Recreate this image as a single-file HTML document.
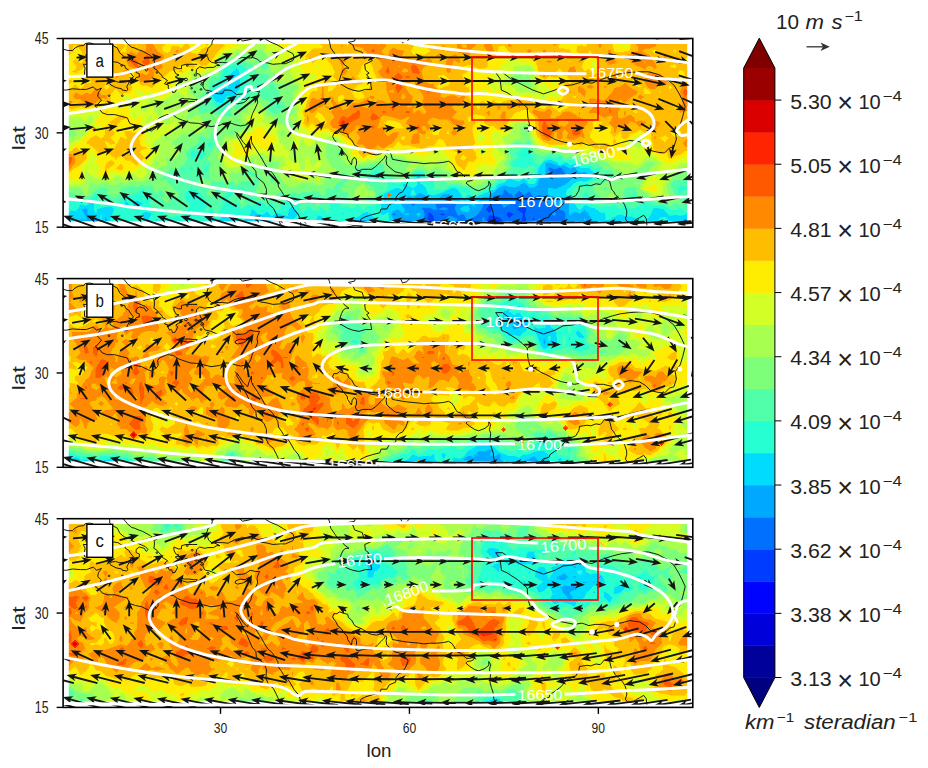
<!DOCTYPE html>
<html><head><meta charset="utf-8"><style>
html,body{margin:0;padding:0;background:#fff;}
body{width:928px;height:768px;overflow:hidden;}
svg text{font-family:"Liberation Sans", sans-serif;}
</style></head><body>
<svg width="928" height="768" viewBox="0 0 928 768" style="display:block">
<svg x="63.1" y="38.5" width="629.70" height="188.7" viewBox="63.1 38.5 629.70 188.7" overflow="hidden">
<g shape-rendering="crispEdges">
<clipPath id="dc0"><rect x="68.8" y="44.0" width="618.4" height="177.2"/></clipPath>
<g clip-path="url(#dc0)">
<rect x="68.8" y="44.0" width="618.4" height="177.2" fill="#ffbd00"/>
<path d="M494 224.5l2 0-2-4.5-2.5 4.5z" fill="#0004ff" stroke="#0004ff" stroke-width="0.6"/>
<path d="M428.5 220.5l3.5 4 6.5 0-4-5-1-3.5-2-2-3-2-1.5 7.5zM489 224.5l2.5 0 2.5-4.5 2 4.5 6.5 0-0.5-5-3-2.5-10-2.5-2.5 5 0 5zM509 224.5l1.5 0-1.5-4-3.5 4zM524 224.5l2.5-5-1.5-5.5 2-5-3-2-5 1-3 1 7 5-2 5.5 2.5 5zM534 220.5l1-1-1-2.5-2 2.5zM443.5 216l1.5-2-1.5-1-4.5 1zM509 218.5l4.5-4.5-4.5-2.5-3 2.5zM489 213.5l4-4.5-4-4-3 4zM549 210l1-1-1-0.5-1.5 0.5zM529 205l0.5-1 0.5-5-1-1-1 1 0.5 5zM519 200.5l2.5-1.5-2.5-2-1.5 2z" fill="#003cff" stroke="#003cff" stroke-width="0.6"/>
<path d="M86 224.5l2.5 0-2.5-2-3 2zM96 224.5l2 0-2-5-2.5 5zM418.5 224.5l13.5 0-5-5 1.5-7.5 3 2 2 2 1 3.5 4 5 2.5 0 2.5-4 5-4.5 5 1.5 3 2 0.5 5 29.5 0 0-5 2.5-5 10 2.5 3 2.5 0.5 5 3 0 3.5-4 1.5 4 13 0-2.5-5 2-5.5-7-5 3-1 5-1 3 2-2 5 1.5 5.5-2 5 39 0 2-5 0-5.5-1-2-5-3-5-8-5.5 4-1.5-1-1-5-2.5-3-5-1.5-5 2.5-5-6-5 3.5-5-4-4 3.5-1 4-2-4-3-1-5-4.5-1.5 5.5-3.5 1-5 0-2 4-3 3-5.5 1-2 6-3 3-0.5 2-8 5.5-1.5 1.5-1.5-1.5-3-5.5-3.5 0-2 1.5-3.5-6.5 1.5-5-8-6-5 2-5 3.5-3.5 0.5 2 5-3.5 0.5-5-2.5-5 0-2.5 2 2.5 1.5 1 3.5-1 4-5 3.5-2.5 3zM482.5 219.5l1-2.5 1 2.5-1 2.5zM532 219.5l2-2.5 1 2.5-1 1zM538.5 219.5l0.5-2 1 2-1 1zM439 214l4.5-1 1.5 1-1.5 2zM506 214l3-2.5 4.5 2.5-4.5 4.5zM552 214l2.5-3.5 1.5 3.5-1.5 2zM439 209l4.5-1.5 4 1.5-4 1zM486 209l3-4 4 4-4 4.5zM547.5 209l1.5-0.5 1 0.5-1 1zM501.5 204l2.5-3 5.5 3-5.5 3.5zM518 204l5 0-4 0.5zM528.5 204l-0.5-5 1-1 1 1-0.5 5-0.5 1zM517.5 199l1.5-2 2.5 2-2.5 1.5zM393 216l3.5-2-3.5-1-1 1zM413 206l3-2-3-4-3 4zM554.5 178l10-2 1.5-2.5-4-5-2.5-1.5-5 2-5.5-2.5-1 2 3 5z" fill="#0070ff" stroke="#0070ff" stroke-width="0.6"/>
<path d="M70.5 224.5l2 0-2-2.5-5 2 0 0.5zM80.5 224.5l2.5 0 3-2 2.5 2 5 0 2.5-5 2 5 3.5 0-5.5-8-5 0-3-2.5-0.5-5-1.5-1-4.5 1 5 10.5-6-0.5-1 5.5zM106 221l1.5-1.5-1.5-3-2 3zM227 224.5l2 0-2-4-3.5 4zM242 224.5l2 0-2-1-2.5 1zM252 224.5l6.5 0 0-5-1.5-1-6 6zM277 222.5l3-3-3-4-3.5 4zM353 224.5l16.5 0-1.5-4-5-1-5 0-5.5 5zM398 224.5l18 0 2.5-3 5-3.5 1-4-1-3.5-2.5-1.5 2.5-2 5 0 5 2.5 3.5-0.5-2-5 3.5-0.5 5-3.5 5-2 8 6-1.5 5 3.5 6.5 2-1.5 3.5 0 3 5.5 1.5 1.5 1.5-1.5 8-5.5 0.5-2 3-3 2-6 5.5-1 3-3 2-4 5 0 3.5-1 1.5-5.5 5 4.5 3 1 2 4 1-4 4-3.5 5 4 5-3.5 5 6 5-2.5 5 1.5 2.5 3 1 5 1.5 1 5.5-4 5 8 5 3 1 2 0 5.5-2 5 40 0-9-2-5-8-5-6-5 5.5-5-3-5 4-0.5-11-4.5-5.5-5-2.5-5 0.5-5.5-1.5-0.5-1-0.5-5.5 1-0.5 5.5 1.5 10-4.5 10-8 5.5 1.5 4.5-2 2.5-3-2.5-2-5 1-3-4-2-1.5-5 1.5 0 1-0.5-1-4.5-3.5-5 1-10.5-4-4 1 0.5 10.5-1.5 1.5-5 4-1.5 4.5-3.5 3.5-5 0-5-5-5 3.5-5 1.5-5-0.5-5-1.5-5 2.5-5 4.5-4.5 2-0.5 2.5-5.5 0-3.5 2.5-4 5-2.5 2-4-2-1-1.5-5-0.5-10-4-5-4.5-6 0.5-4 3.5-5 2-5-1-5-4-5-2-0.5 1.5-5 3.5-5-2.5-2 4-5.5 5 4 5-1.5 4.5-5-4.5-5 1.5-2.5 3.5 2.5 5 1 0.5 2.5 5zM584 219.5l0.5-1.5 1 1.5-1 0.5zM392 214l1-1 3.5 1-3.5 2zM404 214l4-0.5 1 0.5-1 1zM416.5 214l2-1.5 2 1.5-2 2.5zM460 209l3.5-2.5 5-1 1.5 3.5-1.5 2-5 0.5zM410 204l3-4 3 4-3 2zM558.5 204l1-3.5 3.5 3.5-3.5 1.5zM551 173.5l-3-5 1-2 5.5 2.5 5-2 2.5 1.5 4 5-1.5 2.5-10 2zM443.5 224l5-2.5 4 3 4.5 0-0.5-5-3-2-5-1.5-5 4.5-2.5 4 2 0zM483.5 222l1-2.5-1-2.5-1 2.5zM539 220.5l1-1-1-2-0.5 2zM609.5 224.5l13.5 0-3-2-5.5 1.5-5-1-4 1.5zM655 224.5l6.5 0-6.5-1.5-0.5 1.5zM680 224.5l10.5 0 0-2-5.5-3.5-5 2.5-2 3zM554.5 216l1.5-2-1.5-3.5-2.5 3.5zM443.5 210l4-1-4-1.5-4.5 1.5zM393 205l1-1-1-1-1 1zM504 207.5l5.5-3.5-5.5-3-2.5 3zM519 204.5l4-0.5-5 0zM458.5 196l0-2-1 0zM222 95.5l2.5-3.5-2.5-1.5-4 1.5zM237 87.5l0.5-0.5-0.5-5.5-2.5 5.5z" fill="#00a8ff" stroke="#00a8ff" stroke-width="0.6"/>
<path d="M70.5 222l2 2.5 2.5 0 0.5-3.5 1 3.5 3 0 1-5.5 6 0.5-5-10.5 4.5-1 1.5 1 0.5 5 3 2.5 5 0 5.5 8 15 0-5.5-4-0.5-1 4-10.5-3.5-3-10 1.5-4 1.5-1 3.5-2-3.5 0.5-5-3.5-2.5-2.5 2.5-2.5 1.5-6-1.5-2 5-2.5 2-5-1-2 4 2 5.5-5 1 0 3.5zM100.5 219.5l0.5-4.5 0 4.5zM104 219.5l2-3 1.5 3-1.5 1.5zM146 224l6-10-0.5-1-5.5-1.5-5 2.5 3.5 5.5zM156.5 221.5l1-2-1-1-1.5 1zM161.5 224.5l9 0-4-2-6.5 2zM206.5 224.5l3 0-3-1.5-0.5 1.5zM211.5 220l1.5 4.5 10.5 0 3.5-4 2 4 10.5 0 2.5-1 2 1 7 0 6-6 1.5 1 0 5 37 0-2.5-5 4.5-4.5 1.5-1-6.5-8-3.5 3-1.5 6.5-5.5-1-5-2-5 3.5-5-4.5-5 3-2-0.5-3-1-3.5-4-1.5 0-0.5 0-1.5 5-5.5 5.5-2.5 1.5-5-3-4 1.5-1 2.5-0.5-2.5-4.5-3-5 0.5-5.5 2.5-5-1 0 1zM273.5 219.5l3.5-4 3 4-3 3zM317.5 221.5l4.5 3 1 0 4-5-9.5-4.5-1.5 4.5zM347.5 221l1.5 3.5 3.5 0 5.5-5 5 0 5 1 1.5 4 2.5 0 3.5-5-7.5-8-5 1.5-5 3.5-5 2-5.5 0-1 1zM388 224.5l8.5 0-2.5-5-1-0.5-2.5-5 2.5-3.5 5-1.5 5 4.5 1.5-4.5-4-5 5.5-5 2-4 5 2.5 5-3.5 0.5-1.5 5 2 5 4 5 1 5-2 4-3.5 6-0.5 5 4.5 10 4 5 0.5 1 1.5 4 2 2.5-2 4-5 3.5-2.5 5.5 0 0.5-2.5 4.5-2 5-4.5 5-2.5 5 1.5 5 0.5 5-1.5 5-3.5 5 5 5 0 3.5-3.5 1.5-4.5 5-4 1.5-1.5-0.5-10.5 4-1 10.5 4 5-1 4.5 3.5 0.5 1 0-1 5-1.5 2 1.5 3 4 5-1 2.5 2-2.5 3-4.5 2-5.5-1.5-10 8-10 4.5-5.5-1.5-1 0.5 0.5 5.5 0.5 1 5.5 1.5 5-0.5 5 2.5 4.5 5.5 0.5 11 5-4 5 3 5-5.5 5 6 5 8 9 2 6-1.5 5 1 5.5-1.5 3 2 14 0-1-5-1-2-5-1.5-5 0-5-2-5.5 2-5 3.5-3.5 0-0.5-5.5-1-1.5-5-0.5-5-4-5-1-5-2.5-5 5-1-0.5-3.5-5-5.5-5.5-3.5-4.5 1.5-5.5 2 0 5-5.5 5-2 5 1 7-3.5 3-3 0.5-2-5.5-6-10 0-5-4-5 1.5-2-2-3-1-5 2.5-5-3.5-5.5-2-5 2-6 7.5-1.5 10-2.5 5-5 0-3.5-5-1.5-1-5 4-10-3.5-5 4.5-5 1-5 6-5 1.5-15.5 6.5-5-3-5 4-5-8.5-5-2.5-5 1-5 3-10 3.5-5-1-2-5.5-3-3.5-3-1.5 0.5-5-2.5-5.5-3 5.5 2 5-4.5 4.5-10-5-0.5 0.5 1.5 5-1 1.5-5-2.5-4 1-11 5.5 1 5-3 5-0.5 5 0.5 5 2 1.5 5-3 1 7-2.5 5zM392 204l1-1 1 1-1 1zM410.5 194l2.5-5 2.5 5-2.5 1.5zM457.5 194l1 0 0 2zM443.5 224.5l9 0-4-3-5.5 3zM584.5 220l1-0.5-1-1.5-0.5 1.5zM650 223.5l0.5 1 4 0 0.5-1.5 6.5 1.5 16.5 0 2-3 5-2.5 5.5 3.5 0-10.5-5.5 2.5-5 1-5-1-5 1-7-6.5-8-1.5-2.5 1.5-1.5 5-4.5 5.5zM659 219.5l1-1.5 5-1 2.5 2.5-2.5 1.5-5-1zM342.5 215l1-1-1-2-1 2zM408 215l1-1-1-0.5-4 0.5zM418.5 216.5l2-2.5-2-1.5-2 1.5zM136 209.5l6.5-5.5-1.5-2-5-2-3.5 4 0.5 5zM463.5 211.5l5-0.5 1.5-2-1.5-3.5-5 1-3.5 2.5zM70.5 206.5l1.5-2.5-2 0zM126 208.5l3.5-4.5-3.5-3.5-2.5 3.5zM559.5 205.5l3.5-1.5-3.5-3.5-1 3.5zM196.5 196l1.5-2-1.5-1.5-1.5 1.5zM216.5 102.5l5.5 1 2-1.5 3-6 5 1.5 2.5-0.5 6-10-1-15.5-2.5-3.5-10 8.5 1.5 5-0.5 5.5-1 1-5-2-5.5 3-5 1.5-0.5 1.5 0.5 2.5 5 7.5zM218 92l4-1.5 2.5 1.5-2.5 3.5zM234.5 87l2.5-5.5 0.5 5.5-0.5 0.5zM242 98l1-1-1-2-3.5 2z" fill="#00dcfe" stroke="#00dcfe" stroke-width="0.6"/>
<path d="M70.5 219.5l-2-5.5 2-4 5 1 2.5-2 2-5 6 1.5 2.5-1.5 2.5-2.5 3.5 2.5-0.5 5 2 3.5 1-3.5 4-1.5 10-1.5 3.5 3-4 10.5 0.5 1 5.5 4 8.5 0 1-0.5 0.5 0.5 9.5 0 0-1 0.5 1 23.5 0 6.5-2 4 2 21 0 5-2.5 5 1.5 0.5 1 4 0 0.5-1.5 3 1.5 3.5 0-1.5-6 5 1 5.5-2.5 5-0.5 4.5 3 0.5 2.5 1-2.5 4-1.5 5 3 2.5-1.5 5.5-5.5 1.5-5 0.5 0 1.5 0 3.5 4 3 1 2 0.5 5-3 5 4.5 5-3.5 5 2 5.5 1 1.5-6.5 3.5-3 6.5 8-1.5 1-4.5 4.5 2.5 5 26.5 0-4.5-3-1.5-2 1.5-4.5 9.5 4.5-4 5 13.5 0 1-2 1.5 2 10 0-2.5-5 1-1 5.5 0 5-2 5-3.5 5-1.5 7.5 8-3.5 5 14.5 0 2.5-5-1-7-5 3-2-1.5-0.5-5 0.5-5 3-5-1-5 11-5.5 4-1 5 2.5 1-1.5-1.5-5 0.5-0.5 10 5 4.5-4.5-2-5 3-5.5 2.5 5.5-0.5 5 3 1.5 3 3.5 2 5.5 5 1 10-3.5 5-3 5-1 5 2.5 5 8.5 5-4 5 3 15.5-6.5 5-1.5 5-6 5-1 5-4.5 10 3.5 5-4 1.5 1 3.5 5 5 0 2.5-5 1.5-10 6-7.5 5-2 5.5 2 5 3.5 5-2.5 3 1 2 2 5-1.5 5 4 10 0 5.5 6-0.5 2-3 3-7 3.5-5-1-5 2-5 5.5-2 0-1.5 5.5 13.5 15.5 5-5 5 2.5 5 1 5 4 5 0.5 1 1.5 0.5 5.5 3.5 0 5-3.5 5.5-2 5 2 5 0 5 1.5 1 2 1 5 13.5 0-4-5 4.5-5.5 1.5-5 2.5-1.5 8 1.5 7 6.5 5-1 5 1 5-1 5.5-2.5 0-4-5.5 3-5-3.5-5 2.5-5-1-5-3.5-15-1.5-5-2.5-10 6.5-5 0-5-4-5 5-5.5-5-5 2.5-5-1-5 1.5-7-3-1-5-3-5-4-2.5-5 11-2-3.5-3-1.5-3.5-3.5 2.5-5.5 6-4.5 5 3 5 2-1-5.5 9.5-5 0.5-5 3-5-2-2-5 2-5-3.5-5 0.5-5-0.5-5-4.5-5-1-5 1-5-4.5-5 2-5.5-2-5 3-5 6-3.5-2-6.5-14.5-5-1.5-8.5 6 3 5-4.5 1.5-3 3.5 3 4.5 5-0.5 5 2.5 5-3.5 5 0 0.5 2.5-0.5 6.5-0.5-1.5-4.5-2-1 2-4 2-5-0.5-5-3.5-2 2-3 1-2.5 4-2.5 2-5-1-5 7.5-5-1.5-1.5 3-14 6.5-1.5-1-2.5-5.5-16-3-5 0.5-5 3.5-10-0.5-0.5-5.5 2-5-1.5-1-5 1-5-6-5-1.5-5.5 2.5-1.5 5-3.5 3-5 0-5 2.5-5-2.5-5 0-1 2 0.5 5-8 5.5-3.5 5-0.5 5-2.5 1.5-5 0-4 3.5-2 0-4-5-5 4.5-5.5-2-5-0.5-3-2 3-3.5 1-1.5-1-1-5-0.5-5 2-5-1-0.5 0.5 3 5-0.5 5-2 4-5-7.5-5 5-5-0.5-5-4.5-5 7-3.5-3.5 1.5-5-0.5-5-2.5-0.5-5-2.5-3.5 3-8.5 5-0.5 5-3 1-4-1 0.5-5-1.5-1-5 4-2-3-3-2-5-0.5-1.5 2.5-3.5 2-5-2-5 5-4.5-5-0.5-1.5-5 0-4.5-3.5 4.5-5 5 0.5 0-0.5-5-9.5-1.5 4-8.5 10-1.5 0.5 4 5-2.5 0.5-4.5 9.5-1 1-1-1-4-7-5 5-2-3 5-5-5-5-3.5-5-4.5-4-3.5-1.5-1.5-5-1.5 5-6 5.5 0.5 5 2 2.5 3.5 2.5-3.5 6.5-5 5-5 0-5 1-5-0.5-5-6-2.5-1-2.5-2.5-5 0-2-2.5 2-5 0-6-5.5 5-2.5-4 1-5.5-3.5 0-5.5 5.5-4.5 1.5-5-1.5-5 3-5 7.5-5-5.5-5-1.5-1.5 1.5-1 5-2.5 1-2-1-1.5-10-1.5-1-5 4.5-3.5 1.5-1.5 1.5-5.5-2.5-5 3-5 1-5-1.5 0 5 3 3.5-3 3.5 0 8zM120.5 219.5l0.5-2 0.5 2-0.5 0.5zM144.5 219.5l-3.5-5.5 5-2.5 5.5 1.5 0.5 1-6 10zM155 219.5l1.5-1 1 1-1 2zM296 219.5l1.5-1.5 2 1.5-2 1.5zM156 214l0.5-2 0.5 2-0.5 0.5zM341.5 214l1-2 1 2-1 1zM133 209l-0.5-5 3.5-4 5 2 1.5 2-6.5 5.5zM70 204l2 0-1.5 2.5zM123.5 204l2.5-3.5 3.5 3.5-3.5 4.5zM195 194l1.5-1.5 1.5 1.5-1.5 2zM462.5 194l1-2 2 2-2 1.5zM75.5 224.5l1 0-1-3.5-0.5 3.5zM101 219.5l0-4.5-0.5 4.5zM660 220l5 1 2.5-1.5-2.5-2.5-5 1-1 1.5zM252 200.5l2.5-1.5-2.5-2.5-2.5 2.5zM635 202l1-3-0.5-5-0.5-1.5-1 1.5-0.5 5zM413 195.5l2.5-1.5-2.5-5-2.5 5zM680 195l5-5.5 5.5 2 0-6-5.5 1-5-2-2.5 4 1.5 5.5zM242 190l2-1.5-2-1.5-2.5 1.5zM181.5 186l1.5-2.5-1.5-1-0.5 1zM368 180l5 0 1.5-1.5 3.5-1 3.5-4-3.5-4-5 0-2 4-4.5 5zM186.5 175l1-1.5-1-2-0.5 2zM181.5 170l3-1.5-3-1-1 1zM191.5 171l2-2.5-2-2.5-3.5 2.5zM206.5 172l1-3.5-1-4.5-1.5 4.5zM191.5 160l5-5 5 4.5 5-6.5-10-2.5-5-0.5-1.5 3 0 5zM211.5 148l1-5-1-1-5.5 1 5 5zM529 146.5l0.5-3.5-0.5-1-1 1zM222 113l5-1 0.5-5 2-5 2.5-1 5 2 5-2 4.5-4 3.5-5 1-5-2.5-5.5 0-5 2-5-8.5-7-5-0.5-5 0.5-4.5 2-5.5 4-0.5 6-5 7-5 0-5 13.5 5 3 1.5 2 2 5 1.5 2 5.5-2.5 2.5 0.5-2.5 2-2 3zM216.5 102l-5-7.5-0.5-2.5 0.5-1.5 5-1.5 5.5-3 5 2 1-1 0.5-5.5-1.5-5 10-8.5 2.5 3.5 1 15.5-6 10-2.5 0.5-5-1.5-3 6-2 1.5-5.5-1zM238.5 97l3.5-2 1 2-1 1zM277 108.5l5-1.5-5-1-1 1zM267 97.5l1.5-0.5-1.5-1-1 1zM257 89l5-0.5 2-1.5-2-3.5-5 0.5-2.5 3z" fill="#26ffd1" stroke="#26ffd1" stroke-width="0.6"/>
<path d="M121 220l0.5-0.5-0.5-2-0.5 2zM191.5 224.5l10.5 0-0.5-1-5-1.5-5 2.5zM297.5 221l2-1.5-2-1.5-1.5 1.5zM337.5 224.5l1.5 0-1.5-2-1 2zM156.5 214.5l0.5-0.5-0.5-2-0.5 2zM166.5 216l5 0.5 5-1 5 0 5-5 3.5-6.5-3.5-2.5-2-2.5-0.5-5 6-5.5 1.5-5 1.5 5 3.5 1.5 4.5 4 3.5 5 5 5-5 5 2 3 5-5 4 7 1 1 1-1 4.5-9.5 2.5-0.5-4-5 1.5-0.5 8.5-10 1.5-4 5 9.5 0 0.5-5-0.5-4.5 5 4.5 3.5 5 0 0.5 1.5 4.5 5 5-5 5 2 3.5-2 1.5-2.5 5 0.5 3 2 2 3 5-4 1.5 1-0.5 5 4 1 3-1 0.5-5 8.5-5 3.5-3 5 2.5 2.5 0.5 0.5 5-1.5 5 3.5 3.5 5-7 5 4.5 5 0.5 5-5 5 7.5 2-4 0.5-5-3-5 0.5-0.5 5 1 5-2 5 0.5 1 1-1 1.5-3 3.5 3 2 5 0.5 5.5 2 5-4.5 4 5 2 0 4-3.5 5 0 2.5-1.5 0.5-5 3.5-5 8-5.5-0.5-5 1-2 5 0 5 2.5 5-2.5 5 0 3.5-3 1.5-5 5.5-2.5 5 1.5 5 6 5-1 1.5 1-2 5 0.5 5.5 10 0.5 5-3.5 5-0.5 16 3 2.5 5.5 1.5 1 14-6.5 1.5-3 5 1.5 5-7.5 5 1 2.5-2 2.5-4 3-1 2-2 5 3.5 5 0.5 4-2 1-2 4.5 2 0.5 1.5 0.5-6.5-0.5-2.5-5 0-5 3.5-5-2.5-5 0.5-3-4.5 3-3.5 4.5-1.5-3-5 8.5-6 5 1.5 6.5 14.5 3.5 2 5-6 5-3 5.5 2 5-2 5 4.5 5-1 5 1 5 4.5 5 0.5 5-0.5 5 3.5 5-2 2 2-3 5-0.5 5-9.5 5 1 5.5-5-2-5-3-6 4.5-2.5 5.5 3.5 3.5 3 1.5 2 3.5 5-11 4 2.5 3 5 1 5 7 3 5-1.5 5 1 5-2.5 5.5 5 5-5 5 4 5 0 10-6.5 5 2.5 15 1.5 5 3.5 5 1 5-2.5 5 3.5 5.5-3 0-8-1.5-1 1.5-1 0-6.5-5.5-2-5 5.5-1-1-1.5-5.5 2.5-4 5 2 5.5-1 0-4-5.5-2.5-5 0.5-5 0-5 4 4.5 10.5 5 5 1.5 5-1 0.5-5-2.5-5 4-5-3.5-10-0.5-5-1.5-4-1.5-1-2.5-5 2.5-3.5-10.5-1.5-1.5-5-0.5-5 1.5-1 0.5 0 5.5-4 10-5.5-3.5-5 2-5-1-8-7.5-3-5.5 1-5 5 2 5-4 5-0.5 2.5-2.5 2-5-4.5-4-5 0.5-5-6.5-10-1.5-6 1-4-1.5-3-3.5-7-2-5 2.5-5-5-5 0.5-5.5-1-5 2.5-5 0.5-5-5-1.5-3-1-5-2.5-3.5-5 4-5-2-5 1-0.5 0.5 1.5 5-1 0.5-5-1 0 2.5 2 8-3 5 2.5 5.5-6.5 5 0 5-5-2-5 2 0 5-5-2.5-3 2.5-2.5 5-5 1.5-10-4-5-0.5-5-2.5-10 0-5-2-10-9.5-5 3-5-4.5-5-1-5.5 2-2.5 2.5-2.5 3.5-2 1.5-3 1-4-1-11-3.5-1.5-1.5-2-5-1.5-5.5-15 4-10 0-2.5 1.5-0.5 10 3 3.5 5-3.5 5 6 5.5 4 3 5.5-3.5 4.5-5 0.5-5 4-10-3.5-5.5 2-1-2.5 2.5-5-1.5-3-5 0-1-2.5 2-5 7.5-5-3.5-4.5-5-1.5-1 1 1 4 0 2-5 2.5-5 7.5-5-2-2 1 0 5.5-3 2-5-5-5-1-5 2-5-0.5-5 2-5-2-5 4-3.5-1.5-2-4-7.5 4 2.5 2 5-0.5 2 3.5-7 2.5-5.5-2.5-4.5-4-3.5 4-1.5 0.5-1.5-0.5-4-5 0.5-7.5 3.5-8-4.5-5-4-2-10 1-1.5 1 1.5 2.5 5-1.5 5 2 3 2-3 2-10 0.5-5 3.5-5-3.5-4.5 2.5-0.5 3-1-3-4-2.5-5.5 1-5-2.5-1.5 4-3.5 2.5-5 0.5-5-2.5 0-1 5-5.5 5 2 3.5-1 0-10 1.5-4.5 2.5-1-2.5-0.5-5.5-4.5 5.5-5.5 3.5-4.5 1.5-6.5 3-4-3-1.5-5-4.5-1 1-0.5 5-3.5 1.5-5-3.5-2.5 2-1.5 5.5-6 3-6.5 7 2 5-2.5 5-7 5.5-1 1.5-3.5-1.5-1.5-2-6 7-5.5 5 1.5 2 5-0.5 1.5 3.5 11 10.5-2.5 4-5-7-5 3 2.5 5-2.5 4-4-4 2.5-5-3.5-4.5-5 4.5-2.5-5.5-2.5-2.5-10.5-1.5-5 3-5-2.5-8.5 3.5-6.5 8.5-5-1-4-2 2-5.5-8-1.5-5 3-5 5-5 2-5.5-2-5-0.5-5-2.5-5 0 0 8.5 5 1.5 5-1 5-3 5.5 2.5 1.5-1.5 3.5-1.5 5-4.5 1.5 1 1.5 10 2 1 2.5-1 1-5 1.5-1.5 5 1.5 5 5.5 5-7.5 5-3 5 1.5 5-2 5-5 3.5 0-1 5.5 2.5 4 5.5-5 0 6-2 5 2 2.5 5 0 2.5 2.5 2.5 1 3 4zM171 209l0.5-2 0.5 2-0.5 1zM240.5 204l0.5-5 1-3 1 3 0.5 5-1.5 1.5zM315.5 204l1-5 1-1 1.5 1 1 5-2.5 2.5zM68.5 199l2-3.5 3 3.5-3 1zM249.5 199l2.5-2.5 2.5 2.5-2.5 1.5zM627.5 199l2.5-3 1 3-1 1.5zM633.5 199l0.5-5 1-1.5 0.5 1.5 0.5 5-1 3zM206.5 194l5-7 3.5 7-3.5 2zM219.5 194l2.5-1.5 0.5 1.5-0.5 1zM336.5 194l1-1.5 2.5 1.5-2.5 0.5zM239.5 188.5l2.5-1.5 2 1.5-2 1.5zM174.5 183.5l2-5 1 5-1 2zM181 183.5l0.5-1 1.5 1-1.5 2.5zM366.5 178.5l4.5-5 2-4 5 0 3.5 4-3.5 4-3.5 1-1.5 1.5-5 0zM186 173.5l0.5-2 1 2-1 1.5zM367 173.5l1-2 0 2.5zM180.5 168.5l1-1 3 1-3 1.5zM188 168.5l3.5-2.5 2 2.5-2 2.5zM205 168.5l1.5-4.5 1 4.5-1 3.5zM201 163l0.5-0.5 1 0.5-1 2zM190 158l0-5 1.5-3 5 0.5 10 2.5-5 6.5-5-4.5-5 5zM211 148l-5-5 5.5-1 1 1-1 5zM528 143l1-1 0.5 1-0.5 3.5zM68.5 209l-3-3.5 0 7zM463.5 195.5l2-1.5-2-2-1 2zM604.5 190.5l3-2-3-1.5-1 1.5zM272 184l1.5-5.5-1.5-1-3 1 3 5zM620 184.5l1-1-1-1.5-1.5 1.5zM267 175l0.5-1.5-0.5-1.5-1 1.5zM337.5 154.5l2-1.5-2-1.5-1 1.5zM186.5 139l1-1.5-1 0-2.5 0zM232 134.5l2.5-2-2.5-3-3 3zM216.5 125l3.5-2.5-3.5-2-2.5 2zM232 117.5l-0.5-10.5 0.5-0.5 5 3 5-3.5 2-4 3-2.5 5-0.5 5-1.5 10 2.5 2.5 2-3.5 5 1 2.5 5 3.5 5 1.5 5-3 4.5-4.5-3-5-1.5-0.5-3.5-4.5 1.5-5-7.5-10.5-0.5-1-5 6.5 0 0.5-1-6 1-3 3-2-3-2.5-5-0.5-5-1.5-0.5-0.5-1.5-5-3-2.5-9-2.5 4-2 1-3.5-1-0.5-3 0.5-2 4.5-5-1.5-5 3-5-2-5 1.5 0.5 5-3 5-3 4.5-5 0.5-3.5 5 0 5.5-1.5 2.5-7.5 7.5 2.5 4 2 1-5.5 5 1 5 2.5 2.5 5-4 4 1.5 1 2 20.5 3.5zM220 112l2-3 2.5-2-2.5-0.5-5.5 2.5-1.5-2-2-5-1.5-2-5-3 5-13.5 5 0 5-7 0.5-6 5.5-4 4.5-2 5-0.5 5 0.5 8.5 7-2 5 0 5 2.5 5.5-1 5-3.5 5-4.5 4-5 2-5-2-2.5 1-2 5-0.5 5-5 1zM276 107l1-1 5 1-5 1.5zM266 97l1-1 1.5 1-1.5 0.5zM254.5 87l2.5-3 5-0.5 2 3.5-2 1.5-5 0.5zM519 83l5-1.5-5-3-1.5 3zM262 69l5 0.5 1-3-1-3-5 0.5-1.5 2.5zM257 63l2-1.5-2-2.5-1.5 2.5z" fill="#50ffa7" stroke="#50ffa7" stroke-width="0.6"/>
<path d="M171.5 210l0.5-1-0.5-2-0.5 2zM242 205.5l1.5-1.5-0.5-5-1-3-1 3-0.5 5zM317.5 206.5l2.5-2.5-1-5-1.5-1-1 1-1 5zM670 206l5-4 5 2.5 1-0.5-1.5-5-5-5-4.5-10.5 5-4 5 0 5-0.5 5.5 2.5 0-14-5.5-1-10 5.5-1.5 1.5-2 5-5 5 2 10.5 1.5 4.5 5.5 0.5-10.5 0.5-5-1-5 1-5-2.5-2.5-3-7.5-5.5 0-5 2.5-5 2.5-3 2-2 3-4.5 6.5-6-6.5-2-5 1.5-5 5-5 2.5-5.5 3.5-4.5 4.5-2-4.5-3-4.5-5.5-0.5-6-5.5-4-2-10-1.5-5-2.5-5 3-5-3.5-5-1.5-5-2-5 0.5-10-4.5-5.5 2-5 1-5-2.5-5-4.5-5.5-12.5 0.5-5-5-3.5-4 3.5 0 5 1 5-7 2.5-3.5 3-4 5-0.5 5 1.5 5-5 5 4.5 5.5-3 2.5-16.5 7.5-4 3-10 4.5-5-2-5-0.5-5-3-8.5-2 0.5-5-2-1.5-5-0.5-5-5-5 0-5 4-3-2-2-4-5 0-4 4-6.5 4-2.5-4 2.5-2 2.5-3.5-7.5-5-5 0-5-2-5-0.5-0.5 2.5-4.5 2.5-5 0-5 2-5-0.5-5 2.5-5-0.5-5 2.5-5.5-2-7.5-6.5 2.5-1 3.5-4-6-5-2.5-6-5-2-4 3-3.5 5 0 5 1 5 1.5 1.5 5 8.5 3.5 0.5-0.5 5-3 3.5-5-7.5-3 4 0.5 5-2 5-0.5 0.5-5 1-4-1.5-1-1-10-0.5-10 4.5-5-0.5-3-2.5-2.5-5-4-5 0-5 2-5.5-8-3-5 1.5-3.5 1.5 0.5 5.5-2 1.5-5-4.5-4-2.5 0-5-1 0-1.5 5-3.5 2-10 8-5-1.5-3 2 1 5-3 1.5-3-1.5-2-5-0.5-10.5-3.5-5 1-5 3-5-0.5-5 5.5-8.5 5 2 7-4 3-3 5-0.5 1.5-1.5-1.5-2-4.5-3-1-5 0.5-5.5 5 1.5 1-1.5 0.5-5 8.5-4.5 5 2 5 11.5 6.5 1.5 0 5 3.5 2 5-0.5 4.5 3.5 1 1.5 5 0 2-1.5-1.5-5-4-5 7-5.5-3-5 0-15 4.5-3.5 1-1.5-1-2-20.5-1.5-1-2 2-5-1-1.5-5.5-3.5-3.5-15.5-1 0-5-8-5 1.5-2.5 1.5-2 5-0.5 5.5 0-5.5-5-2.5-5 0-5-1.5-3 4-2 1-10-2-1 1-1.5 5.5 0 5-1.5 5-1.5 2-5 0.5-5 5-10-2.5-6.5 5 0 10.5 4.5 5 2.5 5-5.5 2.5-2.5 2.5 1 5-3.5 3-1 2.5 1 2 5-1.5 5-3.5 5 4.5 5 8.5-5 4.5-5 1.5-5-5-2.5 4-2.5 2-5-1-5 5-5 2-1 2.5 6 4.5 3.5 5.5-3.5 3.5-5 2.5-5-2-1.5 1 2.5 5-1 2-5 1.5-10 6.5 0 5.5-10.5 3-10-0.5-5 3-5-2.5-5 3-5 0.5-5-3-10 2.5-5-2.5-3 1.5 0.5 5-2 5.5-0.5 0-1 0-2.5-5.5-7-2-5 1-5-0.5 0 5 5 0 5 2.5 5 0.5 5.5 2 5-2 5-5 5-3 8 1.5-2 5.5 4 2 5 1 6.5-8.5 8.5-3.5 5 2.5 5-3 10.5 1.5 2.5 2.5 2.5 5.5 5-4.5 3.5 4.5-2.5 5 4 4 2.5-4-2.5-5 5-3 5 7 2.5-4-11-10.5-1.5-3.5-5 0.5-1.5-2 5.5-5 6-7 1.5 2 3.5 1.5 1-1.5 7-5.5 2.5-5-2-5 6.5-7 6-3 1.5-5.5 2.5-2 5 3.5 3.5-1.5 0.5-5 1-1 5 4.5 3 1.5-3 4-1.5 6.5-3.5 4.5-5.5 5.5 5.5 4.5 2.5 0.5-2.5 1-1.5 4.5 0 10-3.5 1-5-2-5 5.5 0 1 5 2.5 5-0.5 3.5-2.5 1.5-4 5 2.5 5.5-1 4 2.5 1 3 0.5-3 4.5-2.5 5 3.5 5-3.5 10-0.5 3-2-3-2-5-2-5 1.5-1.5-2.5 1.5-1 10-1 4 2 4.5 5-3.5 8-0.5 7.5 4 5 1.5 0.5 5-4.5 4.5 4 5.5 2.5 5-1.5 2-1-2-3.5-5 0.5-2.5-2 7.5-4 2 4 3.5 1.5 5-4 5 2 5-2 5 0.5 5-2 5 1 5 5 3-2 0-5.5 2-1 5 2 5-7.5 5-2.5 0-2-1-4 1-1 5 1.5 3.5 4.5-7.5 5-2 5 1 2.5 5 0 1.5 3-2.5 5 1 2.5 5.5-2 10 3.5 5-4 5-0.5 3.5-4.5-3-5.5-5.5-4-5-6-5 3.5-3-3.5 0.5-10 2.5-1.5 10 0 15-4 1.5 5.5 2 5 1.5 1.5 11 3.5 4 1 3-1 2-1.5 2.5-3.5 2.5-2.5 5.5-2 5 1 5 4.5 5-3 10 9.5 5 2 10 0 5 2.5 5 0.5 10 4 5-1.5 2.5-5 3-2.5 5 2.5 0-5 5-2 5 2 0-5 6.5-5-2.5-5.5 3-5-2.5-10 0.5-0.5 5 1 1-0.5-1.5-5 0.5-0.5 5-1 5 2 5-4 2.5 3.5 1 5 1.5 3 5 5 5-0.5 5-2.5 5.5 1 5-0.5 5 5 5-2.5 7 2 3 3.5 4 1.5 6-1 10 1.5 5 6.5 5-0.5 4.5 4-2 5-2.5 2.5-5 0.5-5 4-5-2-1 5 3 5.5 8 7.5 5 1 5-2 5.5 3.5 4-10 0-5.5 1-0.5 5-1.5 5 0.5 1.5 1.5 3.5 10.5 5-2.5 1 2.5 4 1.5 5 1.5 10 0.5 2.5 1.5zM359.5 199l-1.5-0.5-4-4.5 2-5.5 2-0.5 5-5 2.5 5.5 2.5 2.5 5 0.5 1.5 2.5-1.5 2-5-1-5 4.5zM606.5 199l3-5 5 0-2.5 5-2.5 1zM276 188.5l1-2 1.5 2-1.5 1zM603.5 188.5l1-1.5 3 1.5-3 2zM272 183.5l-3-5 3-1 1.5 1-1.5 5.5zM618.5 183.5l1.5-1.5 1 1.5-1 1zM632.5 183.5l2.5-0.5 5 0.5-5 0.5zM266 173.5l1-1.5 0.5 1.5-0.5 1.5zM387.5 163l0.5-2.5 1 2.5-1 3zM336.5 153l1-1.5 2 1.5-2 1.5zM184 137.5l2.5 0 1 0-1 1.5zM229 132.5l3-3 2.5 3-2.5 2zM214 122.5l2.5-2 3.5 2-3.5 2.5zM232 117.5l-20.5-3.5-1-2-4-1.5-5 4-2.5-2.5-1-5 5.5-5-2-1-2.5-4 7.5-7.5 1.5-2.5 0-5.5 3.5-5 5-0.5 3-4.5 3-5-0.5-5 5-1.5 5 2 5-3 5 1.5 2-4.5 3-0.5 1 0.5-1 3.5-4 2 9 2.5 3 2.5 1.5 5 0.5 0.5 5 1.5 5 0.5 3 2.5-3 2-1 3 1 6 0-0.5 5-6.5 0.5 1 7.5 10.5-1.5 5 3.5 4.5 1.5 0.5 3 5-4.5 4.5-5 3-5-1.5-5-3.5-1-2.5 3.5-5-2.5-2-10-2.5-5 1.5-5 0.5-3 2.5-2 4-5 3.5-5-3-0.5 0.5 0.5 10.5zM260.5 66.5l1.5-2.5 5-0.5 1 3-1 3-5-0.5zM255.5 61.5l1.5-2.5 2 2.5-2 1.5zM70.5 200l3-1-3-3.5-2 3.5zM630 200.5l1-1.5-1-3-2.5 3zM690.5 200l0-2-1.5 1zM211.5 196l3.5-2-3.5-7-5 7zM222 195l0.5-1-0.5-1.5-2.5 1.5zM337.5 194.5l2.5-0.5-2.5-1.5-1 1.5zM176.5 185.5l1-2-1-5-2 5zM116 182l2-3.5-2-1-1 1zM368 174l0-2.5-1 2zM156.5 166l2-3-2-2-1.5 2zM201.5 165l1-2-1-0.5-0.5 0.5zM262 162l2.5-4-2.5-1.5-3 1.5zM70.5 137.5l5-1.5 1.5-3.5-6.5-7-5 2.5 0 10zM166.5 140l3.5-2.5-3.5-1-2 1zM282 137.5l4-5-4-2.5-2 2.5zM514 133.5l3-1-3-1.5-1 1.5zM166.5 105l1.5-3-1.5-1-2.5 1zM529 89l3-2-3-13-5-3.5-5 3.5-5 0.5-3.5 2 3.5 5 5 3.5 5-0.5 3 2.5zM517.5 81.5l1.5-3 5 3-5 1.5zM523 76.5l1-2.5 2 2.5-2 0.5zM282 68.5l2.5-2-2.5-1.5-2.5 1.5z" fill="#7dff7a" stroke="#7dff7a" stroke-width="0.6"/>
<path d="M363 199.5l5-4.5 5 1 1.5-2-1.5-2.5-5-0.5-2.5-2.5-2.5-5.5-5 5-2 0.5-2 5.5 4 4.5 1.5 0.5zM609.5 200l2.5-1 2.5-5-5 0-3 5zM655 199.5l5-1 5 1 10.5-0.5-5.5-0.5-1.5-4.5-2-10.5 5-5 2-5 11.5-7 5.5 1 0-3-5.5-1.5-5 1-5 4.5-5 3-5-1-5-0.5-2-1.5 4.5-5.5-12.5-7-5 2-5 5.5-5 2.5-5-3.5-5-0.5-5 0.5-5.5-1-12-3.5-3-2-10-3-5 3-15-5-5-4.5-5 1.5-5-1-5.5 2.5-5 0-8-6.5-5-10.5 0-5-7-6.5-5 1.5-5 0-2 5-3 6.5-5 1.5-2 2 2.5 5.5-0.5 6.5-1-1.5-4-3.5-2 3.5 2 3.5 5 4 0.5 2.5-5.5 5-6.5 10.5-14 6-5-1.5-15-0.5-5-4.5-7-4.5 2.5-5.5-5.5-4-5 1-5 2-5 0-5-1.5-15.5-1.5-5-4-5 0.5-5-1.5-5-3-3 2-2 4.5-5-0.5-1 1-4 2.5-5-1.5-5 3.5-11.5-4.5-4-8-10-12.5-10-1.5-5 4.5-5-3-1 0-4 7-5 1.5-3-3-1-5.5-1 0-4 5.5 0 5-1 1-5 1-2.5-2 2.5-4 2.5-1-1-5.5-3.5-5 2-1 5 3 1-2 0.5-5-2.5-10 1-0.5 2-10-2-1-2.5-4 1-5 5-10-3.5-6.5-6-4 0-5-1.5-5 4-5-1.5-3-5 3.5-15.5 1-0.5-1.5 4-5.5-2.5-5-1-3-1.5 3-3.5 1-0.5-1-0.5-5 1-5-10.5 0-1.5 5-8 5.5-10-3-5 4-5-0.5-5 1.5-3 2.5-2 5.5-0.5 8-4 2-6 0-5 3-5-0.5-5-3-1.5 0.5 2 5-5.5 4.5-3.5-4.5-2 0-5 5 5.5 8.5 4.5-3 0.5-3.5 0.5 13.5-0.5 3-0.5-3-9.5-6-5 4-1.5 2-12.5 5-1 1.5-5-6.5-1 0-4.5 7.5-5 0.5-1 2 1 3 5 3 2.5-6 3-1.5 2 1.5 0.5 5 6.5 5.5 2.5 5 3.5 3 5-3 5-2 2 2-2 1.5-5 7-2 1.5-8 2.5-2 2.5-3 1.5-3 4-1.5 5 7.5 5-5 5-3 6-6 4.5 1.5 5-6 5.5-10-6-5 5.5-10-4-5 6.5-5-3-10 0-5-3-5-4.5-1.5 3 0.5 5-4.5 6-15-0.5 0 3 5 0.5 5-1 7 2 2.5 5.5 1 0 0.5 0 2-5.5-0.5-5 3-1.5 5 2.5 10-2.5 5 3 5-0.5 5-3 5 2.5 5-3 10 0.5 10.5-3 0-5.5 10-6.5 5-1.5 1-2-2.5-5 1.5-1 5 2 5-2.5 3.5-3.5-3.5-5.5-6-4.5 1-2.5 5-2 5-5 5 1 2.5-2 2.5-4 5 5 5-1.5 5-4.5-5-8.5-5-4.5-5 3.5-5 1.5-1-2 1-2.5 3.5-3-1-5 2.5-2.5 5.5-2.5-2.5-5-4.5-5 0-10.5 6.5-5 10 2.5 5-5 5-0.5 1.5-2 1.5-5 0-5 1.5-5.5 1-1 10 2 2-1 3-4 5 1.5 5 0 5 2.5 0 5.5 0.5-5.5 2-5 2.5-1.5 5-1.5 5 8 1 0 3.5 15.5 5.5 3.5 1 1.5-2 5 1 2 20.5 1.5 1 2-1 1.5-4.5 3.5 0 15 3 5-7 5.5 4 5 1.5 5-2 1.5-5 0-1-1.5-4.5-3.5-5 0.5-3.5-2 0-5-6.5-1.5-5-11.5-5-2-8.5 4.5-0.5 5-1 1.5-5-1.5-0.5 5.5 1 5 4.5 3 1.5 2-1.5 1.5-5 0.5-3 3-7 4-5-2-5.5 8.5 0.5 5-3 5-1 5 3.5 5 0.5 10.5 2 5 3 1.5 3-1.5-1-5 3-2 5 1.5 10-8 3.5-2 1.5-5 1 0 0 5 4 2.5 5 4.5 2-1.5-0.5-5.5 3.5-1.5 5-1.5 8 3-2 5.5 0 5 4 5 2.5 5 3 2.5 5 0.5 10-4.5 10 0.5 1 1 4 1.5 5-1 0.5-0.5 2-5-0.5-5 3-4 5 7.5 3-3.5 0.5-5-3.5-0.5-5-8.5-1.5-1.5-1-5 0-5 3.5-5 4-3 5 2 2.5 6 6 5-3.5 4-2.5 1 7.5 6.5 5.5 2 5-2.5 5 0.5 5-2.5 5 0.5 5-2 5 0 4.5-2.5 0.5-2.5 5 0.5 5 2 5 0 7.5 5-2.5 3.5-2.5 2 2.5 4 6.5-4 4-4 5 0 2 4 3 2 5-4 5 0 5 5 5 0.5 2 1.5-0.5 5 8.5 2 5 3 5 0.5 5 2 10-4.5 4-3 16.5-7.5 3-2.5-4.5-5.5 5-5-1.5-5 0.5-5 4-5 3.5-3 7-2.5-1-5 0-5 4-3.5 5 3.5-0.5 5 5.5 12.5 5 4.5 5 2.5 5-1 5.5-2 10 4.5 5-0.5 5 2 5 1.5 5 3.5 5-3 5 2.5 10 1.5 4 2 6 5.5 5.5 0.5 3 4.5 2 4.5 4.5-4.5 5.5-3.5 5-2.5 5-5 5-1.5 6.5 2-6.5 6-3 4.5-2 2-2.5 3-2.5 5 0 5 7.5 5.5 2.5 3 3.5 2zM652 194l-9.5-5.5 2.5-7.5 5-4 5-2.5 5 2.5 5 0 2 1.5-4 5-1 10.5-2 1-5 0.5zM115 178.5l1-1 2 1-2 3.5zM294.5 178.5l-2-2.5-5-1.5-5-6 4-5.5-1.5-5-3-2-5 0.5-5-3.5-5 2-5-3-5 2-5 0.5-6 3.5-2 5-2 2-10 3-5-1-2.5-4-2-5 3-10 2.5-5 4-4 5 0 2-1.5 8-5.5 4.5-4.5-2-5-3-5 5.5-6 5 0 5 2 2 4-2 3.5-2 1.5 2 0.5 5-0.5 11 5-2 5 1 1 1.5 4 0 5.5 3.5 1 7.5 9-1.5 5 4.5 4.5 5-1.5 1.5 2 1 5.5 2.5 2.5 3-2.5-0.5-5.5 0.5-5 2-1.5 1.5 1.5 0 5 3.5 4.5 5-7 4.5 2.5-4.5 6.5-5 0.5-1.5 3.5-1.5 5-2 1.5-10 0.5zM315.5 178.5l2-2 2.5 2-2.5 2zM155 163l1.5-2 2 2-2 3zM259 158l3-1.5 2.5 1.5-2.5 4zM301 153l1.5-1.5 1 1.5-1 1zM164.5 137.5l2-1 3.5 1-3.5 2.5zM287 137.5l0.5-0.5 1 0.5-1 1.5zM512.5 137.5l1.5-0.5 1 0.5-1 0.5zM280 132.5l2-2.5 4 2.5-4 5zM513 132.5l1-1.5 3 1.5-3 1zM170.5 117.5l1.5 0-0.5 4.5zM163 112l3.5-3 2.5 3-2.5 4zM164 102l2.5-1 1.5 1-1.5 3zM280.5 76.5l1.5-3 3.5 3-3.5 2.5zM279.5 66.5l2.5-1.5 2.5 1.5-2.5 2zM277 189.5l1.5-1-1.5-2-1 2zM635 184l5-0.5-5-0.5-2.5 0.5zM690.5 178.5l0-5-0.5 5zM483.5 168.5l5.5 1 1.5-1-7.5 0zM388 166l1-3-1-2.5-0.5 2.5zM438.5 155.5l1-2.5-1-1-2.5 1zM640 149l2-6-2-5-5 1-4.5 4 7 5zM70.5 144.5l1-1.5 9-5 5.5-5.5 6-10 1.5-5-2.5-3-4 3-1 4-6-4-4.5-1-5 1-5-1 0 2.5 3 3.5-3 2 0 3.5 5-2.5 6.5 7-1.5 3.5-5 1.5-5 0.5 0 3 3.5 2zM151.5 134.5l1.5-2-1.5-1.5-1.5 1.5zM146 123.5l5.5-3.5 1.5-2.5-1.5-3-3.5 3-3 5zM544 97.5l1-0.5-1-3-3 3zM519 93l5 0 5-1 5 2 3.5-2-1.5-10.5-1.5-5 0.5-5-1-2.5-5-4.5-10 1.5-5-0.5-1 1-0.5 5-7.5 5-1 2-6.5 3 1.5 1.5 5 2.5 5-1.5 5 3 2 5zM527 87l-3-2.5-5 0.5-5-3.5-3.5-5 3.5-2 5-0.5 5-3.5 5 3.5 3 13-3 2zM524 77l2-0.5-2-2.5-1 2.5z" fill="#a7ff50" stroke="#a7ff50" stroke-width="0.6"/>
<path d="M655 195.5l5-0.5 2-1 1-10.5 4-5-2-1.5-5 0-5-2.5-5 2.5-5 4-2.5 7.5 9.5 5.5zM644.5 188.5l5.5-2.5 5-1.5 3 4-3 2.5-10-2zM654 178.5l1-0.5 1 0.5-1 3zM70.5 184l10 0.5 1.5-1 3-5-0.5-5 1.5-3 5 4.5 5 3 10 0 5 3 5-6.5 10 4 5-5.5 9.5 5.5 1.5 0 5-5-1.5-5 6-4.5 3-6 5-5-7.5-5 1.5-5 3-4 3-1.5 2-2.5 8-2.5 2-1.5 5-7 2-1.5-2-2-5 2-5 3-3.5-3-2.5-5-6.5-5.5-0.5-5-2-1.5-3 1.5-2.5 6-5-3-1-3 1-2 5-0.5 5.5-8 5 7 1-1.5 12.5-5 1.5-2 5-4 9.5 6 0.5 3 0.5-3-0.5-13.5-0.5 3.5-4.5 3-5.5-8.5 0.5-0.5 5-4.5 1.5 0 3.5 4.5 5.5-4.5-2-5 1.5-0.5 5 3 5 0.5 5-3 6 0 4-2 0.5-8 2-5.5 3-2.5 5-1.5 5 0.5 5-4 5 1.5 1.5 1 3.5 0.5 1.5-0.5 6.5-5 1.5-5-3 0-1.5 2.5-5-2.5-6.5 0-3.5 4.5-10 3-5 3-5 4.5-3 5.5-4.5 5-8 5-5 0-5-2-5 1.5-10 5.5-4 5-0.5 5.5-2 0-3.5-1.5-0.5 1.5 2.5 5-2 2.5-5 2.5-5-1.5-5-4.5-5.5 2-3.5-1-6.5-4.5-0.5 4.5 4 5-3.5 2-10-4.5-7 2.5 9.5 5-1 5 2 5 0.5 5.5 1 1 5 1 5-3.5 1 1.5-1.5 5 0 5 5.5 5-0.5 5-2 5.5 5.5 5 2.5 5-2 5-3.5 4-5 2-5 6-10 1.5-5 2-5-2-5 0-1.5 2-3.5 2.5-5-1-4-1.5 4-5-5.5-5.5 2-5-1.5-1-2-4-3-3.5-2 3.5 1 5-10 10.5 2 5-1.5 5-10-0.5-5 3 0 3zM150 132.5l1.5-1.5 1.5 1.5-1.5 2zM145 122.5l3-5 3.5-3 1.5 3-1.5 2.5-5.5 3.5zM297.5 180.5l10-0.5 2-1.5 1.5-5 1.5-3.5 5-0.5 4.5-6.5-4.5-2.5-5 7-3.5-4.5 0-5-1.5-1.5-2 1.5-0.5 5 0.5 5.5-3 2.5-2.5-2.5-1-5.5-1.5-2-5 1.5-4.5-4.5 1.5-5-7.5-9-3.5-1 0-5.5-1.5-4-1-1 2-5-11-5-5 0.5-2-0.5 2-1.5 2-3.5-2-4-5-2-5 0-5.5 6 3 5 2 5-4.5 4.5-8 5.5-2 1.5-5 0-4 4-2.5 5-3 10 2 5 2.5 4 5 1 10-3 2-2 2-5 6-3.5 5-0.5 5-2 5 3 5-2 5 3.5 5-0.5 3 2 1.5 5-4 5.5 5 6 5 1.5 2 2.5zM228.5 158l6-5 1.5-5-4.5-5 5.5-0.5 5 7.5 3.5-7-0.5-5.5 12-9.5 6.5-0.5 2.5 5 1 5.5 5-3.5 3.5 3-4 5.5-2.5 5-2 1.5-6.5-1.5-3.5-5.5-6 0.5 5.5 5-4.5 2-2 3-3 2-5-0.5-5 2-5 6.5zM317.5 180.5l2.5-2-2.5-2-2 2zM478.5 179.5l14-6 6.5-10.5 5.5-5-0.5-2.5-5-4-2-3.5 2-3.5 4 3.5 1 1.5 0.5-6.5-2.5-5.5 2-2 5-1.5 3-6.5 2-5 5 0 5-1.5 7 6.5 0 5 5 10.5 8 6.5 5 0 5.5-2.5 5 1 5-1.5 5 4.5 15 5 5-3 10 3 3 2 12 3.5 5.5 1 5-0.5 5 0.5 5 3.5 5-2.5 5-5.5 5-2 12.5 7-4.5 5.5 2 1.5 5 0.5 5 1 5-3 5-4.5 5-1 5.5 1.5 0-4-5.5-4-10 5-5 1.5-5-1.5-6-3.5-4-5.5-5 0-5-1.5-1.5-3 1-5-1.5-5.5-2-5-1-0.5-10 7.5-6 3.5 1 2.5 4 2.5-2 5 4.5 5-1.5 1-15.5 0-10-4-5-4-5 0-5-4.5-3.5 1.5-1.5 2-10 0-5-1.5-5-3.5-5 1-5-0.5-5.5 1.5-5-1-5-3.5-5.5-10-0.5-5-9-9.5-5 0-5 1.5-3.5 3-3 5-3.5 5-5-0.5-5-1.5-2.5 2-1.5 5 4 7.5 0 3-2.5 5 3 5 1 5-1.5 2-5 0.5-5-2.5-0.5-1.5-0.5 1.5-7.5 5.5-1 5-1 0.5-10 1-5-2-5-7-5-9.5-5-3.5 0-3.5-5-0.5-5 1-10 6.5-10.5-3.5-5-5.5-5 4.5-5-5.5-5 4.5-5-1.5-5 2.5-5 0.5-5 6-5-2-5 3.5-5-4-5-1.5-1-1.5 2.5-5-7-4-6-6.5-4-2-5-0.5-5-3.5-5-1-5 3.5-10-3.5-3.5-3-3.5-5 2.5-5-2.5-5.5 3.5-5-2-15 2.5-5 1-5.5 2-1 5 2 5.5-6-5.5-3.5-5 1.5-3.5-3-3.5-5 2-3 4-2-4-2.5-3-3 3-5-5-1-10-1.5-10.5-3.5-4-4-6 0-1 5 0.5 5 0.5 1 3.5-1 1.5-3 1 3 2.5 5-4 5.5 0.5 1.5 15.5-1 5-3.5 1.5 3-4 5 1.5 5 0 5 6 4 3.5 6.5-5 10-1 5 2.5 4 2 1-2 10-1 0.5 2.5 10-0.5 5-1 2-5-3-2 1 3.5 5 1 5.5-2.5 1-2.5 4 2.5 2 5-1 1-1 0-5 4-5.5 1 0 1 5.5 3 3 5-1.5 4-7 1 0 5 3 5-4.5 10 1.5 10 12.5 4 8 11.5 4.5 5-3.5 5 1.5 4-2.5 1-1 5 0.5 2-4.5 3-2 5 3 5 1.5 5-0.5 5 4 15.5 1.5 5 1.5 5 0 5-2 5-1 5.5 4-2.5 5.5 7 4.5 5 4.5 16.5 1zM483 168.5l7.5 0-1.5 1-5.5-1zM436 153l2.5-1 1 1-1 2.5zM637.5 148l-7-5 4.5-4 5-1 2 5-2 6zM297 102l0.5-1 1.5 1-1.5 0.5zM285 56l2.5-1.5 1.5 1.5-1.5 1.5zM302.5 154l1-1-1-1.5-1.5 1.5zM478.5 154l5 2.5 5-8.5-5-4.5-3.5 4.5-1.5 5zM620 155l1.5-2-1.5-2-1 2zM70.5 149.5l5-6 5-1.5 3-4.5 5-5 2.5-4.5 5 2.5 5-2 0.5-1-0.5-1.5-5-1.5-1-2 7.5-10.5-1.5-1.5-10-0.5-5 1-5.5-1-5 3-10 1 0 2.5 5 1 5-1 4.5 1 6 4 1-4 4-3 2.5 3-1.5 5-6 10-5.5 5.5-9 5-1 1.5-1.5-1.5-3.5-2 0 4 2.5 3zM287.5 139l1-1.5-1-0.5-0.5 0.5zM478.5 141.5l5 0 3.5-4-8.5-6-1 1-1 5zM514 138l1-0.5-1-0.5-1.5 0.5zM599.5 133.5l1-1-1-0.5-0.5 0.5zM483.5 130.5l2.5-3-2.5-2-2 2zM68.5 122.5l-3-3.5 0 5.5zM111 118.5l1.5-1-1.5-1.5-1.5 1.5zM171.5 122l0.5-4.5-1.5 0zM166.5 116l2.5-4-2.5-3-3.5 3zM116 109.5l2.5-2.5-2.5-2.5-2 2.5zM499 103l1.5-1-1.5-2-1.5 2zM504 99l4-2 1-3 2 3 3 0.5 5-1.5 10-1 5 3 10 3.5 5-5.5 5.5 2 5-1 0-5.5-5 0-10.5-8.5-5-2-3.5-14.5-5-5-1.5-1-5 2-2-1-3-3-5 1-5-1-5 3-5 8.5-20.5 1.5 10.5 0 4 5-4 3.5-6 1.5 7 5.5 1.5 5 2.5 1.5 5-4.5 2.5 3 0 5zM541 97l3-3 1 3-1 0.5zM516 92l-2-5-5-3-5 1.5-5-2.5-1.5-1.5 6.5-3 1-2 7.5-5 0.5-5 1-1 5 0.5 10-1.5 5 4.5 1 2.5-0.5 5 1.5 5 1.5 10.5-3.5 2-5-2-5 1-5 0zM473.5 93.5l5-1 5 2 4-2.5-4-3-5 2.5-5-1.5-1 2zM473.5 84.5l3.5-3-3.5-2-3 2zM554.5 84.5l3-3-3-1.5-5 1.5zM282 79l3.5-2.5-3.5-3-1.5 3zM363 77l1-0.5-1-1-1 1zM67.5 66.5l-2-1.5 0 6zM317.5 68l1.5-1.5-1.5-1.5-4 1.5zM594.5 69.5l1.5-3 0-5-1.5-1.5-4.5 1.5 2.5 5zM322.5 59l1.5-3-1.5-2-1.5 2zM196.5 52l1-1-1-2-1.5 2zM418.5 49l5-3-2-5-10 0 1.5 0 4 5zM625 48l2-2-3-5-7 0 3 3.5 2 1.5zM191.5 44.5l4-3.5-5.5 0zM574.5 41l5 1.5 3-1.5-8.5 0z" fill="#d1ff26" stroke="#d1ff26" stroke-width="0.6"/>
<path d="M645 189l10 2 3-2.5-3-4-5 1.5-5.5 2.5zM70.5 178.5l10 0 1.5-5-2-5 10-10.5-1-5 2-3.5 3 3.5 2 4 1.5 1-2 5 5.5 5.5-4 5 4 1.5 5 1 3.5-2.5 1.5-2 5 0 5 2 5-2 10-1.5 5-6 5-2 3.5-4 2-5-2.5-5-5.5-5 2-5.5 0.5-5-5.5-5 0-5 1.5-5-1-1.5-5 3.5-5-1-1-1-0.5-5.5-2-5 1-5-9.5-5 7-2.5 10 4.5 3.5-2-4-5 0.5-4.5 6.5 4.5 3.5 1 5.5-2 5 4.5 5 1.5 5-2.5 2-2.5-2.5-5 0.5-1.5 3.5 1.5 2 0 0.5-5.5 4-5 10-5.5 5-1.5 5 2 5 0 8-5 4.5-5 3-5.5 5-4.5 5-3 10-3 3.5-4.5-3 0-0.5 0.5-1-0.5-19 0 7.5 5-2.5 1-5.5 6-5 7-5 5-5 0.5-5-4.5-5.5 0.5 4 5-3.5 1-3.5-1-1.5-2.5-5 0.5-3 2-2 3.5-5 0-2.5 1.5-17.5 16-5.5-2.5-5 0-5-7-2.5-1.5 1-5-3.5-1.5-1 1.5-1 10 3 5.5-1 2.5-3.5 2.5-6.5 2-2.5-2-2.5-4-5 6-1 3 0 5-4 1.5-1.5-1.5-3.5-1-5 5-5 0-5 2.5-5.5-2-10 2.5-5-5 0 10 10-1 5-3 5.5 1 5-1 10 0.5 1.5 1.5-7.5 10.5 1 2 5 1.5 0.5 1.5-0.5 1-5 2-5-2.5-2.5 4.5-5 5-3 4.5-5 1.5-5 6-2.5-1.5-2.5-3 0 5 5 2 5-4.5 5 4.5 5.5-1 0.5 7-6 6.5-5 2.5-7.5 6.5-2.5 4 0 3.5zM105.5 173.5l-0.5-5 1-3.5 1-2 4-2.5 4 2.5-7.5 5.5-1.5 5zM116 168.5l5-4.5 2 4.5-2 1.5-5-1.5zM133.5 163l-2.5-2.5-5-0.5-5-4.5-4.5 2.5-0.5 2-0.5-2-4.5-2.5-2.5-2.5 6.5-5 1-3.5 2-1.5 2-5.5 1-0.5 5 2.5 1.5-2-3-5 1.5-1.5 5 0 1 1.5 4 0.5 5-2 2 1.5-2 3-2.5 2 2.5 9 5.5 1.5-5.5 2-3 3 3 1 3.5 4-3.5 2.5-5 5zM99.5 153l-5.5-5-7.5-5 4.5-5 5-2.5 5 3.5 2-1.5 2.5-5-0.5-5 1-2 8.5 7-5 5 5.5 5.5-4 1.5-5-4-1.5 2.5 3.5 5-7 6zM109.5 122.5l11.5-8 5 2.5 0 1.5-5 1-2 3-3 2.5-5-1.5zM109.5 117.5l1.5-1.5 1.5 1.5-1.5 1zM106 112l0-0.5 2 0.5-2 1zM114 107l2-2.5 2.5 2.5-2.5 2.5zM178 71.5l3.5-2 1 2-1 0.5zM655 181.5l1-3-1-0.5-1 0.5zM463.5 175l10-1 1-0.5 1-5 7.5-5.5 0.5-1.5 0.5 1.5 5 2.5 5-0.5 1.5-2-1-5-3-5 2.5-5 0-3-4-7.5 1.5-5 2.5-2 5 1.5 5 0.5 3.5-5 3-5 3.5-3 5-1.5 5 0 5 5 4 4.5 0.5 5 5.5 10 5 3.5 5 1 5.5-1.5 5 0.5 5-1 5 3.5 5 1.5 10 0 1.5-2 3.5-1.5 5 4.5 5 0 5 4 10 4 15.5 0 1.5-1-4.5-5 2-5-4-2.5-1-2.5 6-3.5 10-7.5 1 0.5 2 5 1.5 5.5-1 5 1.5 3 5 1.5 5 0 4 5.5 6 3.5 5 1.5 5-1.5 10-5 5.5 4 0-10-5.5 0.5-5 3.5-5 1-5 3-1.5-0.5-1-5-2.5-1.5-5 2.5-7-6 0-5-2-5.5 0-5-1-1-5 1.5-5-3.5-5 3-5 1-2.5 4-2.5 2-3.5-2 0-5-1.5-1-5.5 6 2.5 5.5-2.5 0.5-2-0.5 2-5.5-4-5 1-5-2-2-5 0.5-1 1.5-4 1-3-1 6-5-8-3-2.5 3 1.5 5-4 5 0.5 5 9.5 9.5 5-4.5 5 3 1 2.5 1 5-2 0-10-5-5 0-5-3.5-5-2.5-5 3.5-5-3.5-5 2-20.5 0-5-2-5-4-2.5-5.5-1.5-15-5.5-5.5-0.5-2.5-5 0-8.5 2.5-4.5 5.5-2 1-2 4-1.5 5-1.5 2-5 0.5-4-2.5-1-2-5 0.5-5-3.5 1.5-5-2-2-10-1.5-6 3.5 1 5.5 5-4 2 3.5-3.5 5 0.5 5 2.5 10.5-3.5 5 4 5 1 5-3 3.5-5-0.5-3.5 7.5-1.5 1-5-3.5-2-3-1.5-5 3-5-4.5-2.5-5-1-5-9.5-5-1.5-5 7-5 0-5 4.5-5-2.5-5.5-1-5-2-5 1-5-4.5-5 6.5-5-0.5-5 3-5 0-5 4-5 0.5-5 3-4.5-4.5 1.5-5-2-1-11.5-9.5-4-2-5-2.5-5-0.5-5-4-5-0.5-5 1-4.5-6.5-0.5-2-0.5 2-4.5 5-4-5 1.5-5-2-5.5 3-5 1.5-6 4-9 1-1 5 0 0.5-4 9.5-8 4.5 2.5-4.5 5.5 0 5 5-1.5 7-9-6.5-5 2-5-2-5-10.5-15-4 4.5-1 2.5-5 4-7.5-6.5 7.5-7.5 10 0 0-3-5-3.5-3.5-1-6.5 0.5-34.5-0.5 4 4 10.5 3.5 10 1.5 5 1-3 5 3 3 4 2.5-4 2-2 3 3.5 5 3.5 3 5-1.5 5.5 3.5-5.5 6-5-2-2 1-1 5.5-2.5 5 2 15-3.5 5 2.5 5.5-2.5 5 3.5 5 3.5 3 10 3.5 5-3.5 5 1 5 3.5 5 0.5 4 2 6 6.5 7 4-2.5 5 1 1.5 5 1.5 5 4 5-3.5 5 2 5-6 5-0.5 5-2.5 5 1.5 5-4.5 5 5.5 5-4.5 5 5.5 10.5 3.5 10-6.5 5-1 5 0.5 0 3.5 5 3.5 5 9.5 6 7.5zM478.5 153l1.5-5 3.5-4.5 5 4.5-5 8.5-5-2.5zM619 153l1-2 1.5 2-1.5 2zM476.5 137.5l1-5 1-1 8.5 6-3.5 4-5 0zM599 132.5l0.5-0.5 1 0.5-1 1zM481.5 127.5l2-2 2.5 2-2.5 3zM313.5 66.5l4-1.5 1.5 1.5-1.5 1.5zM321 56l1.5-2 1.5 2-1.5 3zM136 159.5l1.5-1.5-1.5-3.5-2 3.5zM232 163l5-6.5 5-2 5 0.5 3-2 2-3 4.5-2-5.5-5 6-0.5 3.5 5.5 6.5 1.5 2-1.5 2.5-5 4-5.5-3.5-3-5 3.5-1-5.5-2.5-5-6.5 0.5-12 9.5 0.5 5.5-3.5 7-5-7.5-5.5 0.5 4.5 5-1.5 5-6 5zM463.5 161l3.5-3-3.5-4-4 4zM126 155.5l3-2.5-3-2-2.5 2zM403 140.5l3-3-3-2-2.5 2zM428.5 139l1-1.5-1-1-2.5 1zM660 138.5l5 4 3.5-5-3.5-2.5-5.5 2.5zM388 133l0.5-0.5-0.5-4-0.5 4zM433.5 135.5l5-0.5 3-7.5-3-2-8 7zM448.5 135l0.5-2.5-0.5-5-2 5zM675 137.5l5-1.5 1.5-3.5-1.5-3-5 1-5 2zM393 128.5l5 0.5 5-0.5 1-1-4-5-7-2-5-0.5-3.5 2.5 4 5zM660 129l1-1.5-1-1-0.5 1zM322.5 126l4.5-3.5-2-5-2.5-3-5-2.5-3.5 5.5 3.5 1 3 4zM443.5 124l0.5-1.5-1.5 0zM559.5 112.5l5-3.5 5-2-5-5-5 1-0.5-1 5-5-0.5-5 3-5-4-5.5 2-1.5 5 4 2.5-2.5-12.5-14-3.5 4 2 5-3.5 1-3.5-1-2-1.5-0.5 1.5-4.5 3.5-3-3.5-2-3-2.5-12-2.5-0.5-7.5-5-2.5-2-10 0.5-5.5-3.5-4.5-6-5.5 1-1 5-3.5 7.5-5 1.5-2 1.5 0 5-3.5 1.5-5 0.5-4-2-1-1.5-5-0.5-5.5 2 4.5 5-4 1.5-1.5 3.5 2.5 5 1 5.5 3 1 1 4-1.5 5 5.5 8 3 2 2 3.5 2-3.5-1-5 4-1.5 5.5 6.5 2.5-5 2.5-2.5 1 2.5 4 2.5 5-3 5-1.5 5 0.5 5-2 10 1.5 5 2.5 3 4.5 7 2.5 3-2.5 2-3 5.5 5 4.5 3zM497.5 102l1.5-2 1.5 2-1.5 1zM501.5 97l0-5-2.5-3-5 4.5-2.5-1.5-1.5-5-7-5.5 6-1.5 4-3.5-4-5-10.5 0 20.5-1.5 5-8.5 5-3 5 1 5-1 3 3 2 1 5-2 1.5 1 5 5 3.5 14.5 5 2 10.5 8.5 5 0 0 5.5-5 1-5.5-2-5 5.5-10-3.5-5-3-10 1-5 1.5-3-0.5-2-3-1 3-4 2zM472.5 92l1-2 5 1.5 5-2.5 4 3-4 2.5-5-2-5 1zM470.5 81.5l3-2 3.5 2-3.5 3zM549.5 81.5l5-1.5 3 1.5-3 3zM574.5 113l1-1-1-2.5-1.5 2.5zM635 113.5l4.5-1.5-4.5-2-2.5 2zM463.5 108l1-1-1-1-1.5 1zM579.5 107l5-4 1-1-1-1-5 0 0 6zM675 109l2.5-2-2.5-2-2.5 2zM75.5 105.5l1.5-3.5-1.5-0.5-0.5 0.5zM297.5 102.5l1.5-0.5-1.5-1-0.5 1zM327.5 103.5l1-1.5-1-3-1 3zM337.5 102.5l5-2.5 2.5-3-2.5-3-5 2 0 6zM660 103l2-1-2-2-0.5 2zM358 100l5-1.5 2-1.5-2-4-2-1 7-2 4-8.5 1-0.5 5 1.5 1-1-5-10-1-4.5-3-5.5-2-2-6.5 7-1.5 5-3.5 5 1.5 1.5 6.5 3.5-1.5 1.5-5 2-2.5 2-2.5 3.5-2.5 1.5 2.5 2 1 3zM362 76.5l1-1 1 1-1 0.5zM574.5 98l2-1-2-1.5-4 1.5zM383 92.5l0.5-0.5-0.5-1.5-1 1.5zM448.5 92l1 0-1-2-1 2zM645 94l5 0.5 1.5-2.5-6.5-4.5-2.5 4.5zM660 94.5l1-2.5-1-1.5-1 1.5zM70.5 89l5-5 2 3 3 3.5 5.5-7.5 5 0.5 0.5-2-0.5-3-5 2-3-4 3-3.5 1.5-1.5 1-5-2.5-2-5.5 5-3.5 2-1.5 2-3-2 3-2.5 1.5-2.5-3.5-5 2-2.5 1.5 2.5 3.5 2 3-2 0-5.5-2-5-6-7-3 2 1 5-3 2-5 5 0 7 2 1.5-2 4.5 0 9 5 0 1.5 1.5-6 5.5zM106 90l4.5-3-4.5-4.5-2.5 4.5zM408 88l1.5-1-1.5-1.5-0.5 1.5zM438.5 89l10-3.5 2.5-4-7.5-7.5-5 1.5-0.5 1 4.5 5-4 2.5-2 3zM640 87.5l3.5-0.5-3.5-1.5-2-4-3-3-4 3 4 4 3 1.5zM670 90l2.5-3-2.5-2-2 2zM579.5 82l3-0.5-3-0.5-1 0.5zM594.5 83.5l3-2-3-3.5-3 3.5zM111 77.5l0.5-1-0.5-1-1 1zM680 80l5.5-3.5-1-5-4.5-2-2.5 2 1.5 5zM101 76.5l1.5-5-1.5-3.5-1.5 3.5zM594.5 75.5l3-4 2-10-6-5.5-2.5-5-1.5-1-1 1-1.5 5-6 10.5 3.5 4.5 5-2.5 1.5 3zM592.5 66.5l-2.5-5 4.5-1.5 1.5 1.5 0 5-1.5 3zM620 73.5l1.5-2-1.5-4.5-2 4.5zM640 73l1-1.5-1-1-1.5 1zM690.5 72l0-1.5-3.5 1zM96 68l4-1.5-4-5.5-3 5.5zM106 68.5l1-2-1-2.5-4 2.5zM670 67.5l5 1 1.5-2-1.5-3-5 2-0.5 1zM358 62.5l0.5-1-0.5-1-2 1zM569.5 62.5l1.5-1-1.5-2-1.5 2zM685 64l5.5-1.5 0-13.5-4 2 1.5 5-5.5 5.5zM287.5 57.5l1.5-1.5-1.5-1.5-2.5 1.5zM574.5 57.5l5.5-1.5-3.5-5 1-5 2-0.5 3 0.5 2 1.5 2-1.5 3-5-7 0-3 1.5-5.5-1.5-11.5 0-5 5 2 2.5 10 1.5 3.5 6zM91 52.5l5-0.5 2-1 0-5-2-2.5-7 7.5zM121 52l5 0 1-1-0.5-5 6.5-5-14 0 6 5-5 5zM166.5 53.5l4-2.5 1-4.5 5-0.5 5 2.5 5-6.5 2.5 4 0 5 2.5 2 5 1.5 4.5-3.5 0.5-2 5-2 5 0 4.5-6-5 0-4.5 4.5-2-4.5-9 0-4 3.5-1.5-3.5-20.5 0-7 5-0.5 5zM195 51l1.5-2 1 2-1 1zM413 54.5l5.5 0 5 1 7-4.5-4-5 1.5-5-6.5 0 2 5-5 3-1.5-3-4-5-9 0 4 3.5 5.5 1.5-3 5zM473.5 55l1.5-4-1.5-1.5-1 1.5zM614.5 52l5.5 1 8.5-2 1.5-1 2-9-8 0 3 5-2 2-5-3.5-3-3.5-2 0-3 5 2.5 5zM655 54.5l2.5-3.5-2.5-2-3.5 2zM675 53l1.5-2-1.5-2-2.5 2zM69 46l-3.5-2.5 0 5.5zM116 47.5l1.5-1.5-1.5-2-1.5 2zM136 47.5l3-1.5-3-1-1 1zM347.5 47.5l2-6.5-4.5 0 2 5zM80.5 43.5l5.5 0.5 5-1 2-2-15.5 0zM252 43.5l1.5-2.5-6.5 0zM388 42l5 0 1-1-6.5 0zM433.5 43l1.5-2-6 0zM443.5 42.5l5 0.5 5 0 0.5-2-13 0z" fill="#feed00" stroke="#feed00" stroke-width="0.6"/>
<path d="M68 173.5l7.5-6.5 6.5-4 4.5-5-0.5-5 0-2-5.5 1-5-4.5-5 4.5-5-2 0 4 5 0.5 4.5 3.5-0.5 5-3.5 5.5-5.5 3 0 6zM106 173.5l1.5-5 7.5-5.5-4-2.5-4 2.5-1 2-1 3.5 0.5 5zM116 168.5l5 1.5 2-1.5-2-4.5-5 4.5zM463.5 169.5l1.5-1 3.5-7.5 5 0.5 3-3.5-1-5-4-5 3.5-5-2.5-10.5-0.5-5 3.5-5-2-3.5-5 4-1-5.5 6-3.5 10 1.5 2 2-1.5 5 5 3.5 5-0.5 1 2 4 2.5 5-0.5 1.5-2 1.5-5 2-4 2-1 4.5-5.5 8.5-2.5 5 0 0.5 2.5 5.5 5.5 1.5 15 2.5 5.5 5 4 5 2 20.5 0 5-2 5 3.5 5-3.5 5 2.5 5 3.5 5 0 10 5 2 0-1-5-1-2.5-5-3-5 4.5-9.5-9.5-0.5-5 4-5-1.5-5 2.5-3 8 3-6 5 3 1 4-1 1-1.5 5-0.5 2 2-1 5 4 5-2 5.5 2 0.5 2.5-0.5-2.5-5.5 5.5-6 1.5 1 0 5 3.5 2 2.5-2 2.5-4 5-1 5-3 5 3.5 5-1.5 1 1 0 5 2 5.5 0 5 7 6 5-2.5 2.5 1.5 1 5 3 0 3.5-2.5 5-1 5-3.5 5.5-0.5 0-3.5-5.5-1-2-3 6.5-5.5 1-1.5 0-16.5-4-2 4-2 0-5.5-5.5 1.5-5.5 0.5 2.5-5 1-5-1-5-2-5-0.5 0 0.5 0 2.5-5 2.5-3 5.5 0.5 0-12.5-3.5-0.5 3.5-1 0-8-5.5 1.5-2.5-2.5 5.5-5.5-1.5-5 4-2 0-8-13.5 0-2 1.5-3-1.5-14 0-2.5 5-5.5 2-5 0.5-4.5 2.5 9.5 5 6.5 10.5-1.5 2-5-3-4 1-1 3-10-5-5-6-5-2.5 14-5-1-5-3-2.5-0.5-2.5-2.5 0-2 9-1.5 1-8.5 2-5.5-1-2.5-6 3-5-5.5 0.5-0.5-0.5-8 0 0.5 5-2 1.5-1-1.5 0-5-9 0-3 5-2 1.5-2-1.5-3-0.5-2 0.5-1 5 3.5 5-5.5 1.5-5-7.5-10-1.5-2-2.5 5-5-3 0-5 4.5-3-4.5-61.5 0 4 10-5 1-5-6 2.5-5-8.5 0-3.5 5-5.5 5 0.5 5-1 1.5-5-3.5-5-1.5-1.5-6.5 0.5-5-3.5 0-0.5 2-5 0-5-0.5-2.5-1.5-6 0-1.5 2-5.5-2-1.5 5 4 5-7 4.5-5-1-5.5 0-2.5-3.5 3-5-5.5-1.5-4-3.5-10 0-1 1-5 0-0.5-1-3.5 0 2 5-5 5 2 3 5 2.5 2-5.5 3-3.5 5 2.5 6 1-2.5 5 1.5 2 5-0.5 5 3.5 5.5-3 5 2.5 5-2 3.5 3-8.5 5.5-2 4.5 1 5 2 5 4 2.5 5 0.5 1 2.5 4 4 1.5 1 0.5 5 3 1 5-2.5 5 0 5 3 5-3.5 1.5 2-2.5 5-4 3.5-5-1-2.5 2.5 5.5 5-5 5.5 2 1.5 5 1.5 5 0.5 0.5 1.5-0.5 1-5 3-5-2-5-5-10-0.5-4.5-1.5-0.5-1-5 3.5-1 2.5 3.5 5-2.5 3-2.5-3-2.5-2.5-2 2.5 2 3 2.5 2-2.5 2-5-2-5.5-6-5-2-2-2 2-3 2.5-2-2.5-1-5 2.5-5 0-5-2-10-2-2.5 2.5-2.5 7-0.5 3 0.5 1.5 5-2.5 1 1 0.5 5 3.5 4 5-3.5 6-0.5-3 5-4 5.5-9 5-5-3-3.5 3-6.5 2-5-5.5-5-0.5-1.5-1 4-5.5-2.5-3.5-2-1.5 4.5-5-2.5-3-5 6-5.5 4-5-2-5-4-5-1-2.5-5 2.5-4 2.5-1-3.5-5.5 3-5-3.5-5 1.5-5 2 5 6.5 5 1.5 3 5-1 5.5-6 5 1 5-2.5 5-3.5 1 4-1 1.5-5 1.5-0.5 2 5.5 2 10-8.5 5 0 1 1.5 4 2 3.5-2-4-10-1.5-10.5-8-10 5-5-2.5-5-5.5-5.5-2-1.5-5-1-3-2.5-2-3.5-10-1.5-1.5-5-2 0-2 6.5-2.5-6.5-31 0 3.5 1 5 3.5 0 3-10 0-7.5 7.5 7.5 6.5 5-4 1-2.5 4-4.5 10.5 15 2 5-2 5 6.5 5-7 9-5 1.5 0-5 4.5-5.5-4.5-2.5-9.5 8-0.5 4-5 0-1 1-4 9-1.5 6-3 5 2 5.5-1.5 5 4 5 4.5-5 0.5-2 0.5 2 4.5 6.5 5-1 5 0.5 5 4 5 0.5 5 2.5 4 2 11.5 9.5 2 1-1.5 5 4.5 4.5 5-3 5-0.5 5-4 5 0 5-3 5 0.5 5-6.5 5 4.5 5-1 5 2 5.5 1 5 2.5 5-4.5 5 0 5-7 5 1.5 5 9.5 5 1 4.5 2.5-3 5 1.5 5 2 3 3.5 2.5zM459.5 158l4-4 3.5 4-3.5 3zM455.5 148l3-2.5 4 2.5-4 2.5zM410.5 143l2.5-8.5 5.5-1.5 1 4.5-0.5 5.5-6 1zM400.5 137.5l2.5-2 3 2-3 3zM426 137.5l2.5-1 1 1-1 1.5zM542 137.5l-2.5-5-1-15-6.5-5.5 2-2.5 5 2 5 0.5 5-3 3 3-3 5.5 5.5 1.5 1.5-1.5 3.5-1.5 5-4.5 5 0.5 18.5 10.5-5.5 5 0.5 5 1.5 5.5-5-2-5 3-5 0.5-3.5-2 2.5-5-4-3.5-2.5 3.5 0.5 5-3 2-2.5-2 0-5-2.5-1.5-1.5 6.5-4 3.5-5-1.5zM654.5 137.5l0.5-1.5 0.5 1.5-0.5 1zM659.5 137.5l5.5-2.5 3.5 2.5-3.5 5-5-4zM387.5 132.5l0.5-4 0.5 4-0.5 0.5zM430.5 132.5l8-7 3 2-3 7.5-5 0.5zM446.5 132.5l2-5 0.5 5-0.5 2.5zM451.5 132.5l2-2.5 4 2.5-4 3zM614.5 132.5l-0.5-5-5-5 4-5-3.5-2.5-5 3-10-5.5-5 0.5-0.5-1 4.5-5-5-5 1-3.5 15 2.5 8-9 2-4 5.5-1 5-4 5 5 7.5 4-2.5 2.5-5 3-5 5-2-0.5-3-3-1.5 3 2.5 5-3.5 5 0 5.5 2.5 1.5 5-1.5 5-2.5 4 2.5 1 5 5-2 5 1.5 0.5 0.5-0.5 1-5 3.5-5-4.5-5-2-5 7.5-5-2.5-3.5 2-2 5.5zM670 132.5l5-2 5-1 1.5 3-1.5 3.5-5 1.5zM388.5 127.5l-4-5 3.5-2.5 5 0.5 7 2 4 5-1 1-5 0.5-5-0.5zM653 127.5l2-6.5 5 1.5-3.5 5-1.5 3zM659.5 127.5l0.5-1 1 1-1 1.5zM307 122.5l0.5-8 1 3-1 5.5zM320.5 122.5l-3-4-3.5-1 3.5-5.5 5 2.5 2.5 3 2 5-4.5 3.5zM442.5 122.5l1.5 0-0.5 1.5zM500 117.5l3-5.5 1-0.5 1 0.5 0.5 5.5-1.5 3zM309.5 112l0-5 0.5-5 2.5-4.5 5 3 4-3.5 1-10.5 0.5 0.5 1 15-1.5 4-5 1.5-5 5.5zM486.5 112l2.5-1 1 1-1 4zM559 112l-4.5-3-5.5-5-2 3-3 2.5-7-2.5-3-4.5-5-2.5-10-1.5-5 2-5-0.5-5 1.5-5 3-4-2.5-1-2.5-2.5 2.5-2.5 5-5.5-6.5-4 1.5 1 5-2 3.5-2-3.5-3-2-5.5-8 1.5-5-1-4-3-1-1-5.5-2.5-5 1.5-3.5 4-1.5-4.5-5 5.5-2 5 0.5 1 1.5 4 2 5-0.5 3.5-1.5 0-5 2-1.5 5-1.5 3.5-7.5 1-5 5.5-1 4.5 6 5.5 3.5 10-0.5 2.5 2 7.5 5 2.5 0.5 2.5 12 2 3 3 3.5 4.5-3.5 0.5-1.5 2 1.5 3.5 1 3.5-1-2-5 3.5-4 12.5 14-2.5 2.5-5-4-2 1.5 4 5.5-3 5 0.5 5-5 5 0.5 1 5-1 5 5-5 2-5 3.5zM573 112l1.5-2.5 1 2.5-1 1zM579 112l1 0-0.5 2.5zM624 112l1-0.5 1 0.5-1 4zM632.5 112l2.5-2 4.5 2-4.5 1.5zM325 107l2.5-0.5 1 0.5-1 1.5zM462 107l1.5-1 1 1-1 1zM497 107l2-0.5 1.5 0.5-1.5 2.5zM507 107l2-3 2 3-2 3zM518.5 107l-1.5-5 2-0.5 1.5 0.5-1 5-0.5 0.5zM579.5 107l0-6 5 0 1 1-1 1-5 4zM672.5 107l2.5-2 2.5 2-2.5 2zM326.5 102l1-3 1 3-1 1.5zM337.5 102l0-6 5-2 2.5 3-2.5 3-5 2.5zM659.5 102l0.5-2 2 2-2 1zM354 97l-1-3-2.5-2 2.5-1.5 2.5-3.5 2.5-2 5-2 1.5-1.5-6.5-3.5-1.5-1.5 3.5-5 1.5-5 6.5-7 2 2 3 5.5 1 4.5 5 10-1 1-5-1.5-1 0.5-4 8.5-7 2 2 1 2 4-2 1.5-5 1.5zM368.5 97l4.5-1.5 1.5 1.5-1.5 2.5zM570.5 97l4-1.5 2 1.5-2 1zM637.5 97l2.5-2.5 3.5 2.5-3.5 2.5zM382 92l1-1.5 0.5 1.5-0.5 0.5zM447.5 92l1-2 1 2-1 0zM457.5 92l1-1.5 0.5 1.5-0.5 1zM568.5 92l1-2 1.5 2-1.5 0.5zM578 92l0.5-5 1-1 5 4 1.5 2-1.5 4.5-5-4zM642.5 92l2.5-4.5 6.5 4.5-1.5 2.5-5-0.5zM659 92l1-1.5 1 1.5-1 2.5zM436.5 87l2-3 4-2.5-4.5-5 0.5-1 5-1.5 7.5 7.5-2.5 4-10 3.5zM587 87l2.5-2 4 2-4 1.5zM603.5 87l1-1 2.5 1-2.5 0.5zM638 87l-3-1.5-4-4 4-3 3 3 2 4 3.5 1.5-3.5 0.5zM647.5 87l-2.5-5-1-0.5 4.5-10 1.5-0.5 5 3.5 5-0.5 5 7 3 0.5-3 3-5-0.5-4.5 3-0.5 1.5-5 0zM668 87l2-2 2.5 2-2.5 3zM350.5 81.5l2.5-5.5 3.5 5.5-3.5 2.5zM578.5 81.5l1-0.5 3 0.5-3 0.5zM591.5 81.5l3-3.5 3 3.5-3 2zM342.5 76.5l-1-5 1-4.5 4.5 4.5-4.5 5zM543.5 76.5l0.5-2.5 1 2.5-1 0.5zM603.5 76.5l1-1 1 1-1 1zM613 76.5l1.5-2.5 2.5 2.5-2.5 2zM679 76.5l-1.5-5 2.5-2 4.5 2 1 5-5.5 3.5zM447.5 71.5l-1.5-5 0-5 2.5-4 5-3 4 1.5 2.5 5.5-1.5 1-5-2.5-3.5 11.5-1.5 1.5zM568 71.5l1.5-4 5-1 1.5 5-1.5 1.5-5 0zM591 71.5l-1.5-3-5 2.5-3.5-4.5 6-10.5 1.5-5 1-1 1.5 1 2.5 5 6 5.5-2 10-3 4zM618 71.5l2-4.5 1.5 4.5-1.5 2zM626.5 71.5l3.5-2.5 3 2.5-3 2zM638.5 71.5l1.5-1 1 1-1 1.5zM669.5 66.5l0.5-1 5-2 1.5 3-1.5 2-5-1zM340.5 61.5l0.5-5.5 1.5-0.5 3 0.5-0.5 5.5-2.5 4.5zM356 61.5l2-1 0.5 1-0.5 1zM545.5 61.5l3.5-1 2.5 1-2.5 1.5zM568 61.5l1.5-2 1.5 2-1.5 1zM578 61.5l1.5-1 0.5 1-0.5 1zM607 61.5l2.5-3.5 5 2 2 1.5-2 1.5-5 1.5zM664.5 61.5l-0.5-5.5 1-1 1.5 1-1.5 6.5zM435.5 56l3-2 3.5 2-3.5 2zM553 56l1.5-5 1.5 5-1.5 2.5zM564 56l0.5-0.5 0.5 0.5-0.5 1.5zM602.5 56l2-2 2.5 2-2.5 1.5zM472.5 51l1-1.5 1.5 1.5-1.5 4zM527 51l2-2 2.5 2-2.5 2.5zM543 51l1-1.5 2 1.5-2 2zM607.5 51l2-1.5 1.5 1.5-1.5 3zM651.5 51l3.5-2 2.5 2-2.5 3.5zM672.5 51l2.5-2 1.5 2-1.5 2zM340.5 46l2-1 0.5 1-0.5 0.5zM442 46l1.5-0.5 1 0.5-1 4.5zM508 46l1-3 2.5 3-2.5 1zM136 165.5l5-5 3.5-2.5-3.5-4-3-1 3-3 5.5-2-5.5-1.5-2.5-9 2.5-2 2-3-2-1.5-5 2-4-0.5-1-1.5-5 0-1.5 1.5 3 5-1.5 2-5-2.5-1 0.5-2 5.5-2 1.5-1 3.5-6.5 5 2.5 2.5 4.5 2.5 0.5 2 0.5-2 4.5-2.5 5 4.5 5 0.5 2.5 2.5zM134 158l2-3.5 1.5 3.5-1.5 1.5zM123.5 153l2.5-2 3 2-3 2.5zM101 154l7-6-3.5-5 1.5-2.5 5 4 4-1.5-5.5-5.5 5-5-8.5-7-1 2 0.5 5-2.5 5-2 1.5-5-3.5-5 2.5-4.5 5 7.5 5 5.5 5zM111 123.5l5 1.5 3-2.5 2-3 5-1 0-1.5-5-2.5-11.5 8zM559.5 125.5l5 1.5 4.5-4.5-4.5-3.5-5 0.5-2.5 3zM106 113l2-1-2-0.5 0 0.5zM378 113l0.5-1-0.5-1-1 1zM413 114l5.5-4 5 4.5 3.5-2.5-3.5-5-1-5 1.5-5-2.5-5-3-3.5-4-1.5 1-5.5-2.5-1-1 1-4 1.5-3 4 3 5 4.5 5-1 5-3.5 2-1.5 3 1.5 1.5 4-1.5 1-2 1.5 2-1.5 2-0.5 3zM407.5 87l0.5-1.5 1.5 1.5-1.5 1zM70.5 109l10-2.5 5.5 2 5-2.5 5 0 5-5 3.5 1 1.5 1.5 4-1.5 0-5 1-3 5-6 2.5 4 2.5 2 6.5-2 3.5-2.5 1-2.5-3-5.5 1-10 1-1.5 3.5 1.5-1 5 2.5 1.5 5 7 5 0 5.5 2.5 17.5-16 2.5-1.5 5 0 2-3.5 3-2 5-0.5 1.5 2.5 3.5 1 3.5-1-4-5 5.5-0.5 5 4.5 5-0.5 5-5 5-7 5.5-6 2.5-1-7.5-5-1 0-4.5 6-5 0-5 2-0.5 2-4.5 3.5-5-1.5-2.5-2 0-5-2.5-4-5 6.5-5-2.5-5 0.5-1 4.5-4 2.5-4.5-2.5 0.5-5 7-5-22 0 4 2 2.5 3 3 5 7 5-2.5 4.5-1.5 1 2.5 5-1 1.5-8 3.5 0 5-6.5 5-6 0.5-1.5-5.5 1.5-3.5 5 2.5 3.5-4-8.5-6-5 4-6.5-3-2.5-5-0.5-5.5 4.5-4.5 5 3.5 5-4.5 5 0.5 1-5-2-5-12 0-6.5 5 0.5 5-1 1-5 0-1-1 5-5-6-5-11.5 0 2 5-3.5 2-2.5-2 0.5-5-11 0-2 2-5 1-5.5-0.5-3-2.5-12 0 0 2.5 3.5 2.5-3.5 3 0 9 5-5 3-2-1-5 3-2 6 7 2 5 0 5.5-3 2-3.5-2-1.5-2.5-2 2.5 3.5 5-1.5 2.5-3 2.5 3 2 1.5-2 3.5-2 5.5-5 2.5 2-1 5-1.5 1.5-3 3.5 3 4 5-2 0.5 3-0.5 2-5-0.5-5.5 7.5-3-3.5-2-3-5 5-4.5-2 6-5.5-1.5-1.5-5 0 0 24 3.5 3zM68.5 102l2-1.5 1.5 1.5-1.5 2zM75 102l0.5-0.5 1.5 0.5-1.5 3.5zM83.5 102l-3-3.5-5 0-2-1.5 2-4 5 2.5 5.5-2.5 5 1.5 5-6.5 3.5 4 1.5 3 5 0 1 2-1 1.5-5-1-5 5-5 0-5 2zM103.5 87l2.5-4.5 4.5 4.5-4.5 3zM95.5 81.5l0.5-0.5 0.5 0.5-0.5 1.5zM110 76.5l1-1 0.5 1-0.5 1zM115.5 76.5l0.5-1 3 1-3 1.5zM99.5 71.5l1.5-3.5 1.5 3.5-1.5 5zM123 71.5l3-2 1 2-1 2.5zM93 66.5l3-5.5 4 5.5-4 1.5zM102 66.5l4-2.5 1 2.5-1 2zM110.5 66.5l0.5-1 1 1-1 2zM181 56l0.5-1 0.5 1-0.5 2zM89 51l7-7.5 2 2.5 0 5-2 1-5 0.5zM175.5 51l1-1 2.5 1-2.5 2zM114.5 46l1.5-2 1.5 2-1.5 1.5zM135 46l1-1 3 1-3 1.5zM604.5 109l1-2-1-2.5-2 2.5zM403 100l3.5-3-3.5-4.5-2.5 4.5zM393 93.5l1.5-1.5-1.5-3.5-4.5 3.5zM625 93.5l0.5-1.5-0.5-1-0.5 1zM181.5 72l1-0.5-1-2-3.5 2zM403 73l5-1 0-2.5-5-2-1.5 4zM151.5 68l0.5-1.5-0.5-1.5-1 1.5zM398 67.5l3-1-3-1-0.5 1zM645 64l0.5-2.5-0.5-1-1.5 1zM378 46l3.5-5-6.5 0 2.5 5zM463.5 49l4.5-3-4.5-4-3 4zM206.5 45.5l4.5-4.5-6.5 0z" fill="#ffbd00" stroke="#ffbd00" stroke-width="0.6"/>
<path d="M70.5 168.5l4-5.5 0.5-5-4.5-3.5-5-0.5 0 3 5 0 1.5 1-1 5-5.5 4.5 0 4zM368 150l6.5-2 3.5-3 5 3 9-5 4-5.5 3-5-6 0.5-5 3.5-3.5-4-0.5-5-1-1-5 2.5-0.5-1.5 0.5-3 2.5-7 2.5-2.5 10 2 5 2 5 0 5-2.5 2.5 1-2.5 2-2 3 2 2 5 2 5.5 6 5 2 2.5-2-2.5-2-2-3 2-2.5 2.5 2.5 2.5 3 2.5-3-3.5-5 1-2.5 5-3.5 0.5 1 4.5 1.5 10 0.5 5 5 5 2 5-3 0.5-1-0.5-1.5-5-0.5-5-1.5-2-1.5 5-5.5-5.5-5 2.5-2.5 5 1 4-3.5 2.5-5-1.5-2-5 3.5-5-3-5 0-5 2.5-3-1-0.5-5-1.5-1-4-4-1-2.5-5-0.5-4-2.5-2-5-1-5 2-4.5 8.5-5.5-3.5-3-5 2-5-2.5-5.5 3-5-3.5-5 0.5-1.5-2 2.5-5-6-1-5-2.5-3 3.5-2 5.5-5-2.5-2-3 5-5-2-5-2.5 0-3.5 5-3-5-4.5 0-2.5 3.5-4.5-3.5-5.5 0.5-6.5-0.5 1.5 5 10 1.5 2 3.5 3 2.5 5 1 7.5 7 2.5 5-5 5 8 10 1.5 10.5 4 10-3.5 2-4-2-1-1.5-5 0-10 8.5-5.5-2 0.5-2 5-1.5 1-1.5-1-4-5 3.5-5 2.5-5-1-5.5 6-5 1-1.5-3-6.5-5-2-5-1.5 5 3.5 5-3 5 3.5 5.5-2.5 1-2.5 4 2.5 5 5 1 5 4 5 2 5.5-4 5-6 2.5 3-4.5 5 2 1.5 2.5 3.5-4 5.5 1.5 1 5 0.5 3.5 3.5zM342 127.5l-3.5-5 4-6.5 5 3 1-1.5 4.5-3.5 3.5-2 1.5-2 2 2-1 5.5-9.5 5-7 5.5zM371.5 127.5l1.5-2.5 0.5 2.5-0.5 1zM416.5 127.5l2-3 1 3-1 2zM370.5 117.5l2.5-4.5 5 3.5 0.5 1-0.5 1-5 2zM377 112l1-1 0.5 1-0.5 1zM382 112l1-1 3 1-3 1zM404.5 112l3.5-1 2 1-2 1.5zM412.5 112l0.5-3 1.5-2-1.5-2-1 2-4 1.5-1.5-1.5 1.5-3 3.5-2 1-5-4.5-5-3-5 3-4 4-1.5 1-1 2.5 1-1 5.5 4 1.5 3 3.5 2.5 5-1.5 5 1 5 3.5 5-3.5 2.5-5-4.5-5.5 4zM390.5 107l2.5-1 2 1-2 3.5zM441 102l2.5-0.5 1 0.5-1 1zM400.5 97l2.5-4.5 3.5 4.5-3.5 3zM388.5 92l4.5-3.5 1.5 3.5-1.5 1.5zM397.5 92l-2-5 2.5-4.5 4.5 4.5-4.5 6zM427.5 92l1-2 0.5 2-0.5 0.5zM394.5 76.5l3.5-3.5 4.5 3.5-4.5 4.5zM405 76.5l3-0.5 1.5 0.5-1.5 1.5zM386 71.5l2-4.5 1.5 4.5-1.5 2.5zM401.5 71.5l1.5-4 5 2 0 2.5-5 1zM412.5 71.5l-1.5-5 2-2 3.5 2 2 2.5 0.5 2.5-0.5 2.5-5.5-1.5zM397.5 66.5l0.5-1 3 1-3 1zM371 51l2-2 2 2-2 1zM458.5 150.5l4-2.5-4-2.5-3 2.5zM413 144l6-1 0.5-5.5-1-4.5-5.5 1.5-2.5 8.5zM685 146l5.5 1 0-11-1 1.5-6.5 5.5zM544 139.5l5 1.5 4-3.5 1.5-6.5 2.5 1.5 0 5 2.5 2 3-2-0.5-5 2.5-3.5 4 3.5-2.5 5 3.5 2 5-0.5 5-3 5 2-1.5-5.5-0.5-5 5.5-5-18.5-10.5-5-0.5-5 4.5-3.5 1.5-1.5 1.5-5.5-1.5 3-5.5-3-3-5 3-5-0.5-5-2-2 2.5 6.5 5.5 1 15 2.5 5zM547 137.5l-3-2-2-8 2-6.5 5 7 2.5 4.5-2.5 5.5zM572.5 132.5l0-5 2-1 5 3.5 1 2.5-1 1.5-5 1.5zM557 122.5l2.5-3 5-0.5 4.5 3.5-4.5 4.5-5-1.5zM655 138.5l0.5-1-0.5-1.5-0.5 1.5zM453.5 135.5l4-3-4-2.5-2 2.5zM614.5 133l2-5.5 3.5-2 5 2.5 5-7.5 5 2 5 4.5 5-3.5 0.5-1-0.5-0.5-5-1.5-5 2-1-5-4-2.5-5 2.5-5 1.5-2.5-1.5 0-5.5 3.5-5-2.5-5 1.5-3 3 3 2 0.5 5-5 5-3 2.5-2.5-7.5-4-5-5-5 4-5.5 1-2 4-8 9-15-2.5-1 3.5 5 5-4.5 5 0.5 1 5-0.5 10 5.5 5-3 3.5 2.5-4 5 5 5 0.5 5zM609.5 112l0-5 1.5 5-1.5 0.5zM602.5 107l2-2.5 1 2.5-1 2zM624.5 92l0.5-1 0.5 1-0.5 1.5zM655 130.5l1.5-3 3.5-5-5-1.5-2 6.5zM307.5 123l1-5.5-1-3-0.5 8zM504 120.5l1.5-3-0.5-5.5-1-0.5-1 0.5-3 5.5zM690.5 119.5l0-4-4 2zM312.5 113l5-5.5 5-1.5 1.5-4-1-15-0.5-0.5-1 10.5-4 3.5-5-3-2.5 4.5-0.5 5 0 5zM489 116l1-4-1-1-2.5 1zM579.5 114.5l0.5-2.5-1 0zM625 116l1-4-1-0.5-1 0.5zM680 112.5l10.5-2.5 0-2.5-2.5-0.5-1-5 3.5-3.5 0-14-5.5-0.5-2.5 3-2.5 5-0.5 0 0.5 0 2 5 1 5-1 5-2.5 5zM683 92l2-3.5 3.5 3.5-3.5 4.5zM327.5 108.5l1-1.5-1-0.5-2.5 0.5zM499 109.5l1.5-2.5-1.5-0.5-2 0.5zM509 110l2-3-2-3-2 3zM519 107.5l0.5-0.5 1-5-1.5-0.5-2 0.5 1.5 5zM70.5 104l1.5-2-1.5-1.5-2 1.5zM86 104.5l5-2 5 0 5-5 5 1 1-1.5-1-2-5 0-1.5-3-3.5-4-5 6.5-5-1.5-5.5 2.5-5-2.5-2 4 2 1.5 5 0 3 3.5zM373 99.5l1.5-2.5-1.5-1.5-4.5 1.5zM640 99.5l3.5-2.5-3.5-2.5-2.5 2.5zM458.5 93l0.5-1-0.5-1.5-1 1.5zM569.5 92.5l1.5-0.5-1.5-2-1 2zM579.5 92.5l5 4 1.5-4.5-1.5-2-5-4-1 1-0.5 5zM589.5 88.5l4-1.5-4-2-2.5 2zM604.5 87.5l2.5-0.5-2.5-1-1 1zM650 88.5l5 0 0.5-1.5 4.5-3 5 0.5 3-3-3-0.5-5-7-5 0.5-5-3.5-1.5 0.5-4.5 10 1 0.5 2.5 5zM96 83l0.5-1.5-0.5-0.5-0.5 0.5zM141 82l6-0.5 6.5-5 0-5 8-3.5 1-1.5-2.5-5 1.5-1 2.5-4.5-7-5-3-5-2.5-3-4-2-2.5 0 2 5-1 5-5-0.5-5 4.5-5-3.5-4.5 4.5 0.5 5.5 2.5 5 6.5 3 5-4 8.5 6-3.5 4-5-2.5-1.5 3.5 1 5zM135 66.5l-5.5-5 1.5-3.5 6.5 3.5-0.5 5-1 0.5zM150.5 66.5l1-1.5 0.5 1.5-0.5 1.5zM142.5 61.5l3.5-6 2 0.5 1.5 5.5-3.5 4.5zM353 84l3.5-2.5-3.5-5.5-2.5 5.5zM116 78l3-1.5-3-1-0.5 1zM342.5 76.5l4.5-5-4.5-4.5-1 4.5 1 5zM544 77l1-0.5-1-2.5-0.5 2.5zM604.5 77.5l1-1-1-1-1 1zM614.5 78.5l2.5-2-2.5-2.5-1.5 2.5zM126 74l1-2.5-1-2-3 2zM448.5 73l1.5-1.5 3.5-11.5 5 2.5 1.5-1-2.5-5.5-4-1.5-5 3-2.5 4 0 5 1.5 5zM569.5 73l5 0 1.5-1.5-1.5-5-5 1-1.5 4zM630 73.5l3-2-3-2.5-3.5 2.5zM111 68.5l1-2-1-1-0.5 1zM640 66.5l5 3 1-3 4-1 5 3 1.5-2-6.5-10.5-9.5-5 4.5-2.5 5-0.5 5.5-2 2.5-5-23.5 0 0.5 2.5 3 2.5 1 5-14 5 5 2.5 5 6 4.5 2zM643.5 61.5l1.5-1 0.5 1-0.5 2.5zM342.5 66l2.5-4.5 0.5-5.5-3-0.5-1.5 0.5-0.5 5.5zM549 63l2.5-1.5-2.5-1-3.5 1zM579.5 62.5l0.5-1-0.5-1-1.5 1zM609.5 64.5l5-1.5 2-1.5-2-1.5-5-2-2.5 3.5zM665 62.5l1.5-6.5-1.5-1-1 1 0.5 5.5zM181.5 58l0.5-2-0.5-1-0.5 1zM438.5 58l3.5-2-3.5-2-3 2zM468.5 57.5l1-1.5-0.5-5 5.5-5 3.5-5-20.5 0-0.5 5 1.5 6.5 5 1.5 3 2zM460.5 46l3-4 4.5 4-4.5 3zM554.5 58.5l1.5-2.5-1.5-5-1.5 5zM564.5 57.5l0.5-1.5-0.5-0.5-0.5 0.5zM604.5 57.5l2.5-1.5-2.5-2-2 2zM176.5 53l2.5-2-2.5-1-1 1zM489 52l5-1-4-10-3.5 0-2.5 5 3.5 5zM529 53.5l2.5-2.5-2.5-2-2 2zM544 53l2-2-2-1.5-1 1.5zM609.5 54l1.5-3-1.5-1.5-2 1.5zM106 48l3.5-2-2-5-3.5 0-0.5 5zM342.5 46.5l0.5-0.5-0.5-1-2 1zM443.5 50.5l1-4.5-1-0.5-1.5 0.5zM509 47l2.5-1-2.5-3-1 3zM599.5 47.5l2-1.5-0.5-5-2.5 0 0 5zM554.5 45.5l5-4.5-8 0zM675 42.5l2-1.5-5 0z" fill="#ff8900" stroke="#ff8900" stroke-width="0.6"/>
<path d="M70.5 163.5l1.5-5.5-1.5-1-5 0 0 10.5zM549 138l2.5-5.5-2.5-4.5-5-7-2 6.5 2 8 3 2zM574.5 135.5l5-1.5 1-1.5-1-2.5-5-3.5-2 1 0 5zM342.5 128l7-5.5 9.5-5 1-5.5-2-2-1.5 2-3.5 2-4.5 3.5-1 1.5-5-3-4 6.5 3.5 5zM341 122.5l1.5-2 2.5 2-2.5 2zM373 128.5l0.5-1-0.5-2.5-1.5 2.5zM418.5 129.5l1-2-1-3-2 3zM373 120.5l5-2 0.5-1-0.5-1-5-3.5-2.5 4.5zM383 113l3-1-3-1-1 1zM408 113.5l2-1.5-2-1-3.5 1zM609.5 112.5l1.5-0.5-1.5-5 0 5zM393 110.5l2-3.5-2-1-2.5 1zM690.5 107.5l0-9-3.5 3.5 1 5zM443.5 103l1-1-1-0.5-2.5 0.5zM398 93l4.5-6-4.5-4.5-2.5 4.5 2 5zM428.5 92.5l0.5-0.5-0.5-2-1 2zM685 96.5l3.5-4.5-3.5-3.5-2 3.5zM398 81l4.5-4.5-4.5-3.5-3.5 3.5zM408 78l1.5-1.5-1.5-0.5-3 0.5zM388 74l1.5-2.5-1.5-4.5-2 4.5zM413 72.5l5.5 1.5 0.5-2.5-0.5-2.5-2-2.5-3.5-2-2 2 1.5 5zM136 67l1-0.5 0.5-5-6.5-3.5-1.5 3.5 5.5 5zM146 66l3.5-4.5-1.5-5.5-2-0.5-3.5 6zM373 52l2-1-2-2-2 2zM368 44.5l2.5-3.5-7 0z" fill="#ff5900" stroke="#ff5900" stroke-width="0.6"/>
<path d="M342.5 124.5l2.5-2-2.5-2-1.5 2z" fill="#ff2500" stroke="#ff2500" stroke-width="0.6"/>
<path d="M386.8 195.1L389.3 192.6L391.8 195.1L389.3 197.6Z" fill="#ff8900"/>
<path d="M387.9 195.1L389.3 193.7L390.7 195.1L389.3 196.5Z" fill="#ff5900"/>
<path d="M92.1 129.7L94.6 127.2L97.1 129.7L94.6 132.2Z" fill="#ff8900"/>
<path d="M93.2 129.7L94.6 128.3L96.0 129.7L94.6 131.1Z" fill="#ff5900"/>
<path d="M658.8 198.9L661.3 196.4L663.8 198.9L661.3 201.4Z" fill="#ff8900"/>
<path d="M659.9 198.9L661.3 197.5L662.7 198.9L661.3 200.3Z" fill="#ff5900"/>
</g></g>
<path d="M56.8 89.4L66.2 90.1L72.5 88.8L80.7 89.4L86.4 89.4L93.3 86.9L96.5 90.1L101.5 88.2L98.4 92.6L97.7 96.4L101.5 100.1L97.1 105.2L95.2 106.4L100.3 110.2L102.1 112.7L107.2 114.6L114.7 114.6L121.7 116.5L127.3 117.8L129.8 123.4L135.5 125.3L141.8 126.6L148.1 129.7L151.3 131.0L156.3 127.8L158.2 125.3L157.6 120.3L159.4 117.8L167.0 114.6L173.3 115.2L177.7 118.4L182.7 120.3L190.3 122.8L198.5 123.4L203.5 124.7L211.1 126.6L219.9 125.3L223.0 123.4L226.8 122.8L231.9 123.4L235.0 124.7L240.7 125.9L247.0 124.7L248.9 122.8L250.8 119.6L252.0 115.2L252.6 113.4L255.2 108.3L257.7 102.7L257.0 98.3L257.7 95.7L259.6 91.3L255.8 91.3L250.1 90.1L245.7 93.2L243.2 93.9L236.3 94.5L232.5 91.3L230.0 90.1L224.3 90.1L223.0 93.2L218.6 93.9L215.5 93.2L211.1 91.3L209.2 90.7L205.4 90.1L204.2 88.8L202.9 86.3L203.5 83.2L199.7 81.3L197.9 80.6L201.6 78.8L200.4 76.2L199.7 74.4L196.0 73.1L196.6 69.3L199.7 66.8L204.8 68.1L207.9 67.4L213.6 67.4L216.7 65.5L219.9 65.5L214.9 63.0L211.7 62.4L208.6 59.9L207.9 57.4L205.4 54.2L207.3 51.1L207.9 48.6L211.7 44.8L212.3 41.0L214.2 38.5L218.0 36.0M197.2 64.3L192.2 64.3L185.9 64.3L181.5 65.5L181.5 68.7L178.3 68.7L173.9 66.8L173.9 70.0L175.8 73.7L179.0 75.0L175.2 76.9L179.0 79.4L182.7 81.3L178.3 83.2L175.8 85.0L177.7 86.9L175.2 92.0L172.7 92.6L171.4 89.4L169.5 90.1L168.3 87.6L168.3 85.0L164.5 83.8L166.4 81.3L167.6 80.6L163.9 78.1L162.6 77.5L162.0 75.6L158.8 72.5L156.9 70.0L153.8 68.1L154.4 64.9L154.4 61.1L153.8 58.6L150.6 55.5L148.1 54.2L142.4 51.1L138.7 49.8L134.3 47.9L131.7 47.3L127.3 43.5L125.4 41.0L121.7 37.2L117.3 34.7M108.4 35.4L109.7 39.8L109.7 42.9L113.5 46.0L117.3 47.9L119.8 53.0L124.2 56.7L127.3 58.0L133.0 58.6L131.7 60.5L136.1 62.4L141.8 64.9L145.0 66.2L148.1 69.3L146.2 71.2L144.3 68.1L139.3 66.8L136.1 69.3L136.1 72.5L139.3 73.7L139.3 76.9L136.1 77.5L133.0 82.5L129.8 82.5L130.5 78.8L133.6 76.9L130.5 73.1L128.6 70.0L125.4 68.1L124.8 65.5L121.7 64.9L117.9 62.4L113.5 61.8L108.4 58.6L104.7 55.5L101.5 54.9L97.7 51.7L97.7 49.2L95.8 45.4L92.1 43.5L89.5 42.9L85.1 43.5L83.9 45.4L78.8 46.0L75.1 47.9L72.5 50.5L68.1 50.5L63.1 49.2L60.0 48.6M109.7 83.8L111.0 81.9L115.4 81.3L119.8 82.5L126.1 81.9L129.8 80.6L128.0 84.4L126.7 86.9L128.0 89.4L126.7 90.7L122.3 90.1L121.7 88.8L116.0 87.6L111.0 85.0L109.7 83.8M84.5 76.2L84.5 71.8L85.1 68.1L83.3 64.3L87.0 64.3L89.5 62.4L92.7 64.3L93.3 66.8L92.1 70.6L92.1 75.0L88.3 75.6L85.8 76.9L84.5 76.2M85.8 61.1L86.4 58.0L85.8 54.9L88.9 53.0L90.8 51.1L91.4 53.6L91.4 57.4L89.5 61.1L85.8 61.1M179.6 99.5L182.7 98.3L184.6 98.9L189.0 98.9L194.1 99.5L197.2 99.5L196.0 101.4L192.2 101.4L187.2 102.0L182.7 100.8L179.6 99.5M235.0 102.7L235.6 100.8L240.0 98.9L245.1 99.5L249.5 97.0L245.7 101.4L243.2 102.7L237.5 103.9L235.0 102.7M214.9 62.4L222.4 62.4L228.1 63.0L235.0 59.3L242.6 57.4L250.1 58.0L252.6 57.4L257.7 59.3L260.2 61.8L267.8 63.0L272.8 64.3L280.3 63.7L285.4 63.7L292.9 60.5L294.2 57.4L292.9 53.6L287.9 51.1L283.5 48.6L277.2 44.8L270.9 42.3L266.5 39.8L263.3 37.2M236.3 36.0L242.6 41.0L248.9 39.8L255.2 37.9L261.5 36.6M327.6 36.6L329.5 41.6L330.7 47.9L335.1 54.2L337.6 58.0L341.4 60.5L343.9 64.3L349.0 68.1L345.8 68.1L343.3 70.0L341.4 73.7L339.5 80.0L340.2 83.8L343.3 85.7L347.7 88.2L352.8 90.1L359.1 91.3L365.4 89.4L371.7 89.4L371.0 85.7L370.4 80.0L366.6 74.4L369.1 73.1L365.4 70.0L364.7 64.3L369.1 62.4L372.3 60.5L369.8 56.7L364.1 58.6L362.2 52.3L354.7 49.8L352.8 44.8L348.4 42.3L354.7 41.0L355.3 37.2L362.2 35.4M399.4 34.7L400.6 38.5L402.5 42.9L406.9 41.6L409.4 38.5L408.2 34.7M235.0 131.6L236.9 133.5L236.9 136.0L238.8 139.1L243.2 147.3L245.1 151.7L247.0 154.9L252.0 166.8L255.8 171.2L256.4 176.9L264.0 183.2L266.5 189.5L265.9 198.3L268.4 203.9L273.4 208.3L276.6 214.6L278.5 219.0L280.3 224.1L284.8 227.2L289.8 232.2M236.9 132.8L239.4 136.6L243.2 142.3L247.6 146.7L248.9 142.3L251.4 136.0L251.4 141.7L253.3 145.4L255.8 149.2L261.5 158.0L264.6 163.7L267.8 168.7L272.2 172.5L275.9 178.1L277.8 181.3L278.5 186.9L281.6 191.3L283.5 194.5L287.3 198.3L289.8 202.0L294.2 209.6L298.0 214.0L299.9 217.8L300.5 222.8L301.1 227.2L302.4 233.5M340.2 230.3L346.5 227.2L352.8 225.9L360.3 222.2L360.9 219.0L366.0 216.5L372.3 214.6L379.8 212.7L381.1 209.0L386.8 209.0L389.3 204.6L395.6 202.0L396.2 197.0L399.4 193.2L402.5 192.0L405.7 186.9L408.2 180.7L406.3 178.1L402.5 173.7L400.6 173.1L395.0 171.8L391.2 168.7L386.8 164.9L386.1 160.5L386.8 156.8L385.5 155.5L384.2 158.0L381.1 161.2L377.9 164.3L375.4 166.8L371.7 169.3L368.5 169.3L362.8 169.3L359.1 170.6L356.5 170.0L355.3 166.8L356.5 164.3L356.5 160.5L355.9 158.6L354.0 157.4L352.1 160.5L351.5 164.9L349.6 162.4L347.7 159.3L347.1 156.1L343.3 151.7L341.4 148.6L337.6 145.4L336.4 142.3L333.9 139.1L332.6 136.6L333.9 133.5L337.0 133.5L339.5 131.6L343.3 132.8L347.7 134.1L348.4 137.3L351.5 139.8L354.7 145.4L357.2 146.7L362.8 149.2L368.5 153.0L371.7 154.2L376.7 154.9L381.1 153.6L384.9 151.1L389.3 151.1L391.2 154.9L392.4 159.3L395.6 159.9L402.5 161.2L406.9 161.8L413.2 162.4L419.5 163.0L423.9 163.7L430.2 163.0L437.1 163.0L443.4 162.4L448.5 161.2L451.6 163.0L453.5 165.6L456.0 170.0L457.3 171.8L461.1 173.1L463.6 175.6L466.1 178.1L469.9 178.1L474.9 176.9L473.7 179.4L471.1 180.7L467.4 181.3L466.1 183.2L469.9 186.3L474.9 189.5L478.7 190.7L485.0 188.2L488.8 185.1L488.8 181.3L490.7 184.4L489.4 189.5L490.7 193.2L490.0 198.9L490.0 202.0L491.3 207.1L493.2 212.7L493.8 218.4L495.7 222.8L497.0 227.2L498.2 230.3M536.0 230.3L536.6 227.2L537.3 222.8L541.0 221.5L542.9 219.0L549.2 217.1L549.9 214.6L556.2 210.2L561.2 206.4L565.6 200.8L569.4 198.3L575.7 195.8L578.8 190.7L579.5 186.3L583.2 185.7L587.0 185.1L590.8 185.7L595.8 183.8L600.2 184.4L602.1 182.5L604.6 179.4L607.8 180.0L609.7 181.3L610.9 186.3L611.6 189.5L613.5 191.3L615.3 194.5L619.1 198.3L622.9 202.0L624.8 205.2L626.7 210.8L626.7 214.6L625.4 219.0L627.3 221.5L629.8 222.2L633.6 221.5L636.8 219.0L639.3 217.8L643.7 215.2L646.2 218.4L646.8 224.1L647.5 230.3M495.7 72.5L500.1 78.8L501.4 90.1L507.0 92.6L510.8 95.1L517.7 99.5L522.8 103.9L527.2 107.7L527.8 117.1L529.7 125.3L534.1 127.8L541.0 132.2L548.0 135.4L554.3 139.1L561.8 141.7L568.1 142.9L574.4 144.2L582.0 142.9L588.9 145.4L595.2 144.2L603.4 144.2L610.9 146.1L620.4 142.9L629.8 140.4L639.3 141.7L645.6 145.4L650.6 150.5L658.2 152.3L664.5 153.0L669.5 147.9L673.9 146.7L676.4 139.1L675.2 131.6L680.2 124.7L682.7 116.5L685.2 106.4L682.1 99.5L678.9 93.2L673.9 85.0L666.4 78.8L658.2 74.4L648.7 71.8L639.3 71.8L629.8 72.5L620.4 73.7L610.9 76.2L601.5 79.4L592.0 83.2L582.0 81.9L571.9 85.0L563.1 85.7L554.9 90.1L543.6 93.9L532.9 90.1L521.5 84.4L510.8 78.8L502.6 72.5L495.7 72.5" fill="none" stroke="#111" stroke-width="0.95" stroke-linejoin="round"/><g fill="none" stroke="#111" stroke-width="0.9"><ellipse cx="191.6" cy="88.2" rx="0.9" ry="0.8"/><ellipse cx="190.3" cy="85.0" rx="0.9" ry="0.8"/><ellipse cx="188.4" cy="83.2" rx="0.9" ry="0.8"/><ellipse cx="195.3" cy="75.0" rx="1.3" ry="1.0"/><ellipse cx="196.0" cy="80.0" rx="1.3" ry="1.0"/><ellipse cx="201.6" cy="84.4" rx="0.9" ry="0.8"/><ellipse cx="207.9" cy="93.2" rx="1.3" ry="1.0"/><ellipse cx="185.9" cy="79.4" rx="1.6" ry="1.2"/><ellipse cx="180.9" cy="81.9" rx="0.9" ry="0.8"/><ellipse cx="194.7" cy="92.0" rx="0.9" ry="0.8"/><ellipse cx="185.3" cy="85.7" rx="0.9" ry="0.8"/><ellipse cx="192.2" cy="70.0" rx="0.9" ry="0.8"/><ellipse cx="201.0" cy="89.4" rx="0.9" ry="0.8"/><ellipse cx="187.2" cy="65.5" rx="0.9" ry="0.8"/><ellipse cx="156.9" cy="72.5" rx="0.9" ry="0.8"/><ellipse cx="121.7" cy="65.5" rx="0.9" ry="0.8"/><ellipse cx="109.1" cy="95.7" rx="0.9" ry="0.8"/><ellipse cx="122.3" cy="95.7" rx="0.9" ry="0.8"/></g>
<path d="M52.9 35.0L56.1 34.8L54.1 37.9L63.9 33.5L53.7 30.1L56.0 33.0L52.8 33.1ZM76.5 35.0L79.7 34.8L77.7 37.9L87.5 33.5L77.3 30.1L79.6 33.0L76.5 33.1ZM99.2 35.0L104.4 34.8L102.3 37.9L112.1 33.4L101.9 30.1L104.3 32.9L99.1 33.2ZM121.8 35.1L129.0 34.7L126.9 37.8L136.7 33.4L126.5 30.0L128.9 32.9L121.7 33.3ZM143.9 35.2L154.1 34.6L152.0 37.7L161.8 33.3L151.6 29.9L154.0 32.8L143.8 33.3ZM169.4 36.6L176.4 34.8L175.0 38.2L183.7 31.8L173.0 30.7L175.9 33.0L169.0 34.8ZM191.8 37.4L201.5 34.3L200.3 37.8L208.6 31.0L197.9 30.4L200.9 32.5L191.2 35.7ZM215.0 38.8L226.1 33.7L225.3 37.3L232.7 29.6L222.0 30.2L225.3 32.0L214.2 37.2ZM237.6 41.7L251.7 31.8L251.6 35.5L257.5 26.6L247.1 29.2L250.6 30.3L236.5 40.2ZM260.1 41.1L275.9 32.0L275.4 35.7L282.2 27.3L271.5 28.9L274.9 30.4L259.2 39.5ZM282.2 40.5L300.5 32.0L299.8 35.6L307.2 27.9L296.5 28.6L299.7 30.3L281.4 38.9ZM306.3 37.9L322.9 33.5L321.6 36.9L330.2 30.5L319.5 29.4L322.4 31.7L305.8 36.1ZM330.9 35.7L345.0 34.4L343.1 37.6L352.7 32.8L342.4 29.8L344.8 32.6L330.7 33.8ZM353.4 35.2L369.6 34.5L367.5 37.6L377.3 33.3L367.2 29.8L369.5 32.7L353.3 33.4ZM376.0 34.7L394.2 34.7L392.0 37.7L402.0 33.8L392.0 29.9L394.2 32.9L376.0 32.9ZM399.6 34.7L417.8 34.7L415.6 37.7L425.6 33.8L415.6 29.9L417.8 32.9L399.6 32.9ZM423.2 34.7L441.4 34.7L439.2 37.7L449.2 33.8L439.2 29.9L441.4 32.9L423.2 32.9ZM446.8 34.7L465.0 34.7L462.8 37.7L472.8 33.8L462.8 29.9L465.0 32.9L446.8 32.9ZM470.4 34.7L488.6 34.7L486.4 37.7L496.4 33.8L486.4 29.9L488.6 32.9L470.4 32.9ZM494.3 34.7L512.0 34.7L509.8 37.7L519.8 33.8L509.8 29.9L512.0 32.9L494.3 32.9ZM518.2 34.7L535.4 34.7L533.2 37.7L543.2 33.8L533.2 29.9L535.4 32.9L518.2 32.9ZM542.0 34.7L558.7 34.7L556.5 37.7L566.5 33.8L556.5 29.9L558.7 32.9L542.0 32.9ZM565.9 34.7L582.1 34.7L579.9 37.7L589.9 33.8L579.9 29.9L582.1 32.9L565.9 32.9ZM587.5 33.2L607.6 35.4L605.1 38.1L615.4 35.2L605.9 30.3L607.8 33.5L587.7 31.4ZM608.3 31.2L633.9 36.6L631.1 39.1L641.7 37.3L632.8 31.4L634.3 34.8L608.7 29.3ZM631.1 30.0L658.3 37.3L655.4 39.6L666.1 38.4L657.5 32.1L658.8 35.5L631.6 28.2ZM654.9 29.1L681.7 37.8L678.7 40.0L689.5 39.3L681.1 32.5L682.3 36.1L655.5 27.3ZM678.7 28.5L705.2 38.1L702.1 40.2L712.9 39.9L704.8 32.9L705.8 36.4L679.4 26.8ZM52.9 58.6L56.1 58.4L54.1 61.5L63.9 57.1L53.7 53.7L56.0 56.6L52.8 56.7ZM76.5 58.6L79.7 58.4L77.7 61.5L87.5 57.1L77.3 53.7L79.6 56.6L76.5 56.7ZM99.2 58.6L104.4 58.4L102.3 61.4L112.1 57.0L101.9 53.7L104.3 56.5L99.1 56.8ZM121.8 58.7L129.0 58.3L126.9 61.4L136.7 57.0L126.5 53.6L128.9 56.5L121.7 56.8ZM143.9 58.8L154.1 58.2L152.0 61.3L161.8 56.9L151.6 53.5L154.0 56.4L143.8 56.9ZM169.4 60.2L176.4 58.3L175.0 61.8L183.7 55.4L173.0 54.2L175.9 56.6L169.0 58.4ZM191.8 61.0L201.5 57.9L200.3 61.4L208.6 54.6L197.9 54.0L200.9 56.1L191.2 59.3ZM215.0 62.4L226.1 57.3L225.3 60.9L232.7 53.1L222.0 53.8L225.3 55.6L214.2 60.8ZM237.6 65.3L251.7 55.4L251.6 59.1L257.5 50.2L247.1 52.7L250.6 53.9L236.5 63.8ZM260.1 64.7L275.9 55.6L275.4 59.2L282.2 50.9L271.5 52.5L274.9 54.0L259.2 63.1ZM282.2 64.1L300.5 55.6L299.8 59.2L307.2 51.5L296.5 52.1L299.7 53.9L281.4 62.4ZM306.3 61.5L322.9 57.0L321.6 60.5L330.2 54.1L319.5 53.0L322.4 55.3L305.8 59.7ZM330.9 59.3L345.0 58.0L343.1 61.2L352.7 56.4L342.4 53.4L344.8 56.2L330.7 57.4ZM353.4 58.8L369.6 58.1L367.5 61.2L377.3 56.8L367.2 53.4L369.5 56.3L353.3 57.0ZM376.0 58.3L394.2 58.3L392.0 61.3L402.0 57.4L392.0 53.5L394.2 56.4L376.0 56.4ZM399.6 58.3L417.8 58.3L415.6 61.3L425.6 57.4L415.6 53.5L417.8 56.4L399.6 56.4ZM423.2 58.3L441.4 58.3L439.2 61.3L449.2 57.4L439.2 53.5L441.4 56.4L423.2 56.4ZM446.8 58.3L465.0 58.3L462.8 61.3L472.8 57.4L462.8 53.5L465.0 56.4L446.8 56.4ZM470.4 58.3L488.6 58.3L486.4 61.3L496.4 57.4L486.4 53.5L488.6 56.4L470.4 56.4ZM494.3 58.3L512.0 58.3L509.8 61.3L519.8 57.4L509.8 53.5L512.0 56.4L494.3 56.4ZM518.2 58.3L535.4 58.3L533.2 61.3L543.2 57.4L533.2 53.5L535.4 56.4L518.2 56.4ZM542.0 58.3L558.7 58.3L556.5 61.3L566.5 57.4L556.5 53.5L558.7 56.4L542.0 56.4ZM565.9 58.3L582.1 58.3L579.9 61.3L589.9 57.4L579.9 53.5L582.1 56.4L565.9 56.4ZM587.5 56.8L607.6 58.9L605.1 61.7L615.4 58.8L605.9 53.9L607.8 57.1L587.7 55.0ZM608.3 54.7L633.9 60.2L631.1 62.6L641.7 60.9L632.8 55.0L634.3 58.4L608.7 52.9ZM631.1 53.6L658.3 60.9L655.4 63.2L666.1 62.0L657.5 55.7L658.8 59.1L631.6 51.8ZM654.9 52.7L681.7 61.4L678.7 63.6L689.5 62.9L681.1 56.1L682.3 59.6L655.5 50.9ZM678.7 52.1L705.2 61.7L702.1 63.8L712.9 63.5L704.8 56.4L705.8 60.0L679.4 50.3ZM49.9 82.2L59.1 81.9L57.0 84.9L66.9 80.7L56.7 77.1L59.0 80.0L49.9 80.3ZM73.5 82.2L82.7 81.9L80.6 84.9L90.5 80.7L80.4 77.1L82.7 80.0L73.5 80.3ZM95.6 82.2L107.8 81.8L105.7 84.9L115.6 80.6L105.5 77.1L107.8 80.0L95.6 80.4ZM119.3 82.2L131.4 81.8L129.4 84.9L139.2 80.6L129.1 77.1L131.4 80.0L119.2 80.4ZM143.9 82.7L154.1 81.8L152.2 84.9L161.8 80.2L151.5 77.2L153.9 79.9L143.8 80.8ZM167.0 84.4L178.8 81.3L177.5 84.7L186.1 78.4L175.4 77.2L178.3 79.5L166.5 82.7ZM190.5 86.4L203.4 80.4L202.6 84.1L210.0 76.3L199.3 77.0L202.6 78.8L189.7 84.8ZM213.1 87.6L228.3 79.6L227.7 83.2L234.7 75.1L224.0 76.3L227.4 77.9L212.2 86.0ZM235.6 88.8L253.1 78.7L252.7 82.3L259.4 74.0L248.8 75.6L252.2 77.1L234.7 87.2ZM257.7 88.1L277.8 78.8L277.1 82.4L284.5 74.6L273.8 75.3L277.0 77.1L256.9 86.5ZM279.0 89.2L303.7 77.7L303.0 81.3L310.4 73.6L299.7 74.3L302.9 76.0L278.3 87.5ZM304.3 87.0L325.2 79.4L324.2 82.9L332.2 75.8L321.5 75.6L324.6 77.6L303.7 85.2ZM331.1 83.8L345.1 81.3L343.4 84.6L352.6 79.0L342.0 76.9L344.7 79.5L330.7 82.0ZM354.5 82.8L368.6 81.6L366.7 84.8L376.3 80.0L366.0 77.0L368.5 79.8L354.3 81.0ZM376.5 81.9L393.7 81.9L391.5 84.9L401.5 81.0L391.5 77.1L393.7 80.0L376.5 80.0ZM399.1 81.9L418.3 81.9L416.1 84.9L426.1 81.0L416.1 77.1L418.3 80.0L399.1 80.0ZM422.6 81.9L442.0 81.9L439.8 84.9L449.8 81.0L439.8 77.1L442.0 80.0L422.6 80.0ZM446.2 81.9L465.7 81.9L463.5 84.9L473.5 81.0L463.5 77.1L465.7 80.0L446.2 80.0ZM469.7 81.9L489.3 81.9L487.1 84.9L497.1 81.0L487.1 77.1L489.3 80.0L469.7 80.0ZM493.3 81.9L513.0 81.9L510.8 84.9L520.8 81.0L510.8 77.1L513.0 80.0L493.3 80.0ZM516.8 81.9L536.7 81.9L534.5 84.9L544.5 81.0L534.5 77.1L536.7 80.0L516.8 80.0ZM540.3 81.9L560.4 81.9L558.2 84.9L568.2 81.0L558.2 77.1L560.4 80.0L540.3 80.0ZM563.9 81.9L584.1 81.9L581.9 84.9L591.9 81.0L581.9 77.1L584.1 80.0L563.9 80.0ZM586.0 81.1L609.1 82.3L606.8 85.1L617.0 81.8L607.2 77.4L609.2 80.4L586.1 79.2ZM607.6 79.4L634.6 83.2L632.0 85.9L642.4 83.4L633.1 78.1L634.8 81.4L607.9 77.6ZM630.9 78.1L658.5 84.0L655.7 86.4L666.3 84.7L657.4 78.8L658.9 82.2L631.3 76.3ZM654.7 77.2L681.9 84.5L679.1 86.8L689.7 85.6L681.1 79.3L682.4 82.7L655.2 75.4ZM678.5 76.3L705.4 85.0L702.4 87.1L713.1 86.5L704.8 79.7L705.9 83.2L679.1 74.5ZM45.9 106.1L63.1 105.2L61.1 108.3L70.9 103.9L60.7 100.5L63.0 103.4L45.8 104.3ZM69.6 106.1L86.7 105.2L84.7 108.3L94.5 103.9L84.3 100.5L86.6 103.4L69.5 104.3ZM94.7 106.4L108.9 105.2L106.9 108.3L116.6 103.6L106.3 100.6L108.7 103.3L94.6 104.6ZM118.5 107.4L132.5 104.9L130.9 108.2L140.1 102.6L129.5 100.5L132.2 103.1L118.2 105.5ZM141.5 108.5L157.1 104.4L155.8 107.8L164.4 101.4L153.8 100.3L156.6 102.6L141.0 106.8ZM164.5 109.9L181.6 103.6L180.6 107.2L188.7 100.1L177.9 99.9L181.0 101.9L163.9 108.1ZM188.4 112.3L205.9 102.2L205.5 105.9L212.2 97.5L201.6 99.2L205.0 100.6L187.5 110.7ZM211.1 114.5L230.9 100.6L230.8 104.3L236.8 95.4L226.4 97.9L229.9 99.1L210.0 113.0ZM234.9 115.4L254.7 99.9L254.8 103.6L260.3 94.4L250.0 97.5L253.6 98.5L233.7 114.0ZM259.1 113.9L277.3 101.2L277.2 104.9L283.2 95.9L272.8 98.5L276.3 99.7L258.1 112.4ZM282.0 112.8L301.2 101.7L300.8 105.4L307.5 97.0L296.9 98.7L300.3 100.1L281.1 111.2ZM305.3 112.4L324.9 102.0L324.4 105.6L331.4 97.5L320.7 98.8L324.1 100.3L304.5 110.8ZM329.4 110.0L347.4 103.5L346.4 107.0L354.4 99.9L343.7 99.7L346.8 101.7L328.7 108.3ZM353.7 107.5L369.7 104.7L368.0 108.0L377.2 102.5L366.6 100.4L369.3 102.9L353.4 105.7ZM376.5 106.1L393.7 105.2L391.7 108.3L401.5 103.9L391.3 100.5L393.6 103.4L376.4 104.3ZM400.1 105.5L417.3 105.5L415.1 108.4L425.1 104.5L415.1 100.6L417.3 103.6L400.1 103.6ZM423.6 105.5L441.0 105.5L438.8 108.4L448.8 104.5L438.8 100.6L441.0 103.6L423.6 103.6ZM447.1 105.5L464.8 105.5L462.6 108.4L472.6 104.5L462.6 100.6L464.8 103.6L447.1 103.6ZM470.5 105.5L488.5 105.5L486.3 108.4L496.3 104.5L486.3 100.6L488.5 103.6L470.5 103.6ZM494.0 105.5L512.2 105.5L510.0 108.4L520.0 104.5L510.0 100.6L512.2 103.6L494.0 103.6ZM517.5 105.5L536.0 105.5L533.8 108.4L543.8 104.5L533.8 100.6L536.0 103.6L517.5 103.6ZM541.0 105.5L559.7 105.5L557.5 108.4L567.5 104.5L557.5 100.6L559.7 103.6L541.0 103.6ZM564.5 105.5L583.5 105.5L581.3 108.4L591.3 104.5L581.3 100.6L583.5 103.6L564.5 103.6ZM588.0 105.5L607.2 105.5L605.0 108.4L615.0 104.5L605.0 100.6L607.2 103.6L588.0 103.6ZM608.9 101.2L633.3 107.7L630.4 110.0L641.0 108.8L632.4 102.5L633.8 105.9L609.4 99.4ZM632.7 100.3L656.7 108.1L653.7 110.3L664.4 109.6L656.1 102.8L657.3 106.4L633.3 98.6ZM658.1 99.8L678.7 108.1L675.5 110.0L686.2 110.2L678.4 102.8L679.4 106.4L658.8 98.1ZM682.0 99.0L702.1 108.4L698.8 110.2L709.5 110.9L702.1 103.1L702.9 106.7L682.7 97.4ZM46.0 130.1L63.1 128.6L61.2 131.8L70.8 127.0L60.5 124.0L63.0 126.8L45.8 128.3ZM69.6 130.1L86.8 128.6L84.8 131.8L94.4 127.0L84.1 124.0L86.6 126.8L69.5 128.3ZM93.5 131.2L110.4 128.2L108.7 131.5L117.9 126.0L107.4 123.9L110.1 126.4L93.1 129.4ZM116.7 131.7L134.5 128.0L133.0 131.3L141.9 125.4L131.3 123.7L134.1 126.1L116.3 129.9ZM141.9 134.3L157.5 127.0L156.7 130.6L164.2 122.8L153.4 123.5L156.7 125.3L141.1 132.6ZM165.2 136.5L182.1 125.5L181.9 129.2L188.2 120.5L177.7 122.7L181.1 124.0L164.2 135.0ZM189.1 136.9L205.7 125.3L205.6 129.0L211.5 120.1L201.1 122.6L204.6 123.8L188.1 135.4ZM216.5 136.6L226.6 126.5L227.1 130.2L231.5 120.4L221.6 124.7L225.3 125.2L215.2 135.3ZM240.9 138.9L250.7 124.8L251.9 128.3L254.5 117.9L245.5 123.8L249.2 123.8L239.4 137.8ZM264.5 138.9L274.4 124.8L275.5 128.3L278.1 117.9L269.1 123.8L272.8 123.8L263.0 137.8ZM288.2 137.2L297.3 126.3L298.1 129.9L301.6 119.7L292.2 124.9L295.9 125.1L286.7 136.0ZM311.7 135.9L320.3 127.2L320.9 130.9L325.2 121.1L315.4 125.4L319.0 125.9L310.4 134.5ZM334.9 134.1L343.3 128.2L343.2 131.9L349.1 123.0L338.7 125.5L342.2 126.7L333.8 132.5ZM358.8 130.8L364.8 129.2L363.5 132.7L372.1 126.3L361.4 125.1L364.3 127.4L358.4 129.1ZM383.1 129.6L387.3 129.2L385.3 132.4L394.9 127.6L384.6 124.6L387.1 127.4L382.9 127.7ZM406.6 129.5L411.0 129.2L409.0 132.3L418.7 127.7L408.4 124.5L410.8 127.3L406.4 127.7ZM430.1 129.5L434.7 129.2L432.7 132.3L442.4 127.7L432.2 124.5L434.6 127.3L429.9 127.6ZM453.5 129.4L458.4 129.1L456.4 132.2L466.1 127.8L455.9 124.5L458.3 127.3L453.4 127.6ZM477.0 129.4L482.1 129.1L480.1 132.2L489.9 127.8L479.7 124.4L482.0 127.3L476.9 127.5ZM500.5 129.3L505.8 129.1L503.7 132.2L513.6 127.9L503.4 124.4L505.8 127.3L500.5 127.5ZM524.0 129.3L529.5 129.1L527.4 132.1L537.3 127.9L527.2 124.3L529.5 127.2L524.0 127.4ZM547.5 129.2L553.3 129.1L551.1 132.1L561.0 128.0L551.0 124.3L553.2 127.2L547.5 127.3ZM571.0 129.1L577.0 129.1L574.8 132.1L584.8 128.1L574.7 124.3L577.0 127.2L571.0 127.3ZM594.5 129.1L600.7 129.1L598.5 132.0L608.5 128.1L598.5 124.2L600.7 127.2L594.5 127.2ZM617.7 126.4L624.5 128.9L621.4 130.9L632.2 130.7L624.1 123.6L625.1 127.2L618.4 124.7ZM640.5 124.4L649.3 129.5L645.9 131.0L656.5 132.6L649.8 124.3L650.2 127.9L641.4 122.8ZM664.6 121.7L673.2 130.3L669.6 130.9L679.4 135.2L675.1 125.4L674.5 129.0L665.9 120.4ZM688.8 121.1L696.7 130.4L693.0 130.6L702.4 135.8L698.9 125.6L698.1 129.2L690.2 119.9ZM50.2 155.7L59.8 152.2L58.8 155.7L66.8 148.6L56.1 148.4L59.2 150.4L49.6 153.9ZM73.9 155.7L83.4 152.2L82.4 155.7L90.4 148.6L79.7 148.4L82.8 150.4L73.2 153.9ZM97.5 155.7L107.0 152.2L106.0 155.7L114.1 148.6L103.3 148.4L106.4 150.4L96.8 153.9ZM122.3 156.8L130.3 152.2L129.9 155.8L136.6 147.5L126.0 149.1L129.4 150.6L121.4 155.2ZM146.4 159.4L155.0 150.8L155.6 154.5L159.9 144.6L150.1 149.0L153.7 149.5L145.1 158.1ZM170.9 161.3L179.0 149.6L180.2 153.1L182.8 142.7L173.8 148.7L177.5 148.6L169.4 160.2ZM196.2 162.1L202.3 149.2L204.0 152.5L204.7 141.8L196.9 149.2L200.6 148.4L194.6 161.3ZM221.7 162.6L225.4 148.9L227.7 151.8L226.5 141.1L220.2 149.7L223.6 148.4L219.9 162.1ZM246.0 164.2L249.0 147.3L251.6 149.9L249.5 139.4L243.9 148.6L247.2 146.9L244.2 163.9ZM271.0 161.8L272.0 149.6L274.8 152.1L271.8 141.8L267.0 151.4L270.2 149.4L269.1 161.6ZM296.4 162.6L295.2 148.5L298.3 150.4L293.6 140.8L290.5 151.1L293.3 148.6L294.6 162.8ZM320.5 159.9L318.9 150.9L322.2 152.5L316.7 143.3L314.5 153.9L317.1 151.2L318.7 160.3ZM342.5 155.7L342.5 154.0L344.9 155.7L341.7 147.7L338.6 155.7L341.0 154.0L341.0 155.7ZM362.9 152.2L364.0 152.2L362.9 153.7L367.9 151.7L362.9 149.8L364.0 151.3L362.9 151.3ZM386.5 152.2L387.6 152.2L386.5 153.7L391.5 151.7L386.5 149.8L387.6 151.3L386.5 151.3ZM410.1 152.2L411.2 152.2L410.1 153.7L415.1 151.7L410.1 149.8L411.2 151.3L410.1 151.3ZM433.7 152.2L434.8 152.2L433.7 153.7L438.7 151.7L433.7 149.8L434.8 151.3L433.7 151.3ZM457.3 152.2L458.4 152.2L457.3 153.7L462.3 151.7L457.3 149.8L458.4 151.3L457.3 151.3ZM480.9 152.2L482.0 152.2L480.9 153.7L485.9 151.7L480.9 149.8L482.0 151.3L480.9 151.3ZM504.5 152.2L505.6 152.2L504.5 153.7L509.5 151.7L504.5 149.8L505.6 151.3L504.5 151.3ZM528.2 152.2L529.3 152.2L528.2 153.7L533.2 151.7L528.2 149.8L529.3 151.3L528.2 151.3ZM551.8 152.2L552.9 152.2L551.8 153.7L556.8 151.7L551.8 149.8L552.9 151.3L551.8 151.3ZM575.4 152.2L576.5 152.2L575.4 153.7L580.4 151.7L575.4 149.8L576.5 151.3L575.4 151.3ZM598.6 150.7L599.8 151.4L597.7 152.2L604.1 153.2L600.1 148.2L600.3 150.4L599.2 149.7ZM622.5 148.6L623.3 150.2L620.4 149.8L627.1 155.2L625.8 146.7L624.6 149.4L623.7 147.9ZM646.8 146.0L647.5 150.1L644.2 148.5L649.8 157.6L651.9 147.1L649.3 149.8L648.6 145.7ZM672.6 144.7L671.6 150.8L669.0 148.1L671.1 158.6L676.7 149.4L673.4 151.1L674.5 145.0ZM697.5 144.8L695.4 150.7L693.3 147.6L693.6 158.3L700.6 150.2L697.1 151.3L699.2 145.5ZM59.1 179.3L59.1 177.5L61.5 179.3L58.4 171.3L55.3 179.3L57.6 177.5L57.6 179.3ZM82.7 179.3L82.7 177.5L85.1 179.3L82.0 171.3L78.9 179.3L81.3 177.5L81.3 179.3ZM106.5 180.3L106.5 178.1L109.5 180.3L105.6 170.3L101.7 180.3L104.7 178.1L104.7 180.3ZM130.1 180.3L130.1 178.1L133.1 180.3L129.2 170.3L125.3 180.3L128.3 178.1L128.3 180.3ZM153.8 180.8L153.8 177.6L156.7 179.8L152.8 169.8L148.9 179.8L151.9 177.6L151.9 180.8ZM178.1 183.2L177.4 175.0L180.5 177.0L175.7 167.3L172.7 177.6L175.5 175.2L176.2 183.4ZM203.3 183.8L200.6 173.9L204.1 175.3L197.7 166.6L196.6 177.3L198.9 174.4L201.5 184.2ZM228.7 184.0L223.6 172.9L227.2 173.7L219.4 166.2L220.1 177.0L221.9 173.7L227.1 184.8ZM254.9 184.6L245.6 171.3L249.3 171.4L240.4 165.5L242.9 175.9L244.1 172.4L253.4 185.7ZM280.0 183.1L268.6 171.7L272.2 171.1L262.4 166.8L266.7 176.7L267.3 173.0L278.7 184.4ZM308.3 178.0L288.8 172.8L291.7 170.5L281.0 171.7L289.6 178.0L288.3 174.6L307.8 179.8ZM331.1 176.7L313.2 173.5L315.9 170.9L305.3 173.1L314.5 178.6L312.8 175.3L330.8 178.5ZM354.7 176.7L336.8 173.5L339.5 170.9L328.9 173.1L338.1 178.6L336.5 175.3L354.4 178.5ZM379.4 175.6L359.3 173.8L361.7 171.1L351.4 174.1L361.0 178.8L359.1 175.7L379.2 177.4ZM403.0 174.9L382.8 174.2L385.1 171.3L375.0 174.8L384.8 179.1L382.7 176.0L402.9 176.7ZM425.1 174.4L407.9 174.4L410.1 171.4L400.1 175.3L410.1 179.2L407.9 176.2L425.1 176.2ZM447.2 174.4L433.0 174.4L435.2 171.4L425.2 175.3L435.2 179.2L433.0 176.2L447.2 176.2ZM469.8 174.4L457.6 174.4L459.8 171.4L449.8 175.3L459.8 179.2L457.6 176.2L469.8 176.2ZM493.4 174.4L481.2 174.4L483.4 171.4L473.4 175.3L483.4 179.2L481.2 176.2L493.4 176.2ZM517.5 174.4L504.3 174.4L506.5 171.4L496.5 175.3L506.5 179.2L504.3 176.2L517.5 176.2ZM541.7 174.4L527.5 174.4L529.7 171.4L519.7 175.3L529.7 179.2L527.5 176.2L541.7 176.2ZM565.3 174.4L551.1 174.4L553.3 171.4L543.3 175.3L553.3 179.2L551.1 176.2L565.3 176.2ZM588.9 174.4L574.7 174.4L576.9 171.4L566.9 175.3L576.9 179.2L574.7 176.2L588.9 176.2ZM613.5 174.4L597.3 174.4L599.5 171.4L589.5 175.3L599.5 179.2L597.3 176.2L613.5 176.2ZM637.3 172.2L620.3 175.2L622.0 171.9L612.8 177.5L623.3 179.6L620.6 177.0L637.6 174.0ZM661.0 171.0L643.5 175.8L644.8 172.3L636.2 178.7L646.8 179.9L643.9 177.5L661.5 172.8ZM685.2 169.7L666.2 176.6L667.2 173.0L659.2 180.1L669.9 180.3L666.8 178.3L685.8 171.4ZM708.8 169.7L689.8 176.6L690.9 173.0L682.8 180.1L693.5 180.3L690.4 178.3L709.4 171.4ZM66.0 201.4L58.6 198.0L61.8 196.2L51.1 195.5L58.5 203.3L57.8 199.6L65.2 203.1ZM89.6 201.4L82.2 198.0L85.5 196.2L74.7 195.5L82.2 203.3L81.4 199.6L88.9 203.1ZM114.7 203.1L104.2 197.0L107.6 195.5L96.9 193.9L103.7 202.3L103.2 198.6L113.8 204.7ZM139.6 205.0L126.3 195.7L129.8 194.6L119.4 192.0L125.3 200.9L125.2 197.2L138.5 206.5ZM164.0 205.6L149.1 195.2L152.6 194.0L142.2 191.4L148.1 200.4L148.0 196.7L163.0 207.1ZM188.0 205.9L172.3 194.9L175.8 193.7L165.4 191.2L171.3 200.1L171.2 196.4L187.0 207.4ZM212.1 206.2L195.5 194.6L199.0 193.4L188.6 190.9L194.5 199.8L194.5 196.1L211.0 207.7ZM237.1 205.6L217.9 194.5L221.3 193.0L210.7 191.4L217.4 199.8L217.0 196.1L236.2 207.2ZM261.3 204.4L241.2 195.0L244.4 193.2L233.7 192.6L241.1 200.3L240.4 196.7L260.5 206.1ZM285.3 203.2L264.5 195.6L267.5 193.5L256.8 193.8L264.9 200.8L263.8 197.3L284.7 204.9ZM309.4 200.6L287.6 196.7L290.3 194.2L279.7 196.3L288.9 201.9L287.3 198.6L309.1 202.4ZM333.2 199.3L311.0 197.3L313.5 194.6L303.2 197.6L312.8 202.3L310.9 199.2L333.0 201.1ZM356.8 198.5L334.6 197.7L336.9 194.8L326.8 198.4L336.6 202.6L334.5 199.6L356.7 200.3ZM380.4 198.0L358.2 198.0L360.4 195.0L350.4 198.9L360.4 202.8L358.2 199.8L380.4 199.8ZM405.0 198.0L380.8 198.0L383.0 195.0L373.0 198.9L383.0 202.8L380.8 199.8L405.0 199.8ZM428.8 198.0L404.1 198.0L406.3 195.0L396.3 198.9L406.3 202.8L404.1 199.8L428.8 199.8ZM452.7 198.0L427.5 198.0L429.7 195.0L419.7 198.9L429.7 202.8L427.5 199.8L452.7 199.8ZM476.6 198.0L450.9 198.0L453.1 195.0L443.1 198.9L453.1 202.8L450.9 199.8L476.6 199.8ZM500.4 198.0L474.2 198.0L476.4 195.0L466.4 198.9L476.4 202.8L474.2 199.8L500.4 199.8ZM523.8 198.0L498.0 198.0L500.2 195.0L490.2 198.9L500.2 202.8L498.0 199.8L523.8 199.8ZM547.3 198.0L521.9 198.0L524.1 195.0L514.1 198.9L524.1 202.8L521.9 199.8L547.3 199.8ZM570.7 198.0L545.7 198.0L547.9 195.0L537.9 198.9L547.9 202.8L545.7 199.8L570.7 199.8ZM594.1 198.0L569.5 198.0L571.7 195.0L561.7 198.9L571.7 202.8L569.5 199.8L594.1 199.8ZM617.5 198.0L593.3 198.0L595.5 195.0L585.5 198.9L595.5 202.8L593.3 199.8L617.5 199.8ZM641.0 196.6L616.9 198.7L618.8 195.5L609.2 200.3L619.5 203.3L617.0 200.5L641.1 198.4ZM663.3 195.4L641.5 199.2L643.1 195.9L633.9 201.5L644.5 203.6L641.8 201.1L663.7 197.2ZM686.8 194.7L665.1 199.6L666.6 196.2L657.7 202.1L668.3 203.8L665.5 201.4L687.2 196.6ZM710.2 194.1L688.8 199.9L690.1 196.4L681.5 202.8L692.1 204.0L689.2 201.7L710.7 195.9ZM77.5 228.5L47.2 217.4L50.3 215.4L39.6 215.6L47.6 222.7L46.6 219.2L76.9 230.2ZM101.2 228.4L70.7 217.5L73.8 215.4L63.1 215.7L71.2 222.8L70.1 219.2L100.6 230.1ZM125.0 228.3L94.2 217.5L97.3 215.4L86.5 215.8L94.7 222.8L93.6 219.2L124.4 230.1ZM148.7 228.2L117.7 217.5L120.7 215.4L110.0 215.9L118.2 222.8L117.1 219.3L148.1 230.0ZM172.5 228.1L141.1 217.6L144.2 215.4L133.5 215.9L141.7 222.8L140.6 219.3L171.9 229.9ZM196.2 228.1L164.6 217.6L167.7 215.5L156.9 216.0L165.2 222.9L164.0 219.3L195.7 229.8ZM220.0 228.0L188.1 217.6L191.1 215.5L180.4 216.1L188.7 222.9L187.5 219.4L219.4 229.7ZM243.8 227.9L211.6 217.7L214.6 215.5L203.9 216.2L212.2 222.9L211.0 219.4L243.2 229.7ZM267.5 227.8L235.1 217.7L238.1 215.5L227.3 216.3L235.7 223.0L234.5 219.5L267.0 229.6ZM291.3 227.7L258.5 217.7L261.5 215.5L250.8 216.3L259.2 223.0L258.0 219.5L290.7 229.5ZM315.1 226.9L282.0 218.2L284.9 215.9L274.2 217.1L282.9 223.5L281.5 220.0L314.6 228.7ZM338.8 226.1L305.4 218.7L308.2 216.3L297.6 217.9L306.5 223.9L305.0 220.5L338.4 227.9ZM362.6 225.3L328.9 219.2L331.6 216.7L321.1 218.7L330.2 224.4L328.6 221.0L362.2 227.1ZM386.3 224.5L352.4 219.7L355.0 217.1L344.6 219.6L353.9 224.8L352.2 221.6L386.0 226.3ZM409.8 224.1L376.1 220.0L378.7 217.3L368.3 219.9L377.7 225.0L375.9 221.8L409.6 225.9ZM433.3 223.7L399.8 220.2L402.3 217.5L391.9 220.3L401.5 225.2L399.6 222.0L433.1 225.6ZM456.8 223.4L423.5 220.4L426.0 217.7L415.7 220.7L425.3 225.4L423.3 222.3L456.7 225.2ZM480.3 223.0L447.2 220.7L449.6 217.9L439.4 221.1L449.1 225.6L447.1 222.5L480.2 224.8ZM503.8 222.6L470.9 220.9L473.3 218.0L463.1 221.4L472.9 225.8L470.8 222.7L503.7 224.5ZM527.3 222.3L494.6 221.1L496.9 218.2L486.8 221.8L496.7 226.0L494.6 223.0L527.2 224.1ZM550.8 221.9L518.3 221.3L520.6 218.4L510.5 222.1L520.5 226.2L518.3 223.2L550.8 223.8ZM574.3 221.6L542.1 221.6L544.3 218.6L534.3 222.5L544.3 226.4L542.1 223.4L574.3 223.4ZM597.7 221.3L565.8 221.7L568.0 218.7L558.0 222.8L568.1 226.5L565.9 223.6L597.7 223.1ZM621.1 221.0L589.6 221.9L591.7 218.9L581.8 223.1L591.9 226.7L589.7 223.8L621.2 222.8ZM644.5 220.7L613.4 222.1L615.4 219.0L605.6 223.3L615.8 226.8L613.5 223.9L644.6 222.6ZM668.0 220.4L637.2 222.2L639.2 219.1L629.4 223.6L639.6 226.9L637.3 224.1L668.1 222.3ZM691.4 220.2L660.9 222.4L662.9 219.3L653.2 223.9L663.5 227.0L661.1 224.2L691.5 222.0ZM714.8 219.9L684.7 222.5L686.6 219.4L677.0 224.1L687.3 227.2L684.9 224.4L715.0 221.7Z" fill="#151515"/>
<mask id="lm0" maskUnits="userSpaceOnUse" x="0" y="0" width="928" height="768"><rect x="0" y="0" width="928" height="768" fill="#fff"/>
<rect x="586.3" y="64.6" width="49.0" height="16" fill="#000" transform="rotate(0 610.8 72.6)"/>
<rect x="568.8" y="148.5" width="49.0" height="16" fill="#000" transform="rotate(-14 593.3 156.5)"/>
<rect x="515.5" y="193.5" width="49.0" height="16" fill="#000" transform="rotate(0 540 201.5)"/>
<rect x="427.5" y="217.5" width="50.0" height="16" fill="#000" transform="rotate(0 452.5 225.5)"/>
</mask>
<g mask="url(#lm0)" fill="none" stroke="#fff" stroke-width="3" stroke-linejoin="round" stroke-linecap="round">
<path d="M60.0 76.8C61.5 76.7 59.8 76.7 68.7 76.4C77.7 76.1 102.7 76.1 113.7 75.1C124.7 74.1 127.2 72.2 134.8 70.2C142.4 68.2 151.2 65.7 159.5 62.8C167.8 59.9 177.7 56.0 184.3 52.9C190.9 49.8 196.0 46.7 199.1 44.2C202.2 41.7 202.3 39.0 203.0 38.0"/>
<path d="M60.0 114.0C61.5 113.9 62.0 114.4 68.7 113.5C75.4 112.6 89.0 110.8 100.0 108.5C111.0 106.2 124.9 102.4 134.8 99.9C144.7 97.4 151.2 96.2 159.5 93.7C167.8 91.2 176.1 88.1 184.3 85.0C192.6 81.9 200.8 79.2 209.0 75.1C217.2 71.0 227.2 64.8 233.8 60.3C240.4 55.8 245.3 50.6 248.6 47.9C251.9 45.2 252.0 45.9 253.6 44.2C255.2 42.6 257.3 39.0 258.0 38.0"/>
<path d="M60.0 198.5C61.5 198.6 60.4 198.0 68.7 198.9C77.0 199.8 99.0 202.4 110.0 203.8C121.0 205.2 122.4 206.2 134.8 207.6C147.2 209.0 167.8 211.1 184.3 212.5C200.8 213.9 217.3 215.0 233.8 216.2C250.3 217.4 270.6 219.1 283.3 219.9C296.0 220.7 294.2 220.4 310.0 221.2C325.8 222.0 358.2 223.9 378.0 224.5C397.8 225.1 412.7 224.5 429.0 224.7C445.3 224.9 454.2 225.2 476.0 225.5C497.8 225.8 522.7 226.2 560.0 226.5C597.3 226.8 676.7 226.9 700.0 227.0"/>
<path d="M300.0 38.0C299.3 39.0 297.6 42.6 295.6 44.2C293.6 45.9 292.3 45.6 288.2 47.9C284.1 50.2 277.9 53.7 270.9 57.8C263.9 61.9 254.3 67.8 246.1 72.7C237.8 77.7 229.7 82.5 221.4 87.5C213.2 92.5 204.8 97.9 196.6 102.4C188.3 106.9 179.7 111.0 171.9 114.7C164.1 118.4 155.4 121.3 149.6 124.6C143.8 127.9 140.3 130.8 137.2 134.5C134.1 138.2 131.4 143.2 131.0 146.9C130.6 150.6 132.1 153.5 134.8 156.8C137.5 160.1 140.9 163.4 147.1 166.7C153.3 170.0 163.7 173.7 171.9 176.6C180.2 179.5 188.3 181.9 196.6 184.0C204.8 186.1 213.2 187.6 221.4 189.0C229.7 190.4 239.2 191.6 246.1 192.7C253.0 193.8 255.6 194.7 262.6 195.8C269.6 196.9 282.6 198.0 288.0 199.3C293.4 200.6 292.5 203.2 295.0 203.5C297.5 203.8 295.5 201.5 303.0 201.2C310.5 200.9 327.5 201.6 340.0 201.8C352.5 202.0 360.3 202.2 378.0 202.3C395.7 202.4 422.8 202.2 446.0 202.3C469.2 202.4 497.7 202.7 517.0 202.6C536.3 202.5 547.7 201.9 562.0 201.8C576.3 201.7 590.5 202.1 603.0 201.8C615.5 201.5 625.6 200.8 637.0 200.1C648.4 199.4 660.7 198.3 671.2 197.6C681.7 196.9 695.2 196.1 700.0 195.8"/>
<path d="M395.0 38.0C398.7 39.1 405.8 42.7 417.2 44.8C428.6 46.9 446.9 49.2 463.1 50.8C479.3 52.4 499.4 53.7 514.2 54.2C529.0 54.7 540.0 53.7 552.0 53.8C564.0 53.9 574.6 54.5 586.0 55.0C597.4 55.5 608.7 56.1 620.1 56.7C631.5 57.3 640.9 57.1 654.2 58.4C667.5 59.7 692.4 63.5 700.0 64.5"/>
<path d="M700.0 82.0C698.8 81.8 700.7 81.3 693.0 80.6C685.3 79.9 663.3 79.3 654.0 78.0C644.7 76.7 640.5 73.8 637.0 73.0C633.5 72.2 641.2 73.4 633.0 73.5C624.8 73.6 602.2 73.8 588.0 73.8C573.8 73.8 560.7 73.7 547.7 73.5C534.7 73.3 521.3 72.9 510.0 72.5C498.7 72.1 487.8 71.7 480.0 71.0C472.2 70.3 470.6 69.4 463.5 68.4C456.4 67.4 446.2 66.4 437.6 65.2C429.0 64.0 421.6 62.8 411.7 61.3C401.8 59.8 386.2 57.0 378.0 56.0C369.8 55.0 370.8 55.1 362.2 55.1C353.6 55.1 335.4 54.9 326.7 55.8C318.0 56.7 316.4 58.3 310.0 60.3C303.6 62.3 294.7 64.4 288.2 67.7C281.7 71.0 275.8 76.5 270.9 80.1C265.9 83.6 261.6 87.3 258.5 89.0C255.4 90.7 253.6 90.4 252.3 90.0C251.1 89.6 252.0 86.9 251.0 86.5C250.0 86.1 247.1 86.3 246.1 87.5C245.1 88.7 246.1 91.6 244.9 93.7C243.7 95.8 241.8 97.2 238.7 99.9C235.6 102.6 229.8 106.1 226.3 109.8C222.8 113.5 219.5 118.1 217.7 122.2C215.8 126.3 215.0 130.4 215.2 134.5C215.4 138.6 215.8 142.8 218.9 146.9C222.0 151.0 227.2 156.0 233.8 159.3C240.4 162.6 250.2 164.6 258.5 166.7C266.8 168.8 274.7 170.5 283.3 171.7C291.9 172.8 294.2 172.1 310.0 173.6C325.8 175.1 355.3 179.7 378.0 180.6C400.7 181.5 423.4 179.5 446.0 178.9C468.6 178.3 491.2 177.8 513.8 177.2C536.4 176.6 566.8 175.5 581.7 175.5C596.6 175.5 598.0 176.4 603.0 177.1C608.0 177.8 608.8 179.7 611.6 179.7C614.5 179.7 613.0 178.2 620.1 177.1C627.2 176.0 640.9 174.4 654.2 172.9C667.5 171.4 692.4 168.8 700.0 168.0"/>
<path d="M287.0 122.2C286.4 118.5 287.6 113.9 289.5 109.8C291.4 105.7 294.7 101.1 298.1 97.4C301.5 93.7 305.2 89.7 310.0 87.5C314.8 85.3 318.0 85.3 326.7 84.2C335.4 83.1 352.3 81.7 362.2 81.0C372.1 80.3 379.8 79.8 385.9 80.1C392.0 80.4 393.4 81.5 398.8 82.7C404.2 83.9 411.7 85.8 418.2 87.2C424.7 88.6 431.8 90.2 437.6 91.1C443.4 92.0 448.8 91.9 453.1 92.4C457.4 92.9 459.0 93.8 463.5 94.0C468.0 94.2 474.4 93.3 480.0 93.5C485.6 93.7 488.4 94.0 496.8 95.0C505.2 96.0 519.4 98.1 530.7 99.6C542.0 101.1 550.6 103.2 564.7 104.2C578.9 105.2 603.6 105.4 615.6 105.9C627.6 106.4 631.6 106.0 637.0 107.0C642.4 108.0 645.2 109.8 648.0 112.0C650.8 114.2 652.7 117.3 653.5 120.0C654.3 122.7 654.2 125.7 653.0 128.0C651.8 130.3 648.3 132.4 646.2 134.0C644.1 135.6 642.4 136.2 640.6 137.4C638.8 138.6 637.8 139.8 635.5 141.4C633.2 143.1 629.9 146.0 627.0 147.3C624.1 148.6 627.8 148.3 618.4 149.0C609.0 149.7 581.9 151.6 570.8 151.6C559.7 151.6 558.0 149.8 552.0 149.0C546.0 148.2 541.4 147.0 535.0 146.5C528.6 146.0 528.6 145.7 513.8 146.0C499.0 146.3 468.6 147.4 446.0 148.3C423.4 149.2 400.7 153.6 378.0 151.7C355.3 149.8 324.1 140.3 310.0 137.0C295.9 133.7 297.0 134.6 293.2 132.1C289.4 129.6 287.6 125.9 287.0 122.2Z"/>
<path d="M700.0 117.0C698.8 117.1 695.8 116.8 693.0 117.8C690.2 118.8 686.2 120.9 683.5 122.9C680.8 124.9 677.9 128.1 677.0 129.7C676.1 131.3 677.3 131.6 678.0 132.5C678.7 133.4 679.7 135.1 681.4 135.4C683.1 135.8 685.1 135.3 688.2 134.6C691.3 133.9 698.0 131.6 700.0 131.0"/>
<path d="M558.0 90.6C558.0 89.4 561.3 86.8 563.0 86.8C564.7 86.8 568.0 89.4 568.0 90.6C568.0 91.8 564.7 94.2 563.0 94.2C561.3 94.2 558.0 91.8 558.0 90.6Z"/>
<path d="M642.0 143.2C642.0 142.2 644.7 140.2 646.0 140.2C647.3 140.2 650.0 142.2 650.0 143.2C650.0 144.2 647.3 146.2 646.0 146.2C644.7 146.2 642.0 144.2 642.0 143.2Z"/>
</g>
<circle cx="530.5" cy="128.5" r="2.6" fill="#fff"/>
<circle cx="569.6" cy="144.0" r="2.6" fill="#fff"/>
<text x="610.8" y="78.1" font-size="15.5" fill="#fff" text-anchor="middle" textLength="45" lengthAdjust="spacingAndGlyphs" transform="rotate(0 610.8 72.6)">16750</text>
<text x="593.3" y="162.0" font-size="15.5" fill="#fff" text-anchor="middle" textLength="45" lengthAdjust="spacingAndGlyphs" transform="rotate(-14 593.3 156.5)">16800</text>
<text x="540.0" y="207.0" font-size="15.5" fill="#fff" text-anchor="middle" textLength="45" lengthAdjust="spacingAndGlyphs" transform="rotate(0 540 201.5)">16700</text>
<text x="452.5" y="231.0" font-size="15.5" fill="#fff" text-anchor="middle" textLength="46" lengthAdjust="spacingAndGlyphs" transform="rotate(0 452.5 225.5)">16650</text>
<rect x="472" y="57" width="126" height="63" fill="none" stroke="#f00" stroke-width="1.6"/>
</svg>
<rect x="86.9" y="44.1" width="25.8" height="33" fill="#fff" stroke="#000" stroke-width="1.4"/><text x="99.7" y="66.7" font-size="18" text-anchor="middle" textLength="8.4" lengthAdjust="spacingAndGlyphs" fill="#111">a</text>
<rect x="63.1" y="38.5" width="629.70" height="188.7" fill="none" stroke="#000" stroke-width="1.6"/>
<line x1="56.6" y1="38.50" x2="63.1" y2="38.50" stroke="#000" stroke-width="1.4"/>
<text x="48.5" y="44.40" font-size="16.5" text-anchor="end" textLength="13.7" lengthAdjust="spacingAndGlyphs" fill="#222">45</text>
<line x1="56.6" y1="132.85" x2="63.1" y2="132.85" stroke="#000" stroke-width="1.4"/>
<text x="48.5" y="138.75" font-size="16.5" text-anchor="end" textLength="13.7" lengthAdjust="spacingAndGlyphs" fill="#222">30</text>
<line x1="56.6" y1="227.20" x2="63.1" y2="227.20" stroke="#000" stroke-width="1.4"/>
<text x="48.5" y="233.10" font-size="16.5" text-anchor="end" textLength="13.7" lengthAdjust="spacingAndGlyphs" fill="#222">15</text>
<text transform="translate(24.8,138.2) rotate(-90)" font-size="19" text-anchor="middle" textLength="24" lengthAdjust="spacingAndGlyphs" fill="#222">lat</text>
<svg x="63.1" y="278.6" width="629.70" height="188.7" viewBox="63.1 278.6 629.70 188.7" overflow="hidden">
<g shape-rendering="crispEdges">
<clipPath id="dc1"><rect x="68.8" y="284.1" width="618.4" height="177.2"/></clipPath>
<g clip-path="url(#dc1)">
<rect x="68.8" y="284.1" width="618.4" height="177.2" fill="#ffbd00"/>
<path d="M423.5 464.5l1.5 0-1.5-1.5-2 1.5zM494 460l0.5-0.5-0.5-0.5-2 0.5zM499 464.5l2 0-2-2-2 2zM529 464.5l2 0-2-1-1.5 1z" fill="#0070ff" stroke="#0070ff" stroke-width="0.6"/>
<path d="M70.5 464.5l7 0-1-5-1-0.5-5 3-5-0.5 0 3zM106 464.5l1 0-1-1-1 1zM418.5 460.5l0 4 3 0 2-1.5 1.5 1.5 3 0-4.5-4.5-6-0.5zM433.5 464.5l6 0-6-0.5-3.5 0.5zM463.5 460.5l5 0.5 5 3.5 5-1.5 1.5 1.5 17 0 2-2 2 2 5.5 0-6-5 0-5-1.5-1-5 3-4-2 4-5.5-5 0-5.5 2-5-0.5-5 6-5-1-5.5 4zM492 459.5l2-0.5 0.5 0.5-0.5 0.5zM514 464.5l13.5 0 1.5-1 2 1 7.5 0-0.5-5-4-4-5 3.5-15 3.5-2 2zM544 460l0-1.5-1.5 1zM544 346.5l2-4.5-2-5-1 5zM504 327.5l1-0.5-1-1-1 1zM514 330l5-2 5-0.5 0.5-0.5 0-5-5.5-6-1 0.5 0.5 5.5-4.5 0-2 5z" fill="#00a8ff" stroke="#00a8ff" stroke-width="0.6"/>
<path d="M70.5 462l5-3 1 0.5 1 5 15.5 0-2-2.5-5-3-3.5 0.5-2 1 0-1-5-3-5.5 3-0.5-5-4-1 0 8zM106 463.5l1 1 3 0 1-2.5 2 2.5 4 0 1.5-5-2.5-1-11 1-4 5 4 0zM141 464.5l2 0-2-1-1 1zM398 464.5l20.5 0-1-5 1 0 5 0.5 4.5 4.5 5.5-0.5 18 0.5-8-5 2.5-5-2.5-3-2.5 3 2.5 5-5 2-3.5-2-0.5-5-1-1-5 2.5-5-0.5-5 1-5.5-2.5-5 5-5 3-5-1.5-2.5 4zM453.5 461l2 3.5 18 0-5-3.5-5-0.5-0.5-1 5.5-4 5 1 5-6 5 0.5 5.5-2 5 0-4 5.5 4 2 5-3 1.5 1 0 5 6 5 5.5 0 2-2 15-3.5 5-3.5 4 4 0.5 5 11.5 0-1.5-10-4.5-3.5-5-0.5-5 1-5 2.5-6 0.5-4 3-5-2-5 0.5-10-4.5-5-4.5-10.5-3.5-5 0.5-7 5-3 1-5 6.5-5 2-5-1.5-1 2.5zM542.5 459.5l1.5-1 0 1.5zM478.5 464.5l1.5 0-1.5-1.5-4 1.5zM559.5 462l2.5-2.5-2.5-2-3 2zM544 446.5l1-2.5-1-2-1.5 2zM544 349.5l4.5-2.5 0.5-2 5.5-0.5 3-2.5-1-10-2-3-3.5-2-2-6-5 1 1.5 5-6.5 1.5-4-1.5-1-1-1 1 8.5 20zM543 342l1-5 2 5-2 4.5zM548 337l1-1 2 1-2 3.5zM569.5 342l1-5-1-0.5-1 0.5 1 5zM519 337l5-5 1.5 0 2.5-5 0.5-5-4.5-4-5-6-5 3-4.5-3.5-0.5-2.5-5 2-2 5.5 2 3 3.5 2.5-3.5 1-5-2-1.5 1 1 5 7.5 5 3 4.5 5-1.5 5 2zM503 327l1-1 1 1-1 0.5zM512 327l2-5 4.5 0-0.5-5.5 1-0.5 5.5 6 0 5-0.5 0.5-5 0.5-5 2zM579.5 338l5 0 0-1-4-5-1-2.5-5 2.5 3.5 5zM519 311l1.5-4.5-1.5-1-2 1z" fill="#00dcfe" stroke="#00dcfe" stroke-width="0.6"/>
<path d="M70.5 459.5l5-3 5 3 0 1 2-1 3.5-0.5 5 3 2 2.5 8 0 4-5 11-1 2.5 1-1.5 5 4.5 0 4.5-2 1.5 2 8 0-3.5-5-1-0.5-5-1.5-5-0.5-5-2.5-5 1.5-10-0.5-5 3-5-0.5-5-2-5.5 0.5-10-4-5-1 0 2 4 1 0.5 5zM111 464.5l2 0-2-2.5-1 2.5zM141 463.5l2 1 13.5 0-5-3.5-10.5-1.5-4.5 5 3.5 0zM181.5 464.5l5 0-5-1-1 1zM232 464.5l1 0 0.5-5 0-5-1.5-1.5-2.5 1.5 1 10zM388 464.5l7.5 0 2.5-4 5 1.5 5-3 5-5 5.5 2.5 5-1 5 0.5 5-2.5 1 1 0.5 5 3.5 2 5-2-2.5-5 2.5-3 2.5 3-2.5 5 8 5 4 0-3-5 1-2.5 5 1.5 5-2 5-6.5 3-1 7-5 5-0.5 10.5 3.5 5 4.5 10 4.5 5-0.5 5 2 4-3 6-0.5 5-2.5 5-1 5 0.5 4.5 3.5 1.5 10 12.5 0 2-2 1 2 11.5 0-2.5-2.5-4.5-2.5-0.5-4-5 0-7-1-0.5-5.5-2.5-10-3 5-2.5 2-3-7-2-2-3.5 2-6.5 6-2.5 4-2.5 2-5 1-5-4-5 3.5-10-2.5-5 0 0.5-5-0.5-0.5-5 1.5-5-4.5-5.5 0-5 1.5-5 0-5 1-5 5-5 1.5-5-3.5-20 3.5-5-1.5-5 3.5-5 2.5-5.5-5.5-1.5 0.5-3.5 4.5-5-0.5-5 3.5-10 3-1.5 5zM556.5 459.5l3-2 2.5 2-2.5 2.5zM542.5 444l1.5-2 1 2-1 2.5zM569.5 454l2.5-5-2.5-1.5-2 1.5zM549 353l5.5-3 15-3 10 6 5-3.5 5-0.5 2.5-2-2.5-0.5-3.5-4.5 1-10-1.5-5-1-1-5-2-5-3.5-4 1.5-0.5 10-0.5 0.5-1.5-0.5 0-5-3.5-4-5 3-5-3.5-5.5-5.5-5-2-3.5 1.5-1.5 1.5-1.5-1.5 1.5-2.5 1-2.5-1-0.5-5-0.5-5 3.5-2-2.5-3-8-5-1.5-5-3.5-6.5 3-3.5 0.5-8 4.5 0 5-1.5 5-3.5 5.5-2.5 5 5.5 2 5 0.5 2.5 2.5 7.5 10.5 5 0 2-0.5 8-5 5-2 5 2 5 11.5 6 4zM541.5 347l-8.5-20 1-1 1 1 4 1.5 6.5-1.5-1.5-5 5-1 2 6 3.5 2 2 3 1 10-3 2.5-5.5 0.5-0.5 2-4.5 2.5zM562 342l2.5-6 1.5 6-1.5 5zM569.5 342l-1-5 1-0.5 1 0.5-1 5zM519 337l-5-2-5 1.5-3-4.5-7.5-5-1-5 1.5-1 5 2 3.5-1-3.5-2.5-2-3 2-5.5 5-2 0.5 2.5 4.5 3.5 5-3 5 6 4.5 4-0.5 5-2.5 5-1.5 0-5 5zM578 337l-3.5-5 5-2.5 1 2.5 4 5 0 1-5 0zM517 306.5l2-1 1.5 1-1.5 4.5zM353 343.5l5-0.5 0.5-1-0.5-1-5-2-1.5 3zM549 340.5l2-3.5-2-1-1 1z" fill="#26ffd1" stroke="#26ffd1" stroke-width="0.6"/>
<path d="M126 464.5l1.5 0-1.5-2-4.5 2zM136 464.5l5-5 10.5 1.5 5 3.5 8 0-3-4-5-1.5-5-2.5-10.5 0.5-5 0.5-5-1.5-5-3-5 1.5-5-2.5-5 1-10 0-5 2-5-1.5-5-0.5-15.5-3-5-0.5 0 2 5 1 10 4 5.5-0.5 5 2 5 0.5 5-3 10 0.5 5-1.5 5 2.5 5 0.5 6 2 3.5 5zM171.5 464.5l1.5 0-1.5-1.5-2.5 1.5zM181.5 463.5l10 1-5-5-5 1.5-3.5 3.5 2.5 0zM222 464.5l8.5 0-1-10 2.5-1.5 1.5 1.5-0.5 10 7.5 0-1.5-5-3-5-4-3-5 2-6 6-2.5 5zM262 464.5l2.5 0-2.5-1-2 1zM383 460.5l0.5 4 3 0 1.5-5 10-3 5-3.5 5 0.5 3.5-4.5 1.5-0.5 5.5 5.5 5-2.5 5-3.5 5 1.5 20-3.5 5 3.5 5-1.5 5-5 5-1 5 0 5-1.5 5.5 0 5 4.5 5-1.5 0.5 0.5-0.5 5 5 0 10 2.5 5-3.5 5 4 5-1 2.5-2 2.5-4 6.5-6 3.5-2 2 2 3 7 2.5-2 3-5 2.5 10 0.5 5.5 7 1 5 0 0.5 4 4.5 2.5 2.5 2.5 4 0-1-5-4-5 1.5-5.5-5.5-5-12.5-6.5-10.5-8-5 3.5-5-2.5-10 3.5 5 2 2 3-5.5 5-4 5-2.5 1-5-4.5-5 0.5-1-2-4-3.5-5 1-15-5-5.5 1.5-5 2-5-1-5 0.5-5 5-5-3-10 1-5 2-5 1.5-5-1-5 0-5-1.5-5 5-10.5-3.5-2 4-8 4-5 1-10.5 5.5zM567.5 449l2-1.5 2.5 1.5-2.5 5zM564.5 464.5l1 0-1-2-2 2zM650 464.5l12 0-2-1.5-5-1-6 2.5zM524 420.5l1.5-2-1.5-1-2 1zM363 353l1.5-0.5 0-10.5-1.5-2-1-3 1-2.5 5-4 1-3.5-1-1-5 0.5-5-3-5-0.5-2-1-1.5-5.5-2-1.5-5 5-5 7 5 5-1.5 5 1.5 5.5 5-3 5.5 7.5 5 0 1 5.5zM351.5 342l1.5-3 5 2 0.5 1-0.5 1-5 0.5zM539 353l5 1.5 5 2.5 5.5-2.5 20-1 5 3 10-2 15-1 3-1-3-3-5 1-5-6.5-5-1-0.5-1-0.5-5 3-5-7-9-3-1-1-5.5-1-1-5 2.5-10-2-5 0-5 2-5.5-6.5-5 0-12-5-3-2-3.5-8-1.5-2-5 3-5-2.5-5-4-6.5 5.5-3.5 5-10-1.5-5 1.5-0.5 5-7 5 4.5 5-2.5 5.5 1 5 4 1.5 5.5 5 10-0.5 3 4 2.5 5 4.5 3 10-0.5 5-2.5 5-1 5 4 4 7.5zM545 352.5l-6-4-5-11.5-5-2-5 2-8 5-2 0.5-5 0-7.5-10.5-2.5-2.5-5-0.5-5.5-2 2.5-5 3.5-5.5 1.5-5 0-5 8-4.5 3.5-0.5 6.5-3 5 3.5 5 1.5 3 8 2 2.5 5-3.5 5 0.5 1 0.5-1 2.5-1.5 2.5 1.5 1.5 1.5-1.5 3.5-1.5 5 2 5.5 5.5 5 3.5 5-3 3.5 4 0 5 1.5 0.5 0.5-0.5 0.5-10 4-1.5 5 3.5 5 2 1 1 1.5 5-1 10 3.5 4.5 2.5 0.5-2.5 2-5 0.5-5 3.5-10-6-15 3-5.5 3zM558 322l1.5-4 1 4-1 0.5zM614.5 352.5l1 0-1-3-1 3zM609.5 349l3.5-2-3.5-1-1.5 1zM620 348l1-1-1-5 1-5-1.5 0-0.5 5-2 5zM564.5 347l1.5-5-1.5-6-2.5 6zM373 340l1.5-3-1.5-2.5-2.5 2.5z" fill="#50ffa7" stroke="#50ffa7" stroke-width="0.6"/>
<path d="M161.5 460.5l3 4 4.5 0 2.5-1.5 1.5 1.5 5 0 3.5-3.5 5-1.5 5 5 9.5 0-4.5-5.5-5 2-5-4.5-5 2-5-1-5 0.5-10-0.5-5-1.5-5-3-5.5 1.5-5-0.5-5 1-5-3-5-1.5-5 0.5-5-2-5 0.5-10 2-15-0.5-5.5-3.5-5 0.5-10-3 0 4.5 5 0.5 15.5 3 5 0.5 5 1.5 5-2 10 0 5-1 5 2.5 5-1.5 5 3 5 1.5 5-0.5 10.5-0.5 5 2.5 2 0.5zM216.5 464.5l2 0 2.5-5 6-6 5-2 4 3 3 5 1.5 5 5.5 0-3-10-6-4.5-5-0.5-5 0.5-3 4.5-6 5-3.5 5zM252 464.5l8 0 2-1 2.5 1 6.5 0-4-4.5-5-2.5-5 2-5 0.5-4.5 4.5zM277 464.5l15.5 0 2-5-2-1-10.5 5-5 0-2.5 1zM378 464.5l5.5 0-0.5-5.5 10-5 5-1 8-4 2-4 10.5 3.5 5-5 5 1.5 5 0 5 1 5-1.5 5-2 10-1 5 3 5-5 5-0.5 5 1 5-2 5.5-1.5 15 5 5-1 4 3.5 1 2 5-0.5 5 4.5 2.5-1 4-5 5.5-5-2-3-5-2 10-3.5 5 2.5 5-3.5 10.5 8 12.5 6.5 5.5 5-1.5 5.5 4 5 1 5 4.5 0 1.5-5-2.5-2-5-2-1-1 3-5.5-1-5-1-1-5-1-6.5-3-3.5-7.5-10-1-5.5-4-5 2.5-6.5-5.5-3.5-4.5-5-2-5-3-5-1.5-1 1-0.5 5-2.5 5 0.5 5.5 6 5 2.5 1 3.5 4-3.5 4-5-3.5-2-0.5-3-3.5-5 1.5-5-3-10 0.5-5-1-5.5 1-5 2.5-5-1.5-10 3-10-0.5-5 2-5-1.5-5 0-5 3-5 0.5-5-1.5-5 4.5-6.5-1 2-5-1-0.5-8.5 5.5-1.5 2.5-4.5 2.5-5.5 1-5-3-2.5 2 3 5.5-5.5 1.5-4 3.5-3.5 5zM529.5 429l4.5-1.5 1 1.5-1 0.5zM522 418.5l2-1 1.5 1-1.5 2zM650 463.5l5-1.5 5 1 2 1.5 4.5 0 2.5-5-4-1.5-5 3-5-2.5-9.5 6 3.5 0zM393 447l2-3-2-1-1 1zM685 445l1-1-1-1-1 1zM690.5 410.5l0-7-2.5 5zM574.5 398.5l5 0 0.5-0.5-0.5-1.5-5 0.5-1.5 1zM569.5 390.5l3-2.5 0-5-3-3.5-3.5 3.5 2 5zM579.5 390.5l1-2.5-1-1-3 1zM368 368.5l0.5-1 0.5-5-1-1.5-1.5 1.5 0.5 5zM353 358.5l5 0 5-3.5 5-1.5 0-1-0.5-5.5 0.5-0.5 5-1.5 4.5-3 3-5-5-5 0-5-7.5-4-5 0-2.5-1-2.5-5.5 2.5-5-2.5-2.5-5 2-5.5-0.5-1.5 1-6 5-2.5 4.5-5 0-1 1 1.5 5-2 5 6.5 5.5 6 9.5 0.5 5.5 3.5 1.5 5.5-2.5 1 1-2.5 5zM359 352.5l-1-5.5-5 0-5.5-7.5-5 3-1.5-5.5 1.5-5-5-5 5-7 5-5 2 1.5 1.5 5.5 2 1 5 0.5 5 3 5-0.5 1 1-1 3.5-5 4-1 2.5 1 3 1.5 2 0 10.5-1.5 0.5zM370.5 337l2.5-2.5 1.5 2.5-1.5 3zM549 359l5.5-2 5 0 5-1 10 2 5 2.5 10-1 15-3.5 10-0.5 7.5-3 3-2.5 6-3-6-5 2-5-2-3-5-3-5.5 6-5 4-12.5-4-7.5-14-1-1-4-2-2-3.5-3-3-5 1.5-5-5.5-5 4-5-2.5-5 2.5-5.5-5-5 0-6-2-14-15.5-5 2.5-5-3-5-2-5 1-11 7-9.5 2.5-2 2.5-2 5-5.5 5-1.5 5 2.5 5.5 0.5 5 2 5 1 1 5-0.5 5.5 5.5 5 0.5 1.5 3.5 3.5 3 5-0.5 5 2.5-1 5.5 1 0.5 1.5-0.5-1.5-5.5 5 0 5 1.5 5-1 5-3 3 2.5 1 5.5 6 4 5 0 2 1zM538 352.5l-4-7.5-5-4-5 1-5 2.5-10 0.5-4.5-3-2.5-5-3-4-10 0.5-5.5-5-4-1.5-1-5 2.5-5.5-4.5-5 7-5 0.5-5 5-1.5 10 1.5 3.5-5 6.5-5.5 5 4 5 2.5 5-3 1.5 2 3.5 8 3 2 12 5 5 0 5.5 6.5 5-2 5 0 10 2 5-2.5 1 1 1 5.5 3 1 7 9-3 5 0.5 5 0.5 1 5 1 5 6.5 5-1 3 3-3 1-15 1-10 2-5-3-20 1-5.5 2.5-5-2.5-5-1.5zM613.5 352.5l1-3 1 3-1 0zM608 347l1.5-1 3.5 1-3.5 2zM617 347l2-5 0.5-5 1.5 0-1 5 1 5-1 1zM665 334l2.5-2-2-5-0.5-1-0.5 1-0.5 5zM383 327.5l5 3 1-3.5-1-1-5-1.5-1.5 2.5zM559.5 322.5l1-0.5-1-4-1.5 4zM609.5 322.5l1-0.5-1-3-2 3z" fill="#7dff7a" stroke="#7dff7a" stroke-width="0.6"/>
<path d="M191.5 461l5-2 4.5 5.5 3.5 0-3-5-5-4.5-5 2.5-5-4.5-5 3.5-5-3-5 1-5-1.5-5 2.5-3-1-2-3-5-1-5.5-2.5-10 1-5-2-5 0.5-5-1.5-5 0.5-5-0.5-5 1-2.5 2-2.5 1-5-1.5-5 0.5-5-0.5-5.5-3-5 0-5-3.5-5 0 0 3 10 3 5-0.5 5.5 3.5 15 0.5 10-2 5-0.5 5 2 5-0.5 5 1.5 5 3 5-1 5 0.5 5.5-1.5 5 3 5 1.5 10 0.5 5-0.5 5 1 5-2 3.5 3zM211.5 464.5l3 0 3.5-5 6-5 3-4.5 5-0.5 5 0.5 6 4.5 3 10 1.5 0 4.5-4.5 5-0.5 5-2 5 2.5 4 4.5 3.5 0 2.5-1 5 0 10.5-5 2 1-2 5 12.5 0-1-5-1.5-2.5-5-3-5-0.5-10.5 6.5-5 0-4-5.5-6 1.5-10-7.5-10 8-1-2 1-5.5-5 2-2.5-2 1.5-5-4-2.5-5 3.5-5 1.5-10.5 4.5-1.5 3.5-1 5-3 5zM373 464.5l2.5 0 3.5-5 4-3.5 5.5-1.5-3-5.5 2.5-2 5 3 5.5-1 4.5-2.5 1.5-2.5 8.5-5.5 1 0.5-2 5 6.5 1 5-4.5 5 1.5 5-0.5 5-3 5 0 5 1.5 5-2 10 0.5 10-3 5 1.5 5-2.5 5.5-1 5 1 10-0.5 5 3 5-1.5 3 3.5 2 0.5 5 3.5 3.5-4-3.5-4-2.5-1-6-5-0.5-5.5 2.5-5 0.5-5 1-1 5 1.5 5 3 5 2 3.5 4.5 6.5 5.5 5-2.5 5.5 4 10 1 3.5 7.5 6.5 3 5 1 1 1 1 5-3 5.5 1 1 5 2 2.5 2-1.5 5 4 0 1.5-5-5.5-5-0.5-5.5-2-5-3.5-4-5-2-5-3-5-7.5-5-4-5-5.5-1 0.5-2.5 5-2 1-5-3-5 0-5-7-2-1 1-5-4-2.5-5-1.5-2 4-3 1-5 4 1 5-1 2-5 3.5-5-1-1.5 0.5 4 5.5-2.5 2-5-1-10 1-5.5-0.5-5 2.5-5-1-5 2-10 2-5-0.5-5 2-5-1.5-10 0-2-2-3-1-1.5 1 1.5 3.5 1.5 1.5-1.5 0.5-5-1.5-10.5-2-10 5.5-5 1.5-5-3.5-4 4.5-6 4-5 6-5 3-2 7.5zM392 444l1-1 2 1-2 3zM508 434l1-1 1 1-1 0.5zM645 464.5l10-6 5 2.5 5-3 4 1.5-2.5 5 5.5 0 3-2.5 5 0 3-2.5-8-4.5-2-0.5 2-0.5 5-4.5 6-0.5-1.5 5.5 0.5 1 5.5-3.5 0-4-2.5-4 2.5-3 0-5-5.5 3.5-3-5.5-2-1-5 10-6 6 0 5.5-9 2-5 0-5 3-5 1.5-4.5 3.5zM684 444l1-1 1 1-1 1zM327.5 456l2.5-1.5-2.5-4-2 4zM287.5 451l1-2-1-0.5-2 0.5zM614.5 451l1.5-2-1.5-1-1.5 1zM368 446l0.5-2-0.5-1-0.5 1zM620 440l0.5-1-0.5-1-1 1zM534 429.5l1-0.5-1-1.5-4.5 1.5zM685 430l1.5-1 0.5-5.5-2-2-4 2 4 5.5zM690.5 420.5l0-10-2.5-2 2.5-5 0-4.5-5.5-6-5 1-5 2-5 1-5-0.5-1 1.5 1 4.5 5-1 5.5 7 9.5 6 3 4zM559.5 398.5l15 2 5 0 4.5-2.5 0-10-4.5-4.5-2-0.5 2-1 2-4-2-3-4 3-1 1.5-1-1.5-4-3.5-5-3-2.5 6.5-2.5 2.5-3 7.5 3 2 1.5 3-2 5zM573 398l1.5-1 5-0.5 0.5 1.5-0.5 0.5-5 0zM568 388l-2-5 3.5-3.5 3 3.5 0 5-3 2.5zM576.5 388l3-1 1 1-1 2.5zM594.5 399l0-1-4.5 0zM554.5 394l1.5-1-1.5-2-1 2zM363 374.5l5-1.5 5 1 1.5-1.5-3-5 3-5-0.5-5-2-5 1-2 5-0.5 0.5-3 5-5 3-5 1.5-0.5 5-7 3-2.5-5.5-5 0-5.5-2.5-3-5 4.5-5-1-5 5-8.5-5.5 0-5-1.5-4-1.5-1 0-5-3.5-1.5-5-2-5.5 3.5 3 5-8 1-5 2.5-5 6.5-5 4-0.5 1.5 1.5 5-3 5-1 5 3 4.5 10 0 0.5 5.5 1 5.5 3.5 6.5 5-1 4 4.5 1.5 0.5 5-1.5 1.5 1 3.5 5-4.5 5zM367 367.5l-0.5-5 1.5-1.5 1 1.5-0.5 5-0.5 1zM351.5 357.5l2.5-5-1-1-5.5 2.5-3.5-1.5-0.5-5.5-6-9.5-6.5-5.5 2-5-1.5-5 1-1 5 0 2.5-4.5 6-5 1.5-1 5.5 0.5 5-2 2.5 2.5-2.5 5 2.5 5.5 2.5 1 5 0 7.5 4 0 5 5 5-3 5-4.5 3-5 1.5-0.5 0.5 0.5 5.5 0 1-5 1.5-5 3.5-5 0zM362 357.5l1-0.5 1.5 0.5-1.5 1.5zM381.5 327l1.5-2.5 5 1.5 1 1-1 3.5-5-3zM584.5 368.5l5-0.5 5 1.5 2-2 1-5 12-2 10.5-5 5 1 5-2 5-1 5 3 5 1 6-5-1-4.5-5 1.5-5 0.5-2.5-3 6-5-8.5-2.5-5 0.5 0-8.5-5-4-5 0-2.5-0.5-2-5-6-9-5-0.5-0.5-1-4.5-1.5-5 4-10 2.5-3.5-5 0-5-1.5-1-3.5 1-1.5 4-1.5-4-3.5-1-2.5 1-2.5 2.5-5-1-5 1-5.5-3-5-0.5-10-9-6-10.5 6-3.5 1-1.5-17.5 0-3.5 4.5-10-0.5-4 1-6 3.5-10.5 0-0.5 1.5 1.5 5.5-6 0 0 5-8.5 10-1.5 5-0.5 5.5-2 5 2.5 2.5 5 0.5 1 2 4 4 4.5 1-4.5 2-3 3 8 7.5 5.5-5 3 2.5-3 5.5 6.5 0 7-5.5 1.5 0 0.5 0 0.5 5.5 4 3 5-2 5 0 5-2 1.5 1 3.5 6 5-0.5 5 1.5 10 0.5 10.5 0 5-2 5 2.5 5 0.5 9.5 6.5zM546 357.5l-2-1-5 0-6-4-1-5.5-3-2.5-5 3-5 1-5-1.5-5 0 1.5 5.5-1.5 0.5-1-0.5 1-5.5-5-2.5-5 0.5-3.5-3-1.5-3.5-5-0.5-5.5-5.5-5 0.5-1-1-2-5-0.5-5-2.5-5.5 1.5-5 5.5-5 2-5 2-2.5 9.5-2.5 11-7 5-1 5 2 5 3 5-2.5 14 15.5 6 2 5 0 5.5 5 5-2.5 5 2.5 5-4 5 5.5 5-1.5 3 3 2 3.5 4 2 1 1 7.5 14 12.5 4 5-4 5.5-6 5 3 2 3-2 5 6 5-6 3-3 2.5-7.5 3-10 0.5-15 3.5-10 1-5-2.5-10-2-5 1-5 0-5.5 2zM606.5 337l0-5-1-5 4-1.5 3.5 1.5 0 5-1 5-2.5 2zM607.5 322l2-3 1 3-1 0.5zM690.5 354l0-8-1 6.5zM650 346l0.5-4-0.5-2.5-2 2.5zM680 345l2-3-2-2-1 2zM655 339.5l5 0 5-1.5 5-3.5 5-5.5 5 1 1.5-3-1.5-2-5-3-5-7.5-4 2-3.5 5.5-5.5 5 3 1.5 2 3.5-2 3-4-3-2.5-5-3.5-3-1.5 3-5 5 1.5 1.5 5-0.5 1 4zM664 332l0.5-5 0.5-1 0.5 1 2 5-2.5 2zM669.5 327l0.5-1.5 2 1.5-2 1.5zM690.5 324l0-6-1.5-1.5 1.5-3 0-4-5.5 3-2.5 4 5 5.5zM443.5 318.5l5 0 2.5-7-7.5-3-3.5 3 2.5 5zM640 318.5l2.5-2-0.5-5-2-1.5-4 1.5 0 5zM181.5 287l2.5-1 2.5-3 4.5-2-14 0 3 5z" fill="#a7ff50" stroke="#a7ff50" stroke-width="0.6"/>
<path d="M206.5 464.5l4.5 0 3-5 1-5 1.5-3.5 10.5-4.5 5-1.5 5-3.5 4 2.5-1.5 5 2.5 2 5-2-1 5.5 1 2 10-8 10 7.5 6-1.5 4 5.5 5 0 10.5-6.5 5 0.5 5 3 1.5 2.5 1 5 13.5 0 4-3.5 10-5 5 7 5-1 5 2 2.5-4.5-2.5-3-3-2 0.5-5.5-2.5-2-5 6.5-3.5-4.5-1.5-4-5-1-6 5 1 6.5-5 2-5 1-1 1-4 1-5-9.5-5-0.5-4-1.5-1-3.5-5 0.5-10.5 5.5-5 0-10-2-8.5-5.5-1.5-2.5-5 2-5-6-5 0.5-5 2.5-5 1.5-13 7-2.5 6.5-5-4-5 4.5-6.5-7-3.5-2-5 2-10-1-5-1.5-5 2-10-2.5-5-2.5-10.5 2.5-5-1-5-2-5 1.5-5-4-5 3.5-5-4-5 1-5 5.5-15-0.5-11-7-4.5-1.5-5 1.5 0 3 5 0 5 3.5 5 0 5.5 3 5 0.5 5-0.5 5 1.5 2.5-1 2.5-2 5-1 5 0.5 5-0.5 5 1.5 5-0.5 5 2 10-1 5.5 2.5 5 1 2 3 3 1 5-2.5 5 1.5 5-1 5 3 5-3.5 5 4.5 5-2.5 5 4.5 3 5zM325.5 454.5l2-4 2.5 4-2.5 1.5zM285.5 449l2-0.5 1 0.5-1 2zM368 461.5l0.5 3 2.5 0 2-7.5 5-3 5-6 6-4 4-4.5 5 3.5 5-1.5 10-5.5 10.5 2 5 1.5 1.5-0.5-1.5-1.5-1.5-3.5 1.5-1 3 1 2 2 10 0 5 1.5 5-2 5 0.5 10-2 5-2 5 1 5-2.5 5.5 0.5 10-1 5 1 2.5-2-4-5.5 1.5-0.5 5 1 5-3.5 1-2-1-5 5-4 3-1 2-4 5 1.5 4 2.5-1 5 2 1 5 7 5 0 5 3 2-1 2.5-5 1-0.5 5 5.5 5 4 5 7.5 5 3 5 2 3.5 4 2 5 0.5 5.5 5.5 5-1.5 5 7 0-3-5 1-4 5 2 1.5-3-1.5-5.5-5 4.5-3-4.5 0-5-4.5-5 0.5-5-3-3-5 3-5 1-5-3.5-5-7-5-4-5-5.5-5.5 4-10-1.5-2-4 0-5 7-12 5-2 9.5 9-0.5 5 1.5 1.5 5-3.5 5 1 2.5-4 7.5-1.5 5 1.5 5-3 5 1.5 2.5-4-2.5-2-4.5-3-1.5-5-4.5-5 0.5-4 5 0.5 1.5-1.5 3.5-1.5 5 0.5 5 3 3-2-1.5-5.5 0-5 3.5-3.5 10.5-6 5 2 5-0.5 5-2 5 6.5 10-5.5 5 2 2-3-3-5 1-1.5 5-1 5-5 5 1 5-3 0.5 4 4 5.5 0.5 5-2 5 2 1.5 5-2 5.5 0 0-8-1-1.5 1-13-3.5-2.5-3-5 1-3 5.5 2 0-7-8-7.5 2.5-4 5.5-3 0-12.5-1-0.5 1-1 0-5.5-10.5 14.5-10 1-5-1-5 0.5-1.5 1.5 5.5 5-4 3.5-5 3-4-6.5 0-5-6-4.5-5 4.5-5-2.5-3.5 2.5-4 5-1 5-1.5 1-5-3-5.5-5.5-10-0.5-5-1.5-5 0-5 4-3.5-4.5-1.5-3.5-10 0.5-5-1-10 2-5 0.5-10.5-1.5-2.5-2-7.5-10.5 3.5-5 1.5-5-4 0-1 1.5-5 2.5-1 1 6 10 5.5 5.5 4.5 4 5 0.5 5.5 3 5-1 5 1 2.5-2.5 2.5-1 3.5 1 1.5 4 1.5-4 3.5-1 1.5 1 0 5 3.5 5 10-2.5 5-4 4.5 1.5 0.5 1 5 0.5 6 9 2 5 2.5 0.5 5 0 5 4 0 8.5 5-0.5 8.5 2.5-6 5 2.5 3 5-0.5 5-1.5 1 4.5-6 5-5-1-5-3-5 1-5 2-5-1-10.5 5-12 2-1 5-2 2-5-1.5-5 0.5-10-7.5-5-0.5-5-2.5-5 2-10.5 0-10-0.5-5-1.5-5 0.5-3.5-6-1.5-1-5 2-5 0-5 2-4-3-0.5-5.5-0.5 0-1.5 0-7 5.5-1.5 0-5.5 0 3.5-5.5-3-2.5-5.5 5-8-7.5 3-3 4.5-2-4.5-1-4-4-1-2-5-0.5-2.5-2.5 2-5 0.5-5.5 1.5-5 8.5-10 0-5.5 6 0.5-1.5-5.5 0.5-1.5 10.5 0 6-3.5 4-1 10 0.5 3.5-4.5-2.5 0-1 1.5-3.5-1.5-3 0-8.5 2.5-5 3.5-6-1 1-0.5 5-2 1.5-2.5-10 0-5 5-2 5-3.5 5.5 0 5-6.5 5-5 1.5-5-2-5 0-10-2-5 2.5-5 6.5-5-0.5-5 3.5-4 6 4 2.5 5 0.5 3 2 2 4.5 5 1.5 10-6 6-5-1-1-1-4.5 1-1.5 5 4.5 5 1.5-1 11 1 1 5 0 2.5 4 1.5 15.5 1 2 5 3 5-2.5 3.5 2.5 2 0.5 5-2.5 5 4.5 5-3.5 5 2 15-2.5 5 5.5 5 1.5 5.5-0.5 4.5 3.5 2-3.5 3-1 4.5 1 1 1 5-0.5 5-2.5 3.5 2 2 5-5.5-0.5-8 11-0.5 5-7 9-15-0.5-5 4-5-3.5-5 6.5-1.5 5-1 5-2.5 2-5-0.5-3 3.5 1 5-3 1.5-5-4-6 2.5 3.5 5-2.5 3-4 2.5-2 0-4.5-5-5 5-5-1.5-5 3.5-5 0-5 3-5-1-15 1-5-4-5 0.5-5 3.5-3.5-5-1.5-1.5-5.5 6-5 2-5 1.5-1.5 2-3.5 1.5-5-4-5 2-5-1-5 8-5 2-1.5-3.5-3.5-4-2.5 4 1 5 2.5 5.5-2 5zM367.5 444l0.5-1 0.5 1-0.5 2zM559 398l2-5-1.5-3-3-2 3-7.5 2.5-2.5 2.5-6.5 5 3 4 3.5 1 1.5 1-1.5 4-3 2 3-2 4-2 1 2 0.5 4.5 4.5 0 10-4.5 2.5-5 0-15-2zM590 398l4.5 0 0 1zM553.5 393l1-2 1.5 2-1.5 1zM683.5 347l1.5-2 1.5 2-1.5 2zM648 342l2-2.5 0.5 2.5-0.5 4zM654.5 342l2.5 0-2 1zM679 342l1-2 2 2-2 3zM637 337l-3.5-5 1.5-3 5-4.5 3.5 2.5-5 5 6 5-4.5 1.5zM651 337l-1-4-5 0.5-1.5-1.5 5-5 1.5-3 3.5 3 2.5 5 4 3 2-3-2-3.5-3-1.5 5.5-5 3.5-5.5 4-2 5 7.5 5 3 1.5 2-1.5 3-5-1-5 5.5-5 3.5-5 1.5-5 0zM442.5 316.5l-2.5-5 3.5-3 7.5 3-2.5 7-5 0zM636 316.5l0-5 4-1.5 2 1.5 0.5 5-2.5 2zM456.5 311.5l2-4.5 1.5 4.5-1.5 3zM682 306.5l3-2 2.5 2-2.5 2zM609.5 464.5l16.5 0-1-2.5-3.5-2.5-1.5-3.5-2.5-1.5 2-5.5 0.5-5 3-5-3-5-4.5 5 3 5-9 3.5-5-1.5-5 3 5 2 5 4.5 5 1.5 2 2.5-2 3-5 2zM613 449l1.5-1 1.5 1-1.5 2zM619 439l1-1 0.5 1-0.5 1zM635 464.5l5.5 0 4.5-3.5 5-1.5 5-3 5 0 9-2 0-5.5 6-6 5-10 2 1 3 5.5 5.5-3.5 0-15.5-2.5-2-3-4-9.5-6-5.5-7-5 1-1-4.5 1-1.5 5 0.5 5-1 5-2 5-1 5.5 6 0-22-1.5 1-3 5-6 4.5-5-2-4 2.5 0 5-6 0.5-3.5 4.5 1 5.5-2.5 3.5-2 1.5 7 4 5-2.5 4 3.5 1 2.5 3 2.5-3.5 5-1.5 5.5 2 5.5-5-1.5-0.5 1 2.5 5-7 8.5-5 4-10 6-5-0.5-8.5 2.5-2 5zM679 429l1-1.5 1.5 1.5-1.5 1zM685 429l-4-5.5 4-2 2 2-0.5 5.5-1.5 1zM675 464.5l15.5 0 0-12.5-5.5 3.5-0.5-1 1.5-5.5-1 0-5 0.5-5 4.5-2 0.5 2 0.5 8 4.5-3 2.5-5 0-3 2.5zM625 452l0.5-3-0.5-0.5-4.5 0.5zM690.5 448l0-7-2.5 3zM161.5 440l0-1.5-2 0.5zM222 442.5l1.5-3.5-1.5-1-1.5 1zM156.5 437l1.5-3-1.5-4.5-2 4.5zM368 437l4-3-4-6.5-1.5 6.5zM509 434.5l1-0.5-1-1-1 1zM594.5 437.5l2-3.5-2-7.5-6 2.5 3 5zM378 430l0.5-1-0.5-1-0.5 1zM635 431l3.5-7.5-3.5-2-2.5 2 1 5.5zM156.5 428l2-4.5-2-3.5-1 3.5zM166.5 426l3-2.5-3-4-3.5 4zM483.5 411.5l1.5-3-1.5-1-1 1zM453.5 407l5-4.5 2-4.5-2-2.5-5-3.5-1 1-1.5 10.5zM630 405.5l1.5-2-1.5-1.5-2.5 1.5zM645 404l1-0.5 3-5.5-1.5-5-2.5-1-7.5 1 0.5 5 2 0.5 4.5 5zM655 401l2.5-3-2.5-2.5-4 2.5zM67 383l-1.5-2 0 5zM70.5 379.5l1.5-1.5-1.5-3-2 3zM358 378.5l5 0 5 2 2-2.5 3-1.5 4.5-4 0.5-5-0.5-10 5.5-10.5 5-4 4-1 1-5 5 3.5 4.5-3.5 3-5-4-5-1.5-5 0-5.5-2-3-9.5-7-5.5 4.5-5 2.5-5 1.5-5-1.5-2-7 0.5-5 2-5-5.5 0.5-5-0.5-5-2.5-5.5 1.5-5-0.5-7 6.5 1 5-9 9-2.5 1-2.5 9-6.5 6.5 0 5 1.5 3 3.5 2 2 5-2 5.5 1.5 1 5-1 5 2 4.5 3 3.5 5 2 2 5 0 10 3-2 5 1 5.5zM358.5 372.5l4.5-5-3.5-5-1.5-1-5 1.5-1.5-0.5-4-4.5-5 1-3.5-6.5-1-5.5-0.5-5.5-10 0-3-4.5 1-5 3-5-1.5-5 0.5-1.5 5-4 5-6.5 5-2.5 8-1-3-5 5.5-3.5 5 2 3.5 1.5 0 5 1.5 1 1.5 4 0 5 8.5 5.5 5-5 5 1 5-4.5 2.5 3 0 5.5 5.5 5-3 2.5-5 7-1.5 0.5-3 5-5 5-0.5 3-5 0.5-1 2 2 5 0.5 5-3 5 3 5-1.5 1.5-5-1-5 1.5zM675 373l5 0 0.5-0.5-6 0zM332.5 368l1-5.5-1-1-0.5 1 0.5 5zM363 359l1.5-1.5-1.5-0.5-1 0.5zM166.5 348l0.5-1-0.5-1-0.5 1zM408 349l2-2-2-2.5-2.5 2.5zM609.5 339l2.5-2 1-5 0-5-3.5-1.5-4 1.5 1 5 0 5zM670 328.5l2-1.5-2-1.5-0.5 1.5zM690.5 318l0-4.5-1.5 3zM413 308.5l1-2-1-1.5-1 1.5zM166.5 302l1-0.5-1-1-1 1zM373 303.5l0.5-2-0.5-1-2 1zM589.5 302.5l1-1-1-1-3 1zM186.5 297l1-0.5-1-1.5-1.5 1.5zM166.5 293l3.5-2 1.5-1.5 2 1.5 3 1.5 5-1 5-3 5-1 5 2 4-3.5-4-0.5-2.5-4.5-3 0-4.5 2-2.5 3-2.5 1-1.5-1-3-5-7.5 0 0 5-5 5zM141 283.5l10.5 0.5 1.5-3-14 0zM544 282.5l3.5-1.5-7.5 0zM574.5 285l1.5-4-3.5 0zM690.5 285l0-3.5-4-0.5z" fill="#d1ff26" stroke="#d1ff26" stroke-width="0.6"/>
<path d="M307.5 460.5l4-1 1-1 5-1 5-2-1-6.5 6-5 5 1 1.5 4 3.5 4.5 5-6.5 2.5 2-0.5 5.5 3 2 2.5 3-2.5 4.5-5-2-5 1-5-7-10 5-4 3.5 38 0 1.5-0.5 1.5 0.5 9 0-1.5-5 2-5-2.5-5.5-1-5 2.5-4 3.5 4 1.5 3.5 5-2 5-8 5 1 5-2 5 4 3.5-1.5 1.5-2 5-1.5 5-2 5.5-6 1.5 1.5 3.5 5 5-3.5 5-0.5 5 4 15-1 5 1 5-3 5 0 5-3.5 5 1.5 5-5 4.5 5 2 0 4-2.5 2.5-3-3.5-5 6-2.5 5 4 3-1.5-1-5 3-3.5 5 0.5 2.5-2 1-5 1.5-5 5-6.5 5 3.5 5-4 15 0.5 7-9 0.5-5 8-11 5.5 0.5-2-5-3.5-2-5 2.5-5 0.5-1-1-4.5-1-3 1-2 3.5-4.5-3.5-5.5 0.5-5-1.5-5-5.5-15 2.5-5-2-5 3.5-5-4.5-5 2.5-2-0.5-3.5-2.5-5 2.5-5-3-1-2-1.5-15.5-2.5-4-5 0-1-1 1-11-5-1.5-5-4.5-1 1.5 1 4.5 1 1-6 5-10 6-5-1.5-2-4.5-3-2-5-0.5-4-2.5 4-6 5-3.5 5 0.5 5-6.5 5-2.5 10 2 5 0 5 2 5-1.5 6.5-5 0-5 3.5-5.5 2-5 5-5-5.5 0-1.5 1.5-1.5-1.5-10 0 1.5 1 2.5 4-2.5 2.5-5-2-3.5 4.5 3 5.5-4.5 2-5-1-5-2.5-5-1.5-2.5 3-7.5 2.5-3 2.5-2 5-1.5-5-3.5-4-4.5-1-3-5.5-3-0.5-5-6-2 1.5-3 5-5 3-5 1.5-5-1.5-1.5 2.5 1.5 2 12 3-2 3-5-2.5-5 1-5 5-7-6.5-2.5-5-5.5-2-5-5-5-1-5-2.5-11 5-3 5.5-5.5 5-1 2.5-5-0.5-5 2.5-4 5.5-5.5 5 2 5.5-2.5 2.5-3-2.5 2.5-5.5-4.5-1.5-1 1.5-5 5.5 7 5-2 5 1 1 5 0.5 1 3.5-1 4-1 1 3 5-3.5 5.5 1.5 4.5 5-3.5 5 3 5-1 3.5 2-3.5 4.5-5.5 0.5 5.5 0.5 2 4.5 3 3 5-2.5 5 0.5 2 4 3 2 5.5 5.5 5 2.5 5-0.5 1.5 1 1.5 5 2 1.5 8.5-6.5 4-5-0.5-5.5 1.5-5-0.5-5 3.5-5-1.5-5.5 5-1 2.5-4 2.5-0.5 1 0.5 1 5.5 3 2 5-5.5 5 5 7-7 0.5-5 8-6.5 5 2.5 5-0.5 5 0.5 0.5-1 4.5-3 5 1 1 2-1.5 5 0.5 9.5 1-4.5 4-3 10-1 2 4-2 3-5-1.5-2 4 2 2.5 5-1 5 3 5 4.5 5-1.5 5 2 5.5-1 3.5 1.5 1.5 1.5 5 1.5 5-3.5 2 0.5-2.5 5 5.5 2 5.5-2-5-5 4.5-2.5 5.5 2.5 4.5 9.5 5-1 5-5 5.5 1.5-0.5 3-5 2.5 5 0.5 10-3 5.5 0.5 0.5 1.5-0.5 1.5-5.5 2.5 0 1.5 4 5-5.5 5-3.5 1-2.5-1-2.5-6-1.5 1-3.5 3-5 3.5-5-1-5 6-5 8-5 0-5 4-5-1-2-2-3-3-5 6-5.5-1-3.5-2-1.5-2.5-2.5 2.5 2.5 5-5 7.5-0.5 2.5 0.5 4.5 1 0.5-6 4-5-0.5-5 3-10 0-2.5-1 2.5-4.5 2.5-1-12.5-3.5-5-4-3.5 2.5 1 5-2.5 1.5-5 1-5-1-2-1.5 3.5-5-1.5-0.5-3.5 0.5-2 1-4 4-3 5.5-3 2-5 0.5-5 2-10-4.5-2.5-5.5-2.5-1.5-5 1.5-5-2-2 2-3 5.5 1 10 0.5 10-1.5 4.5-5-8-5 4.5-5.5-6 0-6-9.5 1 2 5-2.5 4.5-1.5-4.5-3.5-5 2.5-5-2.5-2-5 4-5-1-1.5 4-3.5 4.5-5 1-5-1-5 2-5-2.5-4-4-1-4-5-1.5-3.5-4.5-2-2-5 0-3 2-2 4-5-0.5-5 0.5-5-0.5-1 1.5 1 1.5 5 1.5 5-2.5 10 0 5 5 2-0.5 3.5-4 1.5 4-1.5 2-2 3-3.5 2-5 0.5-5 3-9.5-5.5-0.5-2.5-1.5 2.5-3.5 0.5-2.5-5.5-2.5-2-5 2.5-5-5-10 3-5 0.5-5-3-4 4 1 5-2.5 1.5-5-0.5-5 2-5-2-5 2.5-5-3-5 2.5-5-2.5-5.5-0.5 1-5 4.5-3.5 1-1.5-1-2.5-5 2-5-0.5-1.5 1 1.5 4 2 1-2 0.5-5 3-2.5-8.5-2.5-2.5-2-2.5 2-2.5 5 2.5 9-5.5-0.5-5-4.5-5 2.5-5-1.5-2-5 4-5 0.5-2.5-2.5-2.5-1-3.5 1-3 10 3 5-0.5 5.5-3 5-3.5 3.5-5-0.5-5 2-5 0.5-5-5-5 2-5 0-10-3.5-5 0.5-2.5 0.5-1 5-1.5 2-5 0.5-10.5-4-10-9.5-3.5 1-1.5 1 0 9 5-1.5 4.5 1.5 11 7 15 0.5 5-5.5 5-1 5 4 5-3.5 5 4 5-1.5 5 2 5 1 10.5-2.5 5 2.5 10 2.5 5-2 5 1.5 10 1 5-2 3.5 2 6.5 7 5-4.5 5 4 2.5-6.5 13-7 5-1.5 5-2.5 5-0.5 5 6 5-2 1.5 2.5 8.5 5.5 10 2 5 0 10.5-5.5 5-0.5 1 3.5 4 1.5 5 0.5 4.5 8.5zM159.5 439l2-0.5 0 1.5zM220.5 439l1.5-1 1.5 1-1.5 3.5zM154.5 434l2-4.5 1.5 4.5-1.5 3zM366.5 434l1.5-6.5 4 6.5-4 3zM372 429l1-4.5 1 4.5-1 1zM377.5 429l0.5-1 0.5 1-0.5 1zM411 429l2-1.5 1 1.5-1 1zM155.5 423.5l1-3.5 2 3.5-2 4.5zM163 423.5l3.5-4 3 4-3 2.5zM492 413.5l2-2 1.5 2-1.5 1zM482.5 408.5l1-1 1.5 1-1.5 3zM356.5 378l-1-5.5 2-5-10-3-5 0-2-2-3.5-5-4.5-3-5-2-5 1-1.5-1 2-5.5-2-5-3.5-2-1.5-3 0-5 6.5-6.5 2.5-9 2.5-1 9-9-1-5 7-6.5 5 0.5 5.5-1.5 5 2.5 5 0.5 5.5-0.5-2 5-0.5 5 2 7 5 1.5 5-1.5 5-2.5 5.5-4.5 9.5 7 2 3 0 5.5 1.5 5 4 5-3 5-4.5 3.5-5-3.5-1 5-4 1-5 4-5.5 10.5 0.5 10-0.5 5-4.5 4-3 1.5-2 2.5-5-2-5 0zM332.5 367.5l-0.5-5 0.5-1 1 1-1 5.5zM557 367.5l2.5-1 0.5 1-0.5 1.5zM405.5 347l2.5-2.5 2 2.5-2 2zM402 322l1-3.5 2 3.5-2 2zM412.5 322l0.5-2 1 2-1 0.5zM405 316.5l3-2.5 3.5 2.5-3.5 2zM407 306.5l0.5-5-1.5-5 2-4 5 4-4 5 0 5-1 2zM412 306.5l1-1.5 1 1.5-1 2zM417 306.5l1.5-2 1.5 2-1.5 2zM371 301.5l2-1 0.5 1-0.5 2zM594.5 461l2 3.5 3 0 5-5 0-5.5 1.5 5.5-1 5 4.5 0 5-2 2-3-2-2.5-5-1.5-5-4.5-5-2 5-3 5 1.5 9-3.5-3-5 4.5-5 3 5-3 5-0.5 5-2 5.5 2.5 1.5 1.5 3.5 3.5 2.5 1 2.5 3 0 1-1.5 0.5 1.5 4 0 2-5 8.5-2.5 5 0.5 10-6 5-4 7-8.5-2.5-5 0.5-1 5 1.5 0.5-0.5-2.5-5 1.5-5.5 3.5-5-3-2.5-1-2.5-4-3.5-5 2.5-7-4 2-1.5 2.5-3.5-1-5.5 3.5-4.5 6-0.5 0-5 4-2.5 5 2 6-4.5 3-5 1.5-1 0-15-5.5 0-5 2-2-1.5 2-5-0.5-5-4-5.5-0.5-4-5 3-5-1-5 5-5 1-1 1.5 3 5-2 3-5-2-10 5.5-5-6.5-5 2-5 0.5-5-2-10.5 6-3.5 3.5 0 5 1.5 5.5-3 2-5-3-5-0.5-3.5 1.5-1.5 1.5-5-0.5-0.5 4 4.5 5 1.5 5 4.5 3 2.5 2-2.5 4-5-1.5-5 3-5-1.5-7.5 1.5-2.5 4-5-1-5 3.5-1.5-1.5 0.5-5-9.5-9-5 2-7 12 0 5 2 4 10 1.5 5.5-4 5 5.5 5 4 5 7 5 3.5 5-1 5-3 3 3-0.5 5 4.5 5 0 5 3 4.5 5-4.5 1.5 5.5-1.5 3-5-2-1 4zM636.5 454.5l-6.5-3.5-1.5-2 4.5-5 0-5 2-2.5 5-0.5 1-2-1.5-5 0.5-1 5 0.5 4.5-5-4.5-3.5-10-5-2.5 3.5-2.5 2-3.5-2 2-5 1.5-2 4.5-3 3.5-5 2-1 5 5.5 5 0.5 1 5 5 5 3 5-2.5 5.5 3.5 0.5 4.5 4.5 2.5 5-2 4.5-5 1.5-1 4-9 6-3.5-0.5-1.5-2-2 2-3 0.5zM620.5 449l4.5-0.5 0.5 0.5-0.5 3zM624 444l1-1.5 0.5 1.5-0.5 0.5zM603 439l4-5-2.5-2.5-5 4-1-1.5 0.5-5 2-5.5 3.5-4.5 5 2 4.5 2.5 5 5.5-7 5-1 5-1.5 1.5-5 0.5zM591.5 434l-3-5 6-2.5 2 7.5-2 3.5zM622.5 429l2.5-1.5 2 1.5-2 1.5zM633.5 429l-1-5.5 2.5-2 3.5 2-3.5 7.5zM669 429l1-4.5 0 4.5zM567 423.5l-1.5-5 2-5 7-6 5-2 8 3 1 5-4 10-5 3.5-5 1.5-5 0.5zM540.5 413.5l1-5 2.5-5.5 5 1.5 1-1 4.5-2.5 2 2.5-2 4.5-5.5 3-1 2.5-4 3zM658.5 413.5l1.5-1 1.5 1-1.5 2zM668 413.5l2-1.5 1.5 1.5-1.5 2.5zM608 408.5l-3.5-5-11-10.5-0.5-10 1.5-2 3.5 2 0.5 5 1 1 5-1 5 2 4-2 2.5-5-3-5-4-5.5-0.5-5 1-1 5-1 5.5-3.5 10 0.5 5 5.5 10 1.5 5 0 5 2 8-4 2-2 4 2 0 5 1 1.5 5 2 2 2-2.5 5-4.5 3-5 0-1.5 2-3.5 3-5 0-10-2.5-10 2.5-5-1-5 4-5-2-2.5 6 2 5.5-5 2.5-5 4.5zM627.5 403.5l2.5-1.5 1.5 1.5-1.5 2zM644.5 403.5l-4.5-5-2-0.5-0.5-5 7.5-1 2.5 1 1.5 5-3 5.5-1 0.5zM651 398l4-2.5 2.5 2.5-2.5 3zM607.5 383l2-1.5 2.5 1.5-2.5 1.5zM674.5 372.5l6 0-0.5 0.5-5 0zM671.5 367.5l3.5-2 3 2-3 1.5zM667.5 357.5l2.5-3 5-3 1 1 0.5 5-1.5 2-5 0zM80.5 430l1-1-1-1.5-1 1.5zM680 430l1.5-1-1.5-1.5-1 1.5zM96 424.5l0.5-1-0.5-0.5-1.5 0.5zM111 426.5l1-3-1-0.5-1 0.5zM196.5 425.5l4.5-2-4.5-3-2.5 3zM287.5 426l5-1 1.5-1.5-6.5-7.5-5.5 0-1.5 2.5 5 5zM191.5 420.5l2-2-2-1.5-2 1.5zM237 421l3-2.5-3-3.5-2 3.5zM297.5 420.5l1-2-1-1.5-1.5 1.5zM196.5 416l5-1 1.5-1.5 0.5-5-2-2.5-5 6-2 1.5zM368 415l1.5-1.5-1.5-1-1.5 1zM448.5 417l6.5-3.5 3.5-1 2.5-4 2.5-2.5 5-0.5 7.5-7.5-2.5-1.5-5-1-5 3-1-5.5-4-1.5-5-3.5-5-1.5-4.5 1.5 4.5 3 1 2-1 2.5-5-1-10 0-3.5 3.5 3.5 4.5 5 3 1 3 5.5 5zM447.5 408.5l1-1.5 1 1.5-1 0.5zM451 403.5l1.5-10.5 1-1 5 3.5 2 2.5-2 4.5-5 4.5zM468.5 415l3.5-1.5-3.5-3.5-1 3.5zM176.5 406l2-2.5-2-2.5-2.5 2.5zM347.5 404l1-0.5 1.5-5.5-2.5-1-1.5 1 1.5 5.5zM70.5 399l1.5-1-1.5-1-5 1zM292.5 400l1.5-2-1.5-2.5-4 2.5zM388 399.5l0.5-1.5-0.5-0.5-0.5 0.5zM609.5 401.5l2-3.5-2-1-2.5 1zM282 395l3.5-2-3.5-1-0.5 1zM408 396.5l1.5-3.5-1.5-2-1 2zM494 395.5l6-2.5-4.5-10-1.5-1-2-4-1-5.5-2-3.5-4.5 3.5 1.5 5.5-1 5 4 5 2.5 5zM70 388l0.5-5 5 1.5 3-1.5-3-2.5-0.5-2.5 0.5-2.5 5 1.5 5.5-8 1.5-1.5-1.5-1.5-10.5-4.5-4.5 1 6 5-1.5 2-5-1.5-5 1 0 3.5 0.5 0-0.5 0.5 0 8 1.5 2-1.5 3 0 5.5zM68.5 378l2-3 1.5 3-1.5 1.5zM272 388.5l1-0.5-1-1-0.5 1zM514 384l5.5-1-5.5 0zM201.5 380l2-2-2-1.5-3 1.5zM272 379.5l2.5-1.5-2.5-1-1.5 1zM312.5 378.5l5-0.5 0-5.5-5 3.5-1 2zM478.5 379.5l2-1.5-2-2-1.5 2zM640 381.5l1-3.5-1-1.5-1.5 1.5zM161.5 373.5l3.5-1-3.5-2-1 2zM327.5 374l1-1.5-1-1-1 1zM473.5 373.5l1.5-1-1.5-1-0.5 1zM69.5 362.5l1-0.5 0.5-4.5-0.5-1.5-3.5-3.5-1.5-0.5 0 11zM232 365.5l2-3-2-2.5-4 2.5zM458.5 363l3-0.5-3-0.5-0.5 0.5zM222 359l2.5-1.5-2.5-1-2 1zM136 348.5l5 1.5 1.5-3-1.5-2.5-5.5 2.5zM166.5 350.5l4-3.5-4-5-3 5zM166 347l0.5-1 0.5 1-0.5 1zM211.5 348.5l5.5-1.5-5.5-3.5-1.5 3.5zM685 349l1.5-2-1.5-2-1.5 2zM151.5 343l3.5-1-3-5-1.5 0-0.5 5zM655 343l2-1-2.5 0zM67 337l-1.5-10.5 0 11.5zM196.5 340.5l5-1 10 1.5 8.5-4 1-5 1-2 3.5-3-2-5 3.5-2 5 6.5 5-2 5 0.5 1.5-3-1.5-2-5.5-3.5 2.5-5-2-1-5-0.5-5-6-5 7-5.5-0.5-0.5 1 3 5-2.5 3-5 0-2 7.5 3.5 5-1.5 3-2.5-3-2.5-1-1.5 1-3.5 4-5-1-1 2zM640 338.5l4.5-1.5-6-5 5-5-3.5-2.5-5 4.5-1.5 3 3.5 5zM690.5 339.5l0-8.5-5.5-2-1 3 3 5zM75.5 328.5l5-1 10-5.5-4.5-10.5 0.5-5-0.5-2-1.5 2-4 3.5 0 7-5-2.5-7 2-0.5 5.5 5.5 5zM96 323l5 1.5 0.5-2.5-5.5-4-5 4zM161.5 319.5l2.5-3-2.5-1.5-1.5 1.5zM171.5 317.5l3-1 0-5-3-5 5-8.5 5-1.5 5 3 3.5-3-2.5-5.5 4-1 5 5 4 1.5 1 1 5-3 3-3.5-4.5-5 1.5-3 5 4 1.5-1-0.5-5-8 0-3 1.5-5-1.5-2.5 0 2.5 4.5 4 0.5-4 3.5-5-2-5 1-5 3-5 1-3-1.5-2-1.5-1.5 1.5-3.5 2-2-2 5-5 0-5-10.5 0 1.5 5-1.5 5-2.5 2-3.5-2 0-5 2-5-2 0-1.5 3-5.5 0-5-0.5-2-2.5-10 0 1.5 5 0.5 4.5 2.5-4.5 2.5-1 7.5 6 1 5.5 5.5 5 1.5 0.5 5-1.5 2.5 1-1 5 3.5 1.5 5 7 3.5 1.5zM165.5 301.5l1-1 1 1-1 0.5zM185 296.5l1.5-1.5 1 1.5-1 0.5zM625 317.5l1.5-1 1-5 4-5 3.5-2.5 5 2.5 5-4.5 6 4.5 0 5 4 6.5 5-3 4-3.5-5.5-5 1.5-1.5 5-0.5 5 1 10-1 10.5-14.5 0-5-4-4-8 0 1.5 4 1.5 1-3 5 2 5.5-0.5 0.5-5-2-5 4.5-5 2.5-2.5-0.5-3-5-4-5.5-5.5-3-5 5.5-2.5-2.5-2.5-1-5 0.5-0.5 0.5 1.5 5.5-1 2.5-5 1.5-5 4.5-5 2-5.5-5.5 1-5-1-1-5-1.5-1.5 2.5-3.5 0.5-5 2-5-4-5 2-5-3.5-5 0-5 6.5-5-1.5-10 2.5-5-1.5-1-3 3-5.5 3-3.5 5 1.5 3.5-3 1-5-8 0-1.5 3.5-5-0.5-1.5-3-5.5 0-3.5 1.5-5-1.5-1.5 5-3.5 5 7.5 10.5 2.5 2 10.5 1.5 5-0.5 10-2 5 1 10-0.5 1.5 3.5 3.5 4.5 5-4 5 0 5 1.5 10 0.5 5.5 5.5 3 2zM544.5 301.5l4.5-1 3.5 1-3.5 0zM586.5 301.5l3-1 1 1-1 1zM649 301.5l1-1.5 1 1.5-1 0.5zM543 291l0.5-5 0.5 0 5-1.5 3 1.5 0.5 5-3.5 2.5-5 2zM121 312l0-4-1 3.5zM458.5 314.5l1.5-3-1.5-4.5-2 4.5zM206.5 307l5 1 2.5-1.5-1.5-5-1-1.5-3 1.5-2 2-0.5 3zM272 308l1.5-1.5-1.5-2.5-1 2.5zM685 308.5l2.5-2-2.5-2-3 2zM91 291.5l0-2.5-1.5 2zM216.5 292.5l1-1.5-1-1.5-1.5 1.5zM327.5 292.5l0-2-2 0.5zM453.5 294.5l3-3.5-3-6-5-1-5-2.5-4 4.5 4 4.5 5-4 3.5 4.5zM625 293l1.5-2-1.5-1-4.5 1zM86 287.5l5-3 2.5-3.5-9 0 0.5 5zM101 287l2-1-2-3-1 3zM116 288.5l1-2.5-1-1-4.5 1zM277 290l5-7 3-2-4.5 0-8 5zM307.5 287l1.5-1-1.5-2.5-2 2.5zM388 288.5l7-2.5-2-1.5-5-0.5-1 2zM423.5 289l2-3 0-5-4 0 0 5zM489 286.5l5 0.5 5-3.5 8.5-2.5-12 0-1.5 2.5-5 2-1 0.5zM574.5 289.5l2.5-3.5 1-5-2 0-1.5 4-2-4-3 0 0.5 5zM614.5 287l1-1-1-0.5-2.5 0.5zM317.5 281.5l0.5-0.5-4 0zM327.5 283l1.5-2-3 0zM514 282.5l1-1.5-4.5 0z" fill="#feed00" stroke="#feed00" stroke-width="0.6"/>
<path d="M599.5 464.5l5.5 0 1-5-1.5-5.5 0 5.5-5 5zM630 464.5l0.5 0-0.5-1.5-1 1.5zM640 455l3-0.5 2-2 1.5 2 3.5 0.5 9-6 1-4 5-1.5 2-4.5-2.5-5-4.5-4.5-3.5-0.5 2.5-5.5-3-5-5-5-1-5-5-0.5-5-5.5-2 1-3.5 5-4.5 3-1.5 2-2 5 3.5 2 2.5-2 2.5-3.5 10 5 4.5 3.5-4.5 5-5-0.5-0.5 1 1.5 5-1 2-5 0.5-2 2.5 0 5-4.5 5 1.5 2 6.5 3.5zM634 449l1-1 1 1-1 1zM647.5 449l-5.5-5 0-5 3-4.5 5 2 2 2.5 3 2 2.5 3-2.5 4.5-5 3zM658.5 439l-4-5 5.5-1 1 1 0.5 5-1.5 1zM272 449.5l5-3 5-0.5 3.5-2 2-3 1.5-2-1.5-4-3.5 4-2 0.5-5-5-10 0-5 2.5-5-1.5-1-1.5 1-1.5 5 0.5 5-0.5 5 0.5 2-4 3-2 5 0 2 2 3.5 4.5 5 1.5 1 4 4 4 5 2.5 5-2 5 1 5-1 3.5-4.5 1.5-4 5 1 5-4 2.5 2-2.5 5 3.5 5 1.5 4.5 2.5-4.5-2-5 9.5-1 0 6 5.5 6 5-4.5 5 8 1.5-4.5-0.5-10-1-10 3-5.5 2-2 5 2 5-1.5 2.5 1.5 2.5 5.5 10 4.5 5-2 5-0.5 3-2 3-5.5 4-4 2-1 3.5-0.5 1.5 0.5-3.5 5 2 1.5 5 1 5-1 2.5-1.5-1-5 3.5-2.5 5 4 12.5 3.5-2.5 1-2.5 4.5 2.5 1 10 0 5-3 5 0.5 6-4-1-0.5-0.5-4.5 0.5-2.5 5-7.5-2.5-5 2.5-2.5 1.5 2.5 3.5 2 5.5 1 5-6 3 3 2 2 5 1 5-4 5 0 5-8 5-6 5 1 5-3.5 3.5-3 1.5-1 2.5 6 2.5 1 5-2 4-4-4-5 0-1.5 5.5-2.5 0.5-1.5-0.5-1.5-5.5-0.5-10 3-5-0.5 5-2.5 0.5-3-5.5-1.5-5 5-5 1-4.5-9.5-5.5-2.5-4.5 2.5 5 5-5.5 2-5.5-2 2.5-5-2-0.5-5 3.5-5-1.5-1.5-1.5-3.5-1.5-5.5 1-5-2-5 1.5-5-4.5-5-3-5 1-2-2.5 2-4 5 1.5 2-3-2-4-10 1-4 3-1 4.5-0.5-9.5 1.5-5-1-2-5-1-4.5 3-0.5 1-5-0.5-5 0.5-5-2.5-8 6.5-0.5 5-7 7-5-5-5 5.5-3-2-1-5.5-1-0.5-2.5 0.5-2.5 4-5 1 1.5 5.5-3.5 5 0.5 5-1.5 5 0.5 5.5-4 5-8.5 6.5-2-1.5-1.5-5-1.5-1-5 0.5-5-2.5-5.5-5.5-3-2-2-4-5-0.5-5 2.5-3-3-2-4.5-5.5-0.5 5.5-0.5 3.5-4.5-3.5-2-5 1-5-3-5 3.5-1.5-4.5 3.5-5.5-3-5 1-1 1-4-1-3.5-5-0.5-1-1 2-5-7-5 5-5.5 1-1.5 4.5 1.5-2.5 5.5 3 2.5 2.5-2.5-2-5.5 5.5-5 4-5.5 5-2.5 5 0.5 1-2.5 5.5-5 3-5.5 11-5 5 2.5 5 1 5 5 5.5 2 2.5 5 7 6.5 5-5 5-1 5 2.5 2-3-12-3-1.5-2 1.5-2.5 5 1.5 5-1.5 5-3 3-5 2-1.5 5 6 3 0.5 3 5.5 4.5 1 3.5 4 1.5 5 2-5 3-2.5 7.5-2.5 2.5-3 5 1.5 5 2.5 5 1 4.5-2-3-5.5 3.5-4.5 5 2 2.5-2.5-2.5-4-1.5-1-41.5 0 0 5-2 3-2-3 0-5-5 0-3.5 3-3-3-5 0-2 1-2.5-1-16.5 0 0.5 5-1.5 3.5-10-5-3 1.5 4.5 5-6.5 1.5-5-6.5-13-5-3.5 0-4 4.5-10-4.5-3.5 0-1.5 2-1.5-2-2.5 0-1 1.5-1-1.5-3.5 0-0.5 0.5-14-0.5-1 0.5-0.5-0.5-4.5 0 0 1-0.5-1-12 0-3 2-5 7-4.5-4 8-5-16 0 1.5 5 2.5 5-1.5 1.5-10 5-1.5 4-7.5 5 4 3.5 5-5 1 1.5 4 1.5 4.5-1.5 0.5-1-0.5 6 0.5 0.5 10 2.5 5-0.5 2.5-2.5-5-5 8-7 2 2 0.5 5-0.5 5 2 5 10 10.5-4 3.5-5-5.5-5 1-3 6-0.5 5-5 10 3 3.5 3-3.5 2.5-4 5 0 2.5 4-2.5 6-3.5 9.5 3.5 3 3-3-0.5-5 2.5-2.5 5 5.5 3.5 2 2 5 0.5 5-1.5 5.5 0.5 1 5 4 7 0-7 0-3 5 3 1.5 5 1 12.5 7.5-0.5 5.5 3 8 5 0.5 4.5-3.5 0.5-5.5 3 5.5 2 0.5 5.5-2.5 2.5-3 1.5-5.5-1.5-5 2.5-1 5 2 5-2.5 4.5 1.5-4.5 5 0 6 5 1.5 2-2 0.5-5.5 2.5-4.5 3.5 4.5-0.5 5.5 7 4.5 5-0.5 5-3 8.5 4-7 10 3.5 2.5 1.5 2.5-1.5 2-4-2-1-2-3.5 7.5-1.5 0.5-7.5-6-1.5-5-3-5-3-2-5 1-5-2.5-4.5 3.5 4.5 4.5 2.5 0.5-2.5 0.5-4.5 4.5-7.5 10.5 3 5-6 3.5-2.5-3.5-3-8.5-5-2-5 1.5-1.5-1-2.5-5.5 0-5-1-3.5-1 3.5 0.5 5-4.5 6-5-2.5-5 0.5-5-4-5-1-0.5 1 5 5.5 3.5 5-8 6.5-5 0.5-5-2 2.5-5-6-5 3.5-3.5 4-7-3-5 2-5-1.5-5-1.5-2-1-3.5 2-5 4-3.5 2.5-1.5 0.5-5-3-2.5-5 1.5-5 4.5-5-5.5-6-3 1.5-5.5-1 0-15 2.5-1 3-7.5 10 3.5 0.5 5-4 1 3.5 4 4.5 2.5 0.5-2.5 2.5-10 1.5-0.5 1 0.5 2 5 4.5 5-5 5-2 5.5 11-5.5 8-10 5.5-4-3.5-2-5-4-4-5 6-3-2 0.5-5-2.5-1-5-5-5 5-10-1-2.5-3 3.5-5.5-1-1.5-5 3-3-1.5-1-5 9-5 0-1-5-2.5-5.5 1.5-10-0.5-3 2.5-1 5 5 5-6 5-2.5-5-2.5-1-5 3-1-2-7-5-2-5-5 5.5-2-5.5-3-1-3-4-2-5 3-10.5-3-5-5-3.5-1 3.5-4 3-4-3 4-5.5 5-2 5 0.5 5 4 1.5-2-4-5 8-5.5-5-5-1-5-4.5-5 5-0.5 5 1-1-5.5 1-3.5 5 3 2-4.5-1-5.5-2-5-5-5 6-6.5 2.5 1.5 2.5 2 10 0.5 2 2.5-2 1.5-1.5 3.5 1.5 2 5 0 2.5 3 2.5 2 2.5 3.5-2.5 4-5 0-2.5 1-2.5 1.5-3 3.5-3 15-5.5 5.5 1.5 3 5-1.5 10 3 5-1 2.5 1.5-4.5 10 5 5 0.5 5.5 1.5 1 5-4.5 10 3.5 2.5 5 3 1 3.5-1-1-5 1-5.5 1-10-5-5 7.5-10.5-5-5-2-10 5-4 5 3 4-9-5.5-5.5 3-5-1.5-2.5-5-0.5-3.5-2-5-5-1.5-3-5 4-1.5-6 1.5-3.5 5-1.5 2.5-5.5 2.5-2 5 1 2.5-4-10 0-7.5 10-3-5 0.5-5-7 0 0.5 5-1.5 1-5-4-1.5 3 4.5 5-3 3.5-5 3-1-1-4-1.5-5-5-4 1 2.5 5.5-3.5 3-5-3-5 1.5-2.5 3.5-2.5 5 3 5 0 5-3 1-5-2.5-5-7-3.5-1.5 1-5-2.5-1-5 1.5-1.5-0.5-5.5-5-1-5.5-7.5-6-2.5 1-2.5 4.5-0.5-4.5-1.5-5-6.5 0 4 10 4.5 9 4.5-3.5 0.5-5.5 1 5.5 3.5 5 0.5 5 5-2 4.5 2 1 2 2.5 3 2.5 1 0.5 4 0 5.5 2 5-2.5 5-5-1.5-5.5 0.5-5 2-3.5 4-1.5 3.5-5-3.5 2.5-5-2.5-1.5-5 4.5-2-3 3-5-1-1.5-5 1-3.5 5.5-1 5 1.5 5-2 0.5-5 8.5-1.5 1.5 5.5 5 0 5 1 0.5 1.5-0.5 0.5-5 3-8.5 5-1 3 4.5-2 5 4 1 5-2 2.5 1 2 5 0 5 0.5 1.5 5-3 1.5 1.5-3 5 1.5 11.5 10.5 2 2.5-3 0.5-5 2-1.5 4.5 1.5-2 5 0.5 5 2.5 5-6.5 5 1 1.5 5.5 4-5.5 2-6.5-2-3.5-3-2 3-3.5 3-5 0.5-2 1.5 4.5 5 2 5-1 5 2.5 5.5-1 5-5-2-5 2.5-5-2-5-3.5-5-0.5-3.5-5 1-5-2.5-6-5 4.5-11-3.5 6-3.5 5 0 2.5-1.5-8.5-10.5-4-3-4.5 3-0.5 2-5 1-2 2.5 2 2.5 2 2.5 1.5 5 3 5-1.5 1.5-5 0.5-4 3-1 5.5-4.5-10.5-2.5 0 0 5-3.5 3-4.5-3-5-5 2.5-5 2-2.5 4.5-2.5-5-5 7-5.5 0.5-5 3-2.5 3-7.5 2.5-3.5 3-1.5 4-10.5-5.5-5-1.5-3-5.5 0-4.5-2 5-5-8.5-15.5-0.5-5 8.5 0 5.5 0.5 5-2 2-3.5 3-1.5 2 1.5 3 4.5 4.5-4.5-0.5-5-4-5.5 4-5 0-5-4-5.5-1.5 0.5-1.5 5-2 2-6-7-0.5-5 5.5-5.5-0.5-5 1.5-1.5 5 5.5 2.5 1 4.5 5.5 2.5 5 0.5 4 3.5 1-2 10-5 5.5-1 5 4.5 2.5 2-2.5 1-5 7-5.5 4-5 4.5-10-3.5-1.5-6.5-9 0-5-3.5-3.5-4-1.5-18.5 0-2.5 3.5-5 3-1.5-6.5-10.5 0-3 5 0 5 2.5 5.5-3 4-1 1 6 6.5 1.5 3.5-1.5 1-5-0.5-5 2 0 12.5 1.5 10.5-1.5 1 0 14 1.5 0.5 3.5 3.5 0.5 1.5-0.5 4.5-5 1 0 6 5-1 5 1.5 1.5-2-6-5 4.5-1 10.5 4.5 1.5 1.5-1.5 1.5-5.5 8-5-1.5-0.5 2.5 0.5 2.5 3 2.5-3 1.5-5-1.5-0.5 5-4.5 3.5 0 6.5 5-1 1.5 1-1.5 1-5-1 0 32 1.5-1 3.5-1 10 9.5 10.5 4 5-0.5 1.5-2 1-5 2.5-0.5 5-0.5 10 3.5 5 0 5-2 5 5 5-0.5 5-2 5 0.5 3.5-3.5 3-5 0.5-5.5-3-5 3-10 3.5-1 2.5 1 2.5 2.5 5-0.5 5-4 1.5 2-2.5 5 4.5 5 0.5 5-9 5.5-5-2.5-2 2.5 2 2.5 2.5 2.5 2.5 8.5 5-3 2-0.5-2-1-1.5-4 1.5-1 5 0.5 5-2 1 2.5-1 1.5-4.5 3.5-1 5 5.5 0.5 5 2.5 5-2.5 5 3 5-2.5 5 2 5-2 5 0.5 2.5-1.5-1-5 4-4 5 3 5-0.5 10-3 5 5 5-2.5 2.5 2 2.5 5.5 3.5-0.5 1.5-2.5 0.5 2.5 9 5zM185.5 444l-3-5 2.5-5-1-5 2.5-5.5 4.5 15.5-3 5-1.5 0.5zM196 444l-2.5-5 3-9 8 4-3 1.5-4 3.5 0 5-1 0.5zM267 444l0-5.5 5-0.5 3 1-8 5zM205.5 439l1-2.5 1 2.5-1 1zM226.5 434l5.5-4 5 4-5 0.5-5-0.5zM79.5 429l1-1.5 1 1.5-1 1zM219 429l-1.5-5.5 0-5-6-1-5-3-0.5-6 0.5-1.5 5 1.5 5 3 5.5-4.5 2 1.5 0 5 3 4 2 1 0.5 5-7.5 7.5zM250 429l2-2 2 2-2 2.5zM94.5 423.5l1.5-0.5 0.5 0.5-0.5 1zM110 423.5l1-0.5 1 0.5-1 3zM194 423.5l2.5-3 4.5 3-4.5 2zM206 423.5l0.5-0.5 1.5 0.5-1.5 0.5zM285.5 423.5l-5-5 1.5-2.5 5.5 0 6.5 7.5-1.5 1.5-5 1zM458 423.5l0.5-1 3.5 1-3.5 1zM189.5 418.5l2-1.5 2 1.5-2 2zM235 418.5l2-3.5 3 3.5-3 2.5zM256 418.5l1-0.5 1.5 0.5-1.5 1zM296 418.5l1.5-1.5 1 1.5-1 2zM462.5 418.5l-0.5-5 1.5-3 1 3 5 5-1 2.5-5 1zM194.5 413.5l2-1.5 5-6 2 2.5-0.5 5-1.5 1.5-5 1zM366.5 413.5l1.5-1 1.5 1-1.5 1.5zM415.5 413.5l2-5 1-0.5 1 0.5 2.5 5-3.5 2zM426 413.5l-0.5-5 3-4.5 3.5 4.5 0.5 5-4 2zM445 413.5l-5.5-5-1-3-5-3-3.5-4.5 3.5-3.5 10 0 5 1 1-2.5-1-2-4.5-3 4.5-1.5 5 1.5 5 3.5 4 1.5 1 5.5 5-3 5 1 2.5 1.5-7.5 7.5-5 0.5-2.5 2.5-2.5 4-3.5 1-6.5 3.5zM467.5 413.5l1-3.5 3.5 3.5-3.5 1.5zM188.5 408.5l3-2.5 5 2 0 1-5 2zM98 403.5l3-2 3 2-3 2.5zM174 403.5l2.5-2.5 2 2.5-2 2.5zM210 403.5l1.5-2 2.5 2-2.5 5zM291 403.5l1.5-1 2.5 1-2.5 2.5zM347.5 403.5l-1.5-5.5 1.5-1 2.5 1-1.5 5.5-1 0.5zM288.5 398l4-2.5 1.5 2.5-1.5 2zM387.5 398l0.5-0.5 0.5 0.5-0.5 1.5zM400.5 398l-3.5-5-2.5-5-1.5-1-5 0-2.5-4-0.5-5-2.5-5.5 0.5-1.5 5 1.5 2-5-0.5-5 1.5-5 2-1 10 4 5-2.5 5 5.5 5.5 0 1.5-1-1.5-0.5-5-4.5 2.5-5 2.5-2 5 3 0.5-1-1.5-5.5 1-1 5 0 5-4.5 5 4.5 5-3 1.5 4-0.5 5.5 5 5 2 5 2 2.5 5.5 2.5-1 5 0.5 1.5 5-3.5 5-1 0.5 3 3.5 5.5-1.5 5 2.5 1 2.5 4-2.5 4-5-2.5-10-0.5-1-1 2-5-2.5-5-3.5-3-3 3-2 4-5-2.5-5 0-2.5 3.5-2.5 2.5-5 2.5 1.5-10-1.5-2.5-5 3-5-4-4 3.5-1.5 5-5 0-5-1-0.5 1 2 5 0 5 0.5 5-2 2zM509.5 398l4.5-2.5 0.5 2.5-0.5 1zM70 393l0.5-0.5 1.5 0.5-1.5 0.5zM281.5 393l0.5-1 3.5 1-3.5 2zM331 393l-3.5-5 5-1 3-9 2-2 5 6.5 5.5-4.5 2.5 5-3 5.5-15 7zM407 393l1-2 1.5 2-1.5 3.5zM491.5 393l-2.5-5-4-5 1-5-1.5-5.5 4.5-3.5 2 3.5 1 5.5 2 4 1.5 1 4.5 10-6 2.5zM271.5 388l0.5-1 1 1-1 0.5zM507 388l-1-5 3-2 2 2-2 6.5zM514 383l5.5 0-5.5 1zM149 378l0-5.5 2.5-1.5 3.5 1.5-2.5 5.5-1 0.5zM270.5 378l1.5-1 2.5 1-2.5 1.5zM311.5 378l1-2 5-3.5 0 5.5-5 0.5zM477 378l1.5-2 2 2-2 1.5zM503 378l1-1 0.5 1-0.5 0.5zM160.5 372.5l1-2 3.5 2-3.5 1zM326.5 372.5l1-1 1 1-1 1.5zM473 372.5l0.5-1 1.5 1-1.5 1zM228 362.5l4-2.5 2 2.5-2 3zM458 362.5l0.5-0.5 3 0.5-3 0.5zM468 362.5l0.5-0.5 1 0.5-1 3zM513 362.5l1-0.5 1 0.5-1 1zM142 357.5l3.5-5 0-5.5 0.5-2.5 5.5 1.5 5 0 4.5 1-4.5 3.5-5 0.5-3.5 1.5 1 5-3 3zM220 357.5l2-1 2.5 1-2.5 1.5zM220.5 352.5l1.5-1.5 1.5 1.5-1.5 0.5zM135.5 347l5.5-2.5 1.5 2.5-1.5 3-5-1.5zM163.5 347l3-5 4 5-4 3.5zM210 347l1.5-3.5 5.5 3.5-5.5 1.5zM225 347l2-1 1 1-1 2.5zM122 342l4-3 3 3-3 4zM150 342l0.5-5 1.5 0 3 5-3.5 1zM302 342l-1-5 1.5-3.5 2.5 3.5-2.5 5.5zM195.5 337l1-2 5 1 3.5-4 1.5-1 2.5 1 2.5 3 1.5-3-3.5-5 2-7.5 5 0 2.5-3-3-5 0.5-1 5.5 0.5 5-7 5 6 5 0.5 2 1-2.5 5 5.5 3.5 1.5 2-1.5 3-5-0.5-5 2-5-6.5-3.5 2 2 5-3.5 3-1 2-1 5-8.5 4-10-1.5-5 1zM443 337l1 0-0.5 2zM73.5 327l-5.5-5 0.5-5.5 7-2 5 2.5 0-7 4-3.5 1.5-2 0.5 2-0.5 5 4.5 10.5-10 5.5-5 1zM91 322l5-4 5.5 4-0.5 2.5-5-1.5zM160 316.5l1.5-1.5 2.5 1.5-2.5 3zM299 316.5l3.5-1.5 1 1.5-1 1.5zM120 311.5l1-3.5 0 4zM157.5 311.5l4-1 0.5 1-0.5 1zM204.5 311.5l2-0.5 4 0.5-4 1.5zM206 306.5l0.5-3 2-2 3-1.5 1 1.5 1.5 5-2.5 1.5-5-1zM271 306.5l1-2.5 1.5 2.5-1.5 1.5zM79.5 301.5l0-5 1-2 1.5 2-0.5 5-1 1zM309 301.5l2-5 1.5-2 5 1-1.5 6-3.5 4.5zM382 296.5l1-1.5 0 2zM89.5 291l1.5-2 0 2.5zM215 291l1.5-1.5 1 1.5-1 1.5zM291.5 291l1-5 5 4 0.5 1-0.5 0.5-5 1zM305 291l2.5-1 2.5 1-2.5 2.5zM325.5 291l2-0.5 0 2zM331 291l1.5-3 2.5 3-2.5 2zM447.5 291l1-0.5 0.5 0.5-0.5 1zM452 291l-3.5-4.5-5 4-4-4.5 4-4.5 5 2.5 5 1 3 6-3 3.5zM100 286l1-3 2 3-2 1zM111.5 286l4.5-1 1 1-1 2.5zM305.5 286l2-2.5 1.5 2.5-1.5 1zM387 286l1-2 5 0.5 2 1.5-7 2.5zM625 444.5l0.5-0.5-0.5-1.5-1 1.5zM604.5 441l5-0.5 1.5-1.5 1-5 7-5-5-5.5-4.5-2.5-5-2-3.5 4.5-2 5.5-0.5 5 1 1.5 5-4 2.5 2.5-4 5zM373 430l1-1-1-4.5-1 4.5zM413 430l1-1-1-1.5-2 1.5zM625 430.5l2-1.5-2-1.5-2.5 1.5zM670 429l0-4.5-1 4.5zM569.5 429l5-0.5 5-1.5 5-3.5 4-10-1-5-8-3-5 2-7 6-2 5 1.5 5zM572 423.5l-2.5-1.5-1.5-3.5 1.5-2.5 5-4 3 1.5 0 5 2.5 5-5.5 1.5zM581.5 413.5l3-2 1 2-1 2zM494 414.5l1.5-1-1.5-2-2 2zM544 416.5l4-3 1-2.5 5.5-3 2-4.5-2-2.5-4.5 2.5-1 1-5-1.5-2.5 5.5-1 5zM543 413.5l1-2 1 2-1 0.5zM660 415.5l1.5-2-1.5-1-1.5 1zM670 416l1.5-2.5-1.5-1.5-2 1.5zM448.5 409l1-0.5-1-1.5-1 1.5zM609.5 410.5l5-4.5 5-2.5-2-5.5 2.5-6 5 2 5-4 5 1 10-2.5 10 2.5 5 0 3.5-3 1.5-2 5 0 4.5-3 2.5-5-2-2-5-2-1-1.5 0-5-4-2-2 2-8 4-5-2-5 0-10-1.5-5-5.5-10-0.5-5.5 3.5-5 1-1 1 0.5 5 4 5.5 3 5-2.5 5-4 2-5-2-5 1-1-1-0.5-5-3.5-2-1.5 2 0.5 10 11 10.5 3.5 5zM607 398l2.5-1 2 1-2 3.5zM602.5 393l2-1 6 1-6 1.5zM629.5 383l-4-5-5.5-0.5-2-5-0.5-5 2.5-2 9 2 6 4 5 0 1.5 1-11.5 10.5zM651.5 383l-1.5-1.5-5-1.5-1-2 1-1.5 5-1 5 2 2.5-5 2.5-1 3.5 1 4.5 5.5-6.5 5-1.5 3.5-5 1zM669 383l1-1.5 1 1.5-1 0.5zM638.5 378l1.5-1.5 1 1.5-1 3.5zM257 407l3-3.5-3-2-2 2zM116 400.5l4-2.5-4-2-2.5 2zM136 402l1.5-4-1.5-2-2.5 2zM121 395.5l1-2.5-1-0.5-1 0.5zM191.5 394.5l3-6.5 7-4.5 4.5-5.5-4.5-3.5-5 0.5-2.5-2.5 3-5 2-5-2.5-1.5-2 6.5-3 1-3 4 4 5.5-5 10 3.5 5zM198.5 378l3-1.5 2 1.5-2 2zM257 393.5l1-0.5-1-4-2.5 4zM96 390.5l4-2.5-4-4.5-5-0.5 0.5 5zM111 383.5l5 1 2-1.5-2-5-5 4.5-1.5-4.5-3.5-2-2 2 2 5 1.5 0zM131 385l3-2 2.5-5-5.5 0-2 5zM609.5 384.5l2.5-1.5-2.5-1.5-2 1.5zM111 375.5l5 2 5-3 1-2-1-7-5 6.5-5-5.5-1 1-0.5 5zM247 373.5l2-6-2-3-3.5 3 2.5 5zM272 370.5l4-3-4-1-4 1zM302.5 369l4.5-1.5-4.5-1-0.5 1zM433.5 369l5 2 1-3.5-1-3.5-5-3.5-3 2 1.5 5zM559.5 369l0.5-1.5-0.5-1-2.5 1zM675 369l3-1.5-3-2-3.5 2zM257 362.5l4.5-5-4.5-3.5-3 3.5 2.5 5zM242 358l5 2.5 3-3-3-3-8 3zM438.5 359l2.5-6.5-2.5-3.5-1.5 8.5zM670 359.5l5 0 1.5-2-0.5-5-1-1-5 3-2.5 3zM252 343.5l2-1.5-2-1-1 1zM267 344.5l2.5-2.5-3-5 1.5-5-1-2-1 2-4 2-2 3 2 4.5 1 0.5zM186.5 333.5l2.5-1.5-2.5-1-1 1zM131 323l5.5-6.5-5.5-1-1 1 0 5.5zM267 324l1-2-1-1-1 1zM403 324l2-2-2-3.5-1 3.5zM413 322.5l1-0.5-1-2-0.5 2zM408 318.5l3.5-2-3.5-2.5-3 2.5zM408 308.5l1-2 0-5 4-5-5-4-2 4 1.5 5-0.5 5zM418.5 308.5l1.5-2-1.5-2-1.5 2zM620 307l5-2 5-4.5 5-1.5 1-2.5-1.5-5.5 0.5-0.5 5-0.5 2.5 1 2.5 2.5 5-5.5 5.5 3 4 5.5 3 5 2.5 0.5 5-2.5 5-4.5 5 2 0.5-0.5-2-5.5 3-5-1.5-1-1.5-4-2.5 0-1 1.5-4.5 3.5-0.5 2-5 1-5-3.5-5 1.5-1-1-1-5-11 0 5 5-2 2-8.5-2 1.5-5-12 0 4 4 3.5 1-3.5 5-5-4-5 0-5.5-6-9.5 0-1.5 5-2 5-2 2.5-3-2.5-1-5-1-0.5-5 2-5 2.5-4-4 0-5-2.5 0-1 5-2.5 3.5-4.5-3.5-0.5-5-0.5 0-1 5-3.5 3-5-1.5-3 3.5-3 5.5 1 3 5 1.5 10-2.5 5 1.5 5-6.5 5 0 5 3.5 5-2 5 4 5-2 3.5-0.5 1.5-2.5 5 1.5 1 1-1 5 4.5 5zM626.5 296.5l3.5-5 1 5-1 0.5zM669.5 296.5l0.5-3.5 0.5 3.5-0.5 0zM620.5 291l4.5-1 1.5 1-1.5 2zM612 286l2.5-0.5 1 0.5-1 1zM549 301.5l3.5 0-3.5-1-4.5 1zM650 302l1-0.5-1-1.5-1 1.5zM156.5 293l2.5-2 1.5-5-1.5-5-4 0-2 5 0 5zM544 295.5l5-2 3.5-2.5-0.5-5-3-1.5-5 1.5-0.5 0-0.5 5zM196.5 281.5l5 1 3-1.5-8 0zM478.5 282.5l1.5-1.5-3 0zM554.5 284l5 0.5 1.5-3.5-8 0z" fill="#ffbd00" stroke="#ffbd00" stroke-width="0.6"/>
<path d="M635 450l1-1-1-1-1 1zM650 451.5l5-3 2.5-4.5-2.5-3-3-2-2-2.5-5-2-3 4.5 0 5 5.5 5zM186.5 444.5l1.5-0.5 3-5-4.5-15.5-2.5 5.5 1 5-2.5 5 3 5zM196.5 444.5l1-0.5 0-5 4-3.5 3-1.5-8-4-3 9 2.5 5zM267 444l8-5-3-1-5 0.5 0 5.5zM206.5 440l1-1-1-2.5-1 2.5zM297.5 439l5 2 5-0.5 8-6.5-3.5-5-5-5.5 0.5-1 5 1 5 4 5-0.5 5 2.5 4.5-6-0.5-5 1-3.5 1 3.5 0 5 2.5 5.5 1.5 1 5-1.5 5 2 3 8.5 2.5 3.5 6-3.5-3-5 7.5-10.5 4.5-4.5 2.5-0.5-2.5-0.5-4.5-4.5 4.5-3.5 5 2.5 5-1 3 2 3 5 1.5 5 7.5 6 1.5-0.5 3.5-7.5 1 2 4 2 1.5-2-1.5-2.5-3.5-2.5 7-10-8.5-4-5 3-5 0.5-7-4.5 0.5-5.5-3.5-4.5-2.5 4.5-0.5 5.5-2 2-5-1.5 0-6 4.5-5-4.5-1.5-5 2.5-5-2-2.5 1 1.5 5-1.5 5.5-2.5 3-5.5 2.5-2-0.5-3-5.5-0.5 5.5-4.5 3.5-5-0.5-3-8 0.5-5.5-12.5-7.5-5-1-3-1.5 3-5 7 0-7 0-5-4-0.5-1 1.5-5.5-0.5-5-2-5-3.5-2-5-5.5-2.5 2.5 0.5 5-3 3-3.5-3 3.5-9.5 2.5-6-2.5-4-5 0-2.5 4-3 3.5-3-3.5 5-10 0.5-5 3-6 5-1 5 5.5 4-3.5-10-10.5-2-5 0.5-5-0.5-5-2-2-8 7 5 5-2.5 2.5-5 0.5-10-2.5-0.5-0.5 0.5-6-0.5 1-4.5 1.5-4-1.5-1-1.5-5 5-4-3.5 7.5-5 1.5-4 10-5 1.5-1.5-2.5-5-1.5-5-6.5 0-6 3-2 2-3 2-1-2 1-3.5 1.5-1.5-9 0-2.5 4-5-1-2.5 2-2.5 5.5-5 1.5-1.5 3.5 1.5 6 5-4 1.5 3 5 5 3.5 2 5 0.5 1.5 2.5-3 5 5.5 5.5-4 9-5-3-5 4 2 10 5 5-7.5 10.5 5 5-1 10-1 5.5 1 5-3.5 1-3-1-2.5-5-10-3.5-5 4.5-1.5-1-0.5-5.5-5-5 4.5-10-2.5-1.5-5 1-10-3-5 1.5-1.5-3 5.5-5.5 3-15 3-3.5 2.5-1.5 2.5-1 5 0 2.5-4-2.5-3.5-2.5-2-2.5-3-5 0-1.5-2 1.5-3.5 2-1.5-2-2.5-10-0.5-2.5-2-2.5-1.5-6 6.5 5 5 2 5 1 5.5-2 4.5-5-3-1 3.5 1 5.5-5-1-5 0.5 4.5 5 1 5 5 5-8 5.5 4 5-1.5 2-5-4-5-0.5-5 2-4 5.5 4 3 4-3 1-3.5 5 3.5 3 5-3 10.5 2 5 3 4 3 1 2 5.5 5-5.5 2 5 7 5 1 2 5-3 2.5 1 2.5 5 6-5-5-5 1-5 3-2.5 10 0.5 5.5-1.5 5 2.5 0 1-9 5 1 5 3 1.5 5-3 1 1.5-3.5 5.5 2.5 3 10 1 5-5 5 5 2.5 1-0.5 5 3 2 5-6 4 4 2 5 4 3.5 10-5.5 5.5-8-5.5-11-5 2-5 5-5-4.5-0.5-2 0.5-1 10-1.5 2.5-2.5-2.5-0.5-4-4.5-1-3.5-5 4-3.5-0.5 7.5-10 1-3 15-2.5 1 0-1.5 5.5 6 3 5 5.5 5-4.5 5-1.5 3 2.5-0.5 5-2.5 1.5-4 3.5-2 5 1 3.5 1.5 2 1.5 5-2 5 3 5-4 7-3.5 3.5 6 5-3 5zM304.5 429l3-2 1.5 2-1.5 3zM301.5 423.5l1-1 1 1-1 2zM317 423.5l-6-5-3.5-6-5 3-1-2 3-5 6-5-2-5.5 2.5-5 1.5-0.5 5 1.5 2.5 4-2.5 4-2.5 1.5 2.5 1.5 5-3 1 1.5-3 5-3 2-2 3 3 5 0.5 5-1.5 1zM337 423.5l0.5-2.5 1.5 2.5-1.5 1zM346 423.5l0-5 1.5-3.5 2 3.5 3.5 3 5-5 1.5 2-1.5 5-5 5-5.5-4zM327 418.5l1 0-0.5 3zM266 413.5l1-1.5 1 1.5-1 2.5zM387.5 413.5l1 0-0.5 2.5zM251 403.5l0-5.5 1-0.5 5 0 1 0.5-6 6zM255 403.5l2-2 3 2-3 3.5zM360.5 403.5l1-5.5 1.5-1 1 1 0.5 5.5-1.5 2zM231 398l1-2.5 2.5 2.5-2.5 2.5zM300.5 398l1.5-5 0.5-0.5 1.5 0.5 1.5 5-3 2zM191 393l-3.5-5 5-10-4-5.5 3-4 3-1 2-6.5 2.5 1.5-2 5-3 5 2.5 2.5 5-0.5 4.5 3.5-4.5 5.5-7 4.5-3 6.5zM234.5 393l2.5-2.5 2 2.5-2 2.5zM254.5 393l2.5-4 1 4-1 0.5zM231 388l1-0.5 1.5 0.5-1.5 2zM172 383l4.5-4 2.5 4-2.5 2.5zM252 383l1.5 0-1.5 3zM260.5 378l1.5-1.5 1 1.5-1 1zM289 378l3.5-2 2.5 2-2.5 3zM170.5 372.5l1-1.5 2 1.5-2 3zM201 372.5l0.5-0.5 1.5 0.5-1.5 0.5zM246 372.5l-2.5-5 3.5-3 2 3-2 6zM251 372.5l1-2 2 2-2 2.5zM268 367.5l4-1 4 1-4 3zM281.5 367.5l-0.5-5-4-2.5-1.5 2.5-3.5 2-2.5-2 5-5-3.5-5 1-3 5 2.5 5 5.5 1 5 0 5-1 0.5zM295.5 367.5l2-2 1.5 2-1.5 2.5zM302 367.5l0.5-1 4.5 1-4.5 1.5zM241 362.5l1-0.5 1 0.5-1 1zM256.5 362.5l-2.5-5 3-3.5 4.5 3.5-4.5 5zM239 357.5l8-3 3 3-3 3-5-2.5zM282.5 357.5l5-0.5 0 1zM175 352.5l1.5-1 5 0 0 3-5 0.5zM182.5 347l-2.5-5 6.5-2.5 2 2.5 0 5-2 2zM239 342l-2-2-1-3 1-5.5 5 4 4.5-3.5 0.5-2.5 5 0.5 1.5 2-3 5-3.5 3.5-2.5 1.5-2.5 5zM251 342l1-1 2 1-2 1.5zM263 342l-1-0.5-2-4.5 2-3 4-2 1-2 1 2-1.5 5 3 5-2.5 2.5zM185.5 332l1-1 2.5 1-2.5 1.5zM186.5 327l0-6.5 0.5 1.5-0.5 5zM279 327l3-0.5 0 1zM195.5 322l1-2.5 2.5 2.5-2.5 0.5zM266 322l1-1 1 1-1 2zM251 316.5l1-0.5 2 0.5-2 1zM245.5 301.5l1.5-1 1 1-1 0.5zM235 296.5l7-5.5 2 5.5-2 2.5-5-2zM660 440l1.5-1-0.5-5-1-1-5.5 1 4 5zM136 434.5l5-2.5 5 2 1-5-2.5-5.5 1-5-2-5-4.5-5 2-1.5 5-0.5 3.5-3 2-3 3.5 3 6.5 2 5.5-2-5.5-4-1-1.5 6.5-5-2.5-5-0.5-5 2-5-4.5-1.5-2 1.5-0.5 5-2.5 3-10.5-2-1.5-11.5 3-5-1.5-1.5-5 3-0.5-1.5 0-5-2-5-2.5-1-5 2-4-1 2-5-3-4.5-5 1-3 8.5-0.5 5-1.5 0.5-1-0.5 0-5-5.5-5 1.5-1.5 5-8.5 2-0.5-1.5-5 1-5 3.5-5.5 5-1 1 1.5-3 5 2 3 5-4.5 2.5 1.5-2.5 5 5 3.5 1.5-3.5 3.5-4 5-2 5.5-0.5 5 1.5 2.5-5-2-5 0-5.5-0.5-4-2.5-1-2.5-3-1-2-4.5-2-5 2-0.5-5-3.5-5-1-5.5-0.5 5.5-4.5 3.5-4.5-9-4-10-10.5 0 4 1.5 3.5 3.5 0 5 6.5 9 3.5 1.5-4.5 10-4 5-7 5.5-1 5-2 2.5-4.5-2.5 1-5 5-5.5 2-10-3.5-1-0.5-4-2.5-5-4.5-5.5-2.5-1-5-5.5-1.5 1.5 0.5 5-5.5 5.5 0.5 5 6 7 2-2 1.5-5 1.5-0.5 4 5.5 0 5-4 5 4 5.5 0.5 5-4.5 4.5-3-4.5-2-1.5-3 1.5-2 3.5-5 2-5.5-0.5-8.5 0 0.5 5 8.5 15.5-5 5 4.5 2 5.5 0 1.5 3 5.5 5-4 10.5-3 1.5-2.5 3.5-3 7.5-3 2.5-0.5 5-7 5.5 5 5-4.5 2.5-2 2.5-2.5 5 5 5 4.5 3 3.5-3 0-5 2.5 0 4.5 10.5 1-5.5 4-3 5-0.5 1.5-1.5-3-5-1.5-5-2-2.5-2-2.5 2-2.5 5-1 0.5-2 4.5-3 4 3 8.5 10.5-2.5 1.5-5 0-6 3.5 11 3.5 5-4.5 2.5 6-1 5 3.5 5 5 0.5 8.5 5zM134.5 429l-3.5-3-1.5-2.5 6.5-7.5 5 0.5 1.5 2-3 5 1 5.5-4.5 0.5zM119.5 413.5l1.5-1.5 2.5 1.5-2.5 2.5zM141 403.5l-1-10.5-1-5 1-5 1-1.5 3 6.5-0.5 10-2.5 5.5zM80.5 398l5.5 0-5.5 0.5zM113.5 398l2.5-2 4 2-4 2.5zM133.5 398l2.5-2 1.5 2-1.5 4zM155 398l1.5-6 5-2 1 3-6 6.5zM120 393l1-0.5 1 0.5-1 2.5zM127.5 393l3.5-5 2.5 5-2.5 2zM85 388l1-2 0.5 2-0.5 1zM91.5 388l-0.5-5 5 0.5 4 4.5-4 2.5zM117.5 388l3.5-3 3 3-3 2zM149.5 388l2-0.5 1.5 0.5-1.5 1.5zM107.5 383l-1.5 0-2-5 2-2 3.5 2 1.5 4.5 5-4.5 2 5-2 1.5-5-1zM125 383l1-1 0 2zM129 383l2-5 5.5 0-2.5 5-3 2zM95.5 378l0.5-10.5 5-8 5 1 1.5 2-4.5 5 3.5 5-5.5 4.5-5 1zM109.5 372.5l0.5-5 1-1 5 5.5 5-6.5 1 7-1 2-5 3-5-2zM132 372.5l3-5-3.5-5 4.5-2.5 2 2.5-1 5 3 5-4 2.5zM90 362.5l1-1.5 1 1.5-1 1zM85 352.5l-1-5.5 2-0.5 1 0.5 1.5 5.5-2.5 1zM93 352.5l0.5-5.5 2.5-1 2 1-0.5 5.5-1.5 4zM115.5 327l0.5-1 0.5 1-0.5 1zM145.5 327l-2.5-5-1.5-5.5 4.5-1 4.5 1 1 1 0.5 4.5-6 5zM130 322l0-5.5 1-1 5.5 1-5.5 6.5zM135 311.5l-1.5-5 0.5-5 2-2 1.5 2-0.5 10-1 0.5zM227 434l5 0.5 5-0.5-5-4-5.5 4zM222 431l7.5-7.5-0.5-5-2-1-3-4 0-5-2-1.5-5.5 4.5-5-3-5-1.5-0.5 1.5 0.5 6 5 3 6 1 0 5 1.5 5.5zM252 431.5l2-2.5-2-2-2 2zM206.5 424l1.5-0.5-1.5-0.5-0.5 0.5zM458.5 424.5l3.5-1-3.5-1-0.5 1zM574.5 425l5.5-1.5-2.5-5 0-5-3-1.5-5 4-1.5 2.5 1.5 3.5 2.5 1.5zM257 419.5l1.5-1-1.5-0.5-1 0.5zM463.5 422l5-1 1-2.5-5-5-1-3-1.5 3 0.5 5zM418.5 415.5l3.5-2-2.5-5-1-0.5-1 0.5-2 5zM428.5 415.5l4-2-0.5-5-3.5-4.5-3 4.5 0.5 5zM544 414l1-0.5-1-2-1 2zM584.5 415.5l1-2-1-2-3 2zM191.5 411l5-2 0-1-5-2-3 2.5zM101 406l3-2.5-3-2-3 2zM211.5 408.5l2.5-5-2.5-2-1.5 2zM292.5 406l2.5-2.5-2.5-1-1.5 1zM403 400l2-2-0.5-5 0-5-2-5 0.5-1 5 1 5 0 1.5-5 4-3.5 5 4 5-3 1.5 2.5-1.5 10 5-2.5 2.5-2.5 2.5-3.5 5 0 5 2.5 2-4 3-3 3.5 3 2.5 5-2 5 1 1 10 0.5 5 2.5 2.5-4-2.5-4-2.5-1 1.5-5-3.5-5.5-0.5-3-5 1-5 3.5-0.5-1.5 1-5-5.5-2.5-2-2.5-2-5-5-5 0.5-5.5-1.5-4-5 3-5-4.5-5 4.5-5 0-1 1 1.5 5.5-0.5 1-5-3-2.5 2-2.5 5 5 4.5 1.5 0.5-1.5 1-5.5 0-5-5.5-5 2.5-10-4-2 1-1.5 5 0.5 5-2 5-5-1.5-0.5 1.5 2.5 5.5 0.5 5 2.5 4 5 0 1.5 1 2.5 5 3.5 5zM387.5 383l0.5-2 2.5 2-2.5 1zM392 372.5l1-1.5 1 1.5-1 3.5zM442.5 372.5l-0.5-5 1.5-3.5 5 0.5 2.5 3-2.5 3.5-5 2.5zM432 367.5l-1.5-5 3-2 5 3.5 1 3.5-1 3.5-5-2zM422 357.5l1.5-0.5 0.5 0.5-0.5 0.5zM437 357.5l1.5-8.5 2.5 3.5-2.5 6.5zM442.5 357.5l1-1 1 1-1 2.5zM427 352.5l1.5-1.5 5 0.5 0.5 1-0.5 0.5-5 1zM514 399l0.5-1-0.5-2.5-4.5 2.5zM70.5 393.5l1.5-0.5-1.5-0.5-0.5 0.5zM332.5 395.5l15-7 3-5.5-2.5-5-5.5 4.5-5-6.5-2 2-3 9-5 1 3.5 5zM604.5 394.5l6-1.5-6-1-2 1zM509 389.5l2-6.5-2-2-3 2 1 5zM630 383l11.5-10.5-1.5-1-5 0-6-4-9-2-2.5 2 0.5 5 2 5 5.5 0.5 4 5zM655 387.5l5-1 1.5-3.5 6.5-5-4.5-5.5-3.5-1-2.5 1-2.5 5-5-2-5 1-1 1.5 1 2 5 1.5 1.5 1.5zM670 383.5l1-0.5-1-1.5-1 1.5zM151.5 378.5l1-0.5 2.5-5.5-3.5-1.5-2.5 1.5 0 5.5zM504 378.5l0.5-0.5-0.5-1-1 1zM468.5 365.5l1-3-1-0.5-0.5 0.5zM514 363.5l1-1-1-0.5-1 0.5zM146 360.5l3-3-1-5 3.5-1.5 5-0.5 4.5-3.5-4.5-1-5 0-5.5-1.5-0.5 2.5 0 5.5-3.5 5zM222 353l1.5-0.5-1.5-1.5-1.5 1.5zM227 349.5l1-2.5-1-1-2 1zM126 346l3-4-3-3-4 3zM302.5 342.5l2.5-5.5-2.5-3.5-1.5 3.5 1 5zM443.5 339l0.5-2-1 0zM302.5 318l1-1.5-1-1.5-3.5 1.5zM70.5 312l5 0.5 1.5-1-1.5-3.5-6-6.5 1-1 3-4-2.5-5.5 0-5 3-5-8.5 0 0 33zM161.5 312.5l0.5-1-0.5-1-4 1zM206.5 313l4-1.5-4-0.5-2 0.5zM80.5 302.5l1-1 0.5-5-1.5-2-1 2 0 5zM312.5 306l3.5-4.5 1.5-6-5-1-1.5 2-2 5zM383 297l0-2-1 1.5zM630 297l1-0.5-1-5-3.5 5zM670 296.5l0.5 0-0.5-3.5-0.5 3.5zM292.5 292.5l5-1 0.5-0.5-0.5-1-5-4-1 5zM307.5 293.5l2.5-2.5-2.5-1-2.5 1zM332.5 293l2.5-2-2.5-3-1.5 3zM368 292.5l6.5-1.5-4.5-5 3-1.5 10 5 1.5-3.5-0.5-5-34 0 13 5 3.5 5zM448.5 292l0.5-1-0.5-0.5-1 0.5zM599.5 293.5l2-2.5 2-5 1.5-5-20 0 0.5 5-1 0.5-0.5-0.5 0.5-5-4 0 0 5 4 4 5-2.5 5-2 1 0.5 1 5zM222 291l7.5-10-10 0-0.5 5zM620 287l5 0 5 4 3.5-5-3.5-1-4-4-11.5 0 4.5 5zM640 287l5 1 2-2-5-5-4 0-1.5 5zM655 287l5-1.5 5 3.5 5-1 0.5-2 4.5-3.5 1-1.5-4 0-2 2-5 0.5-2.5-2.5-9.5 0 1 5zM322.5 282.5l1-1.5-2 0zM332.5 281.5l10 4 4-4.5-14 0zM403 282l2-1-4.5 0zM413 284l3.5-3-6.5 0z" fill="#ff8900" stroke="#ff8900" stroke-width="0.6"/>
<path d="M136 429.5l4.5-0.5-1-5.5 3-5-1.5-2-5-0.5-6.5 7.5 1.5 2.5 3.5 3zM307.5 432l1.5-3-1.5-2-3 2zM302.5 425.5l1-2-1-1-1 1zM317.5 424.5l1.5-1-0.5-5-3-5 2-3 3-2 3-5-1-1.5-5 3-2.5-1.5 2.5-1.5 2.5-4-2.5-4-5-1.5-1.5 0.5-2.5 5 2 5.5-6 5-3 5 1 2 5-3 3.5 6 6 5zM337.5 424.5l1.5-1-1.5-2.5-0.5 2.5zM347.5 424.5l5.5 4 5-5 1.5-5-1.5-2-5 5-3.5-3-2-3.5-1.5 3.5 0 5zM327.5 421.5l0.5-3-1 0zM121 416l2.5-2.5-2.5-1.5-1.5 1.5zM267 416l1-2.5-1-1.5-1 1.5zM388 416l0.5-2.5-1 0zM141 403.5l2.5-5.5 0.5-10-3-6.5-1 1.5-1 5 1 5 1 10.5zM252 404l6-6-1-0.5-5 0-1 0.5 0 5.5zM363 405.5l1.5-2-0.5-5.5-1-1-1.5 1-1 5.5zM80.5 398.5l5.5-0.5-5.5 0zM156.5 399.5l6-6.5-1-3-5 2-1.5 6zM232 400.5l2.5-2.5-2.5-2.5-1 2.5zM302.5 400l3-2-1.5-5-1.5-0.5-0.5 0.5-1.5 5zM131 395l2.5-2-2.5-5-3.5 5zM237 395.5l2-2.5-2-2.5-2.5 2.5zM86 389l0.5-1-0.5-2-1 2zM121 390l3-2-3-3-3.5 3zM151.5 389.5l1.5-1.5-1.5-0.5-2 0.5zM232 390l1.5-2-1.5-0.5-1 0.5zM126 384l0-2-1 1zM176.5 385.5l2.5-2.5-2.5-4-4.5 4zM252 386l1.5-3-1.5 0zM388 384l2.5-1-2.5-2-0.5 2zM96 378l5-1 5.5-4.5-3.5-5 4.5-5-1.5-2-5-1-5 8-0.5 10.5zM262 379l1-1-1-1.5-1.5 1.5zM292.5 381l2.5-3-2.5-2-3.5 2zM136 375l4-2.5-3-5 1-5-2-2.5-4.5 2.5 3.5 5-3 5zM171.5 375.5l2-3-2-1.5-1 1.5zM201.5 373l1.5-0.5-1.5-0.5-0.5 0.5zM252 375l2-2.5-2-2-1 2zM393 376l1-3.5-1-1.5-1 1.5zM443.5 373.5l5-2.5 2.5-3.5-2.5-3-5-0.5-1.5 3.5 0.5 5zM282 368l1-0.5 0-5-1-5-5-5.5-5-2.5-1 3 3.5 5-5 5 2.5 2 3.5-2 1.5-2.5 4 2.5 0.5 5zM297.5 370l1.5-2.5-1.5-2-2 2zM91 363.5l1-1-1-1.5-1 1.5zM242 363.5l1-1-1-0.5-1 0.5zM287.5 358l0-1-5 0.5zM423.5 358l0.5-0.5-0.5-0.5-1.5 0.5zM443.5 360l1-2.5-1-1-1 1zM86 353.5l2.5-1-1.5-5.5-1-0.5-2 0.5 1 5.5zM96 356.5l1.5-4 0.5-5.5-2-1-2.5 1-0.5 5.5zM176.5 355l5-0.5 0-3-5 0-1.5 1zM428.5 354l5-1 0.5-0.5-0.5-1-5-0.5-1.5 1.5zM186.5 349l2-2 0-5-2-2.5-6.5 2.5 2.5 5zM242 347l2.5-5 2.5-1.5 3.5-3.5 3-5-1.5-2-5-0.5-0.5 2.5-4.5 3.5-5-4-1 5.5 1 3 2 2zM116 328l0.5-1-0.5-1-0.5 1zM146 327l6-5-0.5-4.5-1-1-4.5-1-4.5 1 1.5 5.5 2.5 5zM186.5 327l0.5-5-0.5-1.5 0 6.5zM282 327.5l0-1-3 0.5zM196.5 322.5l2.5-0.5-2.5-2.5-1 2.5zM252 317.5l2-1-2-0.5-1 0.5zM136 312l1-0.5 0.5-10-1.5-2-2 2-0.5 5 1.5 5zM247 302l1-0.5-1-1-1.5 1zM237 297l5 2 2-2.5-2-5.5-7 5.5zM247 288l3-2 2-2 6-3-9.5 0-1.5 1.5-1 3.5zM584.5 286.5l1-0.5-0.5-5-1 5zM665 283.5l5-0.5 2-2-9.5 0z" fill="#ff5900" stroke="#ff5900" stroke-width="0.6"/>
<path d="" fill="#ff2500" stroke="#ff2500" stroke-width="0.6"/>
<path d="M171.7 340.2L175.2 336.7L178.7 340.2L175.2 343.7Z" fill="#ff5900"/>
<path d="M173.3 340.2L175.2 338.3L177.1 340.2L175.2 342.2Z" fill="#ff2500"/>
<path d="M129.6 435.2L133.6 431.2L137.6 435.2L133.6 439.2Z" fill="#ff2500"/>
<path d="M131.4 435.2L133.6 433.0L135.8 435.2L133.6 437.4Z" fill="#da0000"/>
<path d="M311.4 408.8L314.4 405.8L317.4 408.8L314.4 411.8Z" fill="#ff5900"/>
<path d="M312.7 408.8L314.4 407.2L316.0 408.8L314.4 410.5Z" fill="#ff2500"/>
<path d="M606.7 404.4L609.7 401.4L612.7 404.4L609.7 407.4Z" fill="#ff5900"/>
<path d="M608.0 404.4L609.7 402.8L611.3 404.4L609.7 406.1Z" fill="#ff2500"/>
<path d="M562.6 428.3L565.6 425.3L568.6 428.3L565.6 431.3Z" fill="#ff5900"/>
<path d="M564.0 428.3L565.6 426.7L567.3 428.3L565.6 430.0Z" fill="#ff2500"/>
<path d="M658.3 442.8L661.3 439.8L664.3 442.8L661.3 445.8Z" fill="#ff2500"/>
<path d="M659.7 442.8L661.3 441.1L663.0 442.8L661.3 444.4Z" fill="#da0000"/>
<path d="M651.4 385.5L654.4 382.5L657.4 385.5L654.4 388.5Z" fill="#ff8900"/>
<path d="M652.7 385.5L654.4 383.9L656.0 385.5L654.4 387.2Z" fill="#ff5900"/>
<path d="M501.4 429.6L503.9 427.1L506.4 429.6L503.9 432.1Z" fill="#ff5900"/>
<path d="M502.5 429.6L503.9 428.2L505.3 429.6L503.9 430.9Z" fill="#ff2500"/>
</g></g>
<path d="M56.8 329.5L66.2 330.2L72.5 328.9L80.7 329.5L86.4 329.5L93.3 327.0L96.5 330.2L101.5 328.3L98.4 332.7L97.7 336.5L101.5 340.2L97.1 345.3L95.2 346.5L100.3 350.3L102.1 352.8L107.2 354.7L114.7 354.7L121.7 356.6L127.3 357.9L129.8 363.5L135.5 365.4L141.8 366.7L148.1 369.8L151.3 371.1L156.3 367.9L158.2 365.4L157.6 360.4L159.4 357.9L167.0 354.7L173.3 355.3L177.7 358.5L182.7 360.4L190.3 362.9L198.5 363.5L203.5 364.8L211.1 366.7L219.9 365.4L223.0 363.5L226.8 362.9L231.9 363.5L235.0 364.8L240.7 366.0L247.0 364.8L248.9 362.9L250.8 359.7L252.0 355.3L252.6 353.5L255.2 348.4L257.7 342.8L257.0 338.4L257.7 335.8L259.6 331.4L255.8 331.4L250.1 330.2L245.7 333.3L243.2 334.0L236.3 334.6L232.5 331.4L230.0 330.2L224.3 330.2L223.0 333.3L218.6 334.0L215.5 333.3L211.1 331.4L209.2 330.8L205.4 330.2L204.2 328.9L202.9 326.4L203.5 323.3L199.7 321.4L197.9 320.7L201.6 318.9L200.4 316.3L199.7 314.5L196.0 313.2L196.6 309.4L199.7 306.9L204.8 308.2L207.9 307.5L213.6 307.5L216.7 305.6L219.9 305.6L214.9 303.1L211.7 302.5L208.6 300.0L207.9 297.5L205.4 294.3L207.3 291.2L207.9 288.7L211.7 284.9L212.3 281.1L214.2 278.6L218.0 276.1M197.2 304.4L192.2 304.4L185.9 304.4L181.5 305.6L181.5 308.8L178.3 308.8L173.9 306.9L173.9 310.1L175.8 313.8L179.0 315.1L175.2 317.0L179.0 319.5L182.7 321.4L178.3 323.3L175.8 325.1L177.7 327.0L175.2 332.1L172.7 332.7L171.4 329.5L169.5 330.2L168.3 327.7L168.3 325.1L164.5 323.9L166.4 321.4L167.6 320.7L163.9 318.2L162.6 317.6L162.0 315.7L158.8 312.6L156.9 310.1L153.8 308.2L154.4 305.0L154.4 301.2L153.8 298.7L150.6 295.6L148.1 294.3L142.4 291.2L138.7 289.9L134.3 288.0L131.7 287.4L127.3 283.6L125.4 281.1L121.7 277.3L117.3 274.8M108.4 275.5L109.7 279.9L109.7 283.0L113.5 286.1L117.3 288.0L119.8 293.1L124.2 296.8L127.3 298.1L133.0 298.7L131.7 300.6L136.1 302.5L141.8 305.0L145.0 306.3L148.1 309.4L146.2 311.3L144.3 308.2L139.3 306.9L136.1 309.4L136.1 312.6L139.3 313.8L139.3 317.0L136.1 317.6L133.0 322.6L129.8 322.6L130.5 318.9L133.6 317.0L130.5 313.2L128.6 310.1L125.4 308.2L124.8 305.6L121.7 305.0L117.9 302.5L113.5 301.9L108.4 298.7L104.7 295.6L101.5 295.0L97.7 291.8L97.7 289.3L95.8 285.5L92.1 283.6L89.5 283.0L85.1 283.6L83.9 285.5L78.8 286.1L75.1 288.0L72.5 290.6L68.1 290.6L63.1 289.3L60.0 288.7M109.7 323.9L111.0 322.0L115.4 321.4L119.8 322.6L126.1 322.0L129.8 320.7L128.0 324.5L126.7 327.0L128.0 329.5L126.7 330.8L122.3 330.2L121.7 328.9L116.0 327.7L111.0 325.1L109.7 323.9M84.5 316.3L84.5 311.9L85.1 308.2L83.3 304.4L87.0 304.4L89.5 302.5L92.7 304.4L93.3 306.9L92.1 310.7L92.1 315.1L88.3 315.7L85.8 317.0L84.5 316.3M85.8 301.2L86.4 298.1L85.8 295.0L88.9 293.1L90.8 291.2L91.4 293.7L91.4 297.5L89.5 301.2L85.8 301.2M179.6 339.6L182.7 338.4L184.6 339.0L189.0 339.0L194.1 339.6L197.2 339.6L196.0 341.5L192.2 341.5L187.2 342.1L182.7 340.9L179.6 339.6M235.0 342.8L235.6 340.9L240.0 339.0L245.1 339.6L249.5 337.1L245.7 341.5L243.2 342.8L237.5 344.0L235.0 342.8M214.9 302.5L222.4 302.5L228.1 303.1L235.0 299.4L242.6 297.5L250.1 298.1L252.6 297.5L257.7 299.4L260.2 301.9L267.8 303.1L272.8 304.4L280.3 303.8L285.4 303.8L292.9 300.6L294.2 297.5L292.9 293.7L287.9 291.2L283.5 288.7L277.2 284.9L270.9 282.4L266.5 279.9L263.3 277.3M236.3 276.1L242.6 281.1L248.9 279.9L255.2 278.0L261.5 276.7M327.6 276.7L329.5 281.7L330.7 288.0L335.1 294.3L337.6 298.1L341.4 300.6L343.9 304.4L349.0 308.2L345.8 308.2L343.3 310.1L341.4 313.8L339.5 320.1L340.2 323.9L343.3 325.8L347.7 328.3L352.8 330.2L359.1 331.4L365.4 329.5L371.7 329.5L371.0 325.8L370.4 320.1L366.6 314.5L369.1 313.2L365.4 310.1L364.7 304.4L369.1 302.5L372.3 300.6L369.8 296.8L364.1 298.7L362.2 292.4L354.7 289.9L352.8 284.9L348.4 282.4L354.7 281.1L355.3 277.3L362.2 275.5M399.4 274.8L400.6 278.6L402.5 283.0L406.9 281.7L409.4 278.6L408.2 274.8M235.0 371.7L236.9 373.6L236.9 376.1L238.8 379.2L243.2 387.4L245.1 391.8L247.0 395.0L252.0 406.9L255.8 411.3L256.4 417.0L264.0 423.3L266.5 429.6L265.9 438.4L268.4 444.0L273.4 448.4L276.6 454.7L278.5 459.1L280.3 464.2L284.8 467.3L289.8 472.3M236.9 373.0L239.4 376.7L243.2 382.4L247.6 386.8L248.9 382.4L251.4 376.1L251.4 381.8L253.3 385.5L255.8 389.3L261.5 398.1L264.6 403.8L267.8 408.8L272.2 412.6L275.9 418.2L277.8 421.4L278.5 427.0L281.6 431.4L283.5 434.6L287.3 438.4L289.8 442.1L294.2 449.7L298.0 454.1L299.9 457.9L300.5 462.9L301.1 467.3L302.4 473.6M340.2 470.4L346.5 467.3L352.8 466.0L360.3 462.3L360.9 459.1L366.0 456.6L372.3 454.7L379.8 452.8L381.1 449.1L386.8 449.1L389.3 444.7L395.6 442.1L396.2 437.1L399.4 433.3L402.5 432.1L405.7 427.0L408.2 420.8L406.3 418.2L402.5 413.8L400.6 413.2L395.0 411.9L391.2 408.8L386.8 405.0L386.1 400.6L386.8 396.9L385.5 395.6L384.2 398.1L381.1 401.3L377.9 404.4L375.4 406.9L371.7 409.4L368.5 409.4L362.8 409.4L359.1 410.7L356.5 410.1L355.3 406.9L356.5 404.4L356.5 400.6L355.9 398.7L354.0 397.5L352.1 400.6L351.5 405.0L349.6 402.5L347.7 399.4L347.1 396.2L343.3 391.8L341.4 388.7L337.6 385.5L336.4 382.4L333.9 379.2L332.6 376.7L333.9 373.6L337.0 373.6L339.5 371.7L343.3 373.0L347.7 374.2L348.4 377.4L351.5 379.9L354.7 385.5L357.2 386.8L362.8 389.3L368.5 393.1L371.7 394.3L376.7 395.0L381.1 393.7L384.9 391.2L389.3 391.2L391.2 395.0L392.4 399.4L395.6 400.0L402.5 401.3L406.9 401.9L413.2 402.5L419.5 403.1L423.9 403.8L430.2 403.1L437.1 403.1L443.4 402.5L448.5 401.3L451.6 403.1L453.5 405.7L456.0 410.1L457.3 411.9L461.1 413.2L463.6 415.7L466.1 418.2L469.9 418.2L474.9 417.0L473.7 419.5L471.1 420.8L467.4 421.4L466.1 423.3L469.9 426.4L474.9 429.6L478.7 430.8L485.0 428.3L488.8 425.2L488.8 421.4L490.7 424.5L489.4 429.6L490.7 433.3L490.0 439.0L490.0 442.1L491.3 447.2L493.2 452.8L493.8 458.5L495.7 462.9L497.0 467.3L498.2 470.4M536.0 470.4L536.6 467.3L537.3 462.9L541.0 461.6L542.9 459.1L549.2 457.2L549.9 454.7L556.2 450.3L561.2 446.5L565.6 440.9L569.4 438.4L575.7 435.9L578.8 430.8L579.5 426.4L583.2 425.8L587.0 425.2L590.8 425.8L595.8 423.9L600.2 424.5L602.1 422.6L604.6 419.5L607.8 420.1L609.7 421.4L610.9 426.4L611.6 429.6L613.5 431.4L615.3 434.6L619.1 438.4L622.9 442.1L624.8 445.3L626.7 450.9L626.7 454.7L625.4 459.1L627.3 461.6L629.8 462.3L633.6 461.6L636.8 459.1L639.3 457.9L643.7 455.3L646.2 458.5L646.8 464.2L647.5 470.4M495.7 312.6L500.1 318.9L501.4 330.2L507.0 332.7L510.8 335.2L517.7 339.6L522.8 344.0L527.2 347.8L527.8 357.2L529.7 365.4L534.1 367.9L541.0 372.3L548.0 375.5L554.3 379.2L561.8 381.8L568.1 383.0L574.4 384.3L582.0 383.0L588.9 385.5L595.2 384.3L603.4 384.3L610.9 386.2L620.4 383.0L629.8 380.5L639.3 381.8L645.6 385.5L650.6 390.6L658.2 392.4L664.5 393.1L669.5 388.0L673.9 386.8L676.4 379.2L675.2 371.7L680.2 364.8L682.7 356.6L685.2 346.5L682.1 339.6L678.9 333.3L673.9 325.1L666.4 318.9L658.2 314.5L648.7 311.9L639.3 311.9L629.8 312.6L620.4 313.8L610.9 316.3L601.5 319.5L592.0 323.3L582.0 322.0L571.9 325.1L563.1 325.8L554.9 330.2L543.6 334.0L532.9 330.2L521.5 324.5L510.8 318.9L502.6 312.6L495.7 312.6" fill="none" stroke="#111" stroke-width="0.95" stroke-linejoin="round"/><g fill="none" stroke="#111" stroke-width="0.9"><ellipse cx="191.6" cy="328.3" rx="0.9" ry="0.8"/><ellipse cx="190.3" cy="325.1" rx="0.9" ry="0.8"/><ellipse cx="188.4" cy="323.3" rx="0.9" ry="0.8"/><ellipse cx="195.3" cy="315.1" rx="1.3" ry="1.0"/><ellipse cx="196.0" cy="320.1" rx="1.3" ry="1.0"/><ellipse cx="201.6" cy="324.5" rx="0.9" ry="0.8"/><ellipse cx="207.9" cy="333.3" rx="1.3" ry="1.0"/><ellipse cx="185.9" cy="319.5" rx="1.6" ry="1.2"/><ellipse cx="180.9" cy="322.0" rx="0.9" ry="0.8"/><ellipse cx="194.7" cy="332.1" rx="0.9" ry="0.8"/><ellipse cx="185.3" cy="325.8" rx="0.9" ry="0.8"/><ellipse cx="192.2" cy="310.1" rx="0.9" ry="0.8"/><ellipse cx="201.0" cy="329.5" rx="0.9" ry="0.8"/><ellipse cx="187.2" cy="305.6" rx="0.9" ry="0.8"/><ellipse cx="156.9" cy="312.6" rx="0.9" ry="0.8"/><ellipse cx="121.7" cy="305.6" rx="0.9" ry="0.8"/><ellipse cx="109.1" cy="335.8" rx="0.9" ry="0.8"/><ellipse cx="122.3" cy="335.8" rx="0.9" ry="0.8"/></g>
<path d="M49.7 276.4L59.7 274.6L58.1 277.9L67.2 272.3L56.7 270.2L59.4 272.8L49.4 274.5ZM73.3 276.4L83.3 274.6L81.7 277.9L90.9 272.3L80.3 270.2L83.0 272.8L73.0 274.5ZM97.6 276.2L106.2 274.7L104.6 278.0L113.7 272.4L103.2 270.3L105.9 272.9L97.3 274.4ZM122.0 276.1L129.1 274.8L127.4 278.2L136.6 272.6L126.1 270.5L128.8 273.0L121.7 274.3ZM143.4 277.4L155.2 274.2L153.8 277.6L162.5 271.3L151.8 270.1L154.7 272.4L142.9 275.6ZM165.0 279.0L181.2 273.1L180.1 276.7L188.2 269.6L177.5 269.4L180.5 271.4L164.4 277.3ZM187.8 280.6L206.1 272.1L205.3 275.7L212.7 268.0L202.0 268.7L205.3 270.4L187.0 279.0ZM210.9 281.7L230.5 271.3L229.9 275.0L236.9 266.8L226.3 268.1L229.6 269.7L210.0 280.1ZM234.4 279.5L253.4 272.6L252.4 276.2L260.4 269.1L249.7 268.8L252.8 270.9L233.8 277.8ZM257.6 278.4L277.1 273.2L275.8 276.6L284.4 270.3L273.8 269.1L276.7 271.4L257.1 276.6ZM280.7 279.9L301.6 272.3L300.5 275.8L308.6 268.8L297.9 268.5L301.0 270.6L280.1 278.1ZM303.6 277.9L325.4 273.3L323.8 276.7L332.8 270.8L322.2 269.0L325.0 271.5L303.3 276.1ZM329.4 275.9L346.5 274.4L344.6 277.5L354.2 272.8L343.9 269.8L346.3 272.6L329.2 274.1ZM352.9 274.8L370.1 274.8L367.9 277.8L377.9 273.9L367.9 270.0L370.1 273.0L352.9 273.0ZM375.9 274.1L394.1 275.1L391.8 277.9L402.0 274.6L392.2 270.1L394.2 273.2L376.0 272.3ZM399.6 274.1L417.7 275.1L415.4 277.9L425.6 274.6L415.8 270.1L417.8 273.2L399.6 272.3ZM423.2 274.1L441.3 275.1L439.0 277.9L449.2 274.6L439.4 270.1L441.4 273.2L423.3 272.3ZM446.8 274.1L465.0 275.1L462.6 277.9L472.8 274.6L463.0 270.1L465.1 273.2L446.9 272.3ZM470.4 274.1L488.6 275.1L486.2 277.9L496.4 274.6L486.6 270.1L488.7 273.2L470.5 272.3ZM496.0 274.8L510.2 274.8L508.0 277.8L518.0 273.9L508.0 270.0L510.2 273.0L496.0 273.0ZM519.0 274.8L534.5 274.8L532.3 277.8L542.3 273.9L532.3 270.0L534.5 273.0L519.0 273.0ZM541.9 274.8L558.8 274.8L556.6 277.8L566.6 273.9L556.6 270.0L558.8 273.0L541.9 273.0ZM564.9 274.8L583.1 274.8L580.9 277.8L590.9 273.9L580.9 270.0L583.1 273.0L564.9 273.0ZM584.5 274.2L610.7 275.1L608.4 278.0L618.5 274.5L608.6 270.2L610.7 273.3L584.5 272.4ZM606.6 273.8L635.7 275.4L633.4 278.2L643.6 274.9L633.8 270.4L635.8 273.5L606.7 272.0ZM629.7 273.8L659.9 275.4L657.5 278.2L667.7 274.9L657.9 270.5L660.0 273.5L629.8 272.0ZM653.3 273.6L683.5 275.5L681.1 278.3L691.3 275.0L681.6 270.5L683.6 273.6L653.4 271.8ZM676.9 273.5L707.1 275.6L704.7 278.4L714.9 275.2L705.2 270.6L707.2 273.7L677.1 271.6ZM49.7 299.9L59.7 298.2L58.1 301.5L67.2 295.9L56.7 293.8L59.4 296.4L49.4 298.1ZM73.3 299.9L83.3 298.2L81.7 301.5L90.9 295.9L80.3 293.8L83.0 296.4L73.0 298.1ZM97.6 299.8L106.2 298.3L104.6 301.6L113.7 296.0L103.2 293.9L105.9 296.5L97.3 298.0ZM122.0 299.7L129.1 298.4L127.4 301.7L136.6 296.2L126.1 294.1L128.8 296.6L121.7 297.9ZM143.4 301.0L155.2 297.8L153.8 301.2L162.5 294.9L151.8 293.7L154.7 296.0L142.9 299.2ZM165.0 302.6L181.2 296.7L180.1 300.3L188.2 293.2L177.5 293.0L180.5 295.0L164.4 300.9ZM187.8 304.2L206.1 295.7L205.3 299.3L212.7 291.6L202.0 292.2L205.3 294.0L187.0 302.5ZM210.9 305.3L230.5 294.9L229.9 298.6L236.9 290.4L226.3 291.7L229.6 293.3L210.0 303.7ZM234.4 303.1L253.4 296.2L252.4 299.8L260.4 292.7L249.7 292.4L252.8 294.5L233.8 301.4ZM257.6 302.0L277.1 296.8L275.8 300.2L284.4 293.8L273.8 292.7L276.7 295.0L257.1 300.2ZM280.7 303.5L301.6 295.9L300.5 299.4L308.6 292.3L297.9 292.1L301.0 294.1L280.1 301.7ZM303.6 301.5L325.4 296.9L323.8 300.2L332.8 294.4L322.2 292.6L325.0 295.1L303.3 299.7ZM329.4 299.5L346.5 298.0L344.6 301.1L354.2 296.4L343.9 293.4L346.3 296.1L329.2 297.6ZM352.9 298.4L370.1 298.4L367.9 301.4L377.9 297.5L367.9 293.6L370.1 296.5L352.9 296.5ZM375.9 297.7L394.1 298.7L391.8 301.5L402.0 298.2L392.2 293.7L394.2 296.8L376.0 295.9ZM399.6 297.7L417.7 298.7L415.4 301.5L425.6 298.2L415.8 293.7L417.8 296.8L399.6 295.9ZM423.2 297.7L441.3 298.7L439.0 301.5L449.2 298.2L439.4 293.7L441.4 296.8L423.3 295.9ZM446.8 297.7L465.0 298.7L462.6 301.5L472.8 298.2L463.0 293.7L465.1 296.8L446.9 295.9ZM470.4 297.7L488.6 298.7L486.2 301.5L496.4 298.2L486.6 293.7L488.7 296.8L470.5 295.9ZM496.0 298.4L510.2 298.4L508.0 301.4L518.0 297.5L508.0 293.6L510.2 296.5L496.0 296.5ZM519.0 298.4L534.5 298.4L532.3 301.4L542.3 297.5L532.3 293.6L534.5 296.5L519.0 296.5ZM541.9 298.4L558.8 298.4L556.6 301.4L566.6 297.5L556.6 293.6L558.8 296.5L541.9 296.5ZM564.9 298.4L583.1 298.4L580.9 301.4L590.9 297.5L580.9 293.6L583.1 296.5L564.9 296.5ZM584.5 297.8L610.7 298.7L608.4 301.6L618.5 298.1L608.6 293.8L610.7 296.9L584.5 296.0ZM606.6 297.4L635.7 299.0L633.4 301.8L643.6 298.4L633.8 294.0L635.8 297.1L606.7 295.6ZM629.7 297.4L659.9 299.0L657.5 301.8L667.7 298.5L657.9 294.0L660.0 297.1L629.8 295.6ZM653.3 297.2L683.5 299.1L681.1 301.9L691.3 298.6L681.6 294.1L683.6 297.2L653.4 295.4ZM676.9 297.1L707.1 299.2L704.7 302.0L714.9 298.8L705.2 294.2L707.2 297.3L677.1 295.2ZM48.7 323.7L60.7 321.6L59.1 324.9L68.2 319.3L57.7 317.2L60.4 319.8L48.4 321.9ZM72.3 323.7L84.3 321.6L82.7 324.9L91.8 319.3L81.3 317.2L84.0 319.8L72.0 321.9ZM95.9 323.7L107.9 321.6L106.3 324.9L115.5 319.3L104.9 317.2L107.6 319.8L95.6 321.9ZM120.5 323.5L130.6 321.8L128.9 325.1L138.1 319.5L127.6 317.4L130.2 319.9L120.2 321.7ZM143.8 325.3L155.2 321.2L154.2 324.7L162.2 317.6L151.5 317.4L154.6 319.4L143.1 323.6ZM167.4 327.4L179.7 320.3L179.3 323.9L186.0 315.6L175.4 317.2L178.8 318.7L166.5 325.8ZM188.3 330.4L206.5 317.7L206.4 321.4L212.3 312.5L201.9 315.0L205.4 316.2L187.2 328.9ZM211.9 330.4L230.1 317.7L230.0 321.4L236.0 312.5L225.5 315.0L229.0 316.2L210.9 328.9ZM234.8 329.4L254.0 318.3L253.6 321.9L260.3 313.6L249.7 315.2L253.1 316.7L233.8 327.8ZM258.4 329.4L277.6 318.3L277.2 321.9L283.9 313.6L273.3 315.2L276.7 316.7L257.4 327.8ZM280.4 328.7L302.3 318.4L301.6 322.1L309.0 314.3L298.3 315.0L301.6 316.8L279.6 327.0ZM305.5 327.2L324.2 319.6L323.3 323.2L331.1 315.8L320.4 315.9L323.5 317.9L304.8 325.4ZM334.4 322.6L341.5 322.0L339.6 325.2L349.2 320.4L338.9 317.4L341.4 320.2L334.2 320.8ZM358.9 322.0L364.1 322.0L361.9 325.0L371.9 321.1L361.9 317.2L364.1 320.1L358.9 320.1ZM381.5 322.0L388.7 322.0L386.5 325.0L396.5 321.1L386.5 317.2L388.7 320.1L381.5 320.1ZM405.1 322.0L412.3 322.0L410.1 325.0L420.1 321.1L410.1 317.2L412.3 320.1L405.1 320.1ZM428.7 322.0L435.9 322.0L433.7 325.0L443.7 321.1L433.7 317.2L435.9 320.1L428.7 320.1ZM452.3 322.0L459.5 322.0L457.3 325.0L467.3 321.1L457.3 317.2L459.5 320.1L452.3 320.1ZM475.9 322.0L483.1 322.0L480.9 325.0L490.9 321.1L480.9 317.2L483.1 320.1L475.9 320.1ZM498.0 322.0L508.2 322.0L506.0 325.0L516.0 321.1L506.0 317.2L508.2 320.1L498.0 320.1ZM519.7 322.0L533.9 322.0L531.7 325.0L541.7 321.1L531.7 317.2L533.9 320.1L519.7 320.1ZM543.3 322.0L557.5 322.0L555.3 325.0L565.3 321.1L555.3 317.2L557.5 320.1L543.3 320.1ZM566.9 322.0L581.1 322.0L578.9 325.0L588.9 321.1L578.9 317.2L581.1 320.1L566.9 320.1ZM589.5 322.0L605.7 322.0L603.5 325.0L613.5 321.1L603.5 317.2L605.7 320.1L589.5 320.1ZM612.1 320.8L630.2 322.4L627.8 325.2L638.1 322.2L628.4 317.4L630.4 320.6L612.2 319.0ZM634.8 319.5L654.7 323.0L652.0 325.6L662.5 323.5L653.3 317.9L655.0 321.2L635.1 317.7ZM658.9 317.1L677.8 324.0L674.8 326.1L685.5 325.8L677.4 318.8L678.5 322.3L659.5 315.4ZM682.9 316.0L701.2 324.5L697.9 326.3L708.6 327.0L701.2 319.2L702.0 322.8L683.7 314.3ZM50.2 350.4L60.7 344.3L60.3 348.0L67.0 339.6L56.4 341.3L59.8 342.7L49.3 348.8ZM73.8 350.4L84.4 344.3L83.9 348.0L90.7 339.6L80.0 341.3L83.4 342.7L72.9 348.8ZM97.4 350.4L108.0 344.3L107.6 348.0L114.3 339.6L103.7 341.3L107.0 342.7L96.5 348.8ZM120.7 351.7L132.4 343.6L132.3 347.3L138.2 338.3L127.8 340.9L131.3 342.1L119.7 350.2ZM143.9 352.8L156.7 342.8L156.8 346.5L162.3 337.3L152.0 340.3L155.6 341.3L142.8 351.3ZM168.3 354.1L180.4 342.0L181.0 345.6L185.3 335.8L175.5 340.1L179.1 340.7L167.0 352.8ZM192.7 354.8L203.8 341.6L204.7 345.2L208.1 335.1L198.7 340.2L202.4 340.5L191.3 353.6ZM217.3 355.4L227.1 341.3L228.3 344.8L230.8 334.4L221.9 340.4L225.6 340.3L215.7 354.4ZM241.8 355.9L250.4 341.0L251.9 344.4L253.5 333.8L245.2 340.5L248.8 340.1L240.2 355.0ZM264.5 355.4L274.4 341.3L275.5 344.8L278.1 334.4L269.1 340.4L272.8 340.3L263.0 354.4ZM290.3 353.8L296.4 343.2L297.9 346.6L299.5 336.0L291.1 342.7L294.8 342.3L288.7 352.8ZM313.7 351.4L319.0 345.1L319.8 348.7L323.3 338.5L313.9 343.7L317.5 343.9L312.3 350.2ZM335.5 347.9L341.3 345.8L340.3 349.3L348.3 342.3L337.6 342.0L340.7 344.0L334.8 346.2ZM360.4 345.6L362.6 345.6L360.4 348.5L370.4 344.6L360.4 340.7L362.6 343.7L360.4 343.7ZM383.8 345.6L386.4 345.6L384.2 348.5L394.2 344.6L384.2 340.7L386.4 343.7L383.8 343.7ZM407.2 345.6L410.2 345.6L408.0 348.5L418.0 344.6L408.0 340.7L410.2 343.7L407.2 343.7ZM430.6 345.6L434.0 345.6L431.8 348.5L441.8 344.6L431.8 340.7L434.0 343.7L430.6 343.7ZM454.0 345.6L457.8 345.6L455.6 348.5L465.6 344.6L455.6 340.7L457.8 343.7L454.0 343.7ZM477.4 345.6L481.6 345.6L479.4 348.5L489.4 344.6L479.4 340.7L481.6 343.7L477.4 343.7ZM501.0 345.6L505.2 345.6L503.0 348.5L513.0 344.6L503.0 340.7L505.2 343.7L501.0 343.7ZM524.3 345.6L529.2 345.6L527.0 348.5L537.0 344.6L527.0 340.7L529.2 343.7L524.3 343.7ZM547.6 345.6L553.1 345.6L550.9 348.5L560.9 344.6L550.9 340.7L553.1 343.7L547.6 343.7ZM570.9 345.6L577.1 345.6L574.9 348.5L584.9 344.6L574.9 340.7L577.1 343.7L570.9 343.7ZM594.5 343.7L600.5 345.3L597.6 347.6L608.3 346.5L599.6 340.1L601.0 343.5L595.0 341.9ZM618.0 340.8L624.7 345.5L621.2 346.7L631.7 349.2L625.7 340.3L625.8 344.0L619.1 339.3ZM642.2 338.3L648.8 346.2L645.1 346.4L654.5 351.5L651.1 341.4L650.2 345.0L643.6 337.2ZM667.0 337.3L672.1 346.1L668.5 345.7L676.8 352.4L675.2 341.8L673.7 345.2L668.6 336.4ZM690.6 337.3L695.7 346.1L692.1 345.7L700.4 352.4L698.8 341.8L697.3 345.2L692.2 336.4ZM56.7 375.6L59.1 368.8L61.2 371.9L60.9 361.2L53.9 369.2L57.4 368.2L54.9 375.0ZM80.3 375.6L82.8 368.8L84.8 371.9L84.6 361.2L77.5 369.2L81.0 368.2L78.6 375.0ZM103.9 375.6L106.4 368.8L108.4 371.9L108.2 361.2L101.1 369.2L104.6 368.2L102.2 375.0ZM128.7 376.8L130.3 367.7L132.8 370.4L130.7 359.9L125.1 369.0L128.4 367.4L126.8 376.4ZM153.0 377.3L153.9 367.1L156.6 369.6L153.6 359.3L148.9 368.9L152.0 367.0L151.1 377.1ZM177.0 379.3L177.5 365.1L180.4 367.4L176.8 357.2L172.6 367.1L175.6 365.0L175.1 379.2ZM201.0 378.2L201.0 366.0L204.0 368.2L200.1 358.2L196.2 368.2L199.1 366.0L199.1 378.2ZM224.6 377.2L224.6 367.0L227.6 369.2L223.7 359.2L219.8 369.2L222.7 367.0L222.7 377.2ZM249.8 376.9L248.0 366.9L251.3 368.5L245.7 359.4L243.6 369.9L246.2 367.2L247.9 377.3ZM276.0 376.9L270.8 365.8L274.4 366.6L266.7 359.2L267.4 369.9L269.1 366.6L274.3 377.7ZM301.0 374.5L294.5 366.7L298.1 366.5L288.7 361.3L292.2 371.5L293.0 367.9L299.6 375.7ZM324.4 373.2L318.6 367.4L322.3 366.9L312.5 362.6L316.8 372.4L317.3 368.7L323.1 374.5ZM348.7 369.2L342.8 367.5L345.6 365.2L335.0 366.4L343.6 372.8L342.3 369.3L348.3 370.9ZM371.9 367.9L366.7 367.4L369.2 364.7L358.9 367.7L368.5 372.4L366.6 369.3L371.8 369.7ZM395.4 367.8L390.4 367.4L392.8 364.6L382.6 367.8L392.3 372.4L390.3 369.3L395.3 369.6ZM418.9 367.6L414.1 367.4L416.5 364.5L406.3 367.9L416.1 372.3L414.0 369.2L418.8 369.5ZM442.4 367.5L437.8 367.4L440.1 364.5L430.0 368.0L439.9 372.3L437.8 369.2L442.4 369.4ZM465.9 367.4L461.5 367.3L463.8 364.4L453.7 368.1L463.6 372.2L461.5 369.2L465.9 369.3ZM489.4 367.3L485.2 367.3L487.4 364.3L477.4 368.2L487.4 372.1L485.2 369.2L489.4 369.2ZM513.0 367.3L508.8 367.3L511.0 364.3L501.0 368.2L511.0 372.1L508.8 369.2L513.0 369.2ZM536.5 366.8L532.4 367.2L534.3 364.0L524.7 368.8L535.0 371.8L532.5 369.0L536.7 368.6ZM560.0 366.3L555.9 367.0L557.5 363.7L548.4 369.3L558.9 371.4L556.2 368.8L560.3 368.1ZM583.0 362.7L577.5 367.3L577.3 363.6L572.1 373.1L582.3 369.6L578.7 368.7L584.2 364.1ZM606.5 361.9L600.7 367.7L600.1 364.1L595.8 373.9L605.7 369.6L602.0 369.0L607.8 363.2ZM630.2 360.7L623.6 368.6L622.8 365.0L619.3 375.1L628.7 370.0L625.0 369.7L631.6 361.9ZM653.7 359.5L646.7 369.5L645.5 366.0L643.0 376.4L651.9 370.5L648.2 370.6L655.2 360.6ZM676.5 359.1L670.4 369.7L669.0 366.3L667.3 376.9L675.7 370.2L672.0 370.6L678.1 360.0ZM700.1 359.1L694.0 369.7L692.6 366.3L690.9 376.9L699.3 370.2L695.6 370.6L701.7 360.0ZM64.3 398.7L58.4 390.3L62.1 390.4L53.2 384.4L55.8 394.9L56.9 391.4L62.8 399.7ZM87.9 398.7L82.1 390.3L85.8 390.4L76.8 384.4L79.4 394.9L80.5 391.4L86.4 399.7ZM112.1 399.5L105.1 389.5L108.8 389.6L99.9 383.6L102.4 394.1L103.6 390.5L110.6 400.5ZM137.0 399.7L127.9 388.8L131.6 388.5L122.1 383.4L125.6 393.6L126.5 390.0L135.6 400.8ZM162.0 399.7L150.5 388.2L154.2 387.6L144.3 383.3L148.7 393.2L149.2 389.5L160.7 401.0ZM186.7 399.8L173.2 387.7L176.8 386.9L166.8 383.1L171.6 392.7L172.0 389.0L185.5 401.2ZM211.4 400.1L195.9 387.1L199.5 386.3L189.3 382.8L194.5 392.2L194.7 388.5L210.2 401.5ZM236.1 400.3L218.6 386.7L222.1 385.7L211.9 382.6L217.3 391.8L217.4 388.1L234.9 401.8ZM260.7 398.5L241.5 387.4L244.9 385.9L234.3 384.3L241.0 392.7L240.6 389.0L259.8 400.1ZM285.8 397.7L263.9 387.5L267.1 385.7L256.4 385.1L263.8 392.8L263.1 389.2L285.0 399.4ZM309.9 396.4L287.1 388.1L290.2 386.1L279.5 386.3L287.5 393.4L286.5 389.9L309.2 398.2ZM333.8 395.1L310.4 388.8L313.3 386.5L302.7 387.7L311.3 394.0L310.0 390.6L333.3 396.9ZM356.7 393.5L334.8 389.7L337.5 387.1L327.0 389.2L336.1 394.8L334.5 391.5L356.4 395.3ZM377.9 392.0L360.8 390.5L363.2 387.7L352.9 390.7L362.5 395.5L360.6 392.3L377.7 393.8ZM399.0 390.9L386.8 390.9L389.0 387.9L379.0 391.8L389.0 395.7L386.8 392.7L399.0 392.7ZM422.0 390.9L411.0 390.9L413.2 387.9L403.2 391.8L413.2 395.7L411.0 392.7L422.0 392.7ZM444.9 390.9L435.2 390.9L437.4 387.9L427.4 391.8L437.4 395.7L435.2 392.7L444.9 392.7ZM467.9 390.9L459.5 390.9L461.7 387.9L451.7 391.8L461.7 395.7L459.5 392.7L467.9 392.7ZM490.9 390.9L483.7 390.9L485.9 387.9L475.9 391.8L485.9 395.7L483.7 392.7L490.9 392.7ZM514.5 390.9L507.3 390.9L509.5 387.9L499.5 391.8L509.5 395.7L507.3 392.7L514.5 392.7ZM539.7 390.9L529.5 390.9L531.7 387.9L521.7 391.8L531.7 395.7L529.5 392.7L539.7 392.7ZM564.3 390.9L552.1 390.9L554.3 387.9L544.3 391.8L554.3 395.7L552.1 392.7L564.3 392.7ZM589.5 388.8L573.6 391.6L575.2 388.3L566.1 393.9L576.6 396.0L573.9 393.5L589.9 390.6ZM615.3 385.8L594.4 393.4L595.5 389.9L587.4 397.0L598.1 397.2L595.0 395.2L615.9 387.6ZM640.8 385.1L616.1 394.1L617.2 390.5L609.1 397.6L619.9 397.9L616.8 395.8L641.4 386.9ZM664.8 385.0L639.3 394.3L640.3 390.7L632.3 397.8L643.0 398.0L639.9 396.0L665.5 386.7ZM688.5 385.0L662.9 394.3L664.0 390.7L655.9 397.8L666.6 398.0L663.5 396.0L689.1 386.7ZM712.1 385.0L686.5 394.3L687.6 390.7L679.5 397.8L690.2 398.0L687.1 396.0L712.7 386.7ZM71.5 420.5L53.1 411.9L56.4 410.2L45.7 409.5L53.1 417.3L52.4 413.6L70.7 422.2ZM95.1 420.5L76.8 411.9L80.0 410.2L69.3 409.5L76.7 417.3L76.0 413.6L94.3 422.2ZM119.9 420.2L99.3 411.9L102.4 409.9L91.7 409.8L99.5 417.2L98.6 413.6L119.2 421.9ZM143.6 419.7L122.8 412.1L125.9 410.0L115.1 410.3L123.2 417.4L122.1 413.8L143.0 421.4ZM167.7 419.8L145.9 411.9L149.0 409.9L138.3 410.1L146.3 417.2L145.3 413.6L167.1 421.6ZM191.8 420.0L169.1 411.7L172.1 409.7L161.4 409.9L169.5 417.0L168.4 413.5L191.2 421.7ZM215.5 419.9L192.6 411.8L195.7 409.7L185.0 410.1L193.1 417.1L192.0 413.5L214.8 421.6ZM239.1 419.7L216.2 411.9L219.3 409.8L208.5 410.2L216.7 417.1L215.6 413.6L238.5 421.5ZM262.8 419.6L239.8 411.9L242.8 409.8L232.1 410.3L240.4 417.2L239.2 413.7L262.2 421.4ZM286.4 419.5L263.4 412.0L266.4 409.8L255.7 410.5L264.0 417.3L262.8 413.8L285.8 421.2ZM309.8 418.3L287.3 412.6L290.1 410.3L279.5 411.7L288.2 417.9L286.8 414.4L309.3 420.1ZM333.1 417.1L311.2 413.2L313.9 410.7L303.4 412.8L312.5 418.4L310.9 415.1L332.7 418.9ZM356.8 416.1L334.7 413.7L337.2 411.0L326.8 413.8L336.4 418.8L334.5 415.6L356.6 417.9ZM380.4 415.0L358.2 414.2L360.5 411.3L350.4 414.9L360.2 419.1L358.1 416.1L380.3 416.9ZM404.0 414.9L381.8 414.3L384.1 411.4L374.0 415.0L383.9 419.2L381.7 416.1L403.9 416.8ZM427.6 414.8L405.4 414.3L407.7 411.4L397.6 415.1L407.5 419.2L405.4 416.2L427.6 416.6ZM451.2 414.7L429.0 414.4L431.3 411.4L421.2 415.2L431.1 419.2L429.0 416.2L451.2 416.5ZM474.8 414.6L452.6 414.4L454.8 411.5L444.8 415.3L454.8 419.3L452.6 416.3L474.8 416.4ZM498.4 414.5L476.2 414.5L478.4 411.5L468.4 415.4L478.4 419.3L476.2 416.3L498.4 416.3ZM522.3 414.0L499.6 414.7L501.7 411.7L491.8 415.9L501.9 419.5L499.6 416.6L522.3 415.9ZM546.1 413.5L522.9 415.0L524.9 411.9L515.2 416.4L525.4 419.6L523.0 416.8L546.2 415.4ZM569.9 413.0L546.3 415.2L548.2 412.1L538.6 416.8L548.9 419.8L546.4 417.1L570.0 414.9ZM593.6 412.5L569.6 415.5L571.4 412.3L562.0 417.4L572.4 420.0L569.9 417.3L593.9 414.4ZM619.1 411.4L591.3 416.3L592.9 413.0L583.8 418.5L594.3 420.6L591.6 418.1L619.4 413.2ZM645.3 409.4L612.1 417.7L613.5 414.3L604.7 420.5L615.4 421.9L612.5 419.5L645.7 411.2ZM671.5 407.9L632.9 419.0L634.2 415.5L625.7 422.0L636.3 423.0L633.4 420.8L672.0 409.7ZM695.1 407.7L656.5 419.1L657.8 415.6L649.3 422.2L660.0 423.1L657.1 420.9L695.6 409.5ZM718.6 407.5L680.2 419.3L681.4 415.8L673.0 422.4L683.7 423.2L680.7 421.0L719.2 409.3ZM73.1 442.0L51.7 436.2L54.6 433.9L43.9 435.1L52.5 441.5L51.2 438.0L72.6 443.8ZM96.7 442.0L75.3 436.2L78.2 433.9L67.5 435.1L76.2 441.5L74.8 438.0L96.2 443.8ZM120.5 441.9L98.7 436.2L101.6 433.9L90.9 435.2L99.6 441.5L98.2 438.0L120.1 443.7ZM144.3 441.9L122.1 436.2L125.0 433.9L114.3 435.2L123.0 441.5L121.6 438.0L143.9 443.7ZM168.2 441.8L145.5 436.2L148.4 433.9L137.7 435.3L146.5 441.4L145.1 438.0L167.7 443.6ZM192.0 441.8L168.9 436.2L171.8 433.9L161.1 435.3L169.9 441.4L168.5 438.0L191.5 443.6ZM215.8 441.7L192.3 436.2L195.2 433.8L184.5 435.4L193.4 441.4L191.9 438.0L215.4 443.5ZM239.6 441.7L215.8 436.3L218.6 433.8L207.9 435.4L216.8 441.4L215.3 438.1L239.2 443.5ZM263.4 441.6L239.2 436.3L242.0 433.8L231.4 435.5L240.3 441.5L238.8 438.1L263.0 443.4ZM287.2 441.5L262.6 436.3L265.4 433.8L254.8 435.6L263.7 441.5L262.2 438.1L286.8 443.3ZM310.8 440.8L286.2 436.7L288.9 434.1L278.4 436.3L287.6 441.8L285.9 438.5L310.5 442.6ZM334.4 440.1L309.9 437.0L312.4 434.4L302.0 437.0L311.4 442.1L309.6 438.9L334.1 441.9ZM357.9 439.3L333.5 437.4L335.9 434.6L325.7 437.7L335.3 442.4L333.4 439.3L357.7 441.2ZM381.4 438.6L357.2 437.8L359.5 434.9L349.4 438.4L359.2 442.7L357.1 439.6L381.3 440.5ZM405.0 438.5L380.8 437.8L383.1 434.9L373.0 438.5L382.9 442.7L380.7 439.7L404.9 440.4ZM428.6 438.4L404.4 437.9L406.7 435.0L396.6 438.7L406.5 442.8L404.4 439.7L428.6 440.3ZM452.2 438.3L428.0 438.0L430.3 435.0L420.2 438.8L430.1 442.8L428.0 439.8L452.2 440.1ZM475.8 438.2L451.6 438.0L453.8 435.1L443.8 438.9L453.8 442.9L451.6 439.9L475.8 440.0ZM499.4 438.1L475.2 438.1L477.4 435.1L467.4 439.0L477.4 442.9L475.2 439.9L499.4 439.9ZM523.5 437.6L498.3 438.3L500.4 435.3L490.5 439.4L500.6 443.1L498.4 440.1L523.6 439.5ZM547.6 437.2L521.4 438.6L523.5 435.5L513.7 439.9L523.9 443.3L521.5 440.4L547.7 439.0ZM571.6 436.7L544.5 438.8L546.5 435.7L536.8 440.4L547.1 443.5L544.7 440.7L571.8 438.5ZM595.7 436.2L567.6 439.1L569.5 436.0L560.0 440.9L570.3 443.7L567.8 441.0L595.9 438.0ZM621.0 434.6L589.3 440.2L591.0 436.9L581.8 442.5L592.3 444.6L589.6 442.0L621.4 436.4ZM646.3 433.1L611.1 441.3L612.5 437.9L603.7 443.9L614.3 445.5L611.5 443.1L646.8 434.9ZM670.7 432.1L633.8 442.0L635.2 438.6L626.5 444.9L637.2 446.1L634.3 443.8L671.2 433.9ZM694.3 432.0L657.4 442.2L658.8 438.7L650.2 445.1L660.8 446.2L657.9 443.9L694.7 433.7ZM717.8 431.8L681.1 442.3L682.4 438.8L673.8 445.3L684.5 446.3L681.6 444.1L718.3 433.5ZM77.8 467.5L47.0 458.1L50.0 455.9L39.3 456.7L47.7 463.4L46.4 459.9L77.2 469.3ZM101.5 467.2L70.5 458.3L73.5 456.1L62.8 457.0L71.3 463.6L70.0 460.1L101.0 469.0ZM125.2 466.9L94.1 458.5L97.0 456.2L86.3 457.4L94.9 463.7L93.6 460.3L124.7 468.7ZM148.8 466.6L117.6 458.7L120.5 456.3L109.8 457.7L118.6 463.9L117.2 460.5L148.4 468.4ZM172.5 466.3L141.2 458.9L144.0 456.5L133.4 458.0L142.2 464.1L140.7 460.7L172.1 468.1ZM196.2 466.0L164.7 459.1L167.5 456.6L156.9 458.3L165.8 464.2L164.3 460.9L195.8 467.8ZM219.8 465.7L188.3 459.3L191.0 456.8L180.5 458.6L189.5 464.4L187.9 461.1L219.5 467.5ZM243.5 465.3L211.8 459.4L214.6 456.9L204.0 458.9L213.1 464.6L211.5 461.3L243.2 467.1ZM267.2 465.0L235.4 459.6L238.1 457.1L227.6 459.2L236.8 464.8L235.1 461.5L266.9 466.8ZM290.8 464.7L259.0 459.8L261.6 457.2L251.1 459.6L260.4 464.9L258.7 461.7L290.5 466.5ZM314.5 464.4L282.6 460.0L285.1 457.4L274.7 459.9L284.1 465.1L282.3 461.9L314.2 466.2ZM338.1 464.0L306.1 460.2L308.7 457.5L298.3 460.2L307.7 465.3L305.9 462.0L337.9 465.9ZM361.7 463.7L329.7 460.4L332.2 457.7L321.8 460.5L331.4 465.4L329.5 462.2L361.5 465.6ZM385.4 463.4L353.3 460.6L355.7 457.8L345.4 460.8L355.1 465.6L353.1 462.4L385.2 465.2ZM408.9 463.0L377.0 460.8L379.4 458.0L369.1 461.2L378.8 465.8L376.8 462.7L408.7 464.9ZM432.4 462.6L400.7 461.1L403.0 458.2L392.8 461.6L402.6 466.0L400.6 462.9L432.3 464.5ZM455.9 462.2L424.4 461.3L426.6 458.4L416.5 462.0L426.4 466.2L424.3 463.2L455.8 464.1ZM479.4 461.8L448.1 461.5L450.3 458.6L440.3 462.4L450.2 466.4L448.0 463.4L479.4 463.7ZM502.9 461.5L471.8 461.8L473.9 458.8L464.0 462.8L474.0 466.6L471.8 463.6L502.9 463.3ZM526.3 461.1L495.5 462.0L497.6 459.0L487.7 463.1L497.8 466.8L495.5 463.8L526.4 462.9ZM549.8 460.7L519.2 462.2L521.3 459.1L511.5 463.5L521.6 466.9L519.3 464.1L549.9 462.6ZM573.3 460.4L542.9 462.4L544.9 459.3L535.2 463.9L545.4 467.1L543.0 464.3L573.4 462.2ZM596.7 460.0L566.6 462.6L568.6 459.5L559.0 464.2L569.3 467.3L566.8 464.5L596.9 461.8ZM620.3 459.7L590.3 462.8L592.1 459.6L582.6 464.6L593.0 467.4L590.5 464.7L620.5 461.5ZM643.9 459.3L613.9 463.0L615.7 459.8L606.2 464.9L616.6 467.6L614.1 464.9L644.1 461.2ZM667.4 459.0L637.5 463.2L639.3 460.0L629.9 465.2L640.4 467.7L637.8 465.1L667.7 460.9ZM691.0 458.7L661.1 463.4L662.8 460.1L653.6 465.6L664.1 467.8L661.4 465.2L691.2 460.5ZM714.5 458.4L684.8 463.6L686.4 460.3L677.2 465.9L687.8 468.0L685.1 465.4L714.8 460.2Z" fill="#151515"/>
<mask id="lm1" maskUnits="userSpaceOnUse" x="0" y="0" width="928" height="768"><rect x="0" y="0" width="928" height="768" fill="#fff"/>
<rect x="483.5" y="313.8" width="49.0" height="16" fill="#000" transform="rotate(0 508 321.8)"/>
<rect x="372.6" y="384.0" width="50.0" height="16" fill="#000" transform="rotate(0 397.6 392.0)"/>
<rect x="515.0" y="436.2" width="49.0" height="16" fill="#000" transform="rotate(0 539.5 444.2)"/>
<rect x="325.5" y="456.5" width="50.0" height="16" fill="#000" transform="rotate(0 350.5 464.5)"/>
</mask>
<g mask="url(#lm1)" fill="none" stroke="#fff" stroke-width="3" stroke-linejoin="round" stroke-linecap="round">
<path d="M60.0 312.5C61.4 312.4 59.4 313.2 68.4 311.7C77.4 310.2 101.6 305.9 114.2 303.6C126.8 301.4 134.4 300.0 143.8 298.2C153.2 296.4 161.8 294.4 170.8 292.8C179.8 291.2 190.5 290.2 197.7 288.8C204.9 287.4 210.2 286.5 213.9 284.7C217.6 282.9 219.0 279.1 220.0 278.0"/>
<path d="M60.0 340.0C61.4 339.8 61.2 339.7 68.4 338.6C75.6 337.5 90.8 335.4 103.4 333.2C116.0 330.9 130.3 327.8 143.8 325.1C157.3 322.4 170.7 320.2 184.2 317.1C197.7 314.0 213.4 309.2 224.6 306.3C235.8 303.4 242.6 301.9 251.6 299.6C260.6 297.4 270.9 294.8 278.5 292.8C286.1 290.8 291.6 288.7 297.4 287.4C303.1 286.1 304.3 285.2 313.0 284.8C321.7 284.4 338.7 285.1 349.5 285.2C360.3 285.3 364.7 285.1 378.0 285.5C391.3 285.9 412.1 286.6 429.1 287.4C446.1 288.2 462.4 289.7 480.2 290.4C498.0 291.1 518.4 291.7 536.0 291.6C553.6 291.5 572.1 290.5 586.1 289.9C600.1 289.3 608.8 287.9 620.1 288.2C631.5 288.5 640.9 290.7 654.2 291.6C667.5 292.5 692.4 293.2 700.0 293.5"/>
<path d="M60.0 443.2C61.4 443.3 61.2 443.2 68.4 443.7C75.6 444.2 90.8 445.3 103.4 446.4C116.0 447.5 130.3 449.0 143.8 450.4C157.3 451.8 170.7 453.4 184.2 454.5C197.7 455.6 211.1 456.3 224.6 457.2C238.1 458.1 250.3 459.1 265.0 459.8C279.7 460.5 294.8 460.6 313.0 461.2C331.2 461.8 351.2 462.9 374.0 463.5C396.8 464.1 395.7 464.6 450.0 465.0C504.3 465.4 658.3 465.8 700.0 466.0"/>
<path d="M700.0 317.0C698.8 317.2 700.6 318.8 693.0 318.0C685.4 317.2 666.4 313.6 654.2 312.0C642.1 310.4 631.5 309.2 620.1 308.6C608.8 308.0 600.1 308.5 586.1 308.6C572.1 308.8 550.4 309.9 536.0 309.5C521.6 309.1 510.4 307.2 500.0 306.5C489.6 305.8 486.0 305.6 473.3 305.2C460.6 304.8 440.3 304.4 423.8 304.0C407.3 303.6 390.8 303.2 374.3 302.8C357.8 302.4 335.0 301.3 324.8 301.5C314.6 301.7 319.8 302.5 313.0 304.2C306.2 305.9 293.2 308.9 283.9 311.7C274.6 314.5 266.0 318.0 257.0 321.1C248.0 324.2 239.0 327.4 230.0 330.5C221.0 333.6 212.1 336.9 203.1 340.0C194.1 343.1 184.6 346.5 176.1 349.4C167.6 352.3 159.5 355.0 151.9 357.5C144.3 360.0 136.6 361.7 130.3 364.2C124.0 366.7 117.8 368.9 114.2 372.3C110.6 375.7 108.3 380.4 108.8 384.4C109.2 388.4 112.0 392.7 116.9 396.5C121.8 400.3 129.4 403.7 138.4 407.3C147.4 410.9 160.0 415.0 170.8 418.1C181.6 421.2 192.3 423.9 203.1 426.2C213.9 428.4 224.6 430.0 235.4 431.6C246.2 433.2 257.8 434.5 267.7 435.6C277.6 436.7 287.1 437.7 294.7 438.3C302.2 438.9 303.9 438.4 313.0 439.1C322.1 439.8 335.2 441.7 349.5 442.5C363.8 443.3 382.5 443.5 399.0 443.8C415.5 444.1 431.7 444.3 448.5 444.3C465.3 444.3 484.8 443.8 500.0 443.8C515.2 443.8 529.6 444.3 540.0 444.5C550.4 444.7 551.7 445.4 562.2 445.2C572.7 445.0 590.6 444.1 603.1 443.5C615.6 442.9 625.9 442.8 637.2 441.8C648.6 440.8 660.7 438.9 671.2 437.6C681.7 436.3 695.2 434.6 700.0 434.0"/>
<path d="M700.0 349.0C698.8 348.8 696.4 348.6 693.0 347.8C689.6 347.0 686.2 346.7 679.7 344.4C673.2 342.1 664.1 336.8 654.2 334.2C644.3 331.6 630.0 330.2 620.1 329.1C610.2 328.0 601.1 328.4 594.6 327.4C588.1 326.4 585.2 323.8 581.0 323.1C576.8 322.4 576.8 323.1 569.1 323.1C561.4 323.1 545.2 323.4 535.0 323.1C524.8 322.8 516.6 321.8 508.0 321.5C499.4 321.2 489.4 321.2 483.6 321.4C477.8 321.6 483.3 322.4 473.3 322.6C463.3 322.8 440.3 322.8 423.8 322.6C407.3 322.4 390.8 321.1 374.3 321.3C357.8 321.5 334.9 322.8 324.8 323.8C314.7 324.8 318.3 325.9 313.6 327.4C308.9 328.8 302.3 330.5 296.6 332.5C290.9 334.5 285.3 337.0 279.6 339.3C273.9 341.6 268.3 343.6 262.6 346.1C256.9 348.7 250.9 351.6 245.5 354.6C240.1 357.6 233.2 360.4 230.0 364.2C226.8 368.0 225.6 373.2 226.0 377.7C226.4 382.2 228.4 387.1 232.7 391.1C237.0 395.1 244.0 398.8 251.6 401.9C259.2 405.0 268.3 407.9 278.5 410.0C288.7 412.1 301.2 413.4 313.0 414.5C324.8 415.6 335.2 415.8 349.5 416.6C363.8 417.4 382.5 418.6 399.0 419.1C415.5 419.6 431.7 419.4 448.5 419.6C465.3 419.8 485.6 420.3 500.0 420.3C514.4 420.3 523.5 419.9 535.0 419.7C546.5 419.4 556.3 419.2 569.1 418.8C581.9 418.4 603.7 417.0 611.6 417.1C619.5 417.2 613.9 419.8 616.7 419.5C619.6 419.2 622.5 417.1 628.7 415.4C635.0 413.7 642.3 412.1 654.2 409.5C666.1 406.9 692.4 401.6 700.0 400.0"/>
<path d="M322.3 368.3C321.5 364.6 323.5 360.5 327.2 357.2C330.9 353.9 336.8 350.6 344.6 348.5C352.5 346.4 361.1 345.6 374.3 344.8C387.5 344.0 407.3 343.8 423.8 343.6C440.3 343.4 461.1 343.2 473.3 343.6C485.5 344.0 489.0 344.8 497.2 346.1C505.4 347.4 516.2 350.1 522.7 351.2C529.2 352.3 529.7 351.9 536.0 352.9C542.3 353.9 554.4 355.8 560.5 357.2C566.6 358.6 569.9 358.8 572.5 361.4C575.1 364.0 575.0 369.8 575.9 373.0C576.8 376.2 575.9 378.5 577.6 380.5C579.3 382.5 583.2 383.9 586.0 384.8C588.8 385.7 592.3 384.6 594.6 385.6C596.9 386.6 599.7 389.1 599.7 390.7C599.7 392.3 599.7 394.9 594.6 395.0C589.5 395.1 578.9 392.6 569.0 391.6C559.1 390.6 546.5 388.9 535.0 389.0C523.5 389.1 514.4 391.3 500.0 391.9C485.6 392.5 461.6 392.4 448.5 392.4C435.4 392.4 429.7 392.1 421.3 391.9C412.9 391.7 405.8 391.2 398.0 391.0C390.2 390.8 382.4 391.3 374.3 390.6C366.2 389.9 356.5 388.8 349.5 386.9C342.5 385.0 336.7 382.6 332.2 379.5C327.7 376.4 323.1 372.0 322.3 368.3Z"/>
<path d="M613.5 384.8C613.5 383.4 616.8 380.5 618.4 380.5C620.0 380.5 623.3 383.4 623.3 384.8C623.3 386.2 620.0 389.0 618.4 389.0C616.8 389.0 613.5 386.2 613.5 384.8Z"/>
</g>
<circle cx="530.7" cy="369.0" r="2.6" fill="#fff"/>
<circle cx="569.5" cy="384.0" r="2.6" fill="#fff"/>
<circle cx="680.0" cy="369.0" r="2.4" fill="#fff"/>
<text x="508.0" y="327.3" font-size="15.5" fill="#fff" text-anchor="middle" textLength="45" lengthAdjust="spacingAndGlyphs" transform="rotate(0 508 321.8)">16750</text>
<text x="397.6" y="397.5" font-size="15.5" fill="#fff" text-anchor="middle" textLength="46" lengthAdjust="spacingAndGlyphs" transform="rotate(0 397.6 392.0)">16800</text>
<text x="539.5" y="449.7" font-size="15.5" fill="#fff" text-anchor="middle" textLength="45" lengthAdjust="spacingAndGlyphs" transform="rotate(0 539.5 444.2)">16700</text>
<text x="350.5" y="470.0" font-size="15.5" fill="#fff" text-anchor="middle" textLength="46" lengthAdjust="spacingAndGlyphs" transform="rotate(0 350.5 464.5)">16650</text>
<rect x="472" y="297" width="126" height="63" fill="none" stroke="#f00" stroke-width="1.6"/>
</svg>
<rect x="86.9" y="284.2" width="25.8" height="33" fill="#fff" stroke="#000" stroke-width="1.4"/><text x="99.7" y="306.8" font-size="18" text-anchor="middle" textLength="8.4" lengthAdjust="spacingAndGlyphs" fill="#111">b</text>
<rect x="63.1" y="278.6" width="629.70" height="188.7" fill="none" stroke="#000" stroke-width="1.6"/>
<line x1="56.6" y1="278.60" x2="63.1" y2="278.60" stroke="#000" stroke-width="1.4"/>
<text x="48.5" y="284.50" font-size="16.5" text-anchor="end" textLength="13.7" lengthAdjust="spacingAndGlyphs" fill="#222">45</text>
<line x1="56.6" y1="372.95" x2="63.1" y2="372.95" stroke="#000" stroke-width="1.4"/>
<text x="48.5" y="378.85" font-size="16.5" text-anchor="end" textLength="13.7" lengthAdjust="spacingAndGlyphs" fill="#222">30</text>
<line x1="56.6" y1="467.30" x2="63.1" y2="467.30" stroke="#000" stroke-width="1.4"/>
<text x="48.5" y="473.20" font-size="16.5" text-anchor="end" textLength="13.7" lengthAdjust="spacingAndGlyphs" fill="#222">15</text>
<text transform="translate(24.8,378.3) rotate(-90)" font-size="19" text-anchor="middle" textLength="24" lengthAdjust="spacingAndGlyphs" fill="#222">lat</text>
<svg x="63.1" y="518.7" width="629.70" height="188.7" viewBox="63.1 518.7 629.70 188.7" overflow="hidden">
<g shape-rendering="crispEdges">
<clipPath id="dc2"><rect x="68.8" y="524.2" width="618.4" height="177.2"/></clipPath>
<g clip-path="url(#dc2)">
<rect x="68.8" y="524.2" width="618.4" height="177.2" fill="#ffbd00"/>
<path d="M564.5 578l0.5-1-0.5-0.5-1.5 0.5z" fill="#0070ff" stroke="#0070ff" stroke-width="0.6"/>
<path d="M494 704.5l4.5 0-4.5-2.5-2.5 2.5zM569.5 601l4-3.5-3.5-5 4.5-2 4-3-4-3-5 1.5-5-1-4 2.5 2.5 5 4.5 5zM579.5 598.5l1-1-1-1-4 1zM584.5 583.5l2-1.5-2-0.5-3.5 0.5zM594.5 583l1.5-1-1.5-1-2.5 1zM559.5 580l5 0.5 3.5-3.5-3.5-4.5-9 4.5zM563 577l1.5-0.5 0.5 0.5-0.5 1zM574.5 578.5l1.5-1.5-1.5-1.5-2 1.5zM599.5 579l1.5-2-1.5-1.5-1.5 1.5zM574.5 568l2-1-2-1-3 1zM569.5 564l0.5-2-1 0zM499 558.5l1.5-1.5-1.5-2-2.5 2zM529 557.5l4-0.5-4 0z" fill="#00a8ff" stroke="#00a8ff" stroke-width="0.6"/>
<path d="M483.5 704.5l8 0 2.5-2.5 4.5 2.5 4.5 0-4-5.5-5-1-10.5 5-0.5 1.5zM554.5 604.5l5-2.5 10 2.5 5 2.5 2-4.5 8-5 2-5 3-2 2.5-3 2.5-2 5 2.5 1.5-0.5-1.5-5.5 5 1.5 1-1.5-2.5-5-3.5-4.5-10 1.5-3-2-1.5-5-0.5-5.5-5 2-5-2.5-5-1.5-10 5.5-9 2 2.5 5-4 6.5-1-1.5-1-5-2.5-5-5.5-0.5-3.5 5.5-1 5 8 5-6.5 5.5 3 5.5 5-2 5-4.5 3.5 6-2 5 2 5zM567.5 597.5l-4.5-5-2.5-5 4-2.5 5 1 5-1.5 4 3-4 3-4.5 2 3.5 5-4 3.5zM575.5 597.5l4-1 1 1-1 1zM581 582l3.5-0.5 2 0.5-2 1.5zM592 582l2.5-1 1.5 1-1.5 1zM555.5 577l9-4.5 3.5 4.5-3.5 3.5-5-0.5zM572.5 577l2-1.5 1.5 1.5-1.5 1.5zM598 577l1.5-1.5 1.5 1.5-1.5 2zM576.5 572l3-2 3.5 2-3.5 3zM571.5 567l3-1 2 1-2 1zM569 562l1 0-0.5 2zM609.5 602.5l3-5-8-6.5-1 1.5 0.5 5 5.5 5zM594.5 594l1.5-1.5-1.5-2-2.5 2zM614.5 594.5l5.5-1.5 5-4.5 3.5-1-8.5-3-6 3-0.5 5zM514 583.5l1-1.5-1-1-1 1zM524 584l2-2-2-1.5-2.5 1.5zM368 578l5-0.5 1.5-5.5 3.5-2 2.5-3-1.5-5-6-6.5-5 5-4.5 1.5 4.5 5-1 5 0.5 5zM635 578l5 0 3-1-3-0.5-6.5 0.5zM499 573.5l2-11.5 2.5-5-4.5-5.5 0-2-5-2-5 0.5-3 3.5 8 8.5 4.5 2-8 5 3.5 1 4 4zM496.5 557l2.5-2 1.5 2-1.5 1.5zM509 574.5l1.5-2.5-1.5-2.5-1 2.5zM529 574l2-2-2-1-1 1zM614.5 574.5l1.5-2.5-1.5-1.5-2.5 1.5zM509 566l4-4-4-4-5 4zM519 565l15-1 3-2-2.5-10.5-5.5-0.5-1.5 0.5-2 5.5-1.5 1-3.5-1-1.5-3.5-3.5 8.5zM529 557l4 0-4 0.5zM494 544l1-2.5-1-0.5-1 0.5z" fill="#00dcfe" stroke="#00dcfe" stroke-width="0.6"/>
<path d="M252 704.5l7.5 0-2.5-1-6 1zM483.5 703l10.5-5 5 1 4 5.5 3.5 0-7.5-9-5 0-10.5 2.5-1 1.5-2 5 2.5 0zM564.5 614l1-1-1-2-1.5 2zM554.5 608.5l5 2 5-4 5 0.5 5 3.5 5-6 5 3.5 5-4 2.5-1.5 2.5-4 3 4 2 1.5 5-3.5 5 4.5 3-2.5 5-5 7.5-5.5 5-0.5 3.5-4-3.5-3.5-3-2 3-2 9.5 2-2 5.5 7.5 5.5 8.5-11 2-5-0.5-1-5 0-2-4-3-3-2.5 3-2.5 2-10 0-5 5.5-2-2.5-1.5-5-7-6-5 0.5-5-2.5-5 0-1 3-4 1.5-5-3-5-6.5-10-2-5 0-10 2-2.5 3-2.5 1.5-5.5 0.5-4-2-1-4-5 1-1-2 1-4 5 3.5 5-4.5 0-0.5-5-3-5 1.5-10-3-5 0.5-5-1.5-5 4.5-5-4-2-5-3-5-5 3-5-2.5-5-1 0 5.5-5.5-0.5-3.5 10.5 4 5.5 1 5-3.5 5-2.5 10-3 5 2.5 4.5 5 0.5 5.5-8 1.5 3 1.5 5.5 2 1 2-1 3-3.5 5 5 5-0.5 10 4 5-5 5 3 5 2 6.5 5 2.5 5 6 2.5 2 2.5zM552.5 602.5l-2-5 2-5-3.5-6-5 4.5-5 2-3-5.5 6.5-5.5-8-5 1-5 3.5-5.5 5.5 0.5 2.5 5 1 5 1 1.5 4-6.5-2.5-5 9-2 10-5.5 5 1.5 5 2.5 5-2 0.5 5.5 1.5 5 3 2 10-1.5 3.5 4.5 2.5 5-1 1.5-5-1.5 1.5 5.5-1.5 0.5-5-2.5-2.5 2-2.5 3-3 2-2 5-8 5-2 4.5-5-2.5-10-2.5-5 2.5zM609.5 602.5l-5.5-5-0.5-5 1-1.5 8 6.5-3 5zM592 592.5l2.5-2 1.5 2-1.5 1.5zM613.5 592.5l0.5-5 6-3 8.5 3-3.5 1-5 4.5-5.5 1.5zM513 582l1-1 1 1-1 1.5zM521.5 582l2.5-1.5 2 1.5-2 2zM522.5 577l1.5-1.5 1.5 1.5-1.5 1zM633.5 577l6.5-0.5 3 0.5-3 1-5 0zM498 572l-4-4-3.5-1 8-5-4.5-2-8-8.5 3-3.5 5-0.5 5 2 0 2 4.5 5.5-2.5 5-2 11.5zM508 572l1-2.5 1.5 2.5-1.5 2.5zM528 572l1-1 2 1-2 2zM612 572l2.5-1.5 1.5 1.5-1.5 2.5zM504 562l5-4 4 4-4 4zM515.5 562l3.5-8.5 1.5 3.5 3.5 1 1.5-1 2-5.5 1.5-0.5 5.5 0.5 2.5 10.5-3 2-15 1zM503 551.5l1-1 1.5 1-1.5 1.5zM493 541.5l1-0.5 1 0.5-1 2.5zM358 589.5l5-3.5 5 0.5 5-2 5 0.5 1.5-3 3.5-3 5-2.5 5 1.5 5.5-6-5.5-5-5-2-4.5-3 9.5-4.5 0-1-5-2.5-5 2-5-4.5-5-0.5-1.5 0.5-3.5 6.5-5-1.5-5 1-5.5-0.5-3 5 3.5 3 0.5 2-1.5 5 1 1 5-1 1 5-6.5 5 3 5.5zM367.5 577l-0.5-5 1-5-4.5-5 4.5-1.5 5-5 6 6.5 1.5 5-2.5 3-3.5 2-1.5 5.5-5 0.5zM337.5 575l3.5-3-3.5-0.5-0.5 0.5zM579.5 575l3.5-3-3.5-2-3 2zM655 569.5l1-2.5-1-2.5-2.5 2.5zM559.5 553l1-1.5-1-0.5-1.5 0.5zM574.5 556l2-4.5-2-0.5-3 0.5zM166.5 530l3-4 0-5-8 0 3 5zM176.5 527.5l2-1.5 0.5-5-4.5 0-0.5 5z" fill="#26ffd1" stroke="#26ffd1" stroke-width="0.6"/>
<path d="M70.5 704.5l3 0-3-3-5 0 0 3zM80.5 702l3.5-2.5-3.5-2-1.5 2zM247 704.5l10-1 2.5 1 8 0-5.5-5.5-5 1-11.5 4.5zM418.5 704.5l15 0 0-2-3-3-2-0.5-5 0.5-5 1-4.5 4 4 0zM468.5 700l4-0.5-4-1-4 1zM473.5 704.5l7 0 2-5 1-1.5 10.5-2.5 5 0 7.5 9 7 0 0.5-1.5 0.5 1.5 13.5 0-7.5-5 1-5-7.5-6-5 1-5 4.5-10-1.5-5 1-5.5-0.5-5-2-2 3.5-4.5 10zM70.5 698l4.5-3.5-4.5-5.5-5-0.5 0 6zM433.5 698l0.5-3.5-0.5-0.5-1.5 0.5zM564.5 618l5 1 2-1 3-3.5 5 0 5-3.5 5-5 5-0.5 10 3 10-3 5.5-0.5 4.5-2.5 0.5-1.5 2 1.5 3 0.5 6-5.5 4-5 5 3.5 5-5 5 0.5 5-3.5 3.5 4.5 1.5 1 1.5-1 1-5-9-10.5 1.5-2.5 5 3.5 5 5 1-1 0.5-5-3-5 3-5-1.5-1-5 3.5-5 0.5-2-3-3-8.5-5 2-10-0.5-5 1-5 4-5-1.5-5-4-5.5 2-5-8.5-10 1.5-5-5-5 0-5 1-5-0.5-5-2.5-5 0-5-3-5 1-1.5-4-3.5-3.5-10.5 4-5-0.5-10-7.5-1.5-2.5 2.5-5.5 1-5-12.5 0 0.5 2 3.5 3-3.5 1.5-2.5 4-0.5 5-2 2-5-6-5 1.5-4-2.5-1-2-5 1.5-5-1-5.5 0.5-1.5 1 0 5-3.5 9-5-9-2.5 5 2.5 10 3 5.5-0.5 5-2.5 3.5-5 0-1 1.5 1 4.5 5.5 0.5-0.5 0.5-5 0-0.5 4.5-3 5 3.5 3.5 5 3 5 1.5 5 0 5.5 3.5 5-3 5-2 5 4.5 10 1 5 1 5-0.5 5 0 5 3 5 5 10 8 10 2.5 4.5 5zM563 613l1.5-2 1 2-1 1zM551 607.5l-2-2.5-6-2.5-2.5-5-6.5-5-5-2-5-3-5 5-10-4-5 0.5-5-5-3 3.5-2 1-2-1-1.5-5.5-1.5-3-5.5 8-5-0.5-2.5-4.5 3-5 2.5-10 3.5-5-1-5-4-5.5 3.5-10.5 5.5 0.5 0-5.5 5 1 5 2.5 5-3 3 5 2 5 5 4 5-4.5 5 1.5 5-0.5 10 3 5-1.5 5 3 0 0.5-5 4.5-5-3.5-1 4 1 2 5-1 1 4 4 2 5.5-0.5 2.5-1.5 2.5-3 10-2 5 0 10 2 5 6.5 5 3 4-1.5 1-3 5 0 5 2.5 5-0.5 7 6 1.5 5 2 2.5 5-5.5 10 0 2.5-2 2.5-3 3 3 2 4 5 0 0.5 1-2 5-8.5 11-7.5-5.5 2-5.5-9.5-2-3 2 3 2 3.5 3.5-3.5 4-5 0.5-7.5 5.5-5 5-3 2.5-5-4.5-5 3.5-2-1.5-3-4-2.5 4-2.5 1.5-5 4-5-3.5-5 6-5-3.5-5-0.5-5 4-5-2zM652.5 567l2.5-2.5 1 2.5-1 2.5zM589 562l0.5-3.5 2.5 3.5-2.5 1zM558 551.5l1.5-0.5 1 0.5-1 1.5zM571.5 551.5l3-0.5 2 0.5-2 4.5zM525.5 541.5l3.5-3 2 3-2 2zM358 598l15-9.5 5 1 4-2 0-5.5 1-0.5 5 0 5 2.5 4-2-0.5-5 1.5-1.5 2.5 1.5 2.5 3.5 5-2 1-1.5-2.5-5 1.5-5-3-5-2-2-5-1.5-3-7-5.5-5-1.5-3.5-10 6-10 1-5 3-10 1.5-15.5 13-5 6.5-5-3-1 1 2.5 5-2.5 5 2.5 5.5 3.5 2 3.5-2 1.5-3 5-0.5 5 7.5 5.5-2 3 3 0 5zM355.5 587.5l-3-5.5 6.5-5-1-5-5 1-1-1 1.5-5-0.5-2-3.5-3 3-5 5.5 0.5 5-1 5 1.5 3.5-6.5 1.5-0.5 5 0.5 5 4.5 5-2 5 2.5 0 1-9.5 4.5 4.5 3 5 2 5.5 5-5.5 6-5-1.5-5 2.5-3.5 3-1.5 3-5-0.5-5 2-5-0.5-5 3.5zM337 572l0.5-0.5 3.5 0.5-3.5 3zM680 598.5l2-1-2-1-1 1zM458.5 588l2.5-0.5-2.5-5.5-0.5 5.5zM524 578l1.5-1-1.5-1.5-1.5 1.5zM413 572.5l0.5-0.5-0.5-1-1 1zM443.5 572.5l1-0.5-1-6.5-0.5 6.5zM680 573.5l5-0.5 5.5 2 0-11-5.5 2.5-5 4-3.5 1.5zM453.5 569l0.5-2-0.5-4.5-0.5 4.5zM428.5 558l1.5-1-1.5-2.5-1.5 2.5zM468.5 558l2.5-1-2.5-1.5-0.5 1.5zM675 557.5l1-6-1-0.5-1 0.5 1 5.5zM504 553l1.5-1.5-1.5-1-1 1zM161.5 532.5l5 0.5 5-4.5 5 3 5-1 3-9.5-5.5 0-0.5 5-2 1.5-2.5-1.5 0.5-5-5 0 0 5-3 4-5-9-8.5 0 3.5 3.5 5 1.5-1.5 5.5zM685 523l5.5 2 0-4-7 0z" fill="#50ffa7" stroke="#50ffa7" stroke-width="0.6"/>
<path d="M70.5 701.5l3 3 12 0 0.5-0.5 0 0.5 13.5 0-3.5-3.5-5 1-2-2.5 4.5-5-2.5-2.5-5 2.5-10.5-4.5-5-5.5-5-2.5 0 6.5 5 0.5 4.5 5.5-4.5 3.5-5-3.5 0 7zM79 699.5l1.5-2 3.5 2-3.5 2.5zM237 704.5l8.5 0 11.5-4.5 5-1 5 5.5 7.5 0-2.5-4-5 0.5-5-4.5-10 1.5-5 2.5-5-3-4.5 2-2.5 5zM408 704l6 0.5 4.5-4 5-1 5-0.5 2 0.5 3 3 0 2 4.5 0 0-10-4.5-3.5-10 4-5-1-3.5 0.5-2 1.5-5-0.5-3.5 4zM432 694.5l1.5-0.5 0.5 0.5-0.5 3.5zM453.5 699.5l4.5 5 5.5-1 3.5 1 5 0 4.5-10 2-3.5 5 2 5.5 0.5 5-1 10 1.5 5-4.5 5-1 7.5 6-1 5 7.5 5 7.5 0-1.5-2-5-1-3-2-2-13.5-1-2-4-2-20 9-5-2-5 2-5.5-1-5-2.5-5-0.5-10 0.5-5 5-5 7zM464.5 699.5l4-1 4 1-4 0.5zM574.5 704.5l5 0-5-1.5-4.5 1.5zM398 695l2.5-0.5-2.5-1 0 1zM483.5 665.5l3-1.5 2.5-3.5 0-2.5-5.5 0-3.5 6zM559.5 664.5l0.5-0.5-0.5-2-2.5 2zM569.5 631.5l2.5-3.5-2.5-3-1 3zM579.5 630l1-2-1-1-1.5 1zM559.5 620.5l5-0.5 5 2 5 1 15-11 5-2 5 0.5 5 1.5 5-2 5-0.5 10.5-3.5 5-1 5-3 5 2.5 5-1.5 5-3 5-0.5 4.5-2 0.5-1.5 5 0 5-2 2.5 3.5 2.5 1 5 3.5 10.5-2.5 0-24.5-5.5-2-5 0.5-3.5-1.5 3.5-1.5 5-4 5.5-2.5 0-6.5-1-0.5 1-5.5-10.5 2-1-2-4-3-5 0.5-5-4-5 0-5-4.5-13.5 11 0 5.5-6.5 1-1.5-1 1.5-4 1.5-1.5-6.5 0.5-5-1-5 3-5.5-2.5-5-3.5-5 2-5-5.5-10 0-5-5-2.5 2-1 5-1.5 0.5-4.5-5.5-5.5-1-5 0-6.5-4-3.5-1-10.5 1.5-5-4-4.5-1.5 0-5.5-1-5-2.5 0-1 5-2.5 5.5 1.5 2.5 10 7.5 5 0.5 10.5-4 3.5 3.5 1.5 4 5-1 5 3 5 0 5 2.5 5 0.5 5-1 5 0 5 5 10-1.5 5 8.5 5.5-2 5 4 5 1.5 5-4 5-1 10 0.5 5-2 3 8.5 2 3 5-0.5 5-3.5 1.5 1-3 5 3 5-0.5 5-1 1-5-5-5-3.5-1.5 2.5 9 10.5-1 5-1.5 1-1.5-1-3.5-4.5-5 3.5-5-0.5-5 5-5-3.5-4 5-6 5.5-3-0.5-2-1.5-0.5 1.5-4.5 2.5-5.5 0.5-10 3-10-3-5 0.5-5 5-5 3.5-5 0-3 3.5-2 1-6-1-4.5-5-10-2.5-10-8-5-5-5-3-5 0-5 0.5-5-1-10-1-5-4.5-5 2-5 3-5.5-3.5-5 0-5-1.5-5-3-3.5-3.5 3-5 0.5-4.5 5 0 0.5-0.5-5.5-0.5-1-4.5 1-1.5 5 0 2.5-3.5 0.5-5-3-5.5-2.5-10 2.5-5 5 9 3.5-9 0-5 1.5-1 5.5-0.5 5 1 5-1.5 1 2 4 2.5 5-1.5 5 6 2-2 0.5-5 2.5-4 3.5-1.5-3.5-3-0.5-2-3.5 0-6 6.5-5 3.5-5-9-6.5-1-21.5 0 2 5-4.5 10-5-0.5-0.5 1-1 5-2.5 5-1.5 10.5-9.5 2.5-1.5-2.5 6-5.5-4.5-3.5-5 4.5-5-2-5 4.5-2-3.5-3-3-5 8-5-1.5-2 2 2 2 5-1 5 3.5 5-2 3 2.5-3 0.5-5 5-5-4.5-5 2-9.5-8-2-5.5-4-2-5-1.5-1.5-1.5 6.5-5 0-0.5-5-3-5 3-3-4.5-2-1.5-2.5 1.5 0.5 5-3 3-5 2-5 1-5-1.5-5 3-5 0-4 2.5-6.5 1.5-1-1.5-4-2-13 12.5-3 5-4 3-5 1.5-0.5 0.5 0 5 8 10.5 7.5 6 5 1 2.5 3 2.5 1.5 5-1.5 5.5 6 5-2.5 5-1 10 1 5-3.5 5 4 2.5-4 2.5-9.5 5 0.5 5-3.5 5-0.5 5-1.5 5-0.5-0.5-5.5 0.5-1 5.5 3.5 5 0.5 1.5 2 3.5 2.5 5-2-3.5-5.5 4.5-5 4-9.5 1.5 4.5 0 5 5.5 5-3 5 1 4.5 3 6 2 1 2-1 3-4.5 5 3.5 10 2.5 5-3 5 2 5-0.5 5.5 3 5-3 5-1 5 4 10 1 5 1.5 10 1.5 5 1.5 4.5 6.5 8.5 5.5 7.5 2 2.5 3zM356 597.5l0-5-3-3-5.5 2-5-7.5-5 0.5-1.5 3-3.5 2-3.5-2-2.5-5.5 2.5-5-2.5-5 1-1 5 3 5-6.5 15.5-13 10-1.5 5-3 10-1 10-6 1.5 3.5 5.5 5 3 7 5 1.5 2 2 3 5-1.5 5 2.5 5-1 1.5-5 2-2.5-3.5-2.5-1.5-1.5 1.5 0.5 5-4 2-5-2.5-5 0-1 0.5 0 5.5-4 2-5-1-15 9.5zM679 597.5l1-1 2 1-2 1zM371.5 592.5l1.5-1 3 1-3 1.5zM680 592.5l5-1 2.5 1-2.5 1.5-5-1.5zM458 587.5l0.5-5.5 2.5 5.5-2.5 0.5zM450 582l3.5-2 1.5 2-1.5 4.5zM462 577l1.5-7.5 0.5 7.5-0.5 1zM412 572l1-1 0.5 1-0.5 0.5zM443 572l0.5-6.5 1 6.5-1 0.5zM448 567l0.5-1.5 0.5 1.5-0.5 3zM453 567l0.5-4.5 0.5 4.5-0.5 2zM457.5 567l1-1.5 4 1.5-4 2zM463 562l-3.5-5 4-2.5 1 2.5 0.5 5-1.5 3zM659.5 562l0.5-5 1.5 5-1.5 3zM427 557l1.5-2.5 1.5 2.5-1.5 1zM468 557l0.5-1.5 2.5 1.5-2.5 1zM675 557l-1-5.5 1-0.5 1 0.5-1 6zM654 551.5l6-3 1.5 3-1.5 5-5-4.5zM475 526l3.5-2 7 2-7 2.5zM358 612.5l3-5-3-3-3 3zM388 603l1.5-0.5-1.5-1-2 1zM453.5 598.5l1-1-1-2-1 2zM589.5 563l2.5-1-2.5-3.5-0.5 3.5zM347.5 549l2.5-2.5-2.5-4.5-0.5 4.5zM408 550l5-2.5 1-1-0.5-5-6.5 5zM685 549.5l0.5-3-0.5-1-1 1zM529 543.5l2-2-2-3-3.5 3zM408 537l1-0.5-1-0.5-2 0.5zM151.5 531.5l5 0 5 4 15-2 5 0 4-2 0-5.5 3.5-5-4.5 0-3 9.5-5 1-5-3-5 4.5-5-0.5-1.5-1 1.5-5.5-5-1.5-3.5-3.5-24.5 0 2.5 3.5 5-3 5 2.5 5 0 5.5 0.5 1.5 1.5-2.5 5.5zM337.5 532l1-0.5-1-1-0.5 1zM685 532.5l5.5-4.5 0-3-5.5-2-1.5-2-2.5 0 4.5 5-2 5.5zM448.5 522l1-1-2 0z" fill="#7dff7a" stroke="#7dff7a" stroke-width="0.6"/>
<path d="M91 702l5-1 3.5 3.5 34.5 0-3-1.5-10-9.5-5 8-5-0.5-5-1.5 5-1 2.5-4-12.5-12.5-5 1.5-6.5 6-3.5 2-3-2-0.5-5.5-2-1.5-5 1.5-10-6.5 0 4.5 5 2.5 5 5.5 10.5 4.5 5-2.5 2.5 2.5-4.5 5zM156.5 700.5l0.5-1-0.5-0.5-1 0.5zM196.5 704.5l5-1.5 3 1.5 5 0 2-1 2.5-4-2.5-2-5 0.5-5-1-5 2.5-0.5 5zM222 701.5l5-4.5 1.5 2.5-3.5 5 10 0 2.5-5 4.5-2 5 3 5-2.5 10-1.5 5 4.5 5-0.5 2.5 4 14.5 0-5-5-1.5-5-1.5 0-1 5-3 4.5-2-4.5-3-3.5-5 1-5-3-5 1-5-2-5-4.5-3.5 1-0.5 5-1 0.5-6.5-5.5-3.5-2.5-7.5 2.5-4 5-0.5 5zM388 702.5l1.5 2 12.5 0 1-1.5 1 1.5 4.5 0-4-5 3.5-4 5 0.5 2-1.5 3.5-0.5 5 1 10-4 4.5 3.5 0 10 20 0-4.5-5 5-7 5-5 10-0.5 5 0.5 5 2.5 5.5 1 5-2 5 2 20-9 4 2 1 2 2 13.5 3 2 5 1 1.5 2 2.5 0 3-5-2-1.5-5 0.5-4.5-4-2.5-5 4-5.5-2-3.5-5.5-1.5 5.5-1.5 5-3 3.5-5.5-0.5-5-3-2-5-6.5-5-2.5-2.5 0.5 1.5 5 5.5 5.5-4.5 1.5-3.5 3.5-3 5-8.5 9.5-5 1-5 2-10-3.5-5.5-1-3-3 3-6 5.5 2.5 5-1.5-2.5-5 2-5-4-10.5-6-1.5-5 0-4.5 6.5 0.5 5.5-1 5 5-1.5 2 1.5-2 1.5-5 7-5-1-5 0.5-4.5 2-5.5 6.5-5-1.5-5-3-5 5-5-2.5-5 5-10 4-5.5-1.5-5 0.5-5-4.5-5 0-5 8-5-1.5-1 1 0.5 5zM398 694.5l0-1 2.5 1-2.5 0.5zM476 684l2.5-1.5 1.5 1.5-1.5 1zM480 664l3.5-6 5.5 0 0 2.5-2.5 3.5-3 1.5zM463.5 704.5l3.5 0-3.5-1-4 1zM544 704.5l26 0 4.5-1.5 5 1.5 19 0-4-2-5 0.5-1-3.5-4-2-5-4-5 4-5-0.5-5 5.5-5-1.5-3-1.5 3-2.5 5-2.5-5-4-5-0.5-2.5 4.5 0.5 5-3.5 3-5 0-2.5 2zM453.5 678.5l1-4.5-1-0.5-1 0.5zM554.5 678l5-2.5 0.5-1.5-0.5-1.5-4-3.5 4-1.5 3.5-3.5 2-5.5 0-5-0.5-1-5 3-5-3.5-5.5 4.5-3 7.5-2 1-2.5 4 2.5 2 4.5-2 0.5-1.5 2 1.5 1.5 5zM557 664l2.5-2 0.5 2-0.5 0.5zM514 654.5l2.5-1 2.5-2.5 1-2.5-1-3-5 5-2 3zM534 654.5l0.5-1-0.5-0.5-1 0.5zM574.5 639l5-1.5 2-4.5 9.5-10-3-5 1.5-1.5 10-1.5 5 0.5 25.5-8.5 5 1 5-1 10-4.5 5-0.5 5 3 3.5-2.5 1.5-2.5 6 2.5-1 0-4.5 5 4.5 2 4-2 1-4.5 7.5 4.5-2.5 1-3.5 4.5 3.5 3.5 3-3.5 2-4 5.5 3.5 0-13-10.5 2.5-5-3.5-2.5-1-2.5-3.5-5 2-5 0-0.5 1.5-4.5 2-5 0.5-5 3-5 1.5-5-2.5-5 3-5 1-10.5 3.5-5 0.5-5 2-5-1.5-5-0.5-5 2-15 11-5-1-5-2-5 0.5-5-5.5-7.5-2-8.5-5.5-4.5-6.5-5-1.5-10-1.5-5-1.5-10-1-5-4-5 1-5 3-5.5-3-5 0.5-5-2-5 3-10-2.5-5-3.5-3 4.5-2 1-2-1-3-6-1-4.5 3-5-5.5-5 0-5-1.5-4.5-4 9.5-4.5 5 3.5 5-5 2.5-3.5-2.5-1.5-2-5-0.5-5.5-3.5-0.5 1 0.5 5.5-5 0.5-5 1.5-5 0.5-5 3.5-5-0.5-2.5 9.5-2.5 4-5-4-5 3.5-10-1-5 1-5 2.5-5.5-6-5 1.5-2.5-1.5-2.5-3-5-1-7.5-6-8-10.5 0-5 0.5-0.5 5-1.5 4-3 3-5 13-12.5 4 2 1 1.5 6.5-1.5 4-2.5 5 0 5-3 5 1.5 5-1 5-2 3-3-0.5-5 2.5-1.5 2 1.5 3 4.5 5-3 5 3 0 0.5-6.5 5 1.5 1.5 5 1.5 4 2 2 5.5 9.5 8 5-2 5 4.5 5-5 3-0.5-3-2.5-5 2-5-3.5-5 1-2-2 2-2 5 1.5 5-8 3 3 2 3.5 5-4.5 5 2 5-4.5 4.5 3.5-6 5.5 1.5 2.5 9.5-2.5 1.5-10.5 2.5-5 1-5 0.5-1 5 0.5 4.5-10-2-5-7.5 0-5 3.5-3.5-3.5-5.5 0-1 1-1-1-5.5 0-4 5 5.5 0.5 4 5 1 4.5 5-1.5 2-3 3-3 4 3-4 3.5-2.5 1.5 2.5 1.5 1.5 3.5-1.5 2-2.5-2-2.5-3.5-5-1.5-2 5-3 3-10-3.5-5-3-4.5 3.5-0.5 3.5-1-3.5-4-6-2-4-3.5-6-0.5 0.5-1.5 5.5-3 1-5 1-5-2.5-5 4-5-2-5 0.5-8.5 3 2.5 5-4 3-5-0.5-5-2.5-5-5.5-5 4-2.5-3.5-0.5-5-1-5.5 4-5 5 2.5 0.5-2.5-11.5 0-4.5 4.5-3.5-4.5-15 0 3.5 1 6 9.5 4 4 3 1-1.5 5-9 10 1 5.5-3.5 2.5-6 2.5-10 10 5 10-1 5.5 12 11 5-2 5 4.5 5 1 5-1 1.5 1.5 2.5 5-5 5.5 4.5 10 2 1 5-1 5 1 1.5-1-2.5-5 7-5-4-5.5 3-2.5 7 2.5 1.5 5.5 1.5 0.5 1-0.5 0-5.5 4-2 10-0.5 5-2.5 1.5-5-1.5-5-0.5 0 0.5-0.5 10 1.5 1-1-1-4.5-0.5-0.5 5.5-2 5.5 2.5 5 1 5-0.5 5-3 6 7 2.5 5 1.5 0.5 5-1.5 10 8.5 7-7.5 3-1.5 5 1 5-1.5 5 3.5 10.5-2.5 10 3 5-1 15 3 3.5 1 6.5 6.5 5 1 5 4.5 5 3 5.5 1 5 5 5-1.5 2 1-1.5 5 2 5 7 5.5zM568.5 628l1-3 2.5 3-2.5 3.5zM578 628l1.5-1 1 1-1 2zM355 607.5l3-3 3 3-3 5zM386 602.5l2-1 1.5 1-1.5 0.5zM452.5 597.5l1-2 1 2-1 1zM417.5 551.5l1-1.5 3 1.5-3 0.5zM347 546.5l0.5-4.5 2.5 4.5-2.5 2.5zM407 546.5l6.5-5 0.5 5-1 1-5 2.5zM379.5 541.5l3.5-2.5 1 2.5-1 0.5zM406 536.5l2-0.5 1 0.5-1 0.5zM337 531.5l0.5-1 1 1-1 0.5zM342.5 609.5l2-2-2-4-1.5 4zM373 594l3-1.5-3-1-1.5 1zM680 592.5l5 1.5 2.5-1.5-2.5-1-5 1zM453.5 586.5l1.5-4.5-1.5-2-3.5 2zM463.5 578l0.5-1-0.5-7.5-1.5 7.5zM70.5 574.5l1.5-2.5-1.5-1.5-2 1.5zM448.5 570l0.5-3-0.5-1.5-0.5 1.5zM458.5 569l4-2-4-1.5-1 1.5zM463.5 565l1.5-3-0.5-5-1-2.5-4 2.5 3.5 5zM660 565l1.5-3-1.5-5-0.5 5zM635 558l6.5-1 0-5.5 13.5-11 5 4.5 5 0 5 4 5-0.5 4 3 1 2 10.5-2 0-2.5-2.5-2.5-3-4.5-5 2.5-1.5-3-3.5-3.5-4.5-1.5-0.5-3-0.5 3-4.5 1.5-5 1-5-5-5 0-4 2.5 3 5-4 3-5 1-5 2.5-10-7-5 4.5-5.5-5.5-10 7-5-5.5-5-1-5 1.5-5-6.5-5 3.5-4.5-2.5-0.5-1-1 1-4 0.5-10-4.5-5 1.5-5.5-0.5-5-3.5-5-2-1-2 2-5-6.5 0 1 5 0 5.5 4.5 1.5 5 4 10.5-1.5 3.5 1 6.5 4 5 0 5.5 1 4.5 5.5 1.5-0.5 1-5 2.5-2 5 5 10 0 5 5.5 5-2 5 3.5 5.5 2.5 5-3 5 1 6.5-0.5-1.5 1.5-1.5 4zM684 546.5l1-1 0.5 1-0.5 3zM690.5 557.5l0-4.5-1 4zM655 552l5 4.5 1.5-5-1.5-3-6 3zM161.5 548l5-2.5 2-4 8-6 6.5 1 3.5 2.5 5-3.5 5-0.5 5 2.5 5-2.5 1.5-3.5 4.5-5.5 2-5-11 0-1 5-1 1-5 1.5-2-2.5 5.5-5-11 0-3.5 5 0 5.5-4 2-5 0-15 2-5-4-6 0 2.5-5.5-1.5-1.5-5.5-0.5-5 0-5-2.5-5 3-2.5-3.5-13 0-0.5 5 6 4 5 2 2 4.5 3 3 5-4 5 2 5-3 10.5 0 2 2-4 5 2 2.5 4 2.5zM322.5 539l3.5-2.5-3.5-2-0.5 2zM327.5 534.5l2.5-3-2.5-1.5-1 1.5zM680 531.5l5 3.5 5.5-4.5 0-2.5-5.5 4.5-1.5-1 2-5.5-4.5-5-3.5 0 3.5 5-2 5.5zM368 527l4-1 4.5-5-9.5 0-1 5zM478.5 528.5l7-2.5-7-2-3.5 2zM504 531l5-3.5 6-6.5-22.5 0 6.5 1 2 4zM625 523l1.5-2-3 0z" fill="#a7ff50" stroke="#a7ff50" stroke-width="0.6"/>
<path d="M106 699.5l5 1.5 5 0.5 5-8 10 9.5 3 1.5 6 0-1.5-5-2.5-2.5-5-3.5-5-1.5-5-3.5-5-1.5-5-0.5-2.5-2.5-0.5-5-7-3-3.5 3-6.5 2.5-5 1-5.5-4-10-4-5 0 0 3 10 6.5 5-1.5 2 1.5 0.5 5.5 3 2 3.5-2 6.5-6 5-1.5 12.5 12.5-2.5 4-5 1zM146 704.5l22.5 0-2-3-3-2 3-2 5 3 5 1 2.5-2-2.5-3-10-4-5-4.5-2.5 1.5-2.5 4.5-5.5-4.5-5-3-5-2-5 2.5-1.5 2.5 1.5 2 5-0.5 5 1.5 3 2 0.5 5-7 5zM155.5 699.5l1-0.5 0.5 0.5-0.5 1zM191.5 700.5l0.5 4 4 0 0.5-5.5 5-2 5 1 5-0.5 2.5 2-2.5 4-2 1 15.5 0 3.5-5-1.5-2.5-5 4.5-2-2 0.5-5 4-5 7.5-2.5 3.5 2.5 6.5 5.5 1-0.5 0.5-5 3.5-1 5 4.5 5 2 5-1 5 3 5-1 3 3.5 2 4.5 3-4.5 1-5 1-0.5 2 5.5 5 5 11.5 0-1-5-2-2-5-1-5 1-1-3 2.5-5-1.5-1.5-5.5 3-5-0.5-5-2-5 4.5-5-2-5-1-5 0.5-5-6.5-10 2-5-1.5-5 1.5-3-2-4.5-5-3-1.5-2 1.5 3 5-1 1.5-10 6-3.5-2-2 0-4.5 5-5-2.5-2.5 2.5 2.5 5zM201.5 704.5l3 0-3-1.5-3 1.5zM312.5 704.5l16.5 0-4-5-2.5-2-5-1-5 4-2.5 4zM383 704.5l6.5 0-1.5-2-1-8 1-1 5 1.5 5-8 5 0 5 4.5 5-0.5 5.5 1.5 10-4 5-5 5 2.5 5-5 5 3 5 1.5 5.5-6.5 4.5-2 5-0.5 5 1 5-7 2-1.5-2-1.5-5 1.5 1-5-0.5-5.5 4.5-6.5 5 0 6 1.5 4 10.5-2 5 2.5 5-5 1.5-5.5-2.5-3 6 3 3 5.5 1 10 3.5 5-2 5-1 8.5-9.5 3-5 3.5-3.5 4.5-1.5-5.5-5.5-1.5-5 2.5-0.5 5 2.5 5 6.5 3 2 0.5 5-3.5 5.5-5 3-5.5 1.5 5.5 1.5 2 3.5-4 5.5 2.5 5 4.5 4 5-0.5 2 1.5-3 5 3.5 0 2.5-2 5 0 3.5-3-0.5-5 2.5-4.5 5 0.5 5 4-5 2.5-3 2.5 3 1.5 5 1.5 5-5.5 5 0.5 5-4 5 4 4 2 1 3.5 5-0.5 4 2 6 0-5-4-5 0-5-4.5-5-0.5-1.5-1 3-5-5.5-5.5-1-0.5-1 0.5-1 5.5-3 3-1.5-3-3.5-4.5-5-1.5-3-4.5 6-20.5-0.5-5-2.5-4.5-5 1.5-5-4-3 2-4 5-3.5 6-5-4-4.5-7-0.5-2.5-3 2.5-7 1-0.5-1-2-5 0.5-5-2.5-5.5-0.5-5 5-5 1-5-1-1.5-5 3-5-2.5-5 0.5-1.5 5.5 1 5-0.5 5 3.5 5.5-3.5 5-2 5 1 5 2 2.5 8.5 2.5 3 5.5-1.5 1-5 9-5 1.5-5 4-2.5-0.5-1-10 2-5-3.5-9-5 4-1-5.5-4-3-5.5-1.5-5-0.5-3 5-4.5 5 0 5.5-0.5 5-2 3.5-5 0-5 2-5-4-5 2-5 3.5-5 5-5-1-5 5-10 6-3.5-1.5-2-3-5-2.5-2.5-5-2.5-1.5-7 6.5-3 6-5 1-4 3.5-2 5-3 5zM534 694.5l1.5-5-3.5-10.5 2-1.5 5-6 4 2.5-0.5 5 1.5 1 3-1 2-3 1.5 3-1.5 5 1 5.5-1 1.5-5 4.5-5 0.5-5-1.5zM563 689.5l1.5-4.5 1 4.5-1 1zM550 684l4.5-2 2.5 2-2.5 2.5zM452.5 674l1-0.5 1 0.5-1 4.5zM552.5 674l-1.5-5-2-1.5-0.5 1.5-4.5 2-2.5-2 2.5-4 2-1 3-7.5 5.5-4.5 5 3.5 5-3 0.5 1 0 5-2 5.5-3.5 3.5-4 1.5 4 3.5 0.5 1.5-0.5 1.5-5 2.5zM512 653.5l2-3 5-5 1 3-1 2.5-2.5 2.5-2.5 1zM533 653.5l1-0.5 0.5 0.5-0.5 1zM403 704.5l1 0-1-1.5-1 1.5zM645 700.5l5 2.5 2 1.5 29 0 1.5-5-2.5-1.5-3.5 1.5-1.5 5-5-3-10-2.5-5-3.5-5.5-6 1.5-5.5-1-1-5.5-4-9.5-2-4 2-5.5 5 2.5 5.5 1 5 3.5 0 2.5-1.5 0.5 1.5 4.5 2 4 3zM176.5 690.5l5.5-1-5.5-1-1.5 1zM363 690l0.5-0.5-0.5-2.5-1 2.5zM478.5 685l1.5-1-1.5-1.5-2.5 1.5zM136 680.5l2-1.5-2-1-2 1zM242 682.5l0.5-3.5-0.5-1-0.5 1zM569.5 682.5l2-3.5-2-2.5-2.5 2.5zM589.5 674.5l1-0.5-1-1-0.5 1zM609.5 670l2-6-2-1.5-3 1.5 3 5zM514 664.5l2.5-0.5-2.5-1.5-0.5 1.5zM594.5 664l5 1.5 2.5-1.5-0.5-5.5-2.5-5 2.5-5-2-3.5-5-5-5-2.5-5-4.5 10-11.5 15-4.5 5 1 5.5-3.5 10-4.5 10-1 5-2 10 0 3 0.5 3 5.5 4 2 2.5-2 2.5-1.5 2 1.5 3 3.5 5 4.5 5 0.5 5.5-2 0-7-5.5-3.5-2 4-3 3.5-3.5-3.5 3.5-4.5 2.5-1-7.5-4.5-1 4.5-4 2-4.5-2 4.5-5 1 0-6-2.5-1.5 2.5-3.5 2.5-5-3-4.5 0.5-10.5 4.5-5 1-5-1-25.5 8.5-5-0.5-10 1.5-1.5 1.5 3 5-9.5 10-2 4.5-5 1.5-7.5-6-2-5 1.5-5-2-1-5 1.5-5-5-5.5-1-5-3-5-4.5-5-1-6.5-6.5-3.5-1-15-3-5 1-10-3-10.5 2.5-5-3.5-5 1.5-5-1-3 1.5-7 7.5-10-8.5-5 1.5-1.5-0.5-2.5-5-6-7-5 3-5 0.5-5-1-5.5-2.5-5.5 2 0.5 0.5 1 4.5-1 1-10-1.5-0.5 0.5 0.5 0 1.5 5-1.5 5-5 2.5-10 0.5-4 2 0 5.5-1 0.5-1.5-0.5-1.5-5.5-7-2.5-3 2.5 4 5.5-7 5 2.5 5-1.5 1-5-1-5 1-2-1-4.5-10 5-5.5-2.5-5-1.5-1.5-5 1-5-1-5-4.5-5 2-12-11 1-5.5-5-10 10-10 6-2.5 3.5-2.5-1-5.5 9-10 1.5-5-3-1-4-4-6-9.5-3.5-1-4 0-4 5 1.5 2.5 3.5 3-1.5 5 0.5 5-2.5 2-5 2-5-5-1.5 1 1.5 9.5 5-1.5 10 2-2 5.5-3 2-4-2-1-2-5 2.5-1.5 4.5-3.5 5 2 5-0.5 5 3.5 2.5 5 1.5 0.5 1 0 5.5 5 5 6.5 5 8 11 5-2 5 6.5 1 5 3 5 6.5 4 5-0.5 5 0.5 5-4 5-7 5 1.5 5-2.5 5 0 5-6 5 1.5 7.5-8-3.5-5 1-1 5 1.5 1-0.5 4-8.5 12.5 3.5 3 2.5 5-4 1 6.5 4 1.5 5 1 5 3.5 5 0.5 4 3.5 1 0.5 5-5.5 5 0.5 5-3 5-1 5 2.5 5.5-1 5 2 5-2.5 5 3.5 5-3 4.5 2 0.5 1 10 0.5 4 3.5 1 4.5 10 0.5 7.5 5.5 2.5 3.5 3.5 1.5 2 2 5 3.5 5 5 6.5 5 8.5 11 5 2 2.5-3-3.5-5 6-2.5 0.5 2.5 6 5-4.5 5 2.5 10.5zM341 607.5l1.5-4 2 4-2 2zM322 536.5l0.5-2 3.5 2-3.5 2.5zM326.5 531.5l1-1.5 2.5 1.5-2.5 3zM670 661l6-7.5-1-2.5-5 0.5-2 2 0.5 5zM680 659.5l4-1-4.5 0zM544 649.5l1.5-1-1.5-1-0.5 1zM383 644.5l1.5-1-1.5-2-2 2zM609.5 645l1-1.5-1-1.5-1 1.5zM448.5 643l2.5-4.5-2.5-4-2 4zM544 639.5l2-6.5-7-5-1.5 5 1.5 4.5 1 1zM604.5 639.5l1.5-1-1.5-2-3.5 2zM448.5 632l4-4-4-3.5-3.5 3.5zM675 629l1-1-1-3.5-0.5 3.5zM685 628.5l1-0.5-1-1.5 0 1.5zM96 618.5l1-0.5-1-1-2 1zM70.5 579l3-2 1-5-4-4.5-5 2 0 8.5zM68.5 572l2-1.5 1.5 1.5-1.5 2.5zM80.5 578l0.5-1-0.5-0.5-1 0.5zM206.5 572.5l10 3 2-3.5-2-1.5-5-2-5 3.5zM67 562l-1.5-0.5 0 2.5zM106 559l3.5-2 3.5-5.5-2-1-5-5-5 0-5-5-5 3.5-4.5-2.5-0.5-3-2 3 1 5 6 7 5-3.5 5-1.5 2.5 3-0.5 5.5zM156.5 558.5l10-7 4.5-5 3-5 2.5-1.5 5-1.5 5 6 5-3 3.5 5 1.5 0.5 3-0.5 2-1.5 5 3 5.5-6.5 0.5-5-1-5 0-0.5 6 0.5-0.5-5.5 1-5-3.5 0-2 5-4.5 5.5-1.5 3.5-5 2.5-5-2.5-5 0.5-5 3.5-3.5-2.5-6.5-1-8 6-2 4-5 2.5-1-1.5-4-2.5-2-2.5 4-5-2-2-10.5 0-5 3-5-2-5 4-3-3-2-4.5-5-2-6-4 0.5-5-4 0-0.5 1-1.5-1-5.5 0-2.5 5 4.5 2.5 5 4.5 5 0 5 1.5 2.5 2 1.5 5 1 0.5 5 2 5-2.5 5-1 4 1 1 1.5 1 3.5-1 1.5-5-3.5-1 2 3 5 3 2.5 5.5-1.5 4 4.5zM147.5 541.5l4-2.5 0.5 2.5-0.5 1zM418.5 552l3-0.5-3-1.5-1 1.5zM604.5 547l10-7 5.5 5.5 5-4.5 10 7 5-2.5 5-1 4-3-3-5 4-2.5 5 0 5 5 5-1 4.5-1.5 0.5-3 0.5 3 4.5 1.5 3.5 3.5 1.5 3 5-2.5 3 4.5 2.5 2.5-1.5-12.5 1.5-1 0-5-5.5 4.5-6-3.5 2-5.5-3.5-5-10.5 0-2 2-0.5-2-27 0 7.5 2 6 3-1 1.5-5 1-1 3-4 2-5 1.5-5-3.5-3-5.5 3-4 2.5-1-6 0-1.5 2-1.5-2-3 0-0.5 3-1.5-3-14.5 0 0.5 1 5 0.5 4 3.5 1 4.5 5.5 1 0 1-5.5 0-1-1-4-1.5-1.5 1.5 0 5-3.5 1.5-5-3.5-5-1-5-6.5-3.5 4.5-6.5 3.5-2.5-3.5-2.5-2-5 3.5-10-3-5 2.5-4-1-1.5-3-6-2.5-1-5-2 0-2 5 1 2 5 2 5 3.5 5.5 0.5 5-1.5 10 4.5 4-0.5 1-1 0.5 1 4.5 2.5 5-3.5 5 6.5 5-1.5 5 1 5 5zM619.5 541.5l0.5-3.5 0.5 3.5-0.5 0.5zM629.5 541.5l5.5-3 5 1.5 2 1.5-7 3-5-2.5zM678.5 536.5l1.5-1.5 3 1.5-3 2zM674 526l1-1.5 1 1.5-1 1zM111 542l0.5-0.5-0.5-1-1 1zM368 544l5 0.5 4-3-2.5-5 8.5-3 5-0.5 5 2 5-4 5 2.5 5-1 3-1 1.5-5.5 0.5-0.5 3.5 6 2 4 4 6 1 3.5 0.5-3.5 4.5-3.5 5 3 10 3.5 3-3 2-5 5 1.5 2.5 3.5 2.5 2 1.5-2-1.5-3.5-2.5-1.5 2.5-1.5 4-3.5-4-3-3 3-2 3-5 1.5-1-4.5-4-5-5.5-0.5 4-5-15 0-4 5-4.5 2.5-5.5-5.5-3.5 3-1.5 2.5-5 2-5-3-10 2.5-4-4 0-5-7.5 0-4.5 5-4 1-2-1 1-5-8.5 0-0.5 2.5-5-2.5-4 5 1 5.5 0.5 5 2.5 3.5 5-4 5 5.5zM367.5 541.5l0.5-3 1 3-1 0zM364.5 531.5l3.5-1.5 1.5 1.5-1.5 4zM431.5 531.5l2-2.5 4 2.5-4 3zM441 531.5l2.5-0.5 0 1zM383 542l1-0.5-1-2.5-3.5 2.5zM80.5 537.5l2.5-1-2.5-1 0 1zM91 538l1.5-1.5-1.5-4-4 4zM267 534l4-2.5-4-2-3 2zM277 534.5l4-3-3-10.5-7.5 0 0 5 1.5 3.5 2.5 2zM287.5 532l0.5-0.5-0.5-1.5-4 1.5zM196.5 528.5l5-1.5 1-1 1-5-3.5 0-5.5 5zM635 526.5l0.5-0.5-0.5-2-0.5 2zM342.5 525.5l4.5-4.5-8 0zM418.5 522l1-1-2 0zM458.5 524.5l5-3.5-8.5 0z" fill="#d1ff26" stroke="#d1ff26" stroke-width="0.6"/>
<path d="M141 704.5l1.5 0 7-5-0.5-5-3-2-5-1.5-5 0.5-1.5-2 1.5-2.5 5-2.5 5 2 5 3 5.5 4.5 2.5-4.5 2.5-1.5 5 4.5 10 4 2.5 3-2.5 2-5-1-5-3-3 2 3 2 2 3 10 0 3-1.5 2 1.5 8.5 0-0.5-5-2.5-5 2.5-2.5 5 2.5 5-5.5 5 2.5 10-6 1-1.5-3-5 2-1.5 3 1.5 4.5 5 3 2 5-1.5 5 1.5 10-2 5 6.5 5-0.5 5 1 5 2 5-4.5 5 2 5 0.5 5.5-3 1.5 1.5-2.5 5 1 3 5-1 5 1 2 2 1 5 9.5 0 2.5-4 5-4 5 1 2.5 2 4 5 14 0-2.5-5 0-5-3-1-5 2-0.5-1 1.5-5-1-4.5-3.5 4.5-1.5 0.5-4-0.5-1-1.5-1.5 1.5-3.5 0-5-1.5-5 2-5 1-3.5-7 5.5-5 1-5-3-4-5 2.5-6.5 6.5 5 5-3.5 4-5-3-5.5 2.5-5-5.5-5 2.5-5 4.5-5-1.5-15-8.5-3-5-2-2.5-2.5 2.5-1 5-1.5 2.5-5-1-5 0-1-1.5 2.5-5-1.5-2.5-5 5.5-5.5-2-5 1.5-3.5 2.5-1.5 5.5-5 1.5-10 0.5-5-3.5-5 3-6.5-2-2-5-6.5-5-5 4.5-5-1-5 0-5.5-4-5 0.5-5-0.5-10 7-5-3.5-5 1.5-10-3-5-4.5-5-1-5-8-1.5 2-1.5 5-6.5 5-1.5 0-4.5-8-5 4-5 2.5 0 2 5 0 10 4 5.5 4 5-1 6.5-2.5 3.5-3 5 2 2 1 0.5 5 2.5 2.5 5 0.5 5 1.5 5 3.5 5 1.5 5 3.5 2.5 2.5 1.5 5zM180 694.5l1.5-1 2.5 1-2.5 1.5zM175 689.5l1.5-1 5.5 1-5.5 1zM134 679l2-1 2 1-2 1.5zM241.5 679l0.5-1 0.5 1-0.5 3.5zM347.5 701l5.5 0 3-1.5 7-4.5 5 0.5 5 1.5 5-2 2.5 4.5-2.5 3-2.5 2 3.5 0 3-5 2-5 4-3.5 5-1 3-6 7-6.5 2.5 1.5 2.5 5 5 2.5 2 3 3.5 1.5 10-6 5-5 5 1 5-5 5-3.5 5-2 5 4 5-2 5 0 2-3.5 0.5-5 0-5.5 4.5-5 3-5 5 0.5 5.5 1.5 4 3 1 5.5 5-4 3.5 9-2 5 1 10 2.5 0.5 5-4 5-1.5 5-9 1.5-1-3-5.5-8.5-2.5-2-2.5-1-5 2-5 3.5-5-3.5-5.5 0.5-5-1-5 1.5-5 5-1 5 2.5 5-3 1 1.5-1 5-5 5 0.5 5 2.5 5.5-0.5 5 2 5 0.5 1 7-1 3-2.5 0.5 2.5 4.5 7 5 4 3.5-6 4-5 3-2 5 4 5-1.5 2.5 4.5 0.5 5-6 20.5 3 4.5 5 1.5 3.5 4.5 1.5 3 3-3 1-5.5 1-0.5 6.5 6-3 5 1.5 1 5 0.5 5 4.5 5 0 5 4 18 0 0-5-2.5-1.5-5.5-1-5-3.5-5-5.5-1 1.5-4 2.5-5-0.5-3-2-2-5.5-15-6-3-4-2.5-10 0.5-1.5 6.5-4-6.5-2-0.5-3 0.5-2 5-4 7 6-1 5 4 8 3 2.5-1 5 3 3.5 5-1 5-3 5 0 0 6 5-2.5 5-1 0.5 3-0.5 2.5-5 0-3 2.5 7 5.5 1 2 5.5-1 5 7 5 0 5 3 5-1.5 5 5.5 7 0-2-1.5-5-2.5-5-4-4.5-2-0.5-1.5-2.5 1.5-3.5 0-1-5-2.5-5.5 5.5-5 4-2 9.5 2 5.5 4 1 1-1.5 5.5 5.5 6 5 3.5 10 2.5 5 3 1.5-5 3.5-1.5 2.5 1.5-1.5 5 9.5 0 0-35-4-0.5 4-0.5 0-9.5-1-5.5-4.5-3.5-5 5-1-1.5 1-5-5-3-5-1.5-5 1.5-3 3-1 5-6 4-4.5 11.5-5.5 5-5-0.5-5 1-1-0.5-3-5 0-5-1-2-5 2 2.5 5-2.5 1.5-3-1.5 2.5-5 1-5.5-0.5-1-15.5 2-1.5-1-3-5-0.5-9 1 4 9 5 0 4 1-4 3.5-5-4.5-2.5-0.5-2.5 1.5-5-6-4-5-7.5-5 4-2-3 3-5 9-2 5 1 5.5-3.5 5-2 5-3 5-2 5-0.5 10 3 5 5 5 1 9.5 3 1 5-0.5 2.5-5 2.5 3.5 5.5 1.5 4.5 3-10 2 0 5-5.5 5 3.5 5.5-1 0-5.5-1.5-1.5 1.5-0.5 0-3-5.5 2-5-0.5-5-4.5-3-3.5-2-1.5-2.5 1.5-2.5 2-4-2-3-5.5-3-0.5-10 0-5 2-10 1-10 4.5-5.5 3.5-5-1-15 4.5-10 11.5 5 4.5 5 2.5 5 5 2 3.5-2.5 5 2.5 5 0.5 5.5-2.5 1.5-5.5-1.5-2.5-10.5 4.5-5-6-5-0.5-2.5-6 2.5 3.5 5-2.5 3-5-2-8.5-11-6.5-5-5-5-5-3.5-2-2-3.5-1.5-2.5-3.5-7.5-5.5-10-0.5-1-4.5-4-3.5-10-0.5-0.5-1-4.5-2-5 3-5-3.5-5 2.5-5-2-5.5 1-5-2.5-5 1-5 3-5-0.5-5 5.5-1-0.5-4-3.5-5-0.5-5-3.5-5-1-4-1.5-1-6.5-5 4-3-2.5-12.5-3.5-4 8.5-1 0.5-5-1.5-1 1 3.5 5-7.5 8-5-1.5-5 6-5 0-5 2.5-5-1.5-5 7-5 4-5-0.5-5 0.5-6.5-4-3-5-1-5-5-6.5-5 2-8-11-6.5-5-5-5 0-5.5-0.5-1-5-1.5-3.5-2.5 0.5-5-2-5 3.5-5 1.5-4.5 5-2.5 1 2 4 2 3-2 2-5.5-10-2-5 1.5-1.5-9.5 1.5-1 5 5 5-2 2.5-2-0.5-5 1.5-5-3.5-3-1.5-2.5 4-5-7 0 0.5 5-1 4.5-3 1-0.5 5-6.5 4-5 0 0 1 5 1.5 1 3.5-1 3-4.5 2 4.5 10.5-5 3.5-4 1.5 0 5-1 1-2.5 9 2.5 2.5 3-2.5 2-5 1 5 4 5 5 3 2.5 2.5 2.5 1.5 2.5 3.5 7 5 0.5 1.5 5 1.5 1.5 2-1.5 5.5 5-1.5 2.5 1.5-1.5 5 9 5 5 4.5 5.5 3 10 1.5 10-9.5 5-1.5 5 0 5-3.5 5-5 1 0.5 3 5 1 0.5 1.5-5.5 3.5-4 5-2 5-1.5 3-3 2.5-9.5 10 7 15.5 2.5-5.5 4.5-5-0.5-5 1 10 7.5 1 3-5.5 5 5.5 5 4.5 10.5-2 5 1.5 5 4 5-5 5 0.5 5.5 3 5-7.5 7.5-5 0.5-5-1.5-5 8.5-5 5.5-3-5.5-0.5-10-2-3-3.5 3-1.5 3-5-2-5 3-5-1-1 2-14 14.5-4.5-4 1.5-5.5-1-5 1-5-2-2.5-10 9.5-5 0.5-5-2.5-5.5 10.5-3.5 5 1.5 5zM351 694.5l2-3 2 3-2 2.5zM669 694.5l-9-1.5-5-2-1.5-1.5 2-5.5-1-5 0.5-2 1.5-3 3.5-1 3.5-4-0.5-5 2-5 2.5 5 2.5 2.5 5 1 9 6.5 6.5 10-0.5 5.5-5 5.5-10 0.5-5-0.5zM362 689.5l1-2.5 0.5 2.5-0.5 0.5zM567 679l2.5-2.5 2 2.5-2 3.5zM589 674l0.5-1 1 1-1 0.5zM615.5 674l-1-0.5-1.5-4.5 1.5-4 3.5 4 2 3 1 2-1 1.5zM457 669l0-5 1.5-5.5-9-5 4.5-5 2.5-5 5-5-4.5-5.5-1-5-4-10 2-5 9.5-5 5-3.5 5-1.5 5-0.5 5 2 5.5-0.5 5 1 5-2.5 5 3 5-3.5 1 0.5 1 5-3.5 5.5-2.5 10 1 5-1 5-2 5.5 1 5-4.5 5-5.5 3-5-3.5-5.5-1.5-5-3-5 1.5-4.5 3.5-1.5 10-1.5 5.5-7.5 6zM512.5 669l1.5-1 0.5 1-0.5 0.5zM609.5 669l-3-5 3-1.5 2 1.5-2 6zM506.5 664l2.5-2.5 1.5 2.5-1.5 2.5zM513.5 664l0.5-1.5 2.5 1.5-2.5 0.5zM503.5 658.5l0.5-1 0.5 1-0.5 1zM668.5 658.5l-0.5-5 2-2 5-0.5 1 2.5-6 7.5zM679.5 658.5l4.5 0-4 1zM538 648.5l1-1.5 1.5 1.5-1.5 1.5zM543.5 648.5l0.5-1 1.5 1-1.5 1zM526 643.5l3-2 1.5 2-1.5 1zM562 643.5l-0.5-5 3-1 2 1 3 3 0.5 2-0.5 1.5-5 0zM608.5 643.5l1-1.5 1 1.5-1 1.5zM446.5 638.5l2-4 2.5 4-2.5 4.5zM540 638.5l-1-1-1.5-4.5 1.5-5 7 5-2 6.5zM552.5 638.5l1-5.5 1-0.5 5 0.5 0 1.5-5 6zM601 638.5l3.5-2 1.5 2-1.5 1zM524.5 633l5-10-0.5-5 5 1.5 4 3.5-4 7.5-5 5.5zM445 628l3.5-3.5 4 3.5-4 4zM544 628l-2-5 2-1 1 6-1 0.5zM674.5 628l0.5-3.5 1 3.5-1 1zM685 628l0-1.5 1 1.5-1 0.5zM447 613l1.5-3 1.5 3-1.5 0zM512.5 613l6.5-4.5 5-1-2 5.5-3 2-5-1.5zM534 694.5l5 1.5 5-0.5 5-4.5 1-1.5-1-5.5 1.5-5-1.5-3-2 3-3 1-1.5-1 0.5-5-4-2.5-5 6-2 1.5 3.5 10.5-1.5 5zM542.5 689.5l-1-5.5 2.5-1.5 2 1.5-0.5 5.5-1.5 1zM564.5 690.5l1-1-1-4.5-1.5 4.5zM554.5 686.5l2.5-2.5-2.5-2-4.5 2zM181.5 680l0.5-1-0.5-0.5-2 0.5zM237 670.5l1.5-1.5-1.5-1-2 1zM247 671l1-2-1-1-2 1zM418.5 669l4.5 0-4.5-0.5-1 0.5zM161.5 665.5l1.5-1.5-1.5-2-2.5 2zM227 664.5l5 3 2.5-3.5-2.5-5-6 5zM383 661l5-2.5 1-5-1-3-1 3-5.5 5zM630 655.5l0.5-2-0.5-1.5-2.5 1.5zM91 646l5-1.5 5 1.5 3-2.5 0-5 2-0.5 0.5 0.5 2.5 5 2 1 2-1 2-5-1.5-5.5-6.5-5-2.5-5-0.5-5-3-1-5-4.5-8.5 5.5 3.5 4 5.5 1-0.5 3.5-5-2.5-1.5 4 1.5 5 5-4 5 1.5 1 2.5-1.5 5.5-4.5 4-5 0-1.5 1zM94 618l2-1 1 1-1 0.5zM378 648l10-2.5 0.5-2 5.5-5-6-3-5 1.5-5 0-1.5 6.5zM381 643.5l2-2 1.5 2-1.5 1zM635 644l0.5-0.5-0.5-1-1 1zM156.5 639l9-0.5-4-1.5-5 0.5-1 1zM196.5 635l1-2-1-1-0.5 1zM131 630.5l2-2.5-2-1-1.5 1zM111 623.5l0.5-0.5-0.5-0.5-1.5 0.5zM499 613.5l1.5-0.5-1.5-2.5-1 2.5zM171.5 609l0.5-1.5-0.5-0.5-1 0.5zM136 604l1-1.5-1-1-0.5 1zM91 595l5 0 2-2.5-7-8-5-1.5-1.5 4.5 3.5 5zM297.5 593.5l1-1-1-3.5-1.5 3.5zM106 588l1-0.5-1-1-1.5 1zM201.5 588l1.5-0.5-1.5-1-1 1zM70.5 583.5l5-3.5 5 3.5 4-1.5 0-5 1.5-2 6-3-1-1-1.5-4 1.5-6 5 3.5 7-2.5 8-0.5 6.5-4.5 3.5-2 3 2 2 2 0.5-2-2-5.5 1.5-1.5 5 0 5 3.5 5 6.5 4.5 2 0.5 5 5.5-2.5 5-1.5 5-2 5 0 5 3 5 4.5 4.5-1.5-3.5-5 2-5-2-5.5 4-1.5 5 2 5-3.5 5 1 5 3 7 9.5-5.5 10 4 5 2 5 2.5 1.5 3-1.5 7.5-5.5 5-2.5 1.5-2-1.5-1.5-5 0-4-3.5 4-4.5 5 1 5-1 5 0.5 2.5-1-2.5-2-5 1.5-2-4.5-7.5-5.5 2-5-6.5-5 2-5 2-0.5 2-4.5-3-5.5 2-5-5 0-1 5 0.5 5.5-6-0.5 0 0.5 1 5-0.5 5-5.5 6.5-5-3-2 1.5-3 0.5-1.5-0.5-3.5-5-5 3-5-6-5 1.5-2.5 1.5-3 5-4.5 5-10 7-5-6-5.5 1.5-3-2.5-3-5 1-2 5 3.5 1-1.5-1-3.5-1-1.5-4-1-5 1-5 2.5-5-2-1-0.5-1.5-5-2.5-2-5-1.5-5 0-5-4.5-4.5-2.5 2.5-5-11 0 3 2.5 1 2.5-1 2-5-0.5-5 4-5.5-1-3 6 1 5 2.5 5-4 5 2.5 5.5-4 3-5 0-5-2.5 0 4 1.5 0.5-1.5 2 0 5.5 5-2 4 4.5-1 5-3 2-5-1 0 3 4 1zM79.5 577l1-0.5 0.5 0.5-0.5 1zM206.5 572l5-3.5 5 2 2 1.5-2 3.5-10-3zM103 557l0.5-5.5-2.5-3-5 1.5-5 3.5-6-7-1-5 2-3 0.5 3 4.5 2.5 5-3.5 5 5 5 0 5 5 2 1-3.5 5.5-3.5 2zM147 557l4.5-1 0.5 1-0.5 1zM171 557l0.5-1 0.5 1-0.5 1zM215.5 557l1-2.5 4 2.5-4 1zM109.5 546.5l1.5-1.5 2.5 1.5-2.5 1.5zM110 541.5l1-1 0.5 1-0.5 0.5zM80.5 536.5l0-1 2.5 1-2.5 1zM87 536.5l4-4 1.5 4-1.5 1.5zM99.5 536.5l1.5-5 5 2 3.5 3-3.5 4.5-5-4zM126 578l1-1-1-1-1 1zM116 574l3.5-2-3.5-1.5-2.5 1.5zM131 574l3.5-2-3.5-1.5-2.5 1.5zM166.5 568l1.5-1-1.5-3-3 3zM242 558l2-1-2-7-5-1-1.5 2.5 1.5 2 4 3.5zM287.5 554l2-2.5-2-4-2 4zM232 547l1.5-0.5-1.5-1-1.5 1zM252 547l0.5-5.5-0.5-0.5-1 5.5zM690.5 546.5l0-11-1.5 1 0 5 1 5zM151.5 542.5l0.5-1-0.5-2.5-4 2.5zM277 544l5 2.5 3.5-10 5-5-3-5.5 0-4.5-5.5 1.5-0.5-2-3.5 0 3 10.5-4 3-5-5-1.5-3.5 0-5-26.5 0 2.5 5 0.5 3.5 2-3.5 3-0.5 2.5 0.5 2.5 2 4.5 8.5 0.5 2 10 1 1.5 2zM264 531.5l3-2 4 2-4 2.5zM283.5 531.5l4-1.5 0.5 1.5-0.5 0.5zM368 541.5l1 0-1-3-0.5 3zM620 542l0.5-0.5-0.5-3.5-0.5 3.5zM630 542l5 2.5 7-3-2-1.5-5-1.5-5.5 3zM604.5 538l3.5-1.5 0-5 1.5-1.5 4 1.5 1 1 5.5 0 0-1-5.5-1-1-4.5-4-3.5-5-0.5-0.5-1-4 0-0.5 1-1-1-13 0 0 5-1 1.5-5-3.5-3 2-7 2.5-5-5-2 2.5-3 1.5-5-3-9-3.5-3.5 0 1 5 6 2.5 1.5 3 4 1 5-2.5 10 3 5-3.5 2.5 2 2.5 3.5 6.5-3.5 3.5-4.5 5 6.5 5 1 2.5 2zM603.5 526l1-0.5 2 0.5-2 1.5zM680 538.5l3-2-3-1.5-1.5 1.5zM297.5 536l5-4.5 2.5 0-2.5-0.5-5-5-2 5.5zM368 535.5l1.5-4-1.5-1.5-3.5 1.5zM433.5 534.5l4-3-4-2.5-2 2.5zM443.5 532l0-1-2.5 0.5zM635 535l5-1.5 4-2 1-3 5-1 1-1.5-1-0.5-5-2.5-7.5-2-5 0-2.5 1-3 4 3 5.5zM633 531.5l2-2 2.5 2-2.5 1zM634.5 526l0.5-2 0.5 2-0.5 0.5zM388 530l10-2.5 5 3 5-2 1.5-2.5 3.5-3 5.5 5.5 4.5-2.5 4-5-7.5 0-1 1-1-1-12 0 0.5 5-3 2-5-3-10-3 0-1-4 0 0 5zM675 527l1-1-1-1.5-1 1.5zM111 522l0.5-1-2 0zM620 524l0.5-3-2 0zM665 523l2-2-2.5 0z" fill="#feed00" stroke="#feed00" stroke-width="0.6"/>
<path d="M181.5 704.5l2 0-2-1.5-3 1.5zM342.5 704l17 0.5 3.5-5.5 5 2.5 4 3 3.5 0 2.5-2 2.5-3-2.5-4.5-5 2-5-1.5-5-0.5-7 4.5-3 1.5-5.5 0-2-1.5-1.5-5 3.5-5 5.5-10.5 5 2.5 5-0.5 10-9.5 2 2.5-1 5 1 5-1.5 5.5 4.5 4 14-14.5 1-2 5 1 5-3 5 2 1.5-3 3.5-3 2 3 0.5 10 3 5.5 5-5.5 5-8.5 5 1.5 5-0.5 2.5-2.5 5-5-3-5-0.5-5.5 5-5-4-5-1.5-5 2-5-4.5-10.5-5.5-5 5.5-5-1-3-10-7.5 5-1 5 0.5 5.5-4.5-15.5-2.5-10-7-2.5 9.5-3 3-5 1.5-5 2-3.5 4-1.5 5.5-1-0.5-3-5-1-0.5-5 5-5 3.5-5 0-5 1.5-10 9.5-10-1.5-5.5-3-5-4.5-9-5 1.5-5-2.5-1.5-5 1.5 1.5-5.5-1.5-2-5-1.5-0.5-1.5-7-5-2.5-3.5-2.5-1.5-2.5-2.5-5-3-4-5-1-5-2 5-3 2.5-2.5-2.5 2.5-9 1-1 0-5 4-1.5 5-3.5-4.5-10.5 4.5-2 1-3-1-3.5-5-1.5 0-1 5 0 6.5-4 0.5-5 3-1 1-4.5-0.5-5-4 0-1.5 2-5 1.5-4.5-3.5-16.5 0 0.5 2 5.5-1.5 0 4.5 3 5.5-5 5-3.5 10-5-2.5-3.5-2.5-1.5-2-10-1-0.5-2-4.5-8.5-2.5-2-2.5-0.5-3 0.5-2 3.5-0.5-3.5-2.5-5-10.5 0-1.5 1-2-1-7 0-2 5 3 5.5-2 4.5-2 0.5-2 5 6.5 5-2 5 7.5 5.5 2 4.5 5-1.5 2.5 2-2.5 1-5-0.5-5 1-5-1-4 4.5 4 3.5 5 0 1.5 1.5-1.5 2-5 2.5-7.5 5.5-3 1.5-2.5-1.5-2-5-4-5 5.5-10-7-9.5-5-3-5-1-5 3.5-5-2-4 1.5 2 5.5-2 5 3.5 5-4.5 1.5-5-4.5-5-3-5 0-5 2-5 1.5-5.5 2.5-0.5-5-4.5-2-5-6.5-5-3.5-5 0-1.5 1.5 2 5.5-0.5 2-2-2-3-2-3.5 2-6.5 4.5-8 0.5-7 2.5-5-3.5-1.5 6 1.5 4 1 1-6 3-1.5 2 0 5-4 1.5-5-3.5-5 3.5-5-2.5 0 4 5 4.5 5 1 5-1.5 3 3.5 2.5 1 4 4-1.5 5 0.5 5-3 4.5-2 1-3.5 8.5-5-1-5-4-1 1.5 2.5 5 8.5 8 5.5-4 1 6 4 3.5 4 2-4 1-5 0-0.5-1-5-3-4.5 3 4.5 4 2.5 1 2 5-4.5 5 0 2 4 3-4 2-5-1.5-5 5-2 5-3 1.5 0 2 5-2.5 5-4 5 8.5 7.5-5.5 1.5-5 1.5-2 5 8 5 1 5 4.5 10 3 5-1.5 5 3.5 10-7 5 0.5 5-0.5 5.5 4 5 0 5 1 5-4.5 6.5 5 2 5 6.5 2 5-3 5 3.5 10-0.5 5-1.5 1.5-5.5 3.5-2.5 5-1.5 5.5 2 5-5.5 1.5 2.5-2.5 5 1 1.5 5 0 5 1 1.5-2.5 1-5 2.5-2.5 2 2.5 3 5 15 8.5 5 1.5 5-4.5 5-2.5 5 5.5 5.5-2.5 5 3 3.5-4-5-5 6.5-6.5 5-2.5 3 4-1 5-5.5 5 3.5 7 5-1 5-2 5 1.5 3.5 0 1.5-1.5 1 1.5 4 0.5 1.5-0.5 3.5-4.5 1 4.5-1.5 5 0.5 1 5-2 3 1 0 5zM376.5 699.5l1.5-1 0.5 1-0.5 1zM336.5 689.5l-0.5-5.5 1.5-2.5 2 2.5 1 5.5-3 1zM310 684l2.5-3 1.5 3-1.5 1zM179.5 679l2-0.5 0.5 0.5-0.5 1zM262.5 679l4.5-3 3 3-3 2zM340.5 679l-3-3-5 2.5-2-4.5 1.5-5 4-5-3.5-3.5-5 3-5-2.5-5-4.5-5 6.5-5-2-2.5 3-2.5 0.5-5-1.5-5 0-2 1-0.5 5-2.5 1-5.5-1-5 1.5-4.5 3.5-0.5 1-1-1-4-1.5-4-3.5-1-4-3 4-1 5-1 0.5-5-4-1.5-1.5 1.5-4.5 5.5-0.5-5.5-1-1.5-4.5-3.5-2-5 1.5-5 4.5-5-7.5-10 1.5-5.5 4.5-5-2.5-3 5.5 3 4.5 3 0.5-3 0.5-5 5.5-5-2-5 3-5-4.5-1.5-2.5-3.5-2-10 7-5-5-1 0-2.5-5-1.5-0.5-5.5-5 5.5-3 3.5 3 1.5 4 5 5 2.5-3.5-2-5.5-4-5-1-5-2.5-5 0-5 2-3.5 1.5 3.5 1 5 2.5 1.5 1-1.5 2-5-2-5.5-11-10 5-3.5 5-1 0.5-0.5-0.5-2-4.5-3 3.5-5.5-4-3-4-2-1-2-4 2 4 5 0 1-5-0.5-5.5 10 10 5-9.5 9-5-1.5-5.5 2.5-2 5.5 2 8 5.5-3 3.5 5-7.5 5-6.5 8.5-5-1-5 3.5-4 4.5-1 2-2.5-2-2.5-0.5-1.5 0.5-3.5 3.5-8.5-8.5-3-5.5-3.5-2.5-3.5 2.5 0 5.5-1.5 1-3-6.5-4.5-5 7.5-3 5 0 5-0.5 15-5.5 5 2 3.5-3 1.5-4 5-1-2-5.5 3.5-5-0.5-5 1-5-1-5 4-5.5 0-5 8.5-10 2-5-5.5 0.5-5-10-1-1 0-5-3-5 4-0.5 5 4.5 5.5-3 2 4 3 3 1.5-3 3.5-2.5 5 2.5 5-3.5 4.5 3.5-6 5 1.5 2.5 5 0 5 1 5 7 2.5 5 2.5 2 2-2 3-4.5 5 2 3.5 2.5 1.5 4.5 5-1.5 5 4.5 3.5-7.5 2-1 5 9.5 5 0.5 5-2 0.5-2 8-5 1.5-4.5 5 3.5 5 6-2.5 5 2.5 3.5 5 0 1-3.5 4-4.5 5 0 2.5 4.5-3 5 5.5 7.5 2-2 3-7 5.5 2 5-4 5-1 5 0.5 0.5-1-0.5-1-5-2.5-0.5-1.5 5.5-5.5 1.5 5.5 3.5 3 5-1.5 5 3.5-2.5 10.5 2.5 11 5 1.5 4-2.5-1.5-5 2.5-1.5 5 5 5 2.5 5 5.5 17.5 9 0.5 5 2.5 2 5-0.5 4.5-1.5 0.5-1-1 6 2.5 5 3.5 2.5 3 8 3 5 6.5 5-2.5 5-5-1.5-3.5-3.5 0-5-1.5-0.5-4-4.5-1-3-2 8-3 3-5-3.5-5-0.5-5 4.5-4.5 1.5-2.5 5-3.5 2zM419.5 679l-1-1-1.5-4 1.5-2 2.5 2 2.5 3 1 2-1 2zM291.5 674l1-2.5 0.5 2.5-0.5 1zM433 674l-4.5-2.5-5-6.5-2.5-1-1-5.5 3.5-3 5-1 5-3.5 2.5-2.5 2.5-3.5 1.5 3.5-4 5 3 5 1 5.5-1.5 5-5 5.5zM137.5 669l3.5-1.5 5-4.5 5.5 5.5 5-2 5 2 3.5 0.5-8.5 1.5-5-1.5-5.5 1.5-5-1zM235 669l2-1 1.5 1-1.5 1.5zM245 669l2-1 1 1-1 2zM312.5 669l5-2.5 5 1 2.5 1.5-2.5 1.5-10-1.5zM395 669l-7.5-5 5-5.5-0.5-5 2-5-1.5-5 0.5-1 5 2 1-1-1.5-5-4.5-4-2.5-1.5-4.5-5 2.5-5 4.5-2.5 5 0.5 4-3 1-5 5-0.5 5 1.5 5.5-3 5-5 0.5 1.5-1 10.5 5 5 5.5 7.5 5 1.5 0.5 1-0.5 2-2.5 3.5-1 5-1.5 0.5-2.5-0.5-2.5-2-2.5 7-2.5 2-2-2-3-8-4 13 1.5 5-1 5.5-7 5.5-5 2-5 0zM417.5 669l1-0.5 4.5 0.5-4.5 0zM159 664l2.5-2 1.5 2-1.5 1.5zM226 664l6-5 2.5 5-2.5 3.5-5-3zM245.5 664l1.5-1 4 1-4 0.5zM150 658.5l1.5-0.5 0.5 0.5-0.5 2zM381.5 658.5l5.5-5 1-3 1 3-1 5-5 2.5zM161 648.5l-4-5 4.5-1.5 2 1.5-2 5.5zM89.5 643.5l1.5-1 5 0 4.5-4 1.5-5.5-1-2.5-5-1.5-5 4-1.5-5 1.5-4 5 2.5 0.5-3.5-5.5-1-3.5-4 8.5-5.5 5 4.5 3 1 0.5 5 2.5 5 6.5 5 1.5 5.5-2 5-2 1-2-1-2.5-5-0.5-0.5-2 0.5 0 5-3 2.5-5-1.5-5 1.5zM376.5 643.5l1.5-6.5 5 0 5-1.5 6 3-5.5 5-0.5 2-10 2.5zM119 638.5l2-3 2 3-2 3zM155.5 638.5l1-1 5-0.5 4 1.5-9 0.5zM129.5 628l1.5-1 2 1-2 2.5zM109.5 623l1.5-0.5 0.5 0.5-0.5 0.5zM130 623l1-0.5 3 0.5-3 0.5zM109 618l-3-4-11.5-6.5 6.5-2 2.5-3 1.5-10 2.5 0 3 5 1 0 2.5-5-1.5-5 3.5-4 5-2 2 6-6.5 5 4.5 4 5 0 3 1-3 1-13 9 3 1.5 3.5 4-0.5 5-3 4.5-5-2.5zM124 618l2-1.5 1 1.5-1 2zM123.5 607.5l2.5-2 4 2-4 2.5zM170.5 607.5l1-0.5 0.5 0.5-0.5 1.5zM135.5 602.5l0.5-1 1 1-1 1.5zM281.5 597.5l-9.5-6-5 5-6.5-4-5-5 1.5-1.5 2-4-4.5-5 1.5-5 3-5 1-5-3-4.5-1.5-0.5 2-5.5-1.5-5 1-1.5 5-0.5 3 2 1 5 1 2 5-1.5 6 5 8 5 2.5 5-4 5 3 2 1.5 3-1.5 3-3.5-3-2-2.5-1.5 2.5 1.5 3.5 4.5 7-2 5-1 5-1.5 1.5zM88 592.5l-3.5-5 1.5-4.5 5 1.5 7 8-2 2.5-5 0zM296 592.5l1.5-3.5 1 3.5-1 1zM104.5 587.5l1.5-1 1 1-1 0.5zM130 587.5l1-1.5 1 1.5-1 2zM200.5 587.5l1-1 1.5 1-1.5 0.5zM208.5 587.5l3-1.5 7 1.5-2 2.5-5 0zM235 587.5l2-2.5 1.5 2.5-1.5 1.5zM102.5 582l3.5-5-3-5 3-1.5 1.5 1.5-1.5 5 2 5-2 1.5zM244.5 582l-2.5-2-4.5-3 1-5-1.5-0.5-4-4.5 4-1.5 5-0.5 1.5 2 0 5 6.5 5 3.5 5-1.5 2.5-5 2.5zM125 577l1-1 1 1-1 1zM113.5 572l2.5-1.5 3.5 1.5-3.5 2zM128.5 572l2.5-1.5 3.5 1.5-3.5 2zM184 572l3.5-5-2.5-10 6.5-3.5 5-1.5 5 3.5 1 1.5 1.5 5-5 10-2.5 2-5 0-5 1zM131 567l-1.5-5 1.5-5 1.5 0 2 5-2 5-1.5 0zM163.5 567l3-3 1.5 3-1.5 1zM241 557l-4-3.5-1.5-2 1.5-2.5 5 1 2 7-2 1zM291.5 557l1-3.5 5 2.5 0.5 1-0.5 1-5-1zM225.5 551.5l1.5-2.5 5 1 1.5 1.5-1.5 3.5-5-2.5zM280 551.5l2-1.5 1.5 1.5-1.5 2zM285.5 551.5l2-4 2 4-2 2.5zM230.5 546.5l1.5-1 1.5 1-1.5 0.5zM251 546.5l1-5.5 0.5 0.5-0.5 5.5zM292 546.5l0.5-0.5 0 0.5 0 4zM231 541.5l6-2.5 3 2.5-3 2.5-5-2.5zM241 536.5l1-0.5 1 0.5-1 1zM253 536.5l4-3.5 2.5 3.5-2.5 4zM227 531.5l6 0-1 0.5-5-0.5zM295.5 531.5l2-5.5 5 5 2.5 0.5-2.5 0-5 4.5zM235 526l2-3 5 3-5 4zM625 704.5l4 0 1-1.5 2.5 1.5 13 0-5.5-5.5-5 1.5-5-3-5 0-5-7-5.5 1-1-2-7-5.5 3-2.5 5 0 0.5-2.5-0.5-3-5 1-5 2.5 0-6-5 0-5 3-5 1-3-3.5 1-5-3-2.5-4-8 1-5-7-6-5 4-0.5 2 0.5 3 6.5 2-6.5 4-0.5 1.5 2.5 10 3 4 15 6 2 5.5 3 2 5 0.5 4-2.5 1-1.5 5 5.5 5 3.5 5.5 1 2.5 1.5 0 5zM576.5 664l3-1.5 1 1.5-1 1.5zM573 653.5l1.5-1.5 2 1.5-2 1.5zM181.5 696l2.5-1.5-2.5-1-1.5 1zM353 697l2-2.5-2-3-2 3zM670 695l5 0.5 10-0.5 5-5.5 0.5-5.5-6.5-10-9-6.5-5-1-2.5-2.5-2.5-5-2 5 0.5 5-3.5 4-3.5 1-1.5 3-0.5 2 1 5-2 5.5 1.5 1.5 5 2 9 1.5zM659.5 689.5l-0.5-5.5 6-9.5 5-1 5 5 5-1.5 2 2-2 3.5-0.5 1.5-6 5.5-3.5 1.5-5-1.5-5 0zM544 690.5l1.5-1 0.5-5.5-2-1.5-2.5 1.5 1 5.5zM620 675.5l1-1.5-1-2-2-3-3.5-4-1.5 4 1.5 4.5 1 0.5zM635 674.5l5-1 5 0.5 5.5-5 4.5-11.5 6-4 1-5 3-3 5-1.5 5 1.5 5 3-1 5 1 1.5 5-5 4.5 3.5 1 5.5 0-9-5.5-5-5 0-2-1.5 7-9.5 5.5-1.5 0-2.5-5.5 1-5-3.5-5 5.5-2 0-3 10-1.5-4.5-3.5-5.5 5-2.5 0.5-2.5-1-5-9.5-3-5-1-5-5-10-3-5 0.5-5 2-5 3-5 2-5.5 3.5-5-1-9 2-3 5 2 3 5-4 5 7.5 6 4-1.5 5 0.5 2.5 4.5 2.5-3.5 5-1 4 0-4-9-5-1-4 0.5 9 3 5 1.5 1 15.5-2 0.5 1-1 5.5-2.5 5 3 1.5 2.5-1.5-2.5-5 5-2 1 2 0 5 3 5zM634.5 664l-1.5-10.5 1.5-5 0.5 0 1 0 4 6 1-1-1.5-10-4.5-5.5-5 4-1.5-9-8-5-2-5 1.5-1 5 2 2-6 3-2.5 5-1.5 5-1 2.5 5 2.5 1.5 5 0 5.5 3.5-4 5 3.5 1.5 5 1 1.5 2.5-0.5 5.5 1 5-6 5-6 11.5-5 1-5-0.5-4.5 3.5-0.5 2zM627.5 653.5l2.5-1.5 0.5 1.5-0.5 2zM634 643.5l1-1 0.5 1-0.5 0.5zM608.5 628l1-2 4 2-4 1.5zM663 628l2-1 1.5 1-1.5 1zM458.5 670l7.5-6 1.5-5.5 1.5-10 4.5-3.5 5-1.5 5 3 5.5 1.5 5 3.5 5.5-3 4.5-5-1-5 2-5.5 1-5-1-5 2.5-10 3.5-5.5-1-5-1-0.5-5 3.5-5-3-5 2.5-5-1-5.5 0.5-5-2-5 0.5-5 1.5-5 3.5-9.5 5-2 5 4 10 1 5 4.5 5.5-5 5-2.5 5-4.5 5 9 5-1.5 5.5 0 5zM453 653.5l5.5-1.5 5 0 1 1.5-1 3-5-2.5-5 0zM493.5 648.5l-4.5-4.5-5.5 0.5-5-4-15-6.5-1-1 1-5-5 0-2.5-5 2.5-5-0.5-5 5.5-2.5 5-4.5 5 0 9.5 1.5-1 5.5 1.5 4 2.5-4-1-5.5 9-0.5 1.5 0.5 0.5 5.5 3 3.5 5-1 0 2.5-4 15 0.5 5.5-1 5-5.5 5zM498 613l1-2.5 1.5 2.5-1.5 0.5zM502 607.5l2-0.5 2 0.5-2 4.5zM514 669.5l0.5-0.5-0.5-1-1.5 1zM690.5 669.5l0-1-4 0.5zM277 666.5l3-2.5-3-2.5-2.5 2.5zM509 666.5l1.5-2.5-1.5-2.5-2.5 2.5zM504 659.5l0.5-1-0.5-1-0.5 1zM222 651.5l5-4.5 5 4.5 5-0.5 2-2.5-7-4.5-2-5.5-3-4-6 4 1.5 5-3.5 5zM353 650l5-0.5 0-1-5-5.5-1 5.5zM539 650l1.5-1.5-1.5-1.5-1 1.5zM252 644.5l2-1-2-2-0.5 2zM262 644.5l5 0 5-3 5 5.5 3.5-3.5-3.5-7.5-2.5-3 4.5-5 8.5-5 5-4.5 4.5 9.5 1.5 0 3-5-3.5-5-5.5-2.5-5 0.5-10.5 6-6.5 6-0.5 5-3 6.5-5 1-2.5 3zM307.5 647l2-3.5-2-4-2-1 2-2 3.5-8.5-3.5-8-3.5 3-0.5 5 0.5 5-1.5 1.5-5 0-2 4 2 2.5 5 0 2 2.5zM408 646.5l3.5-3-3.5-2.5-1.5 2.5zM529 644.5l1.5-1-1.5-2-3 2zM564.5 645l5 0 0.5-1.5-0.5-2-3-3-2-1-3 1 0.5 5zM191.5 640l5 0.5 3-2 2-5.5-2-10-3-2-4 2 2 5-0.5 5-2.5 4-2.5 1.5zM196 633l0.5-1 1 1-1 2zM211.5 641l2.5-2.5-2.5-2.5-3.5 2.5zM554.5 640.5l5-6 0-1.5-5-0.5-1 0.5-1 5.5zM645 643l2-4.5-2-2-3.5 2zM186.5 635l0.5-2 0-5-1 0-1.5 5zM242 633.5l5 3.5 2.5-4-2.5-1.5-5 0.5-0.5 1zM257 636.5l5 0 3.5-3.5-3.5-2.5-5 0-3 2.5zM428.5 636.5l3-3.5-3-2-1.5 2zM529 636l5-5.5 4-7.5-4-3.5-5-1.5 0.5 5-5 10zM423.5 630l3-2-3-2.5-4.5 2.5zM544 628.5l1-0.5-1-6-2 1 2 5zM267 624l1.5-1-1.5-1-0.5 1zM483.5 623.5l0-3-1.5 2.5zM690.5 624.5l0-2-1.5 0.5zM206.5 619.5l5-0.5 5 1 3.5-2-3.5-2.5-5-0.5-4-2 9-4.5 4.5-1-4.5-0.5-5-2.5-5 0.5-3.5 2.5 3.5 5.5-2 5zM272 619.5l2-1.5-2-1.5-1 1.5zM489 618.5l1-0.5-1-1.5-4 1.5zM75.5 615l3-2-3-1.5-1 1.5zM222 615l0.5-2-0.5-5-1.5 5zM232 614.5l1.5-1.5-1.5-1.5-1.5 1.5zM262 616.5l1.5-3.5-1.5-4.5-2.5 4.5zM448.5 613l1.5 0-1.5-3-1.5 3zM514 613.5l5 1.5 3-2 2-5.5-5 1-6.5 4.5zM252 608.5l2-1-2-1-2 1zM171.5 598.5l1.5-1-1.5-0.5-2 0.5zM176.5 591.5l3.5-4-3.5-4-4 4zM277 589l2-1.5-2-3.5-1.5 3.5zM272 583l2-1-2-6-1 6zM70.5 560l5 0 4-3-2.5-5.5 4-5-2.5-5-1-5 3-6 5.5 1 5-4 5 0.5 1-2-1-2.5-3-2.5-20.5 0-2 2.5-3.5-2.5-1.5 0 0 17.5 5 4 3 4-8 8 0 3zM73.5 531.5l2-2.5 1 2.5-1 2zM151.5 558l0.5-1-0.5-1-4.5 1zM171.5 558l0.5-1-0.5-1-0.5 1zM216.5 558l4-1-4-2.5-1 2.5zM111 548l2.5-1.5-2.5-1.5-1.5 1.5zM101 537l5 4 3.5-4.5-3.5-3-5-2-1.5 5zM635 532.5l2.5-1-2.5-2-2 2zM403 528l3-2-0.5-5-4 0-3.5 1.5-2.5-1.5-7.5 0 0 1 10 3 2.5 1zM559.5 527.5l3-1.5 2-2.5 5 5 7-2.5 3-2 5 3.5 1-1.5 0-5-24.5 0-1.5 2.5-6.5-2.5-7.5 0 9 3.5 2 1.5zM604.5 527.5l2-1.5-2-0.5-1 0.5z" fill="#ffbd00" stroke="#ffbd00" stroke-width="0.6"/>
<path d="M363 704.5l9 0-4-3-5-2.5-3.5 5.5zM378 700.5l0.5-1-0.5-1-1.5 1zM630 704.5l2.5 0-2.5-1.5-1 1.5zM337.5 690.5l3-1-1-5.5-2-2.5-1.5 2.5 0.5 5.5zM660 689.5l5 0 5 1.5 3.5-1.5 6-5.5 0.5-1.5 2-3.5-2-2-5 1.5-5-5-5 1-6 9.5 0.5 5.5zM663.5 684l1.5-5 8 5-3 3-5-1.5zM312.5 685l1.5-1-1.5-3-2.5 3zM267 681l3-2-3-3-4.5 3zM342.5 681l3.5-2 2.5-5 4.5-1.5 5-4.5 5 0.5 5 3.5 3-3 2-8 1 3 4 4.5 1.5 0.5 0 5 3.5 3.5 5 1.5 2.5-5-6.5-5-3-5-3-8-3.5-2.5-2.5-5 1-6-0.5 1-4.5 1.5-5 0.5-2.5-2-0.5-5-17.5-9-5-5.5-5-2.5-5-5-2.5 1.5 1.5 5-4 2.5-5-1.5-2.5-11 2.5-10.5-5-3.5-5 1.5-3.5-3-1.5-5.5-5.5 5.5 0.5 1.5 5 2.5 0.5 1-0.5 1-5-0.5-5 1-5 4-5.5-2-3 7-2 2-5.5-7.5 3-5-2.5-4.5-5 0-4 4.5-1 3.5-5 0-2.5-3.5 2.5-5-5-6-5-3.5-1.5 4.5-8 5-0.5 2-5 2-5-0.5-5-9.5-2 1-3.5 7.5-5-4.5-5 1.5-1.5-4.5-3.5-2.5-5-2-3 4.5-2 2-2.5-2-2.5-5-5-7-5-1-5 0-1.5-2.5 6-5-4.5-3.5-5 3.5-5-2.5-3.5 2.5-1.5 3-3-3-2-4-5.5 3-5-4.5-4 0.5 3 5 0 5 1 1 5 10 5.5-0.5-2 5-8.5 10 0 5-4 5.5 1 5-1 5 0.5 5-3.5 5 2 5.5-5 1-1.5 4-3.5 3-5-2-15 5.5-5 0.5-5 0-7.5 3 4.5 5 3 6.5 1.5-1 0-5.5 3.5-2.5 3.5 2.5 3 5.5 8.5 8.5 3.5-3.5 1.5-0.5 2.5 0.5 2.5 2 1-2 4-4.5 5-3.5 5 1 6.5-8.5 7.5-5-3.5-5-5.5 3-2-8 2-5.5 5.5-2.5 5 1.5 9.5-9-10-5 5.5-10 5 0.5 0-1-4-5 4-2 1 2 4 2 4 3-3.5 5.5 4.5 3 0.5 2-0.5 0.5-5 1-5 3.5 11 10 2 5.5-2 5-1 1.5-2.5-1.5-1-5-1.5-3.5-2 3.5 0 5 2.5 5 1 5 4 5 2 5.5-2.5 3.5-5-5-1.5-4-3.5-3-5.5 3 5.5 5 1.5 0.5 2.5 5 1 0 5 5 10-7 3.5 2 1.5 2.5 5 4.5 5-3 5 2 5-5.5 3-0.5-3-0.5-3-4.5 3-5.5 5 2.5 5.5-4.5 10-1.5 5 7.5 5-4.5 5-1.5 3.5 2 1.5 4.5 5.5 1-5.5 0.5-1.5 4.5 1.5 1.5 5 4 1-0.5 1-5 3-4 1 4 4 3.5 4 1.5 1 1 0.5-1 4.5-3.5 5-1.5 5.5 1 2.5-1 0.5-5 2-1 5 0 5 1.5 2.5-0.5 2.5-3 5 2 5-6.5 5 4.5 5 2.5 5-3 3.5 3.5-4 5-1.5 5 2 4.5 5-2.5 3 3zM345.5 669l0.5-5-3.5-2.5-2-3 2-3.5 5 0.5 1.5 3 4 4.5 2 1-1 5-1 1-5.5 1zM116.5 664l9.5-5.5-1 5.5-4 1.5zM274.5 664l2.5-2.5 3 2.5-3 2.5zM360 664l3-1 5-5 0.5 0.5 0 5.5-0.5 2-5-1.5zM263 658.5l4-2.5 5 1 2 1.5-2 2-5 1zM291.5 658.5l1-0.5 3.5 0.5-3.5 1zM297.5 658.5l5-7.5 5 2 4 0.5-4 0.5-2 4.5-3 3zM310.5 658.5l2-5 1.5 5-1.5 2zM357 658.5l1-0.5 0.5 0.5-0.5 2.5zM175.5 653.5l1-2 6-3 4-4 3.5 4 1.5 4 5 0 2.5 1-2.5 1.5-10-1.5-5 4.5-5-3zM242.5 653.5l4.5-3 3 3-3 1zM119.5 648.5l1.5-1 3 1-3 2zM207.5 648.5l4-2.5 4 2.5-4 2.5zM219 648.5l3.5-5-1.5-5 6-4 3 4 2 5.5 7 4.5-2 2.5-5 0.5-5-4.5-5 4.5zM260.5 648.5l6.5 0 0 0.5-5 0zM281.5 648.5l0.5-1 3.5 1-3.5 1zM310.5 648.5l2-3.5 5 2.5 0.5 1-0.5 2-5 3zM344.5 648.5l3-4.5 2 4.5-2 4zM352 648.5l1-5.5 5 5.5 0 1-5 0.5zM137.5 643.5l3.5-3.5 2 3.5-2 4zM238 643.5l2.5-5 1.5-1 5 3.5 2 2.5-2 3.5-5-1.5zM251.5 643.5l0.5-2 2 2-2 1zM259.5 643.5l2.5-3 5-1 3-6.5 0.5-5 6.5-6 10.5-6 5-0.5 5.5 2.5 3.5 5-3 5-1.5 0-4.5-9.5-5 4.5-8.5 5-4.5 5 2.5 3 3.5 7.5-3.5 3.5-5-5.5-5 3-5 0zM304.5 643.5l-2-2.5-5 0-2-2.5 2-4 5 0 1.5-1.5-0.5-5 0.5-5 3.5-3 3.5 8-3.5 8.5-2 2 2 1 2 4-2 3.5zM319 643.5l3.5-3 3 3-3 3zM332.5 643.5l5.5 0-0.5 0.5-5-0.5zM189 638.5l2.5-1.5 2.5-4 0.5-5-2-5 4-2 3 2 2 10-2 5.5-3 2-5-0.5zM208 638.5l3.5-2.5 2.5 2.5-2.5 2.5zM282 638.5l0-1 2 1-2 0.5zM290.5 638.5l2-1 0 1.5zM317 638.5l0.5-2 0.5 2-0.5 1zM184.5 633l1.5-5 1 0 0 5-0.5 2zM241.5 633l0.5-1 5-0.5 2.5 1.5-2.5 4-5-3.5zM254 633l3-2.5 5 0 3.5 2.5-3.5 3.5-5 0zM322.5 633l5-5 1 0 0 5-1 2zM220.5 628l1.5-2 5 0.5 1 1.5-1 1.5-5 0zM251.5 628l0.5-4.5 0 5zM178 623l3.5-3.5 5-3 1.5 1.5-1.5 5-5 3zM209 623l2.5-0.5 1 0.5-1 2zM260 623l2-2 1.5 2-1.5 3zM266.5 623l0.5-1 1.5 1-1.5 1zM146.5 618l-1.5-5 0.5-10.5 0.5-1 1.5 1 1.5 5-0.5 5.5 3 1 1 4-1 2zM204.5 618l2-5-3.5-5.5 3.5-2.5 5-0.5 5 2.5 4.5 0.5-4.5 1-9 4.5 4 2 5 0.5 3.5 2.5-3.5 2-5-1-5 0.5zM234.5 618l2.5-3 2 3-2 3.5zM271 618l1-1.5 2 1.5-2 1.5zM199.5 613l2-2.5 2 2.5-2 2.5zM220.5 613l1.5-5 0.5 5-0.5 2zM230.5 613l1.5-1.5 1.5 1.5-1.5 1.5zM250.5 613l1.5-0.5 1 0.5-1 3.5zM259.5 613l2.5-4.5 1.5 4.5-1.5 3.5zM296.5 613l1-2 2 2-2 1zM305.5 613l2-2 3 2-3 1zM188 607.5l-1.5-1-5-1.5-1.5-2.5 1.5-2.5 5-4.5 5 3.5 5-0.5 2 4-2 5-5 1.5zM250 607.5l2-1 2 1-2 1zM266 607.5l1-2.5 1 2.5-1 4.5zM310 607.5l2.5-2 1 2-1 3.5zM169.5 597.5l2-0.5 1.5 0.5-1.5 1zM154 592.5l2.5-3.5 3 3.5-3 2zM169.5 592.5l2-2 1.5 2-1.5 1zM199.5 592.5l2.5 0-0.5 1.5zM163 587.5l3.5-3.5 2 3.5-2 2.5zM172.5 587.5l4-4 3.5 4-3.5 4zM148.5 582l0.5-5 2.5-1 5 3.5 5-1.5 0 4-5 4-5-2.5zM423.5 681l1-2-1-2-2.5-3-2.5-2-1.5 2 1.5 4 1 1zM292.5 675l0.5-1-0.5-2.5-1 2.5zM433.5 674.5l5-5.5 1.5-5-1-5.5-3-5 4-5-1.5-3.5-2.5 3.5-2.5 2.5-5 3.5-5 1-3.5 3 1 5.5 2.5 1 5 6.5 4.5 2.5zM68.5 669l2-5 5-5 5 1.5 4-2-4-3 0-2 4.5-5-2-5-2.5-1-4.5-4 4.5-3 5 3 0.5 1 5 0 4-1-4-2-4-3.5-1-6-5.5 4-8.5-8-2.5-5 1-1.5 5 4 5 1 3.5-8.5 2-1 3-4.5-0.5-5 1.5-5-4-4-2.5-1-3-3.5-5 1.5-5-1-5-4.5 0 10.5 5 2 5-1.5 3.5 1.5-4 5 2.5 5-2 1.5-3.5-1.5-6.5-6.5 0 7 5 1 1 4-6 6.5 0 16.5 4.5-3 0.5-2 1 7.5-1 4.5-5-2.5 0 5.5 2 2.5-2 3 0 19zM69.5 653.5l6-2.5 2 2.5-2 2-5 0zM71 643.5l4.5-0.5 1 0.5-1 0.5zM74.5 613l1-1.5 3 1.5-3 2zM84.5 607.5l1.5-2.5 0.5 2.5-0.5 1zM82 597.5l4-1.5 1.5 1.5-1.5 4zM141 669.5l5 1 5.5-1.5 5 1.5 8.5-1.5-3.5-0.5-5-2-5 2-5.5-5.5-5 4.5-3.5 1.5zM312.5 669l10 1.5 2.5-1.5-2.5-1.5-5-1-5 2.5zM398 671.5l5 0 5-2 7-5.5 1-5.5-1.5-5 4-13 3 8 2 2 2.5-2 2.5-7 2.5 2 2.5 0.5 1.5-0.5 1-5 2.5-3.5 0.5-2-0.5-1-5-1.5-5.5-7.5-5-5 1-10.5-0.5-1.5-5 5-5.5 3-5-1.5-5 0.5-1 5-4 3-5-0.5-4.5 2.5-2.5 5 4.5 5 2.5 1.5 4.5 4 1.5 5-1 1-5-2-0.5 1 1.5 5-2 5 0.5 5-5 5.5 7.5 5zM402 664l-1.5-5.5 2.5-2 7.5 2-1.5 5.5-1 0.5-5 1zM406.5 643.5l1.5-2.5 3.5 2.5-3.5 3zM427 633l1.5-2 3 2-3 3.5zM391.5 628l1.5-1.5 2 1.5-2 2zM401 628l2-3 3 3-3 3zM419 628l4.5-2.5 3 2.5-3 2zM247 664.5l4-0.5-4-1-1.5 1zM579.5 665.5l1-1.5-1-1.5-3 1.5zM635 666l0.5-2 4.5-3.5 5 0.5 5-1 6-11.5 6-5-1-5 0.5-5.5-1.5-2.5-5-1-3.5-1.5 4-5-5.5-3.5-5 0-2.5-1.5-2.5-5-5 1-5 1.5-3 2.5-2 6-5-2-1.5 1 2 5 8 5 1.5 9 5-4 4.5 5.5 1.5 10-1 1-4-6-1 0-0.5 0-1.5 5 1.5 10.5zM643 648.5l2-2.5 3 2.5-3 2.5zM649.5 643.5l0.5-1 5 0 0 1-5 0.5zM641.5 638.5l3.5-2 2 2-2 4.5zM650 633l5-1.5 3 1.5-3 4zM629.5 628l-2-5 2.5-4.5 1-0.5 4-1 2 1 3 2.5 8.5 2.5-1.5 5-2 5-5-1.5-5-0.5-5-3zM151.5 660.5l0.5-2-0.5-0.5-1.5 0.5zM453.5 654l5 0 5 2.5 1-3-1-1.5-5 0-5.5 1.5zM574.5 655l2-1.5-2-1.5-1.5 1.5zM161.5 649l2-5.5-2-1.5-4.5 1.5 4 5zM494 648.5l5.5-5 1-5-0.5-5.5 4-15 0-2.5-5 1-3-3.5-0.5-5.5-1.5-0.5-9 0.5 1 5.5-2.5 4-1.5-4 1-5.5-9.5-1.5-5 0-5 4.5-5.5 2.5 0.5 5-2.5 5 2.5 5 5 0-1 5 1 1 15 6.5 5 4 5.5-0.5 4.5 4.5zM480 638.5l-1.5-1.5-10-4 0-5-5-2.5-5-1-0.5-1.5 0.5-1.5 6.5-3.5 3.5-4 1.5 4 3.5 5 1.5 5 3.5 1.5 5-2.5 5.5-5.5 5-2.5 5 2.5 0.5 1.5-0.5 1-5.5 4 3 5 0.5 5.5-3 3.5-5-2-5.5 1zM482 623l1.5-2.5 0 3zM485 618l4-1.5 1 1.5-1 0.5zM491 613l3-1.5 0.5 1.5-0.5 2.5zM690.5 650l0-17.5-5.5 1.5-7 9.5 2 1.5 5 0 3.5 3.5zM121 641.5l2-3-2-3-2 3zM609.5 629.5l4-1.5-4-2-1 2zM665 629l1.5-1-1.5-1-2 1zM131 623.5l3-0.5-3-0.5-1 0.5zM111 620l5 2.5 3-4.5 0.5-5-3.5-4-3-1.5 13-9 3-1-3-1-5 0-4.5-4 6.5-5-2-6-5 2-3.5 4 1.5 5-2.5 5-1 0-3-5-2.5 0-1.5 10-2.5 3-6.5 2 11.5 6.5 3 4zM126 620l1-2-1-1.5-2 1.5zM126 610l4-2.5-4-2-2.5 2zM504 612l2-4.5-2-0.5-2 0.5zM282 599l1.5-1.5 1-5 2-5-4.5-7-1.5-3.5 1.5-2.5 2 2.5 3.5 3 1.5-3-1.5-3-3-2 4-5-2.5-5-8-5-6-5-5 1.5-1-2-1-5-3-2-5 0.5-1 1.5 1.5 5-2 5.5 1.5 0.5 3 4.5-1 5-3 5-1.5 5 4.5 5-2 4-1.5 1.5 5 5 6.5 4 5-5 9.5 6zM275.5 587.5l1.5-3.5 2 3.5-2 1.5zM271 582l1-6 2 6-2 1zM264.5 577l2.5-3 1.5 3-1.5 2zM273 567l4-5 1.5 0 1.5 5-3 1.5zM131 589.5l1-2-1-1.5-1 1.5zM211.5 590l5 0 2-2.5-7-1.5-3 1.5zM237 589l1.5-1.5-1.5-2.5-2 2.5zM106 583.5l2-1.5-2-5 1.5-5-1.5-1.5-3 1.5 3 5-3.5 5zM247 587l5-2.5 1.5-2.5-3.5-5-6.5-5 0-5-1.5-2-5 0.5-4 1.5 4 4.5 1.5 0.5-1 5 4.5 3 2.5 2zM186.5 575l5-1 5 0 2.5-2 5-10-1.5-5-1-1.5-5-3.5-5 1.5-6.5 3.5 2.5 10-3.5 5zM190 562l1.5-3.5 2 3.5-2 2.5zM194 557l2.5-1.5 2 1.5-2 1zM131 567l1.5 0 2-5-2-5-1.5 0-1.5 5 1.5 5zM292.5 557l5 1 0.5-1-0.5-1-5-2.5-1 3.5zM69 551.5l1.5-2.5 3-2.5-3-4-5-4 0 16zM227 552.5l5 2.5 1.5-3.5-1.5-1.5-5-1-1.5 2.5zM282 553.5l1.5-2-1.5-1.5-2 1.5zM292.5 550.5l0-4 0-0.5-0.5 0.5zM232 541.5l5 2.5 3-2.5-3-2.5-6 2.5zM242 537.5l1-1-1-0.5-1 0.5zM257 540.5l2.5-4-2.5-3.5-4 3.5zM75.5 533.5l1-2-1-2.5-2 2.5zM227 531.5l5 0.5 1-0.5-6 0zM237 530l5-4-5-3-2 3zM70.5 523.5l2-2.5-5.5 0zM232 522l1.5-1-3.5 0zM302.5 524.5l5-1.5 1.5-2-6.5 0.5-4.5-0.5zM398 522.5l3.5-1.5-6 0zM554.5 521.5l5 2 1.5-2.5-8 0z" fill="#ff8900" stroke="#ff8900" stroke-width="0.6"/>
<path d="M665 685.5l5 1.5 3-3-8-5-1.5 5zM347.5 671l5.5-1 1-1 1-5-2-1-4-4.5-1.5-3-5-0.5-2 3.5 2 3 3.5 2.5-0.5 5zM121 665.5l4-1.5 1-5.5-9.5 5.5zM363 664.5l5 1.5 0.5-2 0-5.5-0.5-0.5-5 5-3 1zM403 665.5l5-1 1-0.5 1.5-5.5-7.5-2-2.5 2 1.5 5.5zM267 661.5l5-1 2-2-2-1.5-5-1-4 2.5zM292.5 659.5l3.5-1-3.5-0.5-1 0.5zM302.5 661.5l3-3 2-4.5 4-0.5-4-0.5-5-2-5 7.5zM301.5 658.5l1-1.5 0.5 1.5-0.5 1zM312.5 660.5l1.5-2-1.5-5-2 5zM358 661l0.5-2.5-0.5-0.5-1 0.5zM70.5 655.5l5 0 2-2-2-2.5-6 2.5zM176.5 655l5 3 5-4.5 10 1.5 2.5-1.5-2.5-1-5 0-1.5-4-3.5-4-4 4-6 3-1 2zM247 654.5l3-1-3-3-4.5 3zM67.5 648.5l-2-2.5 0 5.5zM121 650.5l3-2-3-1-1.5 1zM211.5 651l4-2.5-4-2.5-4 2.5zM262 649l5 0 0-0.5-6.5 0zM282 649.5l3.5-1-3.5-1-0.5 1zM312.5 653.5l5-3 0.5-2-0.5-1-5-2.5-2 3.5zM347.5 652.5l2-4-2-4.5-3 4.5zM645 651l3-2.5-3-2.5-2 2.5zM75.5 644l1-0.5-1-0.5-4.5 0.5zM141 647.5l2-4-2-3.5-3.5 3.5zM242 645.5l5 1.5 2-3.5-2-2.5-5-3.5-1.5 1-2.5 5zM322.5 646.5l3-3-3-3-3.5 3zM332.5 643.5l5 0.5 0.5-0.5-5.5 0zM650 644l5-0.5 0-1-5 0-0.5 1zM70.5 643l1-4.5-1-7.5-0.5 2-4.5 3 0 4.5zM282 639l2-0.5-2-1 0 1zM292.5 639l0-1.5-2 1zM317.5 639.5l0.5-1-0.5-2-0.5 2zM483.5 641l5.5-1 5 2 3-3.5-0.5-5.5-3-5 5.5-4 0.5-1-0.5-1.5-5-2.5-5 2.5-5.5 5.5-5 2.5-3.5-1.5-1.5-5-3.5-5-1.5-4-3.5 4-6.5 3.5-0.5 1.5 0.5 1.5 5 1 5 2.5 0 5 10 4 1.5 1.5zM478 633l5.5-1 10.5 1-10.5 3-5-2.5zM327.5 635l1-2 0-5-1 0-5 5zM655 637l3-4-3-1.5-5 1.5zM222 629.5l5 0 1-1.5-1-1.5-5-0.5-1.5 2zM252 628.5l0-5-0.5 4.5zM393 630l2-2-2-1.5-1.5 1.5zM403 631l3-3-3-3-2 3zM630 628l5 3 5 0.5 5 1.5 2-5 1.5-5-8.5-2.5-3-2.5-2-1-4 1-1 0.5-2.5 4.5 2 5zM181.5 626l5-3 1.5-5-1.5-1.5-5 3-3.5 3.5zM211.5 625l1-2-1-0.5-2.5 0.5zM262 626l1.5-3-1.5-2-2 2zM66.5 618l5-5-1-4-5-1 0 11.5zM151.5 620l1-2-1-4-3-1 0.5-5.5-1.5-5-1.5-1-0.5 1-0.5 10.5 1.5 5zM237 621.5l2-3.5-2-3-2.5 3zM201.5 615.5l2-2.5-2-2.5-2 2.5zM252 616.5l1-3.5-1-0.5-1.5 0.5zM297.5 614l2-1-2-2-1 2zM307.5 614l3-1-3-2-2 2zM494 615.5l0.5-2.5-0.5-1.5-3 1.5zM75.5 609l2-1.5-2.5-5 4-5-3.5-1.5-5 1.5-5-2 0 5.5 6.5 6.5zM86 608.5l0.5-1-0.5-2.5-1.5 2.5zM191.5 609l5-1.5 2-5-2-4-5 0.5-5-3.5-5 4.5-1.5 2.5 1.5 2.5 5 1.5 1.5 1zM267 612l1-4.5-1-2.5-1 2.5zM312.5 611l1-3.5-1-2-2.5 2zM86 601.5l1.5-4-1.5-1.5-4 1.5zM156.5 594.5l3-2-3-3.5-2.5 3.5zM171.5 593.5l1.5-1-1.5-2-2 2zM201.5 594l0.5-1.5-2.5 0zM166.5 590l2-2.5-2-3.5-3.5 3.5zM151.5 583.5l5 2.5 5-4 0-4-5 1.5-5-3.5-2.5 1-0.5 5zM267 579l1.5-2-1.5-3-2.5 3zM277 568.5l3-1.5-1.5-5-1.5 0-4 5zM191.5 564.5l2-2.5-2-3.5-1.5 3.5zM196.5 558l2-1-2-1.5-2.5 1.5z" fill="#ff5900" stroke="#ff5900" stroke-width="0.6"/>
<path d="M302.5 659.5l0.5-1-0.5-1.5-1 1.5zM478.5 633.5l5 2.5 10.5-3-10.5-1-5.5 1z" fill="#ff2500" stroke="#ff2500" stroke-width="0.6"/>
<path d="M70.6 643.9L75.1 639.4L79.6 643.9L75.1 648.4Z" fill="#ff2500"/>
<path d="M72.6 643.9L75.1 641.4L77.5 643.9L75.1 646.3Z" fill="#da0000"/>
<path d="M348.5 655.8L351.5 652.8L354.5 655.8L351.5 658.8Z" fill="#ff5900"/>
<path d="M349.9 655.8L351.5 654.2L353.2 655.8L351.5 657.5Z" fill="#ff2500"/>
<path d="M622.6 629.4L626.1 625.9L629.6 629.4L626.1 632.9Z" fill="#ff5900"/>
<path d="M624.1 629.4L626.1 627.5L628.0 629.4L626.1 631.3Z" fill="#ff2500"/>
<path d="M677.8 681.6L680.8 678.6L683.8 681.6L680.8 684.6Z" fill="#ff5900"/>
<path d="M679.2 681.6L680.8 680.0L682.5 681.6L680.8 683.3Z" fill="#ff2500"/>
<path d="M492.6 639.5L495.1 637.0L497.6 639.5L495.1 642.0Z" fill="#ff5900"/>
<path d="M493.7 639.5L495.1 638.1L496.4 639.5L495.1 640.8Z" fill="#ff2500"/>
<path d="M554.9 647.6L557.4 645.1L559.9 647.6L557.4 650.1Z" fill="#ff5900"/>
<path d="M556.0 647.6L557.4 646.3L558.8 647.6L557.4 649.0Z" fill="#ff2500"/>
</g></g>
<path d="M56.8 569.6L66.2 570.3L72.5 569.0L80.7 569.6L86.4 569.6L93.3 567.1L96.5 570.3L101.5 568.4L98.4 572.8L97.7 576.6L101.5 580.3L97.1 585.4L95.2 586.6L100.3 590.4L102.1 592.9L107.2 594.8L114.7 594.8L121.7 596.7L127.3 598.0L129.8 603.6L135.5 605.5L141.8 606.8L148.1 609.9L151.3 611.2L156.3 608.0L158.2 605.5L157.6 600.5L159.4 598.0L167.0 594.8L173.3 595.4L177.7 598.6L182.7 600.5L190.3 603.0L198.5 603.6L203.5 604.9L211.1 606.8L219.9 605.5L223.0 603.6L226.8 603.0L231.9 603.6L235.0 604.9L240.7 606.1L247.0 604.9L248.9 603.0L250.8 599.8L252.0 595.4L252.6 593.6L255.2 588.5L257.7 582.9L257.0 578.5L257.7 575.9L259.6 571.5L255.8 571.5L250.1 570.3L245.7 573.4L243.2 574.1L236.3 574.7L232.5 571.5L230.0 570.3L224.3 570.3L223.0 573.4L218.6 574.1L215.5 573.4L211.1 571.5L209.2 570.9L205.4 570.3L204.2 569.0L202.9 566.5L203.5 563.4L199.7 561.5L197.9 560.8L201.6 559.0L200.4 556.4L199.7 554.6L196.0 553.3L196.6 549.5L199.7 547.0L204.8 548.3L207.9 547.6L213.6 547.6L216.7 545.7L219.9 545.7L214.9 543.2L211.7 542.6L208.6 540.1L207.9 537.6L205.4 534.4L207.3 531.3L207.9 528.8L211.7 525.0L212.3 521.2L214.2 518.7L218.0 516.2M197.2 544.5L192.2 544.5L185.9 544.5L181.5 545.7L181.5 548.9L178.3 548.9L173.9 547.0L173.9 550.2L175.8 553.9L179.0 555.2L175.2 557.1L179.0 559.6L182.7 561.5L178.3 563.4L175.8 565.2L177.7 567.1L175.2 572.2L172.7 572.8L171.4 569.6L169.5 570.3L168.3 567.8L168.3 565.2L164.5 564.0L166.4 561.5L167.6 560.8L163.9 558.3L162.6 557.7L162.0 555.8L158.8 552.7L156.9 550.2L153.8 548.3L154.4 545.1L154.4 541.3L153.8 538.8L150.6 535.7L148.1 534.4L142.4 531.3L138.7 530.0L134.3 528.1L131.7 527.5L127.3 523.7L125.4 521.2L121.7 517.4L117.3 514.9M108.4 515.6L109.7 520.0L109.7 523.1L113.5 526.2L117.3 528.1L119.8 533.2L124.2 536.9L127.3 538.2L133.0 538.8L131.7 540.7L136.1 542.6L141.8 545.1L145.0 546.4L148.1 549.5L146.2 551.4L144.3 548.3L139.3 547.0L136.1 549.5L136.1 552.7L139.3 553.9L139.3 557.1L136.1 557.7L133.0 562.7L129.8 562.7L130.5 559.0L133.6 557.1L130.5 553.3L128.6 550.2L125.4 548.3L124.8 545.7L121.7 545.1L117.9 542.6L113.5 542.0L108.4 538.8L104.7 535.7L101.5 535.1L97.7 531.9L97.7 529.4L95.8 525.6L92.1 523.7L89.5 523.1L85.1 523.7L83.9 525.6L78.8 526.2L75.1 528.1L72.5 530.7L68.1 530.7L63.1 529.4L60.0 528.8M109.7 564.0L111.0 562.1L115.4 561.5L119.8 562.7L126.1 562.1L129.8 560.8L128.0 564.6L126.7 567.1L128.0 569.6L126.7 570.9L122.3 570.3L121.7 569.0L116.0 567.8L111.0 565.2L109.7 564.0M84.5 556.4L84.5 552.0L85.1 548.3L83.3 544.5L87.0 544.5L89.5 542.6L92.7 544.5L93.3 547.0L92.1 550.8L92.1 555.2L88.3 555.8L85.8 557.1L84.5 556.4M85.8 541.3L86.4 538.2L85.8 535.1L88.9 533.2L90.8 531.3L91.4 533.8L91.4 537.6L89.5 541.3L85.8 541.3M179.6 579.7L182.7 578.5L184.6 579.1L189.0 579.1L194.1 579.7L197.2 579.7L196.0 581.6L192.2 581.6L187.2 582.2L182.7 581.0L179.6 579.7M235.0 582.9L235.6 581.0L240.0 579.1L245.1 579.7L249.5 577.2L245.7 581.6L243.2 582.9L237.5 584.1L235.0 582.9M214.9 542.6L222.4 542.6L228.1 543.2L235.0 539.5L242.6 537.6L250.1 538.2L252.6 537.6L257.7 539.5L260.2 542.0L267.8 543.2L272.8 544.5L280.3 543.9L285.4 543.9L292.9 540.7L294.2 537.6L292.9 533.8L287.9 531.3L283.5 528.8L277.2 525.0L270.9 522.5L266.5 520.0L263.3 517.4M236.3 516.2L242.6 521.2L248.9 520.0L255.2 518.1L261.5 516.8M327.6 516.8L329.5 521.8L330.7 528.1L335.1 534.4L337.6 538.2L341.4 540.7L343.9 544.5L349.0 548.3L345.8 548.3L343.3 550.2L341.4 553.9L339.5 560.2L340.2 564.0L343.3 565.9L347.7 568.4L352.8 570.3L359.1 571.5L365.4 569.6L371.7 569.6L371.0 565.9L370.4 560.2L366.6 554.6L369.1 553.3L365.4 550.2L364.7 544.5L369.1 542.6L372.3 540.7L369.8 536.9L364.1 538.8L362.2 532.5L354.7 530.0L352.8 525.0L348.4 522.5L354.7 521.2L355.3 517.4L362.2 515.6M399.4 514.9L400.6 518.7L402.5 523.1L406.9 521.8L409.4 518.7L408.2 514.9M235.0 611.8L236.9 613.7L236.9 616.2L238.8 619.3L243.2 627.5L245.1 631.9L247.0 635.1L252.0 647.0L255.8 651.4L256.4 657.1L264.0 663.4L266.5 669.7L265.9 678.5L268.4 684.1L273.4 688.5L276.6 694.8L278.5 699.2L280.3 704.3L284.8 707.4L289.8 712.4M236.9 613.1L239.4 616.8L243.2 622.5L247.6 626.9L248.9 622.5L251.4 616.2L251.4 621.9L253.3 625.6L255.8 629.4L261.5 638.2L264.6 643.9L267.8 648.9L272.2 652.7L275.9 658.3L277.8 661.5L278.5 667.1L281.6 671.5L283.5 674.7L287.3 678.5L289.8 682.2L294.2 689.8L298.0 694.2L299.9 698.0L300.5 703.0L301.1 707.4L302.4 713.7M340.2 710.5L346.5 707.4L352.8 706.1L360.3 702.4L360.9 699.2L366.0 696.7L372.3 694.8L379.8 692.9L381.1 689.2L386.8 689.2L389.3 684.8L395.6 682.2L396.2 677.2L399.4 673.4L402.5 672.2L405.7 667.1L408.2 660.9L406.3 658.3L402.5 653.9L400.6 653.3L395.0 652.0L391.2 648.9L386.8 645.1L386.1 640.7L386.8 637.0L385.5 635.7L384.2 638.2L381.1 641.4L377.9 644.5L375.4 647.0L371.7 649.5L368.5 649.5L362.8 649.5L359.1 650.8L356.5 650.2L355.3 647.0L356.5 644.5L356.5 640.7L355.9 638.8L354.0 637.6L352.1 640.7L351.5 645.1L349.6 642.6L347.7 639.5L347.1 636.3L343.3 631.9L341.4 628.8L337.6 625.6L336.4 622.5L333.9 619.3L332.6 616.8L333.9 613.7L337.0 613.7L339.5 611.8L343.3 613.1L347.7 614.3L348.4 617.5L351.5 620.0L354.7 625.6L357.2 626.9L362.8 629.4L368.5 633.2L371.7 634.4L376.7 635.1L381.1 633.8L384.9 631.3L389.3 631.3L391.2 635.1L392.4 639.5L395.6 640.1L402.5 641.4L406.9 642.0L413.2 642.6L419.5 643.2L423.9 643.9L430.2 643.2L437.1 643.2L443.4 642.6L448.5 641.4L451.6 643.2L453.5 645.8L456.0 650.2L457.3 652.0L461.1 653.3L463.6 655.8L466.1 658.3L469.9 658.3L474.9 657.1L473.7 659.6L471.1 660.9L467.4 661.5L466.1 663.4L469.9 666.5L474.9 669.7L478.7 670.9L485.0 668.4L488.8 665.3L488.8 661.5L490.7 664.6L489.4 669.7L490.7 673.4L490.0 679.1L490.0 682.2L491.3 687.3L493.2 692.9L493.8 698.6L495.7 703.0L497.0 707.4L498.2 710.5M536.0 710.5L536.6 707.4L537.3 703.0L541.0 701.7L542.9 699.2L549.2 697.3L549.9 694.8L556.2 690.4L561.2 686.6L565.6 681.0L569.4 678.5L575.7 676.0L578.8 670.9L579.5 666.5L583.2 665.9L587.0 665.3L590.8 665.9L595.8 664.0L600.2 664.6L602.1 662.7L604.6 659.6L607.8 660.2L609.7 661.5L610.9 666.5L611.6 669.7L613.5 671.5L615.3 674.7L619.1 678.5L622.9 682.2L624.8 685.4L626.7 691.0L626.7 694.8L625.4 699.2L627.3 701.7L629.8 702.4L633.6 701.7L636.8 699.2L639.3 698.0L643.7 695.4L646.2 698.6L646.8 704.3L647.5 710.5M495.7 552.7L500.1 559.0L501.4 570.3L507.0 572.8L510.8 575.3L517.7 579.7L522.8 584.1L527.2 587.9L527.8 597.3L529.7 605.5L534.1 608.0L541.0 612.4L548.0 615.6L554.3 619.3L561.8 621.9L568.1 623.1L574.4 624.4L582.0 623.1L588.9 625.6L595.2 624.4L603.4 624.4L610.9 626.3L620.4 623.1L629.8 620.6L639.3 621.9L645.6 625.6L650.6 630.7L658.2 632.5L664.5 633.2L669.5 628.1L673.9 626.9L676.4 619.3L675.2 611.8L680.2 604.9L682.7 596.7L685.2 586.6L682.1 579.7L678.9 573.4L673.9 565.2L666.4 559.0L658.2 554.6L648.7 552.0L639.3 552.0L629.8 552.7L620.4 553.9L610.9 556.4L601.5 559.6L592.0 563.4L582.0 562.1L571.9 565.2L563.1 565.9L554.9 570.3L543.6 574.1L532.9 570.3L521.5 564.6L510.8 559.0L502.6 552.7L495.7 552.7" fill="none" stroke="#111" stroke-width="0.95" stroke-linejoin="round"/><g fill="none" stroke="#111" stroke-width="0.9"><ellipse cx="191.6" cy="568.4" rx="0.9" ry="0.8"/><ellipse cx="190.3" cy="565.2" rx="0.9" ry="0.8"/><ellipse cx="188.4" cy="563.4" rx="0.9" ry="0.8"/><ellipse cx="195.3" cy="555.2" rx="1.3" ry="1.0"/><ellipse cx="196.0" cy="560.2" rx="1.3" ry="1.0"/><ellipse cx="201.6" cy="564.6" rx="0.9" ry="0.8"/><ellipse cx="207.9" cy="573.4" rx="1.3" ry="1.0"/><ellipse cx="185.9" cy="559.6" rx="1.6" ry="1.2"/><ellipse cx="180.9" cy="562.1" rx="0.9" ry="0.8"/><ellipse cx="194.7" cy="572.2" rx="0.9" ry="0.8"/><ellipse cx="185.3" cy="565.9" rx="0.9" ry="0.8"/><ellipse cx="192.2" cy="550.2" rx="0.9" ry="0.8"/><ellipse cx="201.0" cy="569.6" rx="0.9" ry="0.8"/><ellipse cx="187.2" cy="545.7" rx="0.9" ry="0.8"/><ellipse cx="156.9" cy="552.7" rx="0.9" ry="0.8"/><ellipse cx="121.7" cy="545.7" rx="0.9" ry="0.8"/><ellipse cx="109.1" cy="575.9" rx="0.9" ry="0.8"/><ellipse cx="122.3" cy="575.9" rx="0.9" ry="0.8"/></g>
<path d="M49.5 515.7L59.7 514.8L57.7 518.0L67.3 513.2L57.0 510.2L59.5 513.0L49.3 513.8ZM73.1 515.7L83.3 514.8L81.3 518.0L91.0 513.2L80.7 510.2L83.1 513.0L72.9 513.8ZM96.4 516.5L107.4 514.6L105.8 517.9L115.0 512.3L104.4 510.2L107.1 512.8L96.1 514.7ZM119.8 517.5L131.6 514.3L130.2 517.7L138.9 511.4L128.2 510.2L131.1 512.5L119.3 515.7ZM142.7 518.3L156.2 513.9L155.0 517.4L163.3 510.6L152.6 510.0L155.6 512.1L142.1 516.5ZM165.0 519.1L181.2 513.2L180.1 516.8L188.2 509.7L177.5 509.5L180.5 511.5L164.4 517.4ZM189.1 520.1L204.7 512.8L204.0 516.5L211.4 508.7L200.7 509.4L203.9 511.2L188.3 518.4ZM211.4 520.7L229.7 512.2L228.9 515.8L236.4 508.1L225.7 508.8L228.9 510.5L210.6 519.1ZM235.5 518.1L252.1 513.7L250.7 517.1L259.4 510.7L248.7 509.6L251.6 511.9L235.0 516.3ZM258.3 517.2L276.2 514.0L274.5 517.3L283.7 511.7L273.2 509.6L275.9 512.2L257.9 515.3ZM280.3 518.8L301.7 513.0L300.4 516.5L309.0 510.1L298.3 508.9L301.2 511.2L279.8 517.0ZM303.3 516.2L325.4 514.3L323.4 517.4L333.1 512.7L322.8 509.7L325.2 512.4L303.1 514.4ZM329.7 514.9L345.9 514.9L343.7 517.9L353.7 514.0L343.7 510.1L345.9 513.1L329.7 513.1ZM357.4 514.9L365.6 514.9L363.4 517.9L373.4 514.0L363.4 510.1L365.6 513.1L357.4 513.1ZM382.0 514.9L388.2 514.9L386.0 517.9L396.0 514.0L386.0 510.1L388.2 513.1L382.0 513.1ZM405.6 514.9L411.8 514.9L409.6 517.9L419.6 514.0L409.6 510.1L411.8 513.1L405.6 513.1ZM429.2 514.9L435.4 514.9L433.2 517.9L443.2 514.0L433.2 510.1L435.4 513.1L429.2 513.1ZM452.8 514.9L459.0 514.9L456.8 517.9L466.8 514.0L456.8 510.1L459.0 513.1L452.8 513.1ZM476.4 514.9L482.6 514.9L480.4 517.9L490.4 514.0L480.4 510.1L482.6 513.1L476.4 513.1ZM500.0 514.9L506.2 514.9L504.0 517.9L514.0 514.0L504.0 510.1L506.2 513.1L500.0 513.1ZM523.7 514.9L529.9 514.9L527.7 517.9L537.7 514.0L527.7 510.1L529.9 513.1L523.7 513.1ZM547.3 514.9L553.5 514.9L551.3 517.9L561.3 514.0L551.3 510.1L553.5 513.1L547.3 513.1ZM567.9 514.9L580.1 514.9L577.9 517.9L587.9 514.0L577.9 510.1L580.1 513.1L567.9 513.1ZM585.5 514.3L609.7 515.2L607.4 518.1L617.5 514.5L607.6 510.3L609.7 513.3L585.5 512.5ZM606.1 513.6L636.2 515.7L633.8 518.5L644.1 515.3L634.4 510.7L636.3 513.8L606.2 511.7ZM628.7 513.2L660.8 516.0L658.3 518.7L668.6 515.7L659.0 511.0L661.0 514.1L628.9 511.3ZM652.3 512.8L684.4 516.2L681.9 518.9L692.2 516.1L682.7 511.1L684.6 514.3L652.5 511.0ZM676.0 512.1L707.9 516.6L705.3 519.2L715.8 516.8L706.4 511.5L708.2 514.8L676.3 510.3ZM49.5 539.3L59.7 538.4L57.7 541.5L67.3 536.8L57.0 533.8L59.5 536.5L49.3 537.4ZM73.1 539.3L83.3 538.4L81.3 541.5L91.0 536.8L80.7 533.8L83.1 536.5L72.9 537.4ZM96.4 540.1L107.4 538.2L105.8 541.5L115.0 535.9L104.4 533.8L107.1 536.4L96.1 538.3ZM119.8 541.1L131.6 537.9L130.2 541.3L138.9 535.0L128.2 533.8L131.1 536.1L119.3 539.3ZM142.7 541.8L156.2 537.5L155.0 541.0L163.3 534.2L152.6 533.6L155.6 535.7L142.1 540.1ZM165.0 542.7L181.2 536.8L180.1 540.4L188.2 533.3L177.5 533.1L180.5 535.1L164.4 541.0ZM189.1 543.7L204.7 536.4L204.0 540.0L211.4 532.3L200.7 533.0L203.9 534.7L188.3 542.0ZM211.4 544.3L229.7 535.8L228.9 539.4L236.4 531.7L225.7 532.3L228.9 534.1L210.6 542.6ZM235.5 541.7L252.1 537.2L250.7 540.7L259.4 534.3L248.7 533.2L251.6 535.5L235.0 539.9ZM258.3 540.7L276.2 537.6L274.5 540.9L283.7 535.3L273.2 533.2L275.9 535.8L257.9 538.9ZM280.3 542.3L301.7 536.6L300.4 540.0L309.0 533.7L298.3 532.5L301.2 534.8L279.8 540.6ZM303.3 539.8L325.4 537.9L323.4 541.0L333.1 536.3L322.8 533.2L325.2 536.0L303.1 538.0ZM329.7 538.5L345.9 538.5L343.7 541.5L353.7 537.6L343.7 533.7L345.9 536.6L329.7 536.6ZM357.4 538.5L365.6 538.5L363.4 541.5L373.4 537.6L363.4 533.7L365.6 536.6L357.4 536.6ZM382.0 538.5L388.2 538.5L386.0 541.5L396.0 537.6L386.0 533.7L388.2 536.6L382.0 536.6ZM405.6 538.5L411.8 538.5L409.6 541.5L419.6 537.6L409.6 533.7L411.8 536.6L405.6 536.6ZM429.2 538.5L435.4 538.5L433.2 541.5L443.2 537.6L433.2 533.7L435.4 536.6L429.2 536.6ZM452.8 538.5L459.0 538.5L456.8 541.5L466.8 537.6L456.8 533.7L459.0 536.6L452.8 536.6ZM476.4 538.5L482.6 538.5L480.4 541.5L490.4 537.6L480.4 533.7L482.6 536.6L476.4 536.6ZM500.0 538.5L506.2 538.5L504.0 541.5L514.0 537.6L504.0 533.7L506.2 536.6L500.0 536.6ZM523.7 538.5L529.9 538.5L527.7 541.5L537.7 537.6L527.7 533.7L529.9 536.6L523.7 536.6ZM547.3 538.5L553.5 538.5L551.3 541.5L561.3 537.6L551.3 533.7L553.5 536.6L547.3 536.6ZM567.9 538.5L580.1 538.5L577.9 541.5L587.9 537.6L577.9 533.7L580.1 536.6L567.9 536.6ZM585.5 537.9L609.7 538.8L607.4 541.7L617.5 538.1L607.6 533.9L609.7 536.9L585.5 536.1ZM606.1 537.2L636.2 539.3L633.8 542.1L644.1 538.9L634.4 534.3L636.3 537.4L606.2 535.3ZM628.7 536.7L660.8 539.6L658.3 542.3L668.6 539.3L659.0 534.6L661.0 537.7L628.9 534.9ZM652.3 536.4L684.4 539.8L681.9 542.5L692.2 539.7L682.7 534.7L684.6 537.9L652.5 534.6ZM676.0 535.7L707.9 540.2L705.3 542.8L715.8 540.4L706.4 535.1L708.2 538.4L676.3 533.9ZM48.7 563.8L60.7 561.7L59.1 565.0L68.2 559.4L57.7 557.3L60.4 559.9L48.4 562.0ZM72.3 563.8L84.3 561.7L82.7 565.0L91.8 559.4L81.3 557.3L84.0 559.9L72.0 562.0ZM96.2 564.6L108.0 561.5L106.6 564.9L115.3 558.6L104.6 557.4L107.5 559.7L95.7 562.9ZM119.2 565.8L132.5 560.9L131.5 564.5L139.6 557.4L128.8 557.2L131.9 559.2L118.6 564.1ZM142.5 568.2L157.4 559.6L156.9 563.3L163.7 554.9L153.0 556.5L156.4 558.0L141.5 566.6ZM166.5 568.7L180.9 559.4L180.7 563.1L186.9 554.3L176.4 556.5L179.9 557.8L165.5 567.2ZM190.4 569.1L204.4 559.2L204.3 562.9L210.3 554.0L199.9 556.5L203.4 557.7L189.3 567.6ZM212.4 571.1L229.9 557.5L230.0 561.2L235.5 551.9L225.2 555.0L228.8 556.0L211.3 569.7ZM236.9 568.2L251.8 559.6L251.4 563.3L258.1 554.9L247.5 556.5L250.9 558.0L236.0 566.6ZM258.4 569.5L277.6 558.4L277.2 562.0L283.9 553.7L273.3 555.3L276.7 556.8L257.4 567.9ZM280.7 567.2L301.6 559.6L300.5 563.1L308.6 556.0L297.9 555.8L301.0 557.8L280.1 565.4ZM305.5 564.3L323.4 561.2L321.8 564.5L330.9 558.9L320.4 556.8L323.1 559.3L305.2 562.5ZM331.8 562.6L344.0 562.0L341.9 565.1L351.7 560.6L341.5 557.3L343.9 560.1L331.7 560.8ZM354.4 562.1L368.6 562.1L366.4 565.1L376.4 561.2L366.4 557.3L368.6 560.2L354.4 560.2ZM376.5 562.1L393.7 562.1L391.5 565.1L401.5 561.2L391.5 557.3L393.7 560.2L376.5 560.2ZM400.1 562.1L417.3 562.1L415.1 565.1L425.1 561.2L415.1 557.3L417.3 560.2L400.1 560.2ZM423.7 562.1L440.9 562.1L438.7 565.1L448.7 561.2L438.7 557.3L440.9 560.2L423.7 560.2ZM447.3 562.1L464.5 562.1L462.3 565.1L472.3 561.2L462.3 557.3L464.5 560.2L447.3 560.2ZM470.9 562.1L488.1 562.1L485.9 565.1L495.9 561.2L485.9 557.3L488.1 560.2L470.9 560.2ZM496.0 562.1L510.2 562.1L508.0 565.1L518.0 561.2L508.0 557.3L510.2 560.2L496.0 560.2ZM519.7 562.1L533.9 562.1L531.7 565.1L541.7 561.2L531.7 557.3L533.9 560.2L519.7 560.2ZM543.3 562.1L557.5 562.1L555.3 565.1L565.3 561.2L555.3 557.3L557.5 560.2L543.3 560.2ZM566.9 562.1L581.1 562.1L578.9 565.1L588.9 561.2L578.9 557.3L581.1 560.2L566.9 560.2ZM589.5 562.1L605.7 562.1L603.5 565.1L613.5 561.2L603.5 557.3L605.7 560.2L589.5 560.2ZM612.1 560.9L630.2 562.5L627.8 565.3L638.1 562.3L628.4 557.5L630.4 560.7L612.2 559.1ZM635.8 559.8L653.7 563.0L651.0 565.5L661.5 563.4L652.4 557.8L654.0 561.1L636.1 558.0ZM660.5 558.9L676.2 563.1L673.3 565.4L683.9 564.3L675.3 557.9L676.6 561.4L661.0 557.2ZM684.4 557.9L699.6 563.5L696.5 565.5L707.2 565.3L699.2 558.2L700.2 561.7L685.0 556.2ZM50.2 590.5L60.7 584.4L60.3 588.1L67.0 579.7L56.4 581.4L59.8 582.8L49.3 588.9ZM73.8 590.5L84.4 584.4L83.9 588.1L90.7 579.7L80.0 581.4L83.4 582.8L72.9 588.9ZM97.1 591.8L108.8 583.7L108.7 587.4L114.6 578.4L104.2 581.0L107.7 582.2L96.1 590.3ZM119.9 593.2L133.5 582.6L133.6 586.3L139.1 577.0L128.8 580.1L132.4 581.1L118.8 591.7ZM143.1 594.1L157.8 581.8L158.0 585.5L163.2 576.1L153.0 579.5L156.6 580.4L141.9 592.7ZM170.0 595.5L179.9 581.4L181.1 584.9L183.6 574.5L174.7 580.5L178.4 580.4L168.5 594.5ZM194.9 595.6L203.0 581.6L204.4 585.0L206.1 574.4L197.7 581.1L201.4 580.6L193.3 594.7ZM218.0 596.5L227.1 580.7L228.6 584.1L230.2 573.5L221.8 580.2L225.5 579.8L216.4 595.5ZM243.5 595.1L249.5 582.2L251.2 585.5L251.9 574.8L244.2 582.2L247.8 581.5L241.8 594.3ZM266.7 593.9L272.8 583.3L274.3 586.7L275.9 576.1L267.5 582.8L271.2 582.4L265.1 592.9ZM288.8 593.0L296.6 583.7L297.5 587.3L300.9 577.1L291.5 582.2L295.2 582.5L287.4 591.8ZM312.2 588.5L317.8 585.9L317.1 589.5L324.5 581.8L313.8 582.5L317.0 584.2L311.4 586.9ZM336.7 585.7L338.9 585.7L336.7 588.6L346.7 584.7L336.7 580.8L338.9 583.8L336.7 583.8ZM360.4 585.7L362.6 585.7L360.4 588.6L370.4 584.7L360.4 580.8L362.6 583.8L360.4 583.8ZM384.0 585.7L386.2 585.7L384.0 588.6L394.0 584.7L384.0 580.8L386.2 583.8L384.0 583.8ZM406.6 585.7L410.8 585.7L408.6 588.6L418.6 584.7L408.6 580.8L410.8 583.8L406.6 583.8ZM430.2 585.7L434.4 585.7L432.2 588.6L442.2 584.7L432.2 580.8L434.4 583.8L430.2 583.8ZM453.8 585.7L458.0 585.7L455.8 588.6L465.8 584.7L455.8 580.8L458.0 583.8L453.8 583.8ZM477.4 585.7L481.6 585.7L479.4 588.6L489.4 584.7L479.4 580.8L481.6 583.8L477.4 583.8ZM501.0 585.7L505.2 585.7L503.0 588.6L513.0 584.7L503.0 580.8L505.2 583.8L501.0 583.8ZM523.7 585.7L529.9 585.7L527.7 588.6L537.7 584.7L527.7 580.8L529.9 583.8L523.7 583.8ZM547.3 585.7L553.5 585.7L551.3 588.6L561.3 584.7L551.3 580.8L553.5 583.8L547.3 583.8ZM570.9 585.7L577.1 585.7L574.9 588.6L584.9 584.7L574.9 580.8L577.1 583.8L570.9 583.8ZM596.5 585.7L598.7 585.7L596.5 588.6L606.5 584.7L596.5 580.8L598.7 583.8L596.5 583.8ZM619.9 581.6L623.1 584.3L619.5 585.2L629.7 588.6L624.5 579.2L624.3 582.9L621.1 580.2ZM643.8 581.2L646.8 584.1L643.1 584.7L653.0 589.0L648.7 579.2L648.1 582.8L645.1 579.8ZM668.0 579.1L671.1 584.5L667.5 584.1L675.8 590.8L674.2 580.2L672.7 583.6L669.6 578.2ZM691.6 579.1L694.7 584.5L691.1 584.1L699.4 590.8L697.8 580.2L696.3 583.6L693.2 578.2ZM58.1 615.4L59.1 609.3L61.7 612.0L59.6 601.4L54.0 610.6L57.3 609.0L56.3 615.1ZM81.7 615.4L82.8 609.3L85.3 612.0L83.2 601.4L77.6 610.6L80.9 609.0L79.9 615.1ZM105.9 615.4L106.5 609.2L109.2 611.7L106.2 601.4L101.5 611.0L104.6 609.0L104.1 615.2ZM130.1 616.3L130.1 608.1L133.1 610.3L129.2 600.3L125.3 610.3L128.3 608.1L128.3 616.3ZM153.8 617.3L153.8 607.1L156.7 609.3L152.8 599.3L148.9 609.3L151.9 607.1L151.9 617.3ZM177.4 618.3L177.4 606.1L180.3 608.3L176.4 598.3L172.5 608.3L175.5 606.1L175.5 618.3ZM201.3 618.3L200.9 606.1L204.0 608.2L199.7 598.3L196.2 608.5L199.1 606.2L199.5 618.4ZM225.4 617.2L224.5 607.1L227.6 609.0L222.9 599.4L219.9 609.7L222.6 607.2L223.5 617.4ZM249.7 616.5L248.1 607.5L251.4 609.1L245.8 600.0L243.7 610.5L246.3 607.8L247.9 616.9ZM276.0 615.2L271.4 607.3L275.0 607.7L266.7 601.0L268.3 611.6L269.7 608.2L274.3 616.2ZM300.5 613.0L295.4 607.9L299.0 607.3L289.2 603.0L293.5 612.9L294.1 609.2L299.2 614.3ZM323.3 611.5L320.1 608.8L323.7 607.9L313.5 604.5L318.7 613.9L318.9 610.2L322.1 612.9ZM346.5 610.0L344.6 608.9L348.0 607.5L337.4 605.8L344.1 614.2L343.7 610.5L345.6 611.6ZM369.4 607.9L367.7 607.8L369.6 605.6L361.4 608.0L369.1 611.8L367.5 609.3L369.3 609.4ZM392.0 607.8L390.6 607.8L392.0 606.0L386.0 608.3L392.0 610.7L390.6 608.9L392.0 608.9ZM415.7 607.8L414.3 607.8L415.7 605.9L409.5 608.3L415.7 610.8L414.3 608.9L415.7 608.9ZM439.4 607.7L438.0 607.7L439.4 605.8L432.9 608.3L439.4 610.9L438.0 608.9L439.4 608.9ZM463.2 607.7L461.7 607.7L463.2 605.7L456.4 608.3L463.2 611.0L461.7 609.0L463.2 609.0ZM486.9 607.7L485.4 607.7L486.9 605.6L479.9 608.3L486.9 611.1L485.4 609.0L486.9 609.0ZM511.0 607.6L509.3 607.6L511.0 605.2L503.0 608.3L511.0 611.5L509.3 609.1L511.0 609.1ZM535.2 607.5L533.2 607.5L535.2 604.8L526.2 608.3L535.2 611.8L533.2 609.2L535.2 609.2ZM559.3 607.4L557.1 607.4L559.3 604.4L549.3 608.3L559.3 612.2L557.1 609.3L559.3 609.3ZM582.9 607.4L580.7 607.4L582.9 604.4L572.9 608.3L582.9 612.2L580.7 609.3L582.9 609.3ZM607.1 604.0L601.7 607.1L602.1 603.5L595.4 611.8L606.0 610.2L602.6 608.7L608.0 605.6ZM631.1 603.0L624.4 607.7L624.5 604.0L618.6 612.9L629.0 610.4L625.5 609.2L632.2 604.5ZM654.3 602.5L648.0 607.8L647.7 604.1L642.6 613.5L652.8 610.0L649.2 609.2L655.4 603.9ZM676.8 601.6L671.5 607.9L670.6 604.3L667.2 614.5L676.6 609.3L672.9 609.1L678.2 602.8ZM700.4 601.6L695.1 607.9L694.2 604.3L690.8 614.5L700.2 609.3L696.5 609.1L701.8 602.8ZM63.7 637.9L59.0 631.2L62.7 631.3L53.8 625.4L56.3 635.8L57.5 632.3L62.2 639.0ZM87.3 637.9L82.6 631.2L86.3 631.3L77.4 625.4L79.9 635.8L81.1 632.3L85.8 639.0ZM111.5 638.8L105.7 630.4L109.4 630.5L100.4 624.5L103.0 635.0L104.2 631.5L110.0 639.8ZM136.4 639.0L128.5 629.6L132.2 629.4L122.8 624.3L126.2 634.4L127.1 630.8L134.9 640.2ZM161.3 639.0L151.2 629.0L154.9 628.5L145.1 624.1L149.4 634.0L149.9 630.3L160.0 640.4ZM186.4 639.6L173.6 628.1L177.2 627.3L167.2 623.6L172.0 633.1L172.3 629.5L185.1 641.0ZM210.6 639.6L196.7 627.9L200.3 627.0L190.1 623.6L195.3 633.0L195.5 629.3L209.4 641.0ZM235.7 639.2L219.1 627.6L222.6 626.4L212.2 623.9L218.2 632.8L218.1 629.1L234.6 640.7ZM259.9 638.1L242.4 628.0L245.8 626.5L235.2 624.9L241.9 633.3L241.5 629.6L258.9 639.7ZM284.9 637.4L264.8 628.0L268.0 626.3L257.3 625.6L264.7 633.3L264.0 629.7L284.1 639.1ZM308.5 633.4L288.6 629.9L291.3 627.4L280.7 629.5L289.9 635.1L288.2 631.8L308.1 635.3ZM331.1 632.8L313.1 630.3L315.7 627.6L305.3 630.1L314.6 635.4L312.9 632.1L330.9 634.6ZM354.8 632.1L336.6 630.5L339.1 627.8L328.8 630.8L338.4 635.5L336.5 632.4L354.6 634.0ZM379.4 631.5L359.2 630.8L361.5 627.9L351.4 631.4L361.2 635.7L359.1 632.6L379.3 633.3ZM403.0 631.2L382.8 630.9L385.0 628.0L375.0 631.7L384.9 635.7L382.8 632.7L403.0 633.1ZM426.6 631.0L406.4 631.0L408.6 628.0L398.6 631.9L408.6 635.8L406.4 632.8L426.6 632.8ZM450.2 631.0L430.0 631.0L432.2 628.0L422.2 631.9L432.2 635.8L430.0 632.8L450.2 632.8ZM473.8 631.0L453.6 631.0L455.8 628.0L445.8 631.9L455.8 635.8L453.6 632.8L473.8 632.8ZM497.4 631.0L477.2 631.0L479.4 628.0L469.4 631.9L479.4 635.8L477.2 632.8L497.4 632.8ZM521.0 631.0L500.8 631.0L503.0 628.0L493.0 631.9L503.0 635.8L500.8 632.8L521.0 632.8ZM544.7 631.0L524.5 631.0L526.7 628.0L516.7 631.9L526.7 635.8L524.5 632.8L544.7 632.8ZM567.3 631.0L549.1 631.0L551.3 628.0L541.3 631.9L551.3 635.8L549.1 632.8L567.3 632.8ZM589.9 631.0L573.7 631.0L575.9 628.0L565.9 631.9L575.9 635.8L573.7 632.8L589.9 632.8ZM614.1 628.8L596.2 631.9L597.9 628.6L588.7 634.2L599.2 636.3L596.5 633.7L614.5 630.6ZM638.4 627.4L618.9 632.6L620.2 629.2L611.6 635.5L622.3 636.7L619.4 634.4L638.9 629.2ZM662.7 626.4L641.6 633.3L642.8 629.8L634.5 636.6L645.2 637.2L642.2 635.0L663.3 628.2ZM686.1 625.9L665.3 633.5L666.3 630.0L658.2 637.1L669.0 637.3L665.9 635.3L686.7 627.7ZM709.7 625.9L688.9 633.5L689.9 630.0L681.9 637.1L692.6 637.3L689.5 635.3L710.4 627.7ZM70.1 660.0L54.5 652.7L57.8 650.9L47.0 650.2L54.5 658.0L53.7 654.4L69.3 661.6ZM93.7 660.0L78.1 652.7L81.4 650.9L70.7 650.2L78.1 658.0L77.3 654.4L92.9 661.6ZM118.9 660.1L100.3 652.2L103.4 650.4L92.7 650.0L100.4 657.5L99.5 653.9L118.1 661.8ZM143.5 660.3L122.9 652.0L126.0 650.0L115.3 649.9L123.1 657.3L122.2 653.7L142.8 662.0ZM167.1 660.1L146.5 652.0L149.6 650.1L138.9 650.1L146.8 657.3L145.8 653.7L166.5 661.8ZM190.8 659.9L170.0 652.1L173.1 650.1L162.4 650.2L170.4 657.4L169.4 653.8L190.2 661.7ZM214.5 659.8L193.6 652.2L196.7 650.1L186.0 650.4L194.0 657.5L193.0 653.9L213.8 661.5ZM238.1 659.6L217.2 652.3L220.2 650.2L209.5 650.5L217.7 657.5L216.6 654.0L237.5 661.3ZM261.8 659.4L240.8 652.3L243.8 650.2L233.1 650.7L241.3 657.6L240.2 654.1L261.2 661.2ZM285.5 659.3L264.3 652.4L267.4 650.3L256.6 650.9L264.9 657.7L263.8 654.2L284.9 661.0ZM309.9 657.7L287.2 653.1L289.9 650.6L279.3 652.4L288.3 658.2L286.8 654.9L309.5 659.5ZM334.1 656.0L310.0 653.9L312.5 651.1L302.2 654.1L311.8 658.9L309.9 655.7L334.0 657.8ZM357.8 655.6L333.6 654.0L336.0 651.2L325.8 654.5L335.5 659.0L333.5 655.9L357.6 657.5ZM381.4 655.3L357.2 654.2L359.5 651.3L349.4 654.8L359.2 659.1L357.1 656.1L381.3 657.1ZM405.0 654.9L380.8 654.4L383.1 651.5L373.0 655.2L382.9 659.3L380.8 656.3L404.9 656.8ZM428.6 654.6L404.4 654.6L406.6 651.6L396.6 655.5L406.6 659.4L404.4 656.4L428.6 656.4ZM452.5 654.4L427.7 654.7L429.8 651.7L419.9 655.7L429.9 659.5L427.7 656.5L452.5 656.2ZM476.5 654.2L450.9 654.8L453.1 651.8L443.1 655.9L453.2 659.6L451.0 656.6L476.5 656.0ZM500.4 654.0L474.2 654.9L476.3 651.9L466.4 656.1L476.6 659.6L474.3 656.8L500.4 655.8ZM524.5 653.6L497.3 655.1L499.3 652.0L489.6 656.5L499.8 659.8L497.4 657.0L524.6 655.4ZM548.5 653.2L520.4 655.4L522.4 652.2L512.7 656.9L523.0 660.0L520.6 657.2L548.7 655.0ZM572.6 652.7L543.5 655.7L545.4 652.5L535.9 657.4L546.2 660.2L543.7 657.5L572.8 654.6ZM596.6 652.3L566.7 656.0L568.5 652.7L559.0 657.8L569.4 660.5L566.9 657.8L596.9 654.1ZM622.0 650.9L588.3 656.9L590.0 653.6L580.8 659.2L591.3 661.3L588.7 658.7L622.3 652.8ZM646.2 649.3L611.1 658.0L612.5 654.6L603.8 660.8L614.4 662.2L611.6 659.8L646.7 651.1ZM670.7 648.7L633.8 658.5L635.2 655.1L626.5 661.5L637.2 662.6L634.3 660.3L671.2 650.4ZM694.3 648.7L657.4 658.5L658.8 655.1L650.1 661.5L660.8 662.6L657.9 660.3L694.8 650.4ZM717.9 648.7L681.0 658.5L682.4 655.1L673.7 661.5L684.4 662.6L681.5 660.3L718.4 650.4ZM74.1 682.3L50.7 676.1L53.6 673.8L42.9 675.0L51.6 681.3L50.2 677.9L73.6 684.1ZM97.7 682.3L74.3 676.1L77.2 673.8L66.5 675.0L75.2 681.3L73.8 677.9L97.2 684.0ZM121.3 682.2L97.9 676.2L100.8 673.8L90.1 675.1L98.8 681.4L97.4 678.0L120.9 684.0ZM145.0 682.1L121.5 676.2L124.3 673.9L113.7 675.2L122.5 681.4L121.0 678.0L144.5 683.9ZM168.6 682.0L145.1 676.3L147.9 673.9L137.3 675.3L146.1 681.5L144.6 678.1L168.2 683.8ZM192.2 681.9L168.7 676.3L171.5 673.9L160.9 675.4L169.7 681.5L168.3 678.1L191.8 683.7ZM215.9 681.8L192.3 676.3L195.1 673.9L184.5 675.5L193.3 681.5L191.9 678.2L215.4 683.6ZM239.5 681.7L215.9 676.4L218.7 674.0L208.1 675.6L217.0 681.6L215.5 678.2L239.1 683.5ZM263.1 681.6L239.5 676.4L242.3 674.0L231.7 675.7L240.6 681.6L239.1 678.2L262.7 683.4ZM286.7 681.5L263.1 676.5L265.8 674.0L255.3 675.8L264.2 681.7L262.7 678.3L286.4 683.3ZM310.4 680.8L286.6 676.8L289.2 674.3L278.7 676.5L288.0 682.0L286.3 678.7L310.1 682.6ZM334.1 680.1L310.1 677.2L312.6 674.5L302.2 677.1L311.7 682.2L309.9 679.0L333.9 682.0ZM357.8 679.4L333.6 677.5L336.1 674.7L325.8 677.8L335.5 682.5L333.5 679.4L357.6 681.3ZM381.4 678.7L357.2 677.9L359.5 675.0L349.4 678.5L359.2 682.8L357.1 679.7L381.3 680.6ZM405.4 678.5L380.4 678.0L382.6 675.1L372.6 678.8L382.5 682.9L380.4 679.9L405.4 680.3ZM429.4 678.2L403.6 678.2L405.8 675.2L395.8 679.1L405.8 683.0L403.6 680.0L429.4 680.0ZM453.4 677.9L426.8 678.3L428.9 675.3L419.0 679.4L429.1 683.1L426.8 680.2L453.4 679.7ZM477.4 677.6L450.0 678.5L452.1 675.5L442.2 679.7L452.4 683.3L450.0 680.4L477.4 679.4ZM501.4 677.2L473.2 678.7L475.2 675.6L465.4 680.0L475.6 683.4L473.3 680.6L501.4 679.1ZM525.9 676.8L495.8 679.0L497.8 675.8L488.1 680.4L498.3 683.6L495.9 680.8L526.1 678.7ZM550.5 676.4L518.4 679.2L520.4 676.1L510.7 680.8L521.0 683.9L518.6 681.1L550.7 678.3ZM575.1 676.0L541.0 679.6L542.9 676.4L533.4 681.3L543.7 684.1L541.2 681.4L575.2 677.8ZM599.6 675.5L563.7 679.9L565.5 676.7L556.0 681.8L566.4 684.4L563.9 681.7L599.8 677.3ZM625.0 674.0L585.4 681.0L587.0 677.7L577.9 683.3L588.4 685.4L585.7 682.8L625.3 675.8ZM648.9 673.3L608.6 681.5L610.1 678.2L601.1 684.0L611.7 685.8L608.9 683.3L649.3 675.1ZM672.9 672.6L631.8 682.1L633.2 678.7L624.4 684.7L635.0 686.3L632.2 683.9L673.3 674.4ZM695.9 672.3L655.9 682.2L657.3 678.8L648.6 685.0L659.2 686.4L656.4 684.0L696.3 674.1ZM718.9 672.0L680.1 682.4L681.4 679.0L672.8 685.3L683.4 686.5L680.5 684.2L719.4 673.8ZM77.8 707.6L47.0 698.2L50.0 696.0L39.3 696.8L47.7 703.5L46.4 700.0L77.2 709.4ZM101.5 707.3L70.5 698.4L73.5 696.2L62.8 697.1L71.3 703.7L70.0 700.2L101.0 709.1ZM125.2 707.0L94.1 698.6L97.0 696.3L86.3 697.5L94.9 703.8L93.6 700.4L124.7 708.8ZM148.8 706.7L117.6 698.8L120.5 696.4L109.8 697.8L118.6 704.0L117.2 700.6L148.4 708.5ZM172.5 706.4L141.2 699.0L144.0 696.6L133.4 698.1L142.2 704.2L140.7 700.8L172.1 708.2ZM196.2 706.1L164.7 699.2L167.5 696.7L156.9 698.4L165.8 704.3L164.3 701.0L195.8 707.9ZM219.8 705.8L188.3 699.4L191.0 696.9L180.5 698.7L189.5 704.5L187.9 701.2L219.5 707.6ZM243.5 705.4L211.8 699.5L214.6 697.0L204.0 699.0L213.1 704.7L211.5 701.4L243.2 707.2ZM267.2 705.1L235.4 699.7L238.1 697.2L227.6 699.3L236.8 704.9L235.1 701.6L266.9 706.9ZM290.8 704.8L259.0 699.9L261.6 697.3L251.1 699.7L260.4 705.0L258.7 701.8L290.5 706.6ZM314.5 704.5L282.6 700.1L285.1 697.5L274.7 700.0L284.1 705.2L282.3 702.0L314.2 706.3ZM338.1 704.1L306.1 700.3L308.7 697.6L298.3 700.3L307.7 705.4L305.9 702.1L337.9 706.0ZM361.7 703.8L329.7 700.5L332.2 697.8L321.8 700.6L331.4 705.5L329.5 702.3L361.5 705.7ZM385.4 703.5L353.3 700.7L355.7 697.9L345.4 700.9L355.1 705.7L353.1 702.5L385.2 705.3ZM408.9 703.1L377.0 701.0L379.4 698.1L369.1 701.4L378.8 705.9L376.8 702.8L408.8 704.9ZM432.4 702.6L400.7 701.2L403.0 698.3L392.8 701.8L402.6 706.1L400.6 703.1L432.3 704.5ZM455.9 702.2L424.4 701.5L426.6 698.6L416.5 702.2L426.4 706.4L424.3 703.3L455.8 704.1ZM479.4 701.8L448.1 701.7L450.3 698.8L440.3 702.6L450.2 706.6L448.1 703.6L479.4 703.6ZM502.8 701.4L471.8 702.0L473.9 699.0L464.0 703.1L474.1 706.8L471.8 703.8L502.9 703.2ZM526.3 701.0L495.5 702.2L497.6 699.2L487.7 703.5L497.9 707.0L495.6 704.1L526.4 702.8ZM549.8 700.6L519.2 702.5L521.2 699.4L511.5 703.9L521.7 707.1L519.3 704.3L549.9 702.4ZM573.2 700.2L542.9 702.7L544.9 699.6L535.2 704.3L545.5 707.3L543.1 704.5L573.4 702.0ZM596.7 699.8L566.6 702.9L568.5 699.7L559.0 704.7L569.3 707.5L566.8 704.8L596.9 701.6ZM620.3 699.5L590.3 703.1L592.1 699.9L582.6 704.9L593.0 707.6L590.5 704.9L620.5 701.4ZM643.8 699.3L613.9 703.2L615.7 700.0L606.3 705.2L616.7 707.7L614.1 705.1L644.1 701.1ZM667.4 699.0L637.5 703.4L639.2 700.1L629.9 705.5L640.4 707.9L637.8 705.2L667.7 700.8ZM690.9 698.7L661.1 703.6L662.8 700.3L653.6 705.7L664.1 708.0L661.4 705.4L691.2 700.6ZM714.5 698.5L684.8 703.7L686.4 700.4L677.2 706.0L687.8 708.1L685.1 705.5L714.8 700.3Z" fill="#151515"/>
<mask id="lm2" maskUnits="userSpaceOnUse" x="0" y="0" width="928" height="768"><rect x="0" y="0" width="928" height="768" fill="#fff"/>
<rect x="335.1" y="552.2" width="49.0" height="16" fill="#000" transform="rotate(-5 359.6 560.2)"/>
<rect x="382.1" y="585.0" width="49.0" height="16" fill="#000" transform="rotate(-20 406.6 593.0)"/>
<rect x="538.5" y="537.6" width="50.0" height="16" fill="#000" transform="rotate(-5 563.5 545.6)"/>
<rect x="515.5" y="686.2" width="49.0" height="16" fill="#000" transform="rotate(0 540 694.2)"/>
</mask>
<g mask="url(#lm2)" fill="none" stroke="#fff" stroke-width="3" stroke-linejoin="round" stroke-linecap="round">
<path d="M60.0 556.0C61.4 556.0 63.9 556.2 68.4 555.7C72.9 555.2 79.6 554.4 87.2 553.0C94.8 551.6 104.8 549.6 114.2 547.6C123.6 545.6 134.4 543.1 143.8 540.9C153.2 538.7 161.8 536.2 170.8 534.2C179.8 532.2 190.5 530.4 197.7 528.8C204.9 527.2 210.2 526.5 213.9 524.7C217.6 522.9 219.0 519.1 220.0 518.0"/>
<path d="M60.0 592.5C61.4 592.2 61.2 592.3 68.4 590.7C75.6 589.1 90.8 585.8 103.4 582.7C116.0 579.6 130.3 575.5 143.8 571.9C157.3 568.3 170.7 564.7 184.2 561.1C197.7 557.5 211.1 553.9 224.6 550.3C238.1 546.7 253.8 543.0 265.0 539.6C276.2 536.2 284.0 532.5 292.0 530.1C300.0 527.8 299.3 526.7 313.0 525.5C326.7 524.3 351.7 523.5 374.3 523.0C396.9 522.5 427.6 522.5 448.5 522.5C469.4 522.5 481.0 522.3 500.0 523.0C519.0 523.7 547.0 525.7 562.3 526.7C577.6 527.7 580.9 528.3 592.0 529.1C603.1 529.9 620.9 530.6 629.1 531.6C637.4 532.6 635.3 534.1 641.5 535.3C647.7 536.5 656.5 537.6 666.3 539.0C676.0 540.4 694.4 542.8 700.0 543.5"/>
<path d="M60.0 656.5C61.4 656.8 58.9 656.3 68.4 658.1C77.9 659.9 99.8 664.6 116.9 667.5C134.0 670.4 152.9 673.4 170.8 675.6C188.8 677.9 206.7 679.2 224.6 681.0C242.5 682.8 266.4 683.9 278.5 686.4C290.6 688.9 292.6 695.0 297.4 695.8C302.2 696.6 298.7 691.8 307.4 691.3C316.1 690.8 334.2 692.1 349.5 692.5C364.8 692.9 382.5 693.3 399.0 693.7C415.5 694.1 432.8 694.8 448.5 695.0C464.2 695.2 481.4 695.1 493.0 695.0C504.6 694.9 506.2 694.3 517.8 694.2C529.3 694.1 545.8 694.7 562.3 694.2C578.8 693.7 599.5 692.2 616.8 691.3C634.1 690.4 652.4 689.7 666.3 688.8C680.2 687.9 694.4 686.5 700.0 686.0"/>
<path d="M60.0 703.5C83.3 703.8 143.3 704.5 200.0 705.0C256.7 705.5 316.7 706.3 400.0 706.5C483.3 706.7 650.0 706.1 700.0 706.0"/>
<path d="M700.0 566.0C698.8 565.8 698.6 566.0 693.0 565.0C687.4 564.0 674.9 562.1 666.3 560.1C657.7 558.1 649.8 554.6 641.5 552.7C633.2 550.9 625.9 549.8 616.8 549.0C607.7 548.2 596.1 548.4 587.0 547.7C577.9 547.0 569.8 545.8 562.0 545.0C554.2 544.2 547.4 543.5 540.0 543.0C532.6 542.5 524.5 542.8 517.8 542.3C511.1 541.8 507.4 540.8 500.0 540.3C492.6 539.8 486.0 539.2 473.3 539.0C460.6 538.8 440.3 538.8 423.8 539.0C407.3 539.2 390.8 539.7 374.3 540.3C357.8 540.9 335.0 541.6 324.8 542.8C314.6 544.0 320.7 545.7 313.0 547.6C305.3 549.5 288.7 551.7 278.5 554.4C268.3 557.1 260.6 560.9 251.6 563.8C242.6 566.7 233.6 568.8 224.6 571.9C215.6 575.0 206.7 579.1 197.7 582.7C188.7 586.3 178.0 589.8 170.8 593.4C163.6 597.0 158.2 600.2 154.6 604.2C151.0 608.2 148.8 613.2 149.2 617.7C149.6 622.2 152.8 626.6 157.3 631.1C161.8 635.6 168.5 640.8 176.1 644.6C183.7 648.4 194.1 651.5 203.1 654.0C212.1 656.5 221.0 657.8 230.0 659.4C239.0 661.0 248.0 662.5 257.0 663.5C266.0 664.5 274.6 665.1 283.9 665.6C293.2 666.1 302.1 666.1 313.0 666.7C323.9 667.3 335.2 668.2 349.5 669.0C363.8 669.8 382.5 670.9 399.0 671.5C415.5 672.1 431.7 672.5 448.5 672.7C465.3 672.9 484.3 672.7 500.0 672.7C515.7 672.7 527.2 672.9 542.5 672.7C557.8 672.5 575.5 672.5 592.0 671.5C608.5 670.5 623.5 668.8 641.5 666.5C659.5 664.2 690.2 659.4 700.0 658.0"/>
<path d="M240.8 610.9C240.4 606.8 243.5 602.6 246.2 598.8C248.9 595.0 251.6 591.4 257.0 588.0C262.4 584.6 271.3 581.1 278.5 578.6C285.7 576.1 293.9 575.1 300.0 573.2C306.1 571.4 309.1 569.1 314.9 567.5C320.7 565.9 327.2 565.0 334.7 563.8C342.2 562.6 352.2 561.3 360.0 560.5C367.8 559.7 371.1 559.3 381.7 558.8C392.3 558.3 408.5 557.6 423.8 557.6C439.1 557.6 461.8 558.4 473.3 558.8C484.8 559.2 487.2 560.5 493.0 560.1C498.8 559.7 501.8 556.4 507.9 556.4C514.0 556.4 519.7 559.1 529.6 560.1C539.5 561.1 559.0 562.4 567.3 562.6C575.6 562.8 575.9 560.5 579.6 561.3C583.3 562.1 583.3 565.6 589.5 567.5C595.7 569.4 608.1 570.2 616.8 572.5C625.5 574.8 634.1 577.8 641.5 581.1C648.9 584.4 656.3 588.4 661.3 592.3C666.2 596.2 669.3 600.5 671.2 604.6C673.1 608.7 673.3 613.3 672.5 617.0C671.7 620.7 669.0 624.0 666.3 626.9C663.6 629.8 658.9 632.0 656.4 634.3C653.9 636.6 653.0 640.1 651.4 640.5C649.8 640.9 649.0 637.8 646.5 636.8C644.0 635.8 641.6 633.9 636.6 634.3C631.6 634.7 624.2 638.0 616.8 639.3C609.4 640.5 600.2 641.0 592.0 641.8C583.8 642.6 575.5 643.4 567.3 644.2C559.0 645.0 550.8 645.9 542.5 646.7C534.2 647.5 526.0 648.6 517.8 649.2C509.5 649.8 504.6 650.2 493.0 650.4C481.4 650.6 464.2 650.6 448.5 650.4C432.8 650.2 415.5 649.8 399.0 649.2C382.5 648.6 366.0 648.2 349.5 646.7C333.0 645.2 310.5 642.2 300.0 640.5C289.5 638.8 292.4 638.1 286.6 636.5C280.8 634.9 271.3 633.3 265.0 631.1C258.7 628.9 252.9 626.5 248.9 623.1C244.9 619.7 241.2 615.0 240.8 610.9Z"/>
<path d="M385.4 602.2C386.4 600.2 390.9 597.7 395.0 596.0C399.1 594.3 404.4 592.8 410.0 592.0C415.6 591.2 422.3 591.2 428.7 591.0C435.1 590.8 441.5 591.2 448.5 591.0C455.5 590.8 466.3 590.8 470.8 589.8C475.3 588.8 470.8 585.7 475.7 584.8C480.6 583.9 494.6 583.9 500.0 584.3C505.4 584.7 504.1 586.0 507.9 587.3C511.7 588.6 519.0 590.2 522.7 592.3C526.4 594.4 527.6 596.8 530.1 599.7C532.6 602.6 534.7 606.7 537.6 609.6C540.5 612.5 547.5 615.4 547.5 617.0C547.5 618.6 542.6 619.7 537.6 619.5C532.6 619.3 525.2 616.6 517.8 615.8C510.4 615.0 500.4 614.8 493.0 614.5C485.6 614.2 480.7 614.2 473.3 614.0C465.9 613.8 456.8 613.6 448.5 613.3C440.2 613.0 431.2 612.5 423.8 612.1C416.4 611.7 408.8 611.8 404.0 610.8C399.2 609.8 397.8 606.3 395.3 605.9C392.8 605.5 390.8 608.9 389.1 608.3C387.5 607.7 384.4 604.2 385.4 602.2Z"/>
<path d="M552.0 624.0C552.8 622.4 561.2 619.4 565.0 619.0C568.8 618.6 573.8 620.1 575.0 621.5C576.2 622.9 574.5 626.3 572.0 627.5C569.5 628.7 563.3 629.1 560.0 628.5C556.7 627.9 551.2 625.6 552.0 624.0Z"/>
<path d="M700.0 598.0C698.8 598.3 696.1 599.0 693.0 599.7C689.9 600.4 683.9 600.6 681.1 602.2C678.3 603.9 677.2 607.3 676.2 609.6C675.2 611.9 674.9 613.9 675.0 616.0C675.1 618.1 676.7 621.0 677.0 622.0"/>
</g>
<circle cx="616.8" cy="624.4" r="2.6" fill="#fff"/>
<circle cx="592.0" cy="631.9" r="2.8" fill="#fff"/>
<text x="359.6" y="565.7" font-size="15.5" fill="#fff" text-anchor="middle" textLength="45" lengthAdjust="spacingAndGlyphs" transform="rotate(-5 359.6 560.2)">16750</text>
<text x="406.6" y="598.5" font-size="15.5" fill="#fff" text-anchor="middle" textLength="45" lengthAdjust="spacingAndGlyphs" transform="rotate(-20 406.6 593.0)">16800</text>
<text x="563.5" y="551.1" font-size="15.5" fill="#fff" text-anchor="middle" textLength="46" lengthAdjust="spacingAndGlyphs" transform="rotate(-5 563.5 545.6)">16700</text>
<text x="540.0" y="699.7" font-size="15.5" fill="#fff" text-anchor="middle" textLength="45" lengthAdjust="spacingAndGlyphs" transform="rotate(0 540 694.2)">16650</text>
<rect x="472" y="538" width="126" height="62" fill="none" stroke="#f00" stroke-width="1.6"/>
</svg>
<rect x="86.9" y="524.3" width="25.8" height="33" fill="#fff" stroke="#000" stroke-width="1.4"/><text x="99.7" y="546.9" font-size="18" text-anchor="middle" textLength="8.4" lengthAdjust="spacingAndGlyphs" fill="#111">c</text>
<rect x="63.1" y="518.7" width="629.70" height="188.7" fill="none" stroke="#000" stroke-width="1.6"/>
<line x1="56.6" y1="518.70" x2="63.1" y2="518.70" stroke="#000" stroke-width="1.4"/>
<text x="48.5" y="524.60" font-size="16.5" text-anchor="end" textLength="13.7" lengthAdjust="spacingAndGlyphs" fill="#222">45</text>
<line x1="56.6" y1="613.05" x2="63.1" y2="613.05" stroke="#000" stroke-width="1.4"/>
<text x="48.5" y="618.95" font-size="16.5" text-anchor="end" textLength="13.7" lengthAdjust="spacingAndGlyphs" fill="#222">30</text>
<line x1="56.6" y1="707.40" x2="63.1" y2="707.40" stroke="#000" stroke-width="1.4"/>
<text x="48.5" y="713.30" font-size="16.5" text-anchor="end" textLength="13.7" lengthAdjust="spacingAndGlyphs" fill="#222">15</text>
<text transform="translate(24.8,618.4) rotate(-90)" font-size="19" text-anchor="middle" textLength="24" lengthAdjust="spacingAndGlyphs" fill="#222">lat</text>
<line x1="220.52" y1="707.4000000000001" x2="220.52" y2="713.9000000000001" stroke="#000" stroke-width="1.4"/>
<text x="220.52" y="733.4" font-size="14.5" text-anchor="middle" textLength="13.5" lengthAdjust="spacingAndGlyphs" fill="#222">30</text>
<line x1="409.44" y1="707.4000000000001" x2="409.44" y2="713.9000000000001" stroke="#000" stroke-width="1.4"/>
<text x="409.44" y="733.4" font-size="14.5" text-anchor="middle" textLength="13.5" lengthAdjust="spacingAndGlyphs" fill="#222">60</text>
<line x1="598.35" y1="707.4000000000001" x2="598.35" y2="713.9000000000001" stroke="#000" stroke-width="1.4"/>
<text x="598.35" y="733.4" font-size="14.5" text-anchor="middle" textLength="13.5" lengthAdjust="spacingAndGlyphs" fill="#222">90</text>
<text x="379" y="757" font-size="19" text-anchor="middle" textLength="25" lengthAdjust="spacingAndGlyphs" fill="#222">lon</text>
<polygon points="743.7,68.0 774.9,68.0 759.30,38.2" fill="#800000"/>
<polygon points="743.7,677.5 774.9,677.5 759.30,707.5" fill="#000080"/>
<rect x="743.7" y="645.42" width="31.20" height="32.48" fill="#00009b"/>
<rect x="743.7" y="613.34" width="31.20" height="32.48" fill="#0000da"/>
<rect x="743.7" y="581.26" width="31.20" height="32.48" fill="#0004ff"/>
<rect x="743.7" y="549.18" width="31.20" height="32.48" fill="#003cff"/>
<rect x="743.7" y="517.11" width="31.20" height="32.48" fill="#0070ff"/>
<rect x="743.7" y="485.03" width="31.20" height="32.48" fill="#00a8ff"/>
<rect x="743.7" y="452.95" width="31.20" height="32.48" fill="#00dcfe"/>
<rect x="743.7" y="420.87" width="31.20" height="32.48" fill="#26ffd1"/>
<rect x="743.7" y="388.79" width="31.20" height="32.48" fill="#50ffa7"/>
<rect x="743.7" y="356.71" width="31.20" height="32.48" fill="#7dff7a"/>
<rect x="743.7" y="324.63" width="31.20" height="32.48" fill="#a7ff50"/>
<rect x="743.7" y="292.55" width="31.20" height="32.48" fill="#d1ff26"/>
<rect x="743.7" y="260.47" width="31.20" height="32.48" fill="#feed00"/>
<rect x="743.7" y="228.39" width="31.20" height="32.48" fill="#ffbd00"/>
<rect x="743.7" y="196.32" width="31.20" height="32.48" fill="#ff8900"/>
<rect x="743.7" y="164.24" width="31.20" height="32.48" fill="#ff5900"/>
<rect x="743.7" y="132.16" width="31.20" height="32.48" fill="#ff2500"/>
<rect x="743.7" y="100.08" width="31.20" height="32.48" fill="#da0000"/>
<rect x="743.7" y="68.00" width="31.20" height="32.48" fill="#9b0000"/>
<path d="M743.7,68.0 L759.30,38.2 L774.9,68.0 L774.9,677.5 L759.30,707.5 L743.7,677.5 Z" fill="none" stroke="#000" stroke-width="1"/>
<line x1="774.9" y1="677.50" x2="781.4" y2="677.50" stroke="#000" stroke-width="1"/>
<text x="790.2" y="686.10" font-size="20" textLength="41.5" lengthAdjust="spacingAndGlyphs" fill="#222">3.13</text>
<text x="845.1" y="689.50" font-size="27" text-anchor="middle" fill="#222">×</text>
<text x="858.4" y="686.10" font-size="20" textLength="22.3" lengthAdjust="spacingAndGlyphs" fill="#222">10</text>
<text x="882.6" y="678.00" font-size="14" textLength="19.2" lengthAdjust="spacingAndGlyphs" fill="#222">−4</text>
<line x1="774.9" y1="613.34" x2="781.4" y2="613.34" stroke="#000" stroke-width="1"/>
<text x="790.2" y="621.94" font-size="20" textLength="41.5" lengthAdjust="spacingAndGlyphs" fill="#222">3.38</text>
<text x="845.1" y="625.34" font-size="27" text-anchor="middle" fill="#222">×</text>
<text x="858.4" y="621.94" font-size="20" textLength="22.3" lengthAdjust="spacingAndGlyphs" fill="#222">10</text>
<text x="882.6" y="613.84" font-size="14" textLength="19.2" lengthAdjust="spacingAndGlyphs" fill="#222">−4</text>
<line x1="774.9" y1="549.18" x2="781.4" y2="549.18" stroke="#000" stroke-width="1"/>
<text x="790.2" y="557.78" font-size="20" textLength="41.5" lengthAdjust="spacingAndGlyphs" fill="#222">3.62</text>
<text x="845.1" y="561.18" font-size="27" text-anchor="middle" fill="#222">×</text>
<text x="858.4" y="557.78" font-size="20" textLength="22.3" lengthAdjust="spacingAndGlyphs" fill="#222">10</text>
<text x="882.6" y="549.68" font-size="14" textLength="19.2" lengthAdjust="spacingAndGlyphs" fill="#222">−4</text>
<line x1="774.9" y1="485.03" x2="781.4" y2="485.03" stroke="#000" stroke-width="1"/>
<text x="790.2" y="493.63" font-size="20" textLength="41.5" lengthAdjust="spacingAndGlyphs" fill="#222">3.85</text>
<text x="845.1" y="497.03" font-size="27" text-anchor="middle" fill="#222">×</text>
<text x="858.4" y="493.63" font-size="20" textLength="22.3" lengthAdjust="spacingAndGlyphs" fill="#222">10</text>
<text x="882.6" y="485.53" font-size="14" textLength="19.2" lengthAdjust="spacingAndGlyphs" fill="#222">−4</text>
<line x1="774.9" y1="420.87" x2="781.4" y2="420.87" stroke="#000" stroke-width="1"/>
<text x="790.2" y="429.47" font-size="20" textLength="41.5" lengthAdjust="spacingAndGlyphs" fill="#222">4.09</text>
<text x="845.1" y="432.87" font-size="27" text-anchor="middle" fill="#222">×</text>
<text x="858.4" y="429.47" font-size="20" textLength="22.3" lengthAdjust="spacingAndGlyphs" fill="#222">10</text>
<text x="882.6" y="421.37" font-size="14" textLength="19.2" lengthAdjust="spacingAndGlyphs" fill="#222">−4</text>
<line x1="774.9" y1="356.71" x2="781.4" y2="356.71" stroke="#000" stroke-width="1"/>
<text x="790.2" y="365.31" font-size="20" textLength="41.5" lengthAdjust="spacingAndGlyphs" fill="#222">4.34</text>
<text x="845.1" y="368.71" font-size="27" text-anchor="middle" fill="#222">×</text>
<text x="858.4" y="365.31" font-size="20" textLength="22.3" lengthAdjust="spacingAndGlyphs" fill="#222">10</text>
<text x="882.6" y="357.21" font-size="14" textLength="19.2" lengthAdjust="spacingAndGlyphs" fill="#222">−4</text>
<line x1="774.9" y1="292.55" x2="781.4" y2="292.55" stroke="#000" stroke-width="1"/>
<text x="790.2" y="301.15" font-size="20" textLength="41.5" lengthAdjust="spacingAndGlyphs" fill="#222">4.57</text>
<text x="845.1" y="304.55" font-size="27" text-anchor="middle" fill="#222">×</text>
<text x="858.4" y="301.15" font-size="20" textLength="22.3" lengthAdjust="spacingAndGlyphs" fill="#222">10</text>
<text x="882.6" y="293.05" font-size="14" textLength="19.2" lengthAdjust="spacingAndGlyphs" fill="#222">−4</text>
<line x1="774.9" y1="228.39" x2="781.4" y2="228.39" stroke="#000" stroke-width="1"/>
<text x="790.2" y="236.99" font-size="20" textLength="41.5" lengthAdjust="spacingAndGlyphs" fill="#222">4.81</text>
<text x="845.1" y="240.39" font-size="27" text-anchor="middle" fill="#222">×</text>
<text x="858.4" y="236.99" font-size="20" textLength="22.3" lengthAdjust="spacingAndGlyphs" fill="#222">10</text>
<text x="882.6" y="228.89" font-size="14" textLength="19.2" lengthAdjust="spacingAndGlyphs" fill="#222">−4</text>
<line x1="774.9" y1="164.24" x2="781.4" y2="164.24" stroke="#000" stroke-width="1"/>
<text x="790.2" y="172.84" font-size="20" textLength="41.5" lengthAdjust="spacingAndGlyphs" fill="#222">5.05</text>
<text x="845.1" y="176.24" font-size="27" text-anchor="middle" fill="#222">×</text>
<text x="858.4" y="172.84" font-size="20" textLength="22.3" lengthAdjust="spacingAndGlyphs" fill="#222">10</text>
<text x="882.6" y="164.74" font-size="14" textLength="19.2" lengthAdjust="spacingAndGlyphs" fill="#222">−4</text>
<line x1="774.9" y1="100.08" x2="781.4" y2="100.08" stroke="#000" stroke-width="1"/>
<text x="790.2" y="108.68" font-size="20" textLength="41.5" lengthAdjust="spacingAndGlyphs" fill="#222">5.30</text>
<text x="845.1" y="112.08" font-size="27" text-anchor="middle" fill="#222">×</text>
<text x="858.4" y="108.68" font-size="20" textLength="22.3" lengthAdjust="spacingAndGlyphs" fill="#222">10</text>
<text x="882.6" y="100.58" font-size="14" textLength="19.2" lengthAdjust="spacingAndGlyphs" fill="#222">−4</text>
<text x="776" y="28.7" font-size="20" textLength="23" lengthAdjust="spacingAndGlyphs" fill="#222">10</text>
<text x="805.5" y="28.7" font-size="20" font-style="italic" textLength="18.5" lengthAdjust="spacingAndGlyphs" fill="#222">m</text>
<text x="831.5" y="28.7" font-size="20" font-style="italic" textLength="11" lengthAdjust="spacingAndGlyphs" fill="#222">s</text>
<text x="844.5" y="20.7" font-size="14" textLength="18.3" lengthAdjust="spacingAndGlyphs" fill="#222">−1</text>
<path d="M806.5,46.8 L823,46.8" stroke="#333" stroke-width="1.3"/>
<path d="M829.8,46.8 L820.5,42.6 L823,46.8 L820.5,51 Z" fill="#333"/>
<text x="745" y="728.6" font-size="19.5" font-style="italic" textLength="29.5" lengthAdjust="spacingAndGlyphs" fill="#222">km</text>
<text x="777" y="722.3" font-size="13.5" textLength="17.3" lengthAdjust="spacingAndGlyphs" fill="#222">−1</text>
<text x="804" y="728.6" font-size="19.5" font-style="italic" textLength="91.7" lengthAdjust="spacingAndGlyphs" fill="#222">steradian</text>
<text x="898.7" y="722.3" font-size="13.5" textLength="18.5" lengthAdjust="spacingAndGlyphs" fill="#222">−1</text>
</svg>
</body></html>
